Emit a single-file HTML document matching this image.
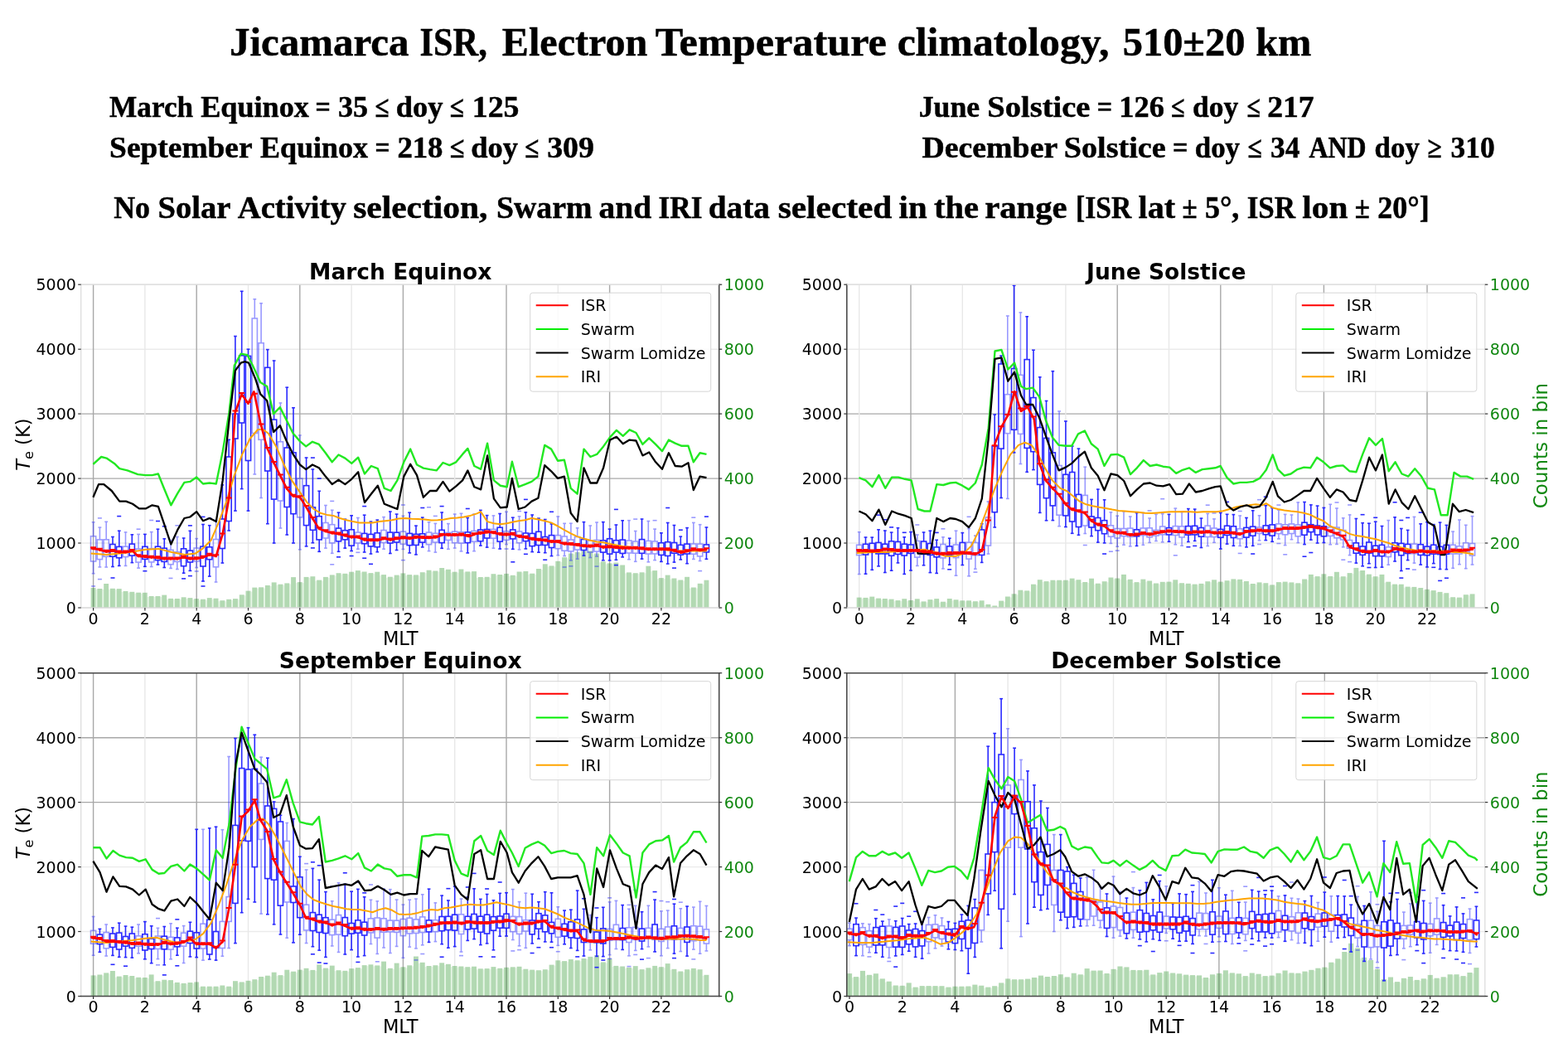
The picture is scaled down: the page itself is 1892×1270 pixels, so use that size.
<!DOCTYPE html>
<html><head><meta charset="utf-8"><title>Jicamarca ISR Electron Temperature climatology</title>
<style>html,body{margin:0;padding:0;background:#fff;}svg{display:block;}</style></head>
<body><svg width="1892" height="1270" viewBox="0 0 1892 1270">
<rect width="1892" height="1270" fill="#fff"/>
<text x="276.9" y="67" font-family='"Liberation Serif", "DejaVu Serif", serif' font-size="48.5" font-weight="bold" fill="#000" text-anchor="start" textLength="216.7" lengthAdjust="spacingAndGlyphs" stroke="#000" stroke-width="0.5">Jicamarca</text>
<text x="506.4" y="67" font-family='"Liberation Serif", "DejaVu Serif", serif' font-size="48.5" font-weight="bold" fill="#000" text-anchor="start" textLength="81.4" lengthAdjust="spacingAndGlyphs" stroke="#000" stroke-width="0.5">ISR,</text>
<text x="605.8" y="67" font-family='"Liberation Serif", "DejaVu Serif", serif' font-size="48.5" font-weight="bold" fill="#000" text-anchor="start" textLength="175.6" lengthAdjust="spacingAndGlyphs" stroke="#000" stroke-width="0.5">Electron</text>
<text x="790.7" y="67" font-family='"Liberation Serif", "DejaVu Serif", serif' font-size="48.5" font-weight="bold" fill="#000" text-anchor="start" textLength="279.2" lengthAdjust="spacingAndGlyphs" stroke="#000" stroke-width="0.5">Temperature</text>
<text x="1082.7" y="67" font-family='"Liberation Serif", "DejaVu Serif", serif' font-size="48.5" font-weight="bold" fill="#000" text-anchor="start" textLength="255.7" lengthAdjust="spacingAndGlyphs" stroke="#000" stroke-width="0.5">climatology,</text>
<text x="1354.7" y="67" font-family='"Liberation Serif", "DejaVu Serif", serif' font-size="48.5" font-weight="bold" fill="#000" text-anchor="start" textLength="147.7" lengthAdjust="spacingAndGlyphs" stroke="#000" stroke-width="0.5">510±20</text>
<text x="1515.2" y="67" font-family='"Liberation Serif", "DejaVu Serif", serif' font-size="48.5" font-weight="bold" fill="#000" text-anchor="start" textLength="67.2" lengthAdjust="spacingAndGlyphs" stroke="#000" stroke-width="0.5">km</text>
<text x="132.1" y="141" font-family='"Liberation Serif", "DejaVu Serif", serif' font-size="35.5" font-weight="bold" fill="#000" text-anchor="start" textLength="101.1" lengthAdjust="spacingAndGlyphs" stroke="#000" stroke-width="0.5">March</text>
<text x="242.2" y="141" font-family='"Liberation Serif", "DejaVu Serif", serif' font-size="35.5" font-weight="bold" fill="#000" text-anchor="start" textLength="130.6" lengthAdjust="spacingAndGlyphs" stroke="#000" stroke-width="0.5">Equinox</text>
<text x="380.5" y="141" font-family='"Liberation Serif", "DejaVu Serif", serif' font-size="35.5" font-weight="bold" fill="#000" text-anchor="start" textLength="18.3" lengthAdjust="spacingAndGlyphs" stroke="#000" stroke-width="0.5">=</text>
<text x="408.1" y="141" font-family='"Liberation Serif", "DejaVu Serif", serif' font-size="35.5" font-weight="bold" fill="#000" text-anchor="start" textLength="36.0" lengthAdjust="spacingAndGlyphs" stroke="#000" stroke-width="0.5">35</text>
<text x="452.5" y="141" font-family='"Liberation Serif", "DejaVu Serif", serif' font-size="35.5" font-weight="bold" fill="#000" text-anchor="start" textLength="17.0" lengthAdjust="spacingAndGlyphs" stroke="#000" stroke-width="0.5">≤</text>
<text x="477.8" y="141" font-family='"Liberation Serif", "DejaVu Serif", serif' font-size="35.5" font-weight="bold" fill="#000" text-anchor="start" textLength="56.7" lengthAdjust="spacingAndGlyphs" stroke="#000" stroke-width="0.5">doy</text>
<text x="542.8" y="141" font-family='"Liberation Serif", "DejaVu Serif", serif' font-size="35.5" font-weight="bold" fill="#000" text-anchor="start" textLength="17.1" lengthAdjust="spacingAndGlyphs" stroke="#000" stroke-width="0.5">≤</text>
<text x="569.8" y="141" font-family='"Liberation Serif", "DejaVu Serif", serif' font-size="35.5" font-weight="bold" fill="#000" text-anchor="start" textLength="56.7" lengthAdjust="spacingAndGlyphs" stroke="#000" stroke-width="0.5">125</text>
<text x="132.1" y="189.6" font-family='"Liberation Serif", "DejaVu Serif", serif' font-size="35.5" font-weight="bold" fill="#000" text-anchor="start" textLength="172.5" lengthAdjust="spacingAndGlyphs" stroke="#000" stroke-width="0.5">September</text>
<text x="313.9" y="189.6" font-family='"Liberation Serif", "DejaVu Serif", serif' font-size="35.5" font-weight="bold" fill="#000" text-anchor="start" textLength="130.2" lengthAdjust="spacingAndGlyphs" stroke="#000" stroke-width="0.5">Equinox</text>
<text x="452.5" y="189.6" font-family='"Liberation Serif", "DejaVu Serif", serif' font-size="35.5" font-weight="bold" fill="#000" text-anchor="start" textLength="18.0" lengthAdjust="spacingAndGlyphs" stroke="#000" stroke-width="0.5">=</text>
<text x="479.4" y="189.6" font-family='"Liberation Serif", "DejaVu Serif", serif' font-size="35.5" font-weight="bold" fill="#000" text-anchor="start" textLength="55.1" lengthAdjust="spacingAndGlyphs" stroke="#000" stroke-width="0.5">218</text>
<text x="542.8" y="189.6" font-family='"Liberation Serif", "DejaVu Serif", serif' font-size="35.5" font-weight="bold" fill="#000" text-anchor="start" textLength="17.7" lengthAdjust="spacingAndGlyphs" stroke="#000" stroke-width="0.5">≤</text>
<text x="568.2" y="189.6" font-family='"Liberation Serif", "DejaVu Serif", serif' font-size="35.5" font-weight="bold" fill="#000" text-anchor="start" textLength="56.7" lengthAdjust="spacingAndGlyphs" stroke="#000" stroke-width="0.5">doy</text>
<text x="633.2" y="189.6" font-family='"Liberation Serif", "DejaVu Serif", serif' font-size="35.5" font-weight="bold" fill="#000" text-anchor="start" textLength="17.1" lengthAdjust="spacingAndGlyphs" stroke="#000" stroke-width="0.5">≤</text>
<text x="660.2" y="189.6" font-family='"Liberation Serif", "DejaVu Serif", serif' font-size="35.5" font-weight="bold" fill="#000" text-anchor="start" textLength="56.7" lengthAdjust="spacingAndGlyphs" stroke="#000" stroke-width="0.5">309</text>
<text x="1108.7" y="141" font-family='"Liberation Serif", "DejaVu Serif", serif' font-size="35.5" font-weight="bold" fill="#000" text-anchor="start" textLength="73.5" lengthAdjust="spacingAndGlyphs" stroke="#000" stroke-width="0.5">June</text>
<text x="1191.3" y="141" font-family='"Liberation Serif", "DejaVu Serif", serif' font-size="35.5" font-weight="bold" fill="#000" text-anchor="start" textLength="124.1" lengthAdjust="spacingAndGlyphs" stroke="#000" stroke-width="0.5">Solstice</text>
<text x="1323.7" y="141" font-family='"Liberation Serif", "DejaVu Serif", serif' font-size="35.5" font-weight="bold" fill="#000" text-anchor="start" textLength="18.3" lengthAdjust="spacingAndGlyphs" stroke="#000" stroke-width="0.5">=</text>
<text x="1350.3" y="141" font-family='"Liberation Serif", "DejaVu Serif", serif' font-size="35.5" font-weight="bold" fill="#000" text-anchor="start" textLength="54.5" lengthAdjust="spacingAndGlyphs" stroke="#000" stroke-width="0.5">126</text>
<text x="1413.1" y="141" font-family='"Liberation Serif", "DejaVu Serif", serif' font-size="35.5" font-weight="bold" fill="#000" text-anchor="start" textLength="16.5" lengthAdjust="spacingAndGlyphs" stroke="#000" stroke-width="0.5">≤</text>
<text x="1439" y="141" font-family='"Liberation Serif", "DejaVu Serif", serif' font-size="35.5" font-weight="bold" fill="#000" text-anchor="start" textLength="55.2" lengthAdjust="spacingAndGlyphs" stroke="#000" stroke-width="0.5">doy</text>
<text x="1504.5" y="141" font-family='"Liberation Serif", "DejaVu Serif", serif' font-size="35.5" font-weight="bold" fill="#000" text-anchor="start" textLength="16.4" lengthAdjust="spacingAndGlyphs" stroke="#000" stroke-width="0.5">≤</text>
<text x="1529.2" y="141" font-family='"Liberation Serif", "DejaVu Serif", serif' font-size="35.5" font-weight="bold" fill="#000" text-anchor="start" textLength="56.4" lengthAdjust="spacingAndGlyphs" stroke="#000" stroke-width="0.5">217</text>
<text x="1112.5" y="189.6" font-family='"Liberation Serif", "DejaVu Serif", serif' font-size="35.5" font-weight="bold" fill="#000" text-anchor="start" textLength="163.7" lengthAdjust="spacingAndGlyphs" stroke="#000" stroke-width="0.5">December</text>
<text x="1283.8" y="189.6" font-family='"Liberation Serif", "DejaVu Serif", serif' font-size="35.5" font-weight="bold" fill="#000" text-anchor="start" textLength="122.9" lengthAdjust="spacingAndGlyphs" stroke="#000" stroke-width="0.5">Solstice</text>
<text x="1415" y="189.6" font-family='"Liberation Serif", "DejaVu Serif", serif' font-size="35.5" font-weight="bold" fill="#000" text-anchor="start" textLength="18.4" lengthAdjust="spacingAndGlyphs" stroke="#000" stroke-width="0.5">=</text>
<text x="1441.7" y="189.6" font-family='"Liberation Serif", "DejaVu Serif", serif' font-size="35.5" font-weight="bold" fill="#000" text-anchor="start" textLength="54.4" lengthAdjust="spacingAndGlyphs" stroke="#000" stroke-width="0.5">doy</text>
<text x="1505.6" y="189.6" font-family='"Liberation Serif", "DejaVu Serif", serif' font-size="35.5" font-weight="bold" fill="#000" text-anchor="start" textLength="17.2" lengthAdjust="spacingAndGlyphs" stroke="#000" stroke-width="0.5">≤</text>
<text x="1533" y="189.6" font-family='"Liberation Serif", "DejaVu Serif", serif' font-size="35.5" font-weight="bold" fill="#000" text-anchor="start" textLength="35.4" lengthAdjust="spacingAndGlyphs" stroke="#000" stroke-width="0.5">34</text>
<text x="1579.4" y="189.6" font-family='"Liberation Serif", "DejaVu Serif", serif' font-size="35.5" font-weight="bold" fill="#000" text-anchor="start" textLength="69.0" lengthAdjust="spacingAndGlyphs" stroke="#000" stroke-width="0.5">AND</text>
<text x="1658.6" y="189.6" font-family='"Liberation Serif", "DejaVu Serif", serif' font-size="35.5" font-weight="bold" fill="#000" text-anchor="start" textLength="54.4" lengthAdjust="spacingAndGlyphs" stroke="#000" stroke-width="0.5">doy</text>
<text x="1722.5" y="189.6" font-family='"Liberation Serif", "DejaVu Serif", serif' font-size="35.5" font-weight="bold" fill="#000" text-anchor="start" textLength="17.2" lengthAdjust="spacingAndGlyphs" stroke="#000" stroke-width="0.5">≥</text>
<text x="1750.6" y="189.6" font-family='"Liberation Serif", "DejaVu Serif", serif' font-size="35.5" font-weight="bold" fill="#000" text-anchor="start" textLength="53.0" lengthAdjust="spacingAndGlyphs" stroke="#000" stroke-width="0.5">310</text>
<text x="137.2" y="262.8" font-family='"Liberation Serif", "DejaVu Serif", serif' font-size="37.5" font-weight="bold" fill="#000" text-anchor="start" textLength="43.9" lengthAdjust="spacingAndGlyphs" stroke="#000" stroke-width="0.5">No</text>
<text x="190.5" y="262.8" font-family='"Liberation Serif", "DejaVu Serif", serif' font-size="37.5" font-weight="bold" fill="#000" text-anchor="start" textLength="87.9" lengthAdjust="spacingAndGlyphs" stroke="#000" stroke-width="0.5">Solar</text>
<text x="286.7" y="262.8" font-family='"Liberation Serif", "DejaVu Serif", serif' font-size="37.5" font-weight="bold" fill="#000" text-anchor="start" textLength="131.2" lengthAdjust="spacingAndGlyphs" stroke="#000" stroke-width="0.5">Activity</text>
<text x="426.2" y="262.8" font-family='"Liberation Serif", "DejaVu Serif", serif' font-size="37.5" font-weight="bold" fill="#000" text-anchor="start" textLength="162.3" lengthAdjust="spacingAndGlyphs" stroke="#000" stroke-width="0.5">selection,</text>
<text x="599" y="262.8" font-family='"Liberation Serif", "DejaVu Serif", serif' font-size="37.5" font-weight="bold" fill="#000" text-anchor="start" textLength="115.4" lengthAdjust="spacingAndGlyphs" stroke="#000" stroke-width="0.5">Swarm</text>
<text x="722.6" y="262.8" font-family='"Liberation Serif", "DejaVu Serif", serif' font-size="37.5" font-weight="bold" fill="#000" text-anchor="start" textLength="63.6" lengthAdjust="spacingAndGlyphs" stroke="#000" stroke-width="0.5">and</text>
<text x="794.5" y="262.8" font-family='"Liberation Serif", "DejaVu Serif", serif' font-size="37.5" font-weight="bold" fill="#000" text-anchor="start" textLength="53.0" lengthAdjust="spacingAndGlyphs" stroke="#000" stroke-width="0.5">IRI</text>
<text x="854.8" y="262.8" font-family='"Liberation Serif", "DejaVu Serif", serif' font-size="37.5" font-weight="bold" fill="#000" text-anchor="start" textLength="74.1" lengthAdjust="spacingAndGlyphs" stroke="#000" stroke-width="0.5">data</text>
<text x="938.7" y="262.8" font-family='"Liberation Serif", "DejaVu Serif", serif' font-size="37.5" font-weight="bold" fill="#000" text-anchor="start" textLength="137.6" lengthAdjust="spacingAndGlyphs" stroke="#000" stroke-width="0.5">selected</text>
<text x="1084.6" y="262.8" font-family='"Liberation Serif", "DejaVu Serif", serif' font-size="37.5" font-weight="bold" fill="#000" text-anchor="start" textLength="34.0" lengthAdjust="spacingAndGlyphs" stroke="#000" stroke-width="0.5">in</text>
<text x="1126.9" y="262.8" font-family='"Liberation Serif", "DejaVu Serif", serif' font-size="37.5" font-weight="bold" fill="#000" text-anchor="start" textLength="54.0" lengthAdjust="spacingAndGlyphs" stroke="#000" stroke-width="0.5">the</text>
<text x="1188.2" y="262.8" font-family='"Liberation Serif", "DejaVu Serif", serif' font-size="37.5" font-weight="bold" fill="#000" text-anchor="start" textLength="99.5" lengthAdjust="spacingAndGlyphs" stroke="#000" stroke-width="0.5">range</text>
<text x="1298.1" y="262.8" font-family='"Liberation Serif", "DejaVu Serif", serif' font-size="37.5" font-weight="bold" fill="#000" text-anchor="start" textLength="67.2" lengthAdjust="spacingAndGlyphs" stroke="#000" stroke-width="0.5">[ISR</text>
<text x="1373.6" y="262.8" font-family='"Liberation Serif", "DejaVu Serif", serif' font-size="37.5" font-weight="bold" fill="#000" text-anchor="start" textLength="44.5" lengthAdjust="spacingAndGlyphs" stroke="#000" stroke-width="0.5">lat</text>
<text x="1426.5" y="262.8" font-family='"Liberation Serif", "DejaVu Serif", serif' font-size="37.5" font-weight="bold" fill="#000" text-anchor="start" textLength="18.1" lengthAdjust="spacingAndGlyphs" stroke="#000" stroke-width="0.5">±</text>
<text x="1453.9" y="262.8" font-family='"Liberation Serif", "DejaVu Serif", serif' font-size="37.5" font-weight="bold" fill="#000" text-anchor="start" textLength="41.4" lengthAdjust="spacingAndGlyphs" stroke="#000" stroke-width="0.5">5°,</text>
<text x="1504.7" y="262.8" font-family='"Liberation Serif", "DejaVu Serif", serif' font-size="37.5" font-weight="bold" fill="#000" text-anchor="start" textLength="58.3" lengthAdjust="spacingAndGlyphs" stroke="#000" stroke-width="0.5">ISR</text>
<text x="1571.3" y="262.8" font-family='"Liberation Serif", "DejaVu Serif", serif' font-size="37.5" font-weight="bold" fill="#000" text-anchor="start" textLength="55.1" lengthAdjust="spacingAndGlyphs" stroke="#000" stroke-width="0.5">lon</text>
<text x="1634.7" y="262.8" font-family='"Liberation Serif", "DejaVu Serif", serif' font-size="37.5" font-weight="bold" fill="#000" text-anchor="start" textLength="18.1" lengthAdjust="spacingAndGlyphs" stroke="#000" stroke-width="0.5">±</text>
<text x="1662.2" y="262.8" font-family='"Liberation Serif", "DejaVu Serif", serif' font-size="37.5" font-weight="bold" fill="#000" text-anchor="start" textLength="62.5" lengthAdjust="spacingAndGlyphs" stroke="#000" stroke-width="0.5">20°]</text>
<line x1="97.7" y1="733" x2="867.7" y2="733" stroke="#ebebeb" stroke-width="1.4"/>
<line x1="97.7" y1="655" x2="867.7" y2="655" stroke="#ebebeb" stroke-width="1.4"/>
<line x1="97.7" y1="577.1" x2="867.7" y2="577.1" stroke="#a8a8a8" stroke-width="1.4"/>
<line x1="97.7" y1="499.1" x2="867.7" y2="499.1" stroke="#a8a8a8" stroke-width="1.4"/>
<line x1="97.7" y1="421.2" x2="867.7" y2="421.2" stroke="#ebebeb" stroke-width="1.4"/>
<line x1="97.7" y1="343.2" x2="867.7" y2="343.2" stroke="#ebebeb" stroke-width="1.4"/>
<line x1="112.6" y1="343.2" x2="112.6" y2="733" stroke="#a8a8a8" stroke-width="1.4"/>
<line x1="174.9" y1="343.2" x2="174.9" y2="733" stroke="#e8e8e8" stroke-width="1.4"/>
<line x1="237.2" y1="343.2" x2="237.2" y2="733" stroke="#a8a8a8" stroke-width="1.4"/>
<line x1="299.5" y1="343.2" x2="299.5" y2="733" stroke="#e8e8e8" stroke-width="1.4"/>
<line x1="361.8" y1="343.2" x2="361.8" y2="733" stroke="#a8a8a8" stroke-width="1.4"/>
<line x1="424.1" y1="343.2" x2="424.1" y2="733" stroke="#e8e8e8" stroke-width="1.4"/>
<line x1="486.4" y1="343.2" x2="486.4" y2="733" stroke="#a8a8a8" stroke-width="1.4"/>
<line x1="548.7" y1="343.2" x2="548.7" y2="733" stroke="#e8e8e8" stroke-width="1.4"/>
<line x1="611" y1="343.2" x2="611" y2="733" stroke="#a8a8a8" stroke-width="1.4"/>
<line x1="673.3" y1="343.2" x2="673.3" y2="733" stroke="#e8e8e8" stroke-width="1.4"/>
<line x1="735.6" y1="343.2" x2="735.6" y2="733" stroke="#a8a8a8" stroke-width="1.4"/>
<line x1="797.9" y1="343.2" x2="797.9" y2="733" stroke="#e8e8e8" stroke-width="1.4"/>
<rect x="109.6" y="709" width="5.9" height="24" fill="#008000" fill-opacity="0.3"/>
<rect x="115.6" y="711" width="1.9" height="22" fill="#00a000" fill-opacity="0.1"/>
<rect x="117.4" y="710" width="5.9" height="23" fill="#008000" fill-opacity="0.3"/>
<rect x="123.3" y="711" width="1.9" height="22" fill="#00a000" fill-opacity="0.1"/>
<rect x="125.2" y="704" width="5.9" height="29" fill="#008000" fill-opacity="0.3"/>
<rect x="131.1" y="710.8" width="1.9" height="22.2" fill="#00a000" fill-opacity="0.1"/>
<rect x="133" y="709.8" width="5.9" height="23.2" fill="#008000" fill-opacity="0.3"/>
<rect x="138.9" y="711.1" width="1.9" height="21.9" fill="#00a000" fill-opacity="0.1"/>
<rect x="140.8" y="710.1" width="5.9" height="22.9" fill="#008000" fill-opacity="0.3"/>
<rect x="146.7" y="714" width="1.9" height="19" fill="#00a000" fill-opacity="0.1"/>
<rect x="148.6" y="713" width="5.9" height="20" fill="#008000" fill-opacity="0.3"/>
<rect x="154.5" y="714.8" width="1.9" height="18.2" fill="#00a000" fill-opacity="0.1"/>
<rect x="156.4" y="713.8" width="5.9" height="19.2" fill="#008000" fill-opacity="0.3"/>
<rect x="162.3" y="715.7" width="1.9" height="17.3" fill="#00a000" fill-opacity="0.1"/>
<rect x="164.2" y="714.7" width="5.9" height="18.3" fill="#008000" fill-opacity="0.3"/>
<rect x="170.1" y="715.8" width="1.9" height="17.2" fill="#00a000" fill-opacity="0.1"/>
<rect x="171.9" y="714.8" width="5.9" height="18.2" fill="#008000" fill-opacity="0.3"/>
<rect x="177.9" y="720" width="1.9" height="13" fill="#00a000" fill-opacity="0.1"/>
<rect x="179.7" y="719" width="5.9" height="14" fill="#008000" fill-opacity="0.3"/>
<rect x="185.6" y="720" width="1.9" height="13" fill="#00a000" fill-opacity="0.1"/>
<rect x="187.5" y="719" width="5.9" height="14" fill="#008000" fill-opacity="0.3"/>
<rect x="193.4" y="720" width="1.9" height="13" fill="#00a000" fill-opacity="0.1"/>
<rect x="195.3" y="717.6" width="5.9" height="15.4" fill="#008000" fill-opacity="0.3"/>
<rect x="201.2" y="722.9" width="1.9" height="10.1" fill="#00a000" fill-opacity="0.1"/>
<rect x="203.1" y="721.9" width="5.9" height="11.1" fill="#008000" fill-opacity="0.3"/>
<rect x="209" y="723" width="1.9" height="10" fill="#00a000" fill-opacity="0.1"/>
<rect x="210.9" y="722" width="5.9" height="11" fill="#008000" fill-opacity="0.3"/>
<rect x="216.8" y="723" width="1.9" height="10" fill="#00a000" fill-opacity="0.1"/>
<rect x="218.7" y="720.3" width="5.9" height="12.7" fill="#008000" fill-opacity="0.3"/>
<rect x="224.6" y="722.1" width="1.9" height="10.9" fill="#00a000" fill-opacity="0.1"/>
<rect x="226.5" y="721.1" width="5.9" height="11.9" fill="#008000" fill-opacity="0.3"/>
<rect x="232.4" y="723.1" width="1.9" height="9.9" fill="#00a000" fill-opacity="0.1"/>
<rect x="234.2" y="722.1" width="5.9" height="10.9" fill="#008000" fill-opacity="0.3"/>
<rect x="240.2" y="723.7" width="1.9" height="9.3" fill="#00a000" fill-opacity="0.1"/>
<rect x="242" y="722.7" width="5.9" height="10.3" fill="#008000" fill-opacity="0.3"/>
<rect x="247.9" y="723.7" width="1.9" height="9.3" fill="#00a000" fill-opacity="0.1"/>
<rect x="249.8" y="721.1" width="5.9" height="11.9" fill="#008000" fill-opacity="0.3"/>
<rect x="255.7" y="722.7" width="1.9" height="10.3" fill="#00a000" fill-opacity="0.1"/>
<rect x="257.6" y="721.7" width="5.9" height="11.3" fill="#008000" fill-opacity="0.3"/>
<rect x="263.5" y="725.2" width="1.9" height="7.8" fill="#00a000" fill-opacity="0.1"/>
<rect x="265.4" y="724.2" width="5.9" height="8.8" fill="#008000" fill-opacity="0.3"/>
<rect x="271.3" y="725.2" width="1.9" height="7.8" fill="#00a000" fill-opacity="0.1"/>
<rect x="273.2" y="722.8" width="5.9" height="10.2" fill="#008000" fill-opacity="0.3"/>
<rect x="279.1" y="723.8" width="1.9" height="9.2" fill="#00a000" fill-opacity="0.1"/>
<rect x="281" y="722.1" width="5.9" height="10.9" fill="#008000" fill-opacity="0.3"/>
<rect x="286.9" y="723.1" width="1.9" height="9.9" fill="#00a000" fill-opacity="0.1"/>
<rect x="288.8" y="717.3" width="5.9" height="15.7" fill="#008000" fill-opacity="0.3"/>
<rect x="294.7" y="718.3" width="1.9" height="14.7" fill="#00a000" fill-opacity="0.1"/>
<rect x="296.5" y="712.6" width="5.9" height="20.4" fill="#008000" fill-opacity="0.3"/>
<rect x="302.5" y="713.6" width="1.9" height="19.4" fill="#00a000" fill-opacity="0.1"/>
<rect x="304.3" y="708.6" width="5.9" height="24.4" fill="#008000" fill-opacity="0.3"/>
<rect x="310.2" y="709.6" width="1.9" height="23.4" fill="#00a000" fill-opacity="0.1"/>
<rect x="312.1" y="708.3" width="5.9" height="24.7" fill="#008000" fill-opacity="0.3"/>
<rect x="318" y="709.3" width="1.9" height="23.7" fill="#00a000" fill-opacity="0.1"/>
<rect x="319.9" y="706" width="5.9" height="27" fill="#008000" fill-opacity="0.3"/>
<rect x="325.8" y="707" width="1.9" height="26" fill="#00a000" fill-opacity="0.1"/>
<rect x="327.7" y="702.4" width="5.9" height="30.6" fill="#008000" fill-opacity="0.3"/>
<rect x="333.6" y="705.7" width="1.9" height="27.3" fill="#00a000" fill-opacity="0.1"/>
<rect x="335.5" y="704.7" width="5.9" height="28.3" fill="#008000" fill-opacity="0.3"/>
<rect x="341.4" y="705.7" width="1.9" height="27.3" fill="#00a000" fill-opacity="0.1"/>
<rect x="343.3" y="703.4" width="5.9" height="29.6" fill="#008000" fill-opacity="0.3"/>
<rect x="349.2" y="704.4" width="1.9" height="28.6" fill="#00a000" fill-opacity="0.1"/>
<rect x="351.1" y="696.1" width="5.9" height="36.9" fill="#008000" fill-opacity="0.3"/>
<rect x="357" y="703.1" width="1.9" height="29.9" fill="#00a000" fill-opacity="0.1"/>
<rect x="358.8" y="702.1" width="5.9" height="30.9" fill="#008000" fill-opacity="0.3"/>
<rect x="364.8" y="703.1" width="1.9" height="29.9" fill="#00a000" fill-opacity="0.1"/>
<rect x="366.6" y="695.9" width="5.9" height="37.1" fill="#008000" fill-opacity="0.3"/>
<rect x="372.5" y="696.9" width="1.9" height="36.1" fill="#00a000" fill-opacity="0.1"/>
<rect x="374.4" y="695.2" width="5.9" height="37.8" fill="#008000" fill-opacity="0.3"/>
<rect x="380.3" y="700.6" width="1.9" height="32.4" fill="#00a000" fill-opacity="0.1"/>
<rect x="382.2" y="699.6" width="5.9" height="33.4" fill="#008000" fill-opacity="0.3"/>
<rect x="388.1" y="700.6" width="1.9" height="32.4" fill="#00a000" fill-opacity="0.1"/>
<rect x="390" y="695.9" width="5.9" height="37.1" fill="#008000" fill-opacity="0.3"/>
<rect x="395.9" y="696.9" width="1.9" height="36.1" fill="#00a000" fill-opacity="0.1"/>
<rect x="397.8" y="693.4" width="5.9" height="39.6" fill="#008000" fill-opacity="0.3"/>
<rect x="403.7" y="694.4" width="1.9" height="38.6" fill="#00a000" fill-opacity="0.1"/>
<rect x="405.6" y="691.2" width="5.9" height="41.8" fill="#008000" fill-opacity="0.3"/>
<rect x="411.5" y="692.8" width="1.9" height="40.2" fill="#00a000" fill-opacity="0.1"/>
<rect x="413.4" y="691.8" width="5.9" height="41.2" fill="#008000" fill-opacity="0.3"/>
<rect x="419.3" y="692.8" width="1.9" height="40.2" fill="#00a000" fill-opacity="0.1"/>
<rect x="421.1" y="689.7" width="5.9" height="43.3" fill="#008000" fill-opacity="0.3"/>
<rect x="427.1" y="690.7" width="1.9" height="42.3" fill="#00a000" fill-opacity="0.1"/>
<rect x="428.9" y="688.1" width="5.9" height="44.9" fill="#008000" fill-opacity="0.3"/>
<rect x="434.8" y="690.5" width="1.9" height="42.5" fill="#00a000" fill-opacity="0.1"/>
<rect x="436.7" y="689.5" width="5.9" height="43.5" fill="#008000" fill-opacity="0.3"/>
<rect x="442.6" y="692.1" width="1.9" height="40.9" fill="#00a000" fill-opacity="0.1"/>
<rect x="444.5" y="691.1" width="5.9" height="41.9" fill="#008000" fill-opacity="0.3"/>
<rect x="450.4" y="692.1" width="1.9" height="40.9" fill="#00a000" fill-opacity="0.1"/>
<rect x="452.3" y="689.7" width="5.9" height="43.3" fill="#008000" fill-opacity="0.3"/>
<rect x="458.2" y="694.1" width="1.9" height="38.9" fill="#00a000" fill-opacity="0.1"/>
<rect x="460.1" y="693.1" width="5.9" height="39.9" fill="#008000" fill-opacity="0.3"/>
<rect x="466" y="696.7" width="1.9" height="36.3" fill="#00a000" fill-opacity="0.1"/>
<rect x="467.9" y="695.7" width="5.9" height="37.3" fill="#008000" fill-opacity="0.3"/>
<rect x="473.8" y="696.7" width="1.9" height="36.3" fill="#00a000" fill-opacity="0.1"/>
<rect x="475.7" y="693.6" width="5.9" height="39.4" fill="#008000" fill-opacity="0.3"/>
<rect x="481.6" y="694.6" width="1.9" height="38.4" fill="#00a000" fill-opacity="0.1"/>
<rect x="483.4" y="691.4" width="5.9" height="41.6" fill="#008000" fill-opacity="0.3"/>
<rect x="489.4" y="694.1" width="1.9" height="38.9" fill="#00a000" fill-opacity="0.1"/>
<rect x="491.2" y="693.1" width="5.9" height="39.9" fill="#008000" fill-opacity="0.3"/>
<rect x="497.1" y="694.4" width="1.9" height="38.6" fill="#00a000" fill-opacity="0.1"/>
<rect x="499" y="693.4" width="5.9" height="39.6" fill="#008000" fill-opacity="0.3"/>
<rect x="504.9" y="694.4" width="1.9" height="38.6" fill="#00a000" fill-opacity="0.1"/>
<rect x="506.8" y="690.2" width="5.9" height="42.8" fill="#008000" fill-opacity="0.3"/>
<rect x="512.7" y="691.2" width="1.9" height="41.8" fill="#00a000" fill-opacity="0.1"/>
<rect x="514.6" y="687.7" width="5.9" height="45.3" fill="#008000" fill-opacity="0.3"/>
<rect x="520.5" y="689.5" width="1.9" height="43.5" fill="#00a000" fill-opacity="0.1"/>
<rect x="522.4" y="688.5" width="5.9" height="44.5" fill="#008000" fill-opacity="0.3"/>
<rect x="528.3" y="689.5" width="1.9" height="43.5" fill="#00a000" fill-opacity="0.1"/>
<rect x="530.2" y="685" width="5.9" height="48" fill="#008000" fill-opacity="0.3"/>
<rect x="536.1" y="687.8" width="1.9" height="45.2" fill="#00a000" fill-opacity="0.1"/>
<rect x="538" y="686.8" width="5.9" height="46.2" fill="#008000" fill-opacity="0.3"/>
<rect x="543.9" y="690.7" width="1.9" height="42.3" fill="#00a000" fill-opacity="0.1"/>
<rect x="545.7" y="689.7" width="5.9" height="43.3" fill="#008000" fill-opacity="0.3"/>
<rect x="551.7" y="690.7" width="1.9" height="42.3" fill="#00a000" fill-opacity="0.1"/>
<rect x="553.5" y="686.5" width="5.9" height="46.5" fill="#008000" fill-opacity="0.3"/>
<rect x="559.4" y="690.4" width="1.9" height="42.6" fill="#00a000" fill-opacity="0.1"/>
<rect x="561.3" y="689.4" width="5.9" height="43.6" fill="#008000" fill-opacity="0.3"/>
<rect x="567.2" y="690.4" width="1.9" height="42.6" fill="#00a000" fill-opacity="0.1"/>
<rect x="569.1" y="689.1" width="5.9" height="43.9" fill="#008000" fill-opacity="0.3"/>
<rect x="575" y="697" width="1.9" height="36" fill="#00a000" fill-opacity="0.1"/>
<rect x="576.9" y="696" width="5.9" height="37" fill="#008000" fill-opacity="0.3"/>
<rect x="582.8" y="697" width="1.9" height="36" fill="#00a000" fill-opacity="0.1"/>
<rect x="584.7" y="695.8" width="5.9" height="37.2" fill="#008000" fill-opacity="0.3"/>
<rect x="590.6" y="696.8" width="1.9" height="36.2" fill="#00a000" fill-opacity="0.1"/>
<rect x="592.5" y="692.2" width="5.9" height="40.8" fill="#008000" fill-opacity="0.3"/>
<rect x="598.4" y="694" width="1.9" height="39" fill="#00a000" fill-opacity="0.1"/>
<rect x="600.3" y="693" width="5.9" height="40" fill="#008000" fill-opacity="0.3"/>
<rect x="606.2" y="694" width="1.9" height="39" fill="#00a000" fill-opacity="0.1"/>
<rect x="608" y="691.9" width="5.9" height="41.1" fill="#008000" fill-opacity="0.3"/>
<rect x="614" y="694.8" width="1.9" height="38.2" fill="#00a000" fill-opacity="0.1"/>
<rect x="615.8" y="693.8" width="5.9" height="39.2" fill="#008000" fill-opacity="0.3"/>
<rect x="621.7" y="694.8" width="1.9" height="38.2" fill="#00a000" fill-opacity="0.1"/>
<rect x="623.6" y="689.5" width="5.9" height="43.5" fill="#008000" fill-opacity="0.3"/>
<rect x="629.5" y="690.5" width="1.9" height="42.5" fill="#00a000" fill-opacity="0.1"/>
<rect x="631.4" y="689" width="5.9" height="44" fill="#008000" fill-opacity="0.3"/>
<rect x="637.3" y="692.7" width="1.9" height="40.3" fill="#00a000" fill-opacity="0.1"/>
<rect x="639.2" y="691.7" width="5.9" height="41.3" fill="#008000" fill-opacity="0.3"/>
<rect x="645.1" y="692.7" width="1.9" height="40.3" fill="#00a000" fill-opacity="0.1"/>
<rect x="647" y="686" width="5.9" height="47" fill="#008000" fill-opacity="0.3"/>
<rect x="652.9" y="687" width="1.9" height="46" fill="#00a000" fill-opacity="0.1"/>
<rect x="654.8" y="680.3" width="5.9" height="52.7" fill="#008000" fill-opacity="0.3"/>
<rect x="660.7" y="683.4" width="1.9" height="49.6" fill="#00a000" fill-opacity="0.1"/>
<rect x="662.6" y="682.4" width="5.9" height="50.6" fill="#008000" fill-opacity="0.3"/>
<rect x="668.5" y="683.4" width="1.9" height="49.6" fill="#00a000" fill-opacity="0.1"/>
<rect x="670.3" y="676.8" width="5.9" height="56.2" fill="#008000" fill-opacity="0.3"/>
<rect x="676.3" y="677.8" width="1.9" height="55.2" fill="#00a000" fill-opacity="0.1"/>
<rect x="678.1" y="672.2" width="5.9" height="60.8" fill="#008000" fill-opacity="0.3"/>
<rect x="684" y="673.2" width="1.9" height="59.8" fill="#00a000" fill-opacity="0.1"/>
<rect x="685.9" y="667.5" width="5.9" height="65.5" fill="#008000" fill-opacity="0.3"/>
<rect x="691.8" y="668.5" width="1.9" height="64.5" fill="#00a000" fill-opacity="0.1"/>
<rect x="693.7" y="666" width="5.9" height="67" fill="#008000" fill-opacity="0.3"/>
<rect x="699.6" y="667" width="1.9" height="66" fill="#00a000" fill-opacity="0.1"/>
<rect x="701.5" y="664.4" width="5.9" height="68.6" fill="#008000" fill-opacity="0.3"/>
<rect x="707.4" y="665.4" width="1.9" height="67.6" fill="#00a000" fill-opacity="0.1"/>
<rect x="709.3" y="664.4" width="5.9" height="68.6" fill="#008000" fill-opacity="0.3"/>
<rect x="715.2" y="668.5" width="1.9" height="64.5" fill="#00a000" fill-opacity="0.1"/>
<rect x="717.1" y="667.5" width="5.9" height="65.5" fill="#008000" fill-opacity="0.3"/>
<rect x="723" y="678.3" width="1.9" height="54.7" fill="#00a000" fill-opacity="0.1"/>
<rect x="724.9" y="677.3" width="5.9" height="55.7" fill="#008000" fill-opacity="0.3"/>
<rect x="730.8" y="680.4" width="1.9" height="52.6" fill="#00a000" fill-opacity="0.1"/>
<rect x="732.6" y="679.4" width="5.9" height="53.6" fill="#008000" fill-opacity="0.3"/>
<rect x="738.6" y="680.4" width="1.9" height="52.6" fill="#00a000" fill-opacity="0.1"/>
<rect x="740.4" y="678.6" width="5.9" height="54.4" fill="#008000" fill-opacity="0.3"/>
<rect x="746.3" y="682.5" width="1.9" height="50.5" fill="#00a000" fill-opacity="0.1"/>
<rect x="748.2" y="681.5" width="5.9" height="51.5" fill="#008000" fill-opacity="0.3"/>
<rect x="754.1" y="691.4" width="1.9" height="41.6" fill="#00a000" fill-opacity="0.1"/>
<rect x="756" y="690.4" width="5.9" height="42.6" fill="#008000" fill-opacity="0.3"/>
<rect x="761.9" y="692.2" width="1.9" height="40.8" fill="#00a000" fill-opacity="0.1"/>
<rect x="763.8" y="691.2" width="5.9" height="41.8" fill="#008000" fill-opacity="0.3"/>
<rect x="769.7" y="692.2" width="1.9" height="40.8" fill="#00a000" fill-opacity="0.1"/>
<rect x="771.6" y="690.3" width="5.9" height="42.7" fill="#008000" fill-opacity="0.3"/>
<rect x="777.5" y="691.3" width="1.9" height="41.7" fill="#00a000" fill-opacity="0.1"/>
<rect x="779.4" y="682.7" width="5.9" height="50.3" fill="#008000" fill-opacity="0.3"/>
<rect x="785.3" y="689.1" width="1.9" height="43.9" fill="#00a000" fill-opacity="0.1"/>
<rect x="787.2" y="688.1" width="5.9" height="44.9" fill="#008000" fill-opacity="0.3"/>
<rect x="793.1" y="698.1" width="1.9" height="34.9" fill="#00a000" fill-opacity="0.1"/>
<rect x="794.9" y="697.1" width="5.9" height="35.9" fill="#008000" fill-opacity="0.3"/>
<rect x="800.9" y="698.1" width="1.9" height="34.9" fill="#00a000" fill-opacity="0.1"/>
<rect x="802.7" y="693.6" width="5.9" height="39.4" fill="#008000" fill-opacity="0.3"/>
<rect x="808.6" y="698.5" width="1.9" height="34.5" fill="#00a000" fill-opacity="0.1"/>
<rect x="810.5" y="697.5" width="5.9" height="35.5" fill="#008000" fill-opacity="0.3"/>
<rect x="816.4" y="700.5" width="1.9" height="32.5" fill="#00a000" fill-opacity="0.1"/>
<rect x="818.3" y="699.5" width="5.9" height="33.5" fill="#008000" fill-opacity="0.3"/>
<rect x="824.2" y="700.5" width="1.9" height="32.5" fill="#00a000" fill-opacity="0.1"/>
<rect x="826.1" y="695.8" width="5.9" height="37.2" fill="#008000" fill-opacity="0.3"/>
<rect x="832" y="709.5" width="1.9" height="23.5" fill="#00a000" fill-opacity="0.1"/>
<rect x="833.9" y="708.5" width="5.9" height="24.5" fill="#008000" fill-opacity="0.3"/>
<rect x="839.8" y="709.5" width="1.9" height="23.5" fill="#00a000" fill-opacity="0.1"/>
<rect x="841.7" y="703.8" width="5.9" height="29.2" fill="#008000" fill-opacity="0.3"/>
<rect x="847.6" y="704.8" width="1.9" height="28.2" fill="#00a000" fill-opacity="0.1"/>
<rect x="849.5" y="699.7" width="5.9" height="33.3" fill="#008000" fill-opacity="0.3"/>
<g stroke="#1f1fff" stroke-width="1.6" opacity="0.45"><line x1="112.6" y1="629.8" x2="112.6" y2="646.7"/><line x1="112.6" y1="677" x2="112.6" y2="691.7"/><line x1="110.7" y1="629.8" x2="114.5" y2="629.8"/><line x1="110.7" y1="691.7" x2="114.5" y2="691.7"/><rect x="109.5" y="646.7" width="6.2" height="30.3" fill="none"/><line x1="110.1" y1="707" x2="115.1" y2="707"/></g>
<g stroke="#1f1fff" stroke-width="1.6" opacity="0.45"><line x1="120.4" y1="636.1" x2="120.4" y2="650.9"/><line x1="120.4" y1="674.6" x2="120.4" y2="683.9"/><line x1="118.5" y1="636.1" x2="122.3" y2="636.1"/><line x1="118.5" y1="683.9" x2="122.3" y2="683.9"/><rect x="117.3" y="650.9" width="6.2" height="23.7" fill="none"/><line x1="117.9" y1="624.9" x2="122.9" y2="624.9"/><line x1="117.9" y1="698.6" x2="122.9" y2="698.6"/></g>
<g stroke="#1f1fff" stroke-width="1.6" opacity="0.45"><line x1="128.2" y1="629.3" x2="128.2" y2="650.8"/><line x1="128.2" y1="671.2" x2="128.2" y2="684"/><line x1="126.3" y1="629.3" x2="130" y2="629.3"/><line x1="126.3" y1="684" x2="130" y2="684"/><rect x="125.1" y="650.8" width="6.2" height="20.5" fill="none"/></g>
<g stroke="#1f1fff" stroke-width="1.6" opacity="0.95"><line x1="136" y1="647.5" x2="136" y2="656.5"/><line x1="136" y1="671.2" x2="136" y2="683.5"/><line x1="134.1" y1="647.5" x2="137.8" y2="647.5"/><line x1="134.1" y1="683.5" x2="137.8" y2="683.5"/><rect x="132.8" y="656.5" width="6.2" height="14.7" fill="none"/><line x1="133.5" y1="697" x2="138.5" y2="697"/></g>
<g stroke="#1f1fff" stroke-width="1.6" opacity="0.95"><line x1="143.8" y1="640.2" x2="143.8" y2="659.4"/><line x1="143.8" y1="672.8" x2="143.8" y2="682.4"/><line x1="141.9" y1="640.2" x2="145.6" y2="640.2"/><line x1="141.9" y1="682.4" x2="145.6" y2="682.4"/><rect x="140.6" y="659.4" width="6.2" height="13.4" fill="none"/><line x1="141.2" y1="622.6" x2="146.2" y2="622.6"/></g>
<g stroke="#1f1fff" stroke-width="1.6" opacity="0.45"><line x1="151.5" y1="641.9" x2="151.5" y2="659.2"/><line x1="151.5" y1="671.6" x2="151.5" y2="682.4"/><line x1="149.7" y1="641.9" x2="153.4" y2="641.9"/><line x1="149.7" y1="682.4" x2="153.4" y2="682.4"/><rect x="148.4" y="659.2" width="6.2" height="12.4" fill="none"/></g>
<g stroke="#1f1fff" stroke-width="1.6" opacity="0.95"><line x1="159.3" y1="644.8" x2="159.3" y2="656.1"/><line x1="159.3" y1="670.1" x2="159.3" y2="678.6"/><line x1="157.5" y1="644.8" x2="161.2" y2="644.8"/><line x1="157.5" y1="678.6" x2="161.2" y2="678.6"/><rect x="156.2" y="656.1" width="6.2" height="14" fill="none"/></g>
<g stroke="#1f1fff" stroke-width="1.6" opacity="0.45"><line x1="167.1" y1="644.4" x2="167.1" y2="662"/><line x1="167.1" y1="678.2" x2="167.1" y2="685.1"/><line x1="165.2" y1="644.4" x2="169" y2="644.4"/><line x1="165.2" y1="685.1" x2="169" y2="685.1"/><rect x="164" y="662" width="6.2" height="16.1" fill="none"/><line x1="164.6" y1="638.2" x2="169.6" y2="638.2"/></g>
<g stroke="#1f1fff" stroke-width="1.6" opacity="0.95"><line x1="174.9" y1="644.4" x2="174.9" y2="659.3"/><line x1="174.9" y1="674.4" x2="174.9" y2="683.3"/><line x1="173" y1="644.4" x2="176.8" y2="644.4"/><line x1="173" y1="683.3" x2="176.8" y2="683.3"/><rect x="171.8" y="659.3" width="6.2" height="15.1" fill="none"/><line x1="172.4" y1="688.7" x2="177.4" y2="688.7"/></g>
<g stroke="#1f1fff" stroke-width="1.6" opacity="0.45"><line x1="182.7" y1="641.6" x2="182.7" y2="661.6"/><line x1="182.7" y1="677.9" x2="182.7" y2="683.5"/><line x1="180.8" y1="641.6" x2="184.6" y2="641.6"/><line x1="180.8" y1="683.5" x2="184.6" y2="683.5"/><rect x="179.6" y="661.6" width="6.2" height="16.3" fill="none"/><line x1="180.2" y1="627.5" x2="185.2" y2="627.5"/></g>
<g stroke="#1f1fff" stroke-width="1.6" opacity="0.95"><line x1="190.5" y1="638.2" x2="190.5" y2="659.2"/><line x1="190.5" y1="675.6" x2="190.5" y2="681"/><line x1="188.6" y1="638.2" x2="192.3" y2="638.2"/><line x1="188.6" y1="681" x2="192.3" y2="681"/><rect x="187.4" y="659.2" width="6.2" height="16.4" fill="none"/><line x1="188" y1="628.5" x2="193" y2="628.5"/></g>
<g stroke="#1f1fff" stroke-width="1.6" opacity="0.95"><line x1="198.3" y1="649.8" x2="198.3" y2="661.2"/><line x1="198.3" y1="677.4" x2="198.3" y2="684.5"/><line x1="196.4" y1="649.8" x2="200.1" y2="649.8"/><line x1="196.4" y1="684.5" x2="200.1" y2="684.5"/><rect x="195.1" y="661.2" width="6.2" height="16.2" fill="none"/><line x1="195.8" y1="634.8" x2="200.8" y2="634.8"/></g>
<g stroke="#1f1fff" stroke-width="1.6" opacity="0.45"><line x1="206" y1="651.6" x2="206" y2="663.3"/><line x1="206" y1="680.7" x2="206" y2="685.4"/><line x1="204.2" y1="651.6" x2="207.9" y2="651.6"/><line x1="204.2" y1="685.4" x2="207.9" y2="685.4"/><rect x="202.9" y="663.3" width="6.2" height="17.4" fill="none"/><line x1="203.5" y1="697.4" x2="208.5" y2="697.4"/></g>
<g stroke="#1f1fff" stroke-width="1.6" opacity="0.45"><line x1="213.8" y1="647.5" x2="213.8" y2="665.8"/><line x1="213.8" y1="677.4" x2="213.8" y2="686.5"/><line x1="212" y1="647.5" x2="215.7" y2="647.5"/><line x1="212" y1="686.5" x2="215.7" y2="686.5"/><rect x="210.7" y="665.8" width="6.2" height="11.6" fill="none"/><line x1="211.3" y1="633.8" x2="216.3" y2="633.8"/></g>
<g stroke="#1f1fff" stroke-width="1.6" opacity="0.95"><line x1="221.6" y1="649" x2="221.6" y2="661.8"/><line x1="221.6" y1="682.7" x2="221.6" y2="691.2"/><line x1="219.8" y1="649" x2="223.5" y2="649"/><line x1="219.8" y1="691.2" x2="223.5" y2="691.2"/><rect x="218.5" y="661.8" width="6.2" height="20.9" fill="none"/><line x1="219.1" y1="697.9" x2="224.1" y2="697.9"/></g>
<g stroke="#1f1fff" stroke-width="1.6" opacity="0.95"><line x1="229.4" y1="640.3" x2="229.4" y2="664.1"/><line x1="229.4" y1="678" x2="229.4" y2="688.4"/><line x1="227.5" y1="640.3" x2="231.3" y2="640.3"/><line x1="227.5" y1="688.4" x2="231.3" y2="688.4"/><rect x="226.3" y="664.1" width="6.2" height="13.9" fill="none"/><line x1="226.9" y1="633.9" x2="231.9" y2="633.9"/><line x1="226.9" y1="694.6" x2="231.9" y2="694.6"/></g>
<g stroke="#1f1fff" stroke-width="1.6" opacity="0.45"><line x1="237.2" y1="649.6" x2="237.2" y2="661"/><line x1="237.2" y1="677" x2="237.2" y2="684.5"/><line x1="235.3" y1="649.6" x2="239.1" y2="649.6"/><line x1="235.3" y1="684.5" x2="239.1" y2="684.5"/><rect x="234.1" y="661" width="6.2" height="16" fill="none"/><line x1="234.7" y1="689" x2="239.7" y2="689"/></g>
<g stroke="#1f1fff" stroke-width="1.6" opacity="0.95"><line x1="245" y1="632.5" x2="245" y2="659.1"/><line x1="245" y1="683" x2="245" y2="701"/><line x1="243.1" y1="632.5" x2="246.9" y2="632.5"/><line x1="243.1" y1="701" x2="246.9" y2="701"/><rect x="241.9" y="659.1" width="6.2" height="23.9" fill="none"/><line x1="242.5" y1="623.4" x2="247.5" y2="623.4"/><line x1="242.5" y1="707" x2="247.5" y2="707"/></g>
<g stroke="#1f1fff" stroke-width="1.6" opacity="0.95"><line x1="252.8" y1="633.7" x2="252.8" y2="659.8"/><line x1="252.8" y1="674.7" x2="252.8" y2="695.1"/><line x1="250.9" y1="633.7" x2="254.6" y2="633.7"/><line x1="250.9" y1="695.1" x2="254.6" y2="695.1"/><rect x="249.7" y="659.8" width="6.2" height="14.9" fill="none"/><line x1="250.3" y1="625.1" x2="255.3" y2="625.1"/></g>
<g stroke="#1f1fff" stroke-width="1.6" opacity="0.45"><line x1="260.6" y1="627.3" x2="260.6" y2="650.5"/><line x1="260.6" y1="683.9" x2="260.6" y2="702"/><line x1="258.7" y1="627.3" x2="262.4" y2="627.3"/><line x1="258.7" y1="702" x2="262.4" y2="702"/><rect x="257.4" y="650.5" width="6.2" height="33.3" fill="none"/></g>
<g stroke="#1f1fff" stroke-width="1.6" opacity="0.95"><line x1="268.4" y1="584.9" x2="268.4" y2="626"/><line x1="268.4" y1="661.5" x2="268.4" y2="679"/><line x1="266.5" y1="584.9" x2="270.2" y2="584.9"/><line x1="266.5" y1="679" x2="270.2" y2="679"/><rect x="265.2" y="626" width="6.2" height="35.5" fill="none"/></g>
<g stroke="#1f1fff" stroke-width="1.6" opacity="0.95"><line x1="276.1" y1="530.3" x2="276.1" y2="551"/><line x1="276.1" y1="628.5" x2="276.1" y2="640"/><line x1="274.3" y1="530.3" x2="278" y2="530.3"/><line x1="274.3" y1="640" x2="278" y2="640"/><rect x="273" y="551" width="6.2" height="77.5" fill="none"/></g>
<g stroke="#1f1fff" stroke-width="1.6" opacity="0.95"><line x1="283.9" y1="405.5" x2="283.9" y2="499.1"/><line x1="283.9" y1="529" x2="283.9" y2="616.1"/><line x1="282.1" y1="405.5" x2="285.8" y2="405.5"/><line x1="282.1" y1="616.1" x2="285.8" y2="616.1"/><rect x="280.8" y="499.1" width="6.2" height="29.9" fill="none"/></g>
<g stroke="#1f1fff" stroke-width="1.6" opacity="0.95"><line x1="291.7" y1="351.3" x2="291.7" y2="428.8"/><line x1="291.7" y1="510" x2="291.7" y2="589.6"/><line x1="289.8" y1="351.3" x2="293.6" y2="351.3"/><line x1="289.8" y1="589.6" x2="293.6" y2="589.6"/><rect x="288.6" y="428.8" width="6.2" height="81.2" fill="none"/></g>
<g stroke="#1f1fff" stroke-width="1.6" opacity="0.95"><line x1="299.5" y1="421.2" x2="299.5" y2="429.4"/><line x1="299.5" y1="555.5" x2="299.5" y2="616.1"/><line x1="297.6" y1="421.2" x2="301.4" y2="421.2"/><line x1="297.6" y1="616.1" x2="301.4" y2="616.1"/><rect x="296.4" y="429.4" width="6.2" height="126.1" fill="none"/></g>
<g stroke="#1f1fff" stroke-width="1.6" opacity="0.45"><line x1="307.3" y1="360.8" x2="307.3" y2="384"/><line x1="307.3" y1="522.5" x2="307.3" y2="572"/><line x1="305.4" y1="360.8" x2="309.2" y2="360.8"/><line x1="305.4" y1="572" x2="309.2" y2="572"/><rect x="304.2" y="384" width="6.2" height="138.5" fill="none"/></g>
<g stroke="#1f1fff" stroke-width="1.6" opacity="0.45"><line x1="315.1" y1="365.8" x2="315.1" y2="413.7"/><line x1="315.1" y1="530.3" x2="315.1" y2="600.5"/><line x1="313.2" y1="365.8" x2="316.9" y2="365.8"/><line x1="313.2" y1="600.5" x2="316.9" y2="600.5"/><rect x="312" y="413.7" width="6.2" height="116.6" fill="none"/></g>
<g stroke="#1f1fff" stroke-width="1.6" opacity="0.95"><line x1="322.9" y1="421.6" x2="322.9" y2="443.3"/><line x1="322.9" y1="568" x2="322.9" y2="631.7"/><line x1="321" y1="421.6" x2="324.7" y2="421.6"/><line x1="321" y1="631.7" x2="324.7" y2="631.7"/><rect x="319.7" y="443.3" width="6.2" height="124.7" fill="none"/></g>
<g stroke="#1f1fff" stroke-width="1.6" opacity="0.95"><line x1="330.6" y1="435" x2="330.6" y2="506.1"/><line x1="330.6" y1="602" x2="330.6" y2="655"/><line x1="328.8" y1="435" x2="332.5" y2="435"/><line x1="328.8" y1="655" x2="332.5" y2="655"/><rect x="327.5" y="506.1" width="6.2" height="96" fill="none"/></g>
<g stroke="#1f1fff" stroke-width="1.6" opacity="0.45"><line x1="338.4" y1="486" x2="338.4" y2="532.8"/><line x1="338.4" y1="604" x2="338.4" y2="637"/><line x1="336.6" y1="486" x2="340.3" y2="486"/><line x1="336.6" y1="637" x2="340.3" y2="637"/><rect x="335.3" y="532.8" width="6.2" height="71.2" fill="none"/></g>
<g stroke="#1f1fff" stroke-width="1.6" opacity="0.95"><line x1="346.2" y1="467.2" x2="346.2" y2="540"/><line x1="346.2" y1="611.5" x2="346.2" y2="645"/><line x1="344.4" y1="467.2" x2="348.1" y2="467.2"/><line x1="344.4" y1="645" x2="348.1" y2="645"/><rect x="343.1" y="540" width="6.2" height="71.5" fill="none"/></g>
<g stroke="#1f1fff" stroke-width="1.6" opacity="0.95"><line x1="354" y1="491.8" x2="354" y2="545.9"/><line x1="354" y1="619.7" x2="354" y2="655"/><line x1="352.1" y1="491.8" x2="355.9" y2="491.8"/><line x1="352.1" y1="655" x2="355.9" y2="655"/><rect x="350.9" y="545.9" width="6.2" height="73.8" fill="none"/></g>
<g stroke="#1f1fff" stroke-width="1.6" opacity="0.45"><line x1="361.8" y1="525" x2="361.8" y2="577.1"/><line x1="361.8" y1="623.9" x2="361.8" y2="662.8"/><line x1="359.9" y1="525" x2="363.7" y2="525"/><line x1="359.9" y1="662.8" x2="363.7" y2="662.8"/><rect x="358.7" y="577.1" width="6.2" height="46.8" fill="none"/></g>
<g stroke="#1f1fff" stroke-width="1.6" opacity="0.95"><line x1="369.6" y1="552" x2="369.6" y2="585.7"/><line x1="369.6" y1="633.6" x2="369.6" y2="658.9"/><line x1="367.7" y1="552" x2="371.5" y2="552"/><line x1="367.7" y1="658.9" x2="371.5" y2="658.9"/><rect x="366.5" y="585.7" width="6.2" height="47.9" fill="none"/></g>
<g stroke="#1f1fff" stroke-width="1.6" opacity="0.95"><line x1="377.4" y1="566" x2="377.4" y2="611.9"/><line x1="377.4" y1="639.3" x2="377.4" y2="654.7"/><line x1="375.5" y1="566" x2="379.2" y2="566"/><line x1="375.5" y1="654.7" x2="379.2" y2="654.7"/><rect x="374.3" y="611.9" width="6.2" height="27.4" fill="none"/><line x1="374.9" y1="552.1" x2="379.9" y2="552.1"/><line x1="374.9" y1="660.9" x2="379.9" y2="660.9"/></g>
<g stroke="#1f1fff" stroke-width="1.6" opacity="0.95"><line x1="385.2" y1="592.3" x2="385.2" y2="622.7"/><line x1="385.2" y1="650.9" x2="385.2" y2="665.3"/><line x1="383.3" y1="592.3" x2="387" y2="592.3"/><line x1="383.3" y1="665.3" x2="387" y2="665.3"/><rect x="382" y="622.7" width="6.2" height="28.2" fill="none"/><line x1="382.7" y1="577.1" x2="387.7" y2="577.1"/></g>
<g stroke="#1f1fff" stroke-width="1.6" opacity="0.45"><line x1="392.9" y1="609.5" x2="392.9" y2="630.5"/><line x1="392.9" y1="649" x2="392.9" y2="661.1"/><line x1="391.1" y1="609.5" x2="394.8" y2="609.5"/><line x1="391.1" y1="661.1" x2="394.8" y2="661.1"/><rect x="389.8" y="630.5" width="6.2" height="18.5" fill="none"/></g>
<g stroke="#1f1fff" stroke-width="1.6" opacity="0.45"><line x1="400.7" y1="615.3" x2="400.7" y2="632.7"/><line x1="400.7" y1="654.8" x2="400.7" y2="667.3"/><line x1="398.9" y1="615.3" x2="402.6" y2="615.3"/><line x1="398.9" y1="667.3" x2="402.6" y2="667.3"/><rect x="397.6" y="632.7" width="6.2" height="22.2" fill="none"/><line x1="398.2" y1="604.4" x2="403.2" y2="604.4"/><line x1="398.2" y1="680.8" x2="403.2" y2="680.8"/></g>
<g stroke="#1f1fff" stroke-width="1.6" opacity="0.95"><line x1="408.5" y1="618.2" x2="408.5" y2="637.1"/><line x1="408.5" y1="652.8" x2="408.5" y2="665.3"/><line x1="406.7" y1="618.2" x2="410.4" y2="618.2"/><line x1="406.7" y1="665.3" x2="410.4" y2="665.3"/><rect x="405.4" y="637.1" width="6.2" height="15.7" fill="none"/><line x1="406" y1="671.8" x2="411" y2="671.8"/></g>
<g stroke="#1f1fff" stroke-width="1.6" opacity="0.95"><line x1="416.3" y1="626.2" x2="416.3" y2="639.7"/><line x1="416.3" y1="650.7" x2="416.3" y2="661.1"/><line x1="414.4" y1="626.2" x2="418.2" y2="626.2"/><line x1="414.4" y1="661.1" x2="418.2" y2="661.1"/><rect x="413.2" y="639.7" width="6.2" height="11.1" fill="none"/></g>
<g stroke="#1f1fff" stroke-width="1.6" opacity="0.95"><line x1="424.1" y1="621.8" x2="424.1" y2="638.8"/><line x1="424.1" y1="658.1" x2="424.1" y2="664.5"/><line x1="422.2" y1="621.8" x2="426" y2="621.8"/><line x1="422.2" y1="664.5" x2="426" y2="664.5"/><rect x="421" y="638.8" width="6.2" height="19.3" fill="none"/><line x1="421.6" y1="670.5" x2="426.6" y2="670.5"/></g>
<g stroke="#1f1fff" stroke-width="1.6" opacity="0.45"><line x1="431.9" y1="624.5" x2="431.9" y2="642.1"/><line x1="431.9" y1="655" x2="431.9" y2="662.2"/><line x1="430" y1="624.5" x2="433.8" y2="624.5"/><line x1="430" y1="662.2" x2="433.8" y2="662.2"/><rect x="428.8" y="642.1" width="6.2" height="12.9" fill="none"/><line x1="429.4" y1="666.3" x2="434.4" y2="666.3"/></g>
<g stroke="#1f1fff" stroke-width="1.6" opacity="0.95"><line x1="439.7" y1="621.2" x2="439.7" y2="643.4"/><line x1="439.7" y1="655.7" x2="439.7" y2="666"/><line x1="437.8" y1="621.2" x2="441.5" y2="621.2"/><line x1="437.8" y1="666" x2="441.5" y2="666"/><rect x="436.6" y="643.4" width="6.2" height="12.3" fill="none"/><line x1="437.2" y1="610.6" x2="442.2" y2="610.6"/><line x1="437.2" y1="673.2" x2="442.2" y2="673.2"/></g>
<g stroke="#1f1fff" stroke-width="1.6" opacity="0.95"><line x1="447.5" y1="629.1" x2="447.5" y2="644.4"/><line x1="447.5" y1="658.9" x2="447.5" y2="668"/><line x1="445.6" y1="629.1" x2="449.3" y2="629.1"/><line x1="445.6" y1="668" x2="449.3" y2="668"/><rect x="444.3" y="644.4" width="6.2" height="14.5" fill="none"/><line x1="445" y1="680.3" x2="450" y2="680.3"/></g>
<g stroke="#1f1fff" stroke-width="1.6" opacity="0.95"><line x1="455.2" y1="627.1" x2="455.2" y2="642.8"/><line x1="455.2" y1="659.6" x2="455.2" y2="665.7"/><line x1="453.4" y1="627.1" x2="457.1" y2="627.1"/><line x1="453.4" y1="665.7" x2="457.1" y2="665.7"/><rect x="452.1" y="642.8" width="6.2" height="16.9" fill="none"/></g>
<g stroke="#1f1fff" stroke-width="1.6" opacity="0.45"><line x1="463" y1="623.6" x2="463" y2="639.5"/><line x1="463" y1="654.5" x2="463" y2="662.2"/><line x1="461.2" y1="623.6" x2="464.9" y2="623.6"/><line x1="461.2" y1="662.2" x2="464.9" y2="662.2"/><rect x="459.9" y="639.5" width="6.2" height="15" fill="none"/></g>
<g stroke="#1f1fff" stroke-width="1.6" opacity="0.95"><line x1="470.8" y1="617" x2="470.8" y2="642.1"/><line x1="470.8" y1="655" x2="470.8" y2="667.5"/><line x1="469" y1="617" x2="472.7" y2="617"/><line x1="469" y1="667.5" x2="472.7" y2="667.5"/><rect x="467.7" y="642.1" width="6.2" height="12.9" fill="none"/></g>
<g stroke="#1f1fff" stroke-width="1.6" opacity="0.95"><line x1="478.6" y1="620.1" x2="478.6" y2="642.2"/><line x1="478.6" y1="654" x2="478.6" y2="663.5"/><line x1="476.7" y1="620.1" x2="480.5" y2="620.1"/><line x1="476.7" y1="663.5" x2="480.5" y2="663.5"/><rect x="475.5" y="642.2" width="6.2" height="11.8" fill="none"/></g>
<g stroke="#1f1fff" stroke-width="1.6" opacity="0.45"><line x1="486.4" y1="622.3" x2="486.4" y2="641.1"/><line x1="486.4" y1="656.3" x2="486.4" y2="662.4"/><line x1="484.5" y1="622.3" x2="488.3" y2="622.3"/><line x1="484.5" y1="662.4" x2="488.3" y2="662.4"/><rect x="483.3" y="641.1" width="6.2" height="15.2" fill="none"/><line x1="483.9" y1="609" x2="488.9" y2="609"/><line x1="483.9" y1="675.6" x2="488.9" y2="675.6"/></g>
<g stroke="#1f1fff" stroke-width="1.6" opacity="0.95"><line x1="494.2" y1="618.2" x2="494.2" y2="643.4"/><line x1="494.2" y1="657.6" x2="494.2" y2="666.9"/><line x1="492.3" y1="618.2" x2="496.1" y2="618.2"/><line x1="492.3" y1="666.9" x2="496.1" y2="666.9"/><rect x="491.1" y="643.4" width="6.2" height="14.2" fill="none"/></g>
<g stroke="#1f1fff" stroke-width="1.6" opacity="0.95"><line x1="502" y1="634.1" x2="502" y2="644.3"/><line x1="502" y1="657.4" x2="502" y2="668.9"/><line x1="500.1" y1="634.1" x2="503.8" y2="634.1"/><line x1="500.1" y1="668.9" x2="503.8" y2="668.9"/><rect x="498.9" y="644.3" width="6.2" height="13.1" fill="none"/></g>
<g stroke="#1f1fff" stroke-width="1.6" opacity="0.95"><line x1="509.8" y1="624.1" x2="509.8" y2="643.8"/><line x1="509.8" y1="654" x2="509.8" y2="659.9"/><line x1="507.9" y1="624.1" x2="511.6" y2="624.1"/><line x1="507.9" y1="659.9" x2="511.6" y2="659.9"/><rect x="506.6" y="643.8" width="6.2" height="10.3" fill="none"/><line x1="507.3" y1="612.5" x2="512.3" y2="612.5"/></g>
<g stroke="#1f1fff" stroke-width="1.6" opacity="0.45"><line x1="517.5" y1="629.8" x2="517.5" y2="642.1"/><line x1="517.5" y1="656.7" x2="517.5" y2="664.6"/><line x1="515.7" y1="629.8" x2="519.4" y2="629.8"/><line x1="515.7" y1="664.6" x2="519.4" y2="664.6"/><rect x="514.4" y="642.1" width="6.2" height="14.6" fill="none"/><line x1="515" y1="611.8" x2="520" y2="611.8"/></g>
<g stroke="#1f1fff" stroke-width="1.6" opacity="0.45"><line x1="525.3" y1="631.4" x2="525.3" y2="643.3"/><line x1="525.3" y1="654" x2="525.3" y2="666.1"/><line x1="523.5" y1="631.4" x2="527.2" y2="631.4"/><line x1="523.5" y1="666.1" x2="527.2" y2="666.1"/><rect x="522.2" y="643.3" width="6.2" height="10.7" fill="none"/><line x1="522.8" y1="622.4" x2="527.8" y2="622.4"/></g>
<g stroke="#1f1fff" stroke-width="1.6" opacity="0.95"><line x1="533.1" y1="618" x2="533.1" y2="639.3"/><line x1="533.1" y1="654.5" x2="533.1" y2="661.3"/><line x1="531.3" y1="618" x2="535" y2="618"/><line x1="531.3" y1="661.3" x2="535" y2="661.3"/><rect x="530" y="639.3" width="6.2" height="15.3" fill="none"/><line x1="530.6" y1="610.6" x2="535.6" y2="610.6"/></g>
<g stroke="#1f1fff" stroke-width="1.6" opacity="0.45"><line x1="540.9" y1="631.6" x2="540.9" y2="642.4"/><line x1="540.9" y1="651.4" x2="540.9" y2="662.3"/><line x1="539" y1="631.6" x2="542.8" y2="631.6"/><line x1="539" y1="662.3" x2="542.8" y2="662.3"/><rect x="537.8" y="642.4" width="6.2" height="9" fill="none"/></g>
<g stroke="#1f1fff" stroke-width="1.6" opacity="0.45"><line x1="548.7" y1="620.1" x2="548.7" y2="641.1"/><line x1="548.7" y1="654.7" x2="548.7" y2="661"/><line x1="546.8" y1="620.1" x2="550.6" y2="620.1"/><line x1="546.8" y1="661" x2="550.6" y2="661"/><rect x="545.6" y="641.1" width="6.2" height="13.6" fill="none"/></g>
<g stroke="#1f1fff" stroke-width="1.6" opacity="0.45"><line x1="556.5" y1="619.3" x2="556.5" y2="641.7"/><line x1="556.5" y1="655" x2="556.5" y2="664.9"/><line x1="554.6" y1="619.3" x2="558.4" y2="619.3"/><line x1="554.6" y1="664.9" x2="558.4" y2="664.9"/><rect x="553.4" y="641.7" width="6.2" height="13.4" fill="none"/></g>
<g stroke="#1f1fff" stroke-width="1.6" opacity="0.95"><line x1="564.3" y1="624.5" x2="564.3" y2="641.9"/><line x1="564.3" y1="654.6" x2="564.3" y2="666.9"/><line x1="562.4" y1="624.5" x2="566.1" y2="624.5"/><line x1="562.4" y1="666.9" x2="566.1" y2="666.9"/><rect x="561.2" y="641.9" width="6.2" height="12.7" fill="none"/><line x1="561.8" y1="613.5" x2="566.8" y2="613.5"/></g>
<g stroke="#1f1fff" stroke-width="1.6" opacity="0.45"><line x1="572.1" y1="620" x2="572.1" y2="640.4"/><line x1="572.1" y1="653.2" x2="572.1" y2="664.7"/><line x1="570.2" y1="620" x2="573.9" y2="620"/><line x1="570.2" y1="664.7" x2="573.9" y2="664.7"/><rect x="568.9" y="640.4" width="6.2" height="12.8" fill="none"/></g>
<g stroke="#1f1fff" stroke-width="1.6" opacity="0.95"><line x1="579.9" y1="615.4" x2="579.9" y2="639"/><line x1="579.9" y1="652.7" x2="579.9" y2="658.1"/><line x1="578" y1="615.4" x2="581.7" y2="615.4"/><line x1="578" y1="658.1" x2="581.7" y2="658.1"/><rect x="576.7" y="639" width="6.2" height="13.7" fill="none"/></g>
<g stroke="#1f1fff" stroke-width="1.6" opacity="0.95"><line x1="587.6" y1="621.6" x2="587.6" y2="638.5"/><line x1="587.6" y1="649" x2="587.6" y2="660.1"/><line x1="585.8" y1="621.6" x2="589.5" y2="621.6"/><line x1="585.8" y1="660.1" x2="589.5" y2="660.1"/><rect x="584.5" y="638.5" width="6.2" height="10.5" fill="none"/></g>
<g stroke="#1f1fff" stroke-width="1.6" opacity="0.45"><line x1="595.4" y1="621.9" x2="595.4" y2="638.4"/><line x1="595.4" y1="649.3" x2="595.4" y2="661.2"/><line x1="593.6" y1="621.9" x2="597.3" y2="621.9"/><line x1="593.6" y1="661.2" x2="597.3" y2="661.2"/><rect x="592.3" y="638.4" width="6.2" height="10.8" fill="none"/></g>
<g stroke="#1f1fff" stroke-width="1.6" opacity="0.95"><line x1="603.2" y1="619.5" x2="603.2" y2="636.2"/><line x1="603.2" y1="653.2" x2="603.2" y2="662"/><line x1="601.3" y1="619.5" x2="605.1" y2="619.5"/><line x1="601.3" y1="662" x2="605.1" y2="662"/><rect x="600.1" y="636.2" width="6.2" height="16.9" fill="none"/></g>
<g stroke="#1f1fff" stroke-width="1.6" opacity="0.45"><line x1="611" y1="617.3" x2="611" y2="640.7"/><line x1="611" y1="651.4" x2="611" y2="656.6"/><line x1="609.1" y1="617.3" x2="612.9" y2="617.3"/><line x1="609.1" y1="656.6" x2="612.9" y2="656.6"/><rect x="607.9" y="640.7" width="6.2" height="10.7" fill="none"/><line x1="608.5" y1="662" x2="613.5" y2="662"/></g>
<g stroke="#1f1fff" stroke-width="1.6" opacity="0.95"><line x1="618.8" y1="624.2" x2="618.8" y2="638.9"/><line x1="618.8" y1="649.9" x2="618.8" y2="662.3"/><line x1="616.9" y1="624.2" x2="620.7" y2="624.2"/><line x1="616.9" y1="662.3" x2="620.7" y2="662.3"/><rect x="615.7" y="638.9" width="6.2" height="11" fill="none"/><line x1="616.3" y1="677.8" x2="621.3" y2="677.8"/></g>
<g stroke="#1f1fff" stroke-width="1.6" opacity="0.45"><line x1="626.6" y1="622.8" x2="626.6" y2="641"/><line x1="626.6" y1="654.7" x2="626.6" y2="662.9"/><line x1="624.7" y1="622.8" x2="628.4" y2="622.8"/><line x1="624.7" y1="662.9" x2="628.4" y2="662.9"/><rect x="623.5" y="641" width="6.2" height="13.7" fill="none"/><line x1="624.1" y1="616.5" x2="629.1" y2="616.5"/></g>
<g stroke="#1f1fff" stroke-width="1.6" opacity="0.95"><line x1="634.4" y1="617.9" x2="634.4" y2="643"/><line x1="634.4" y1="652.6" x2="634.4" y2="661.9"/><line x1="632.5" y1="617.9" x2="636.2" y2="617.9"/><line x1="632.5" y1="661.9" x2="636.2" y2="661.9"/><rect x="631.2" y="643" width="6.2" height="9.6" fill="none"/><line x1="631.9" y1="602.4" x2="636.9" y2="602.4"/><line x1="631.9" y1="668.3" x2="636.9" y2="668.3"/></g>
<g stroke="#1f1fff" stroke-width="1.6" opacity="0.95"><line x1="642.1" y1="621" x2="642.1" y2="643.4"/><line x1="642.1" y1="658.6" x2="642.1" y2="665.6"/><line x1="640.3" y1="621" x2="644" y2="621"/><line x1="640.3" y1="665.6" x2="644" y2="665.6"/><rect x="639" y="643.4" width="6.2" height="15.2" fill="none"/></g>
<g stroke="#1f1fff" stroke-width="1.6" opacity="0.95"><line x1="649.9" y1="625.1" x2="649.9" y2="641.3"/><line x1="649.9" y1="657.5" x2="649.9" y2="666.2"/><line x1="648.1" y1="625.1" x2="651.8" y2="625.1"/><line x1="648.1" y1="666.2" x2="651.8" y2="666.2"/><rect x="646.8" y="641.3" width="6.2" height="16.2" fill="none"/></g>
<g stroke="#1f1fff" stroke-width="1.6" opacity="0.95"><line x1="657.7" y1="626.5" x2="657.7" y2="647.5"/><line x1="657.7" y1="657.3" x2="657.7" y2="666.7"/><line x1="655.9" y1="626.5" x2="659.6" y2="626.5"/><line x1="655.9" y1="666.7" x2="659.6" y2="666.7"/><rect x="654.6" y="647.5" width="6.2" height="9.9" fill="none"/><line x1="655.2" y1="675.2" x2="660.2" y2="675.2"/></g>
<g stroke="#1f1fff" stroke-width="1.6" opacity="0.95"><line x1="665.5" y1="631.9" x2="665.5" y2="645.6"/><line x1="665.5" y1="660.5" x2="665.5" y2="670.6"/><line x1="663.6" y1="631.9" x2="667.4" y2="631.9"/><line x1="663.6" y1="670.6" x2="667.4" y2="670.6"/><rect x="662.4" y="645.6" width="6.2" height="14.9" fill="none"/><line x1="663" y1="617.3" x2="668" y2="617.3"/></g>
<g stroke="#1f1fff" stroke-width="1.6" opacity="0.45"><line x1="673.3" y1="623" x2="673.3" y2="645.6"/><line x1="673.3" y1="661.6" x2="673.3" y2="669.7"/><line x1="671.4" y1="623" x2="675.2" y2="623"/><line x1="671.4" y1="669.7" x2="675.2" y2="669.7"/><rect x="670.2" y="645.6" width="6.2" height="16.1" fill="none"/></g>
<g stroke="#1f1fff" stroke-width="1.6" opacity="0.45"><line x1="681.1" y1="631.3" x2="681.1" y2="647"/><line x1="681.1" y1="664.2" x2="681.1" y2="670.5"/><line x1="679.2" y1="631.3" x2="683" y2="631.3"/><line x1="679.2" y1="670.5" x2="683" y2="670.5"/><rect x="678" y="647" width="6.2" height="17.2" fill="none"/><line x1="678.6" y1="684" x2="683.6" y2="684"/></g>
<g stroke="#1f1fff" stroke-width="1.6" opacity="0.45"><line x1="688.9" y1="631.2" x2="688.9" y2="650.9"/><line x1="688.9" y1="664.9" x2="688.9" y2="675.9"/><line x1="687" y1="631.2" x2="690.7" y2="631.2"/><line x1="687" y1="675.9" x2="690.7" y2="675.9"/><rect x="685.8" y="650.9" width="6.2" height="14" fill="none"/><line x1="686.4" y1="682.8" x2="691.4" y2="682.8"/></g>
<g stroke="#1f1fff" stroke-width="1.6" opacity="0.45"><line x1="696.7" y1="636.8" x2="696.7" y2="647.5"/><line x1="696.7" y1="663" x2="696.7" y2="674.1"/><line x1="694.8" y1="636.8" x2="698.5" y2="636.8"/><line x1="694.8" y1="674.1" x2="698.5" y2="674.1"/><rect x="693.5" y="647.5" width="6.2" height="15.5" fill="none"/></g>
<g stroke="#1f1fff" stroke-width="1.6" opacity="0.95"><line x1="704.5" y1="629.6" x2="704.5" y2="650.5"/><line x1="704.5" y1="663.6" x2="704.5" y2="670.1"/><line x1="702.6" y1="629.6" x2="706.3" y2="629.6"/><line x1="702.6" y1="670.1" x2="706.3" y2="670.1"/><rect x="701.3" y="650.5" width="6.2" height="13" fill="none"/></g>
<g stroke="#1f1fff" stroke-width="1.6" opacity="0.45"><line x1="712.2" y1="634" x2="712.2" y2="652.1"/><line x1="712.2" y1="666.1" x2="712.2" y2="672.5"/><line x1="710.4" y1="634" x2="714.1" y2="634"/><line x1="710.4" y1="672.5" x2="714.1" y2="672.5"/><rect x="709.1" y="652.1" width="6.2" height="14" fill="none"/></g>
<g stroke="#1f1fff" stroke-width="1.6" opacity="0.45"><line x1="720" y1="630" x2="720" y2="651.4"/><line x1="720" y1="665" x2="720" y2="671"/><line x1="718.2" y1="630" x2="721.9" y2="630"/><line x1="718.2" y1="671" x2="721.9" y2="671"/><rect x="716.9" y="651.4" width="6.2" height="13.7" fill="none"/><line x1="717.5" y1="683.1" x2="722.5" y2="683.1"/></g>
<g stroke="#1f1fff" stroke-width="1.6" opacity="0.95"><line x1="727.8" y1="629.6" x2="727.8" y2="651.8"/><line x1="727.8" y1="666.1" x2="727.8" y2="675.8"/><line x1="725.9" y1="629.6" x2="729.7" y2="629.6"/><line x1="725.9" y1="675.8" x2="729.7" y2="675.8"/><rect x="724.7" y="651.8" width="6.2" height="14.3" fill="none"/></g>
<g stroke="#1f1fff" stroke-width="1.6" opacity="0.95"><line x1="735.6" y1="638.1" x2="735.6" y2="649.7"/><line x1="735.6" y1="668.1" x2="735.6" y2="675.9"/><line x1="733.7" y1="638.1" x2="737.5" y2="638.1"/><line x1="733.7" y1="675.9" x2="737.5" y2="675.9"/><rect x="732.5" y="649.7" width="6.2" height="18.4" fill="none"/></g>
<g stroke="#1f1fff" stroke-width="1.6" opacity="0.95"><line x1="743.4" y1="633" x2="743.4" y2="651.7"/><line x1="743.4" y1="666.1" x2="743.4" y2="675.3"/><line x1="741.5" y1="633" x2="745.3" y2="633"/><line x1="741.5" y1="675.3" x2="745.3" y2="675.3"/><rect x="740.3" y="651.7" width="6.2" height="14.4" fill="none"/><line x1="740.9" y1="614.4" x2="745.9" y2="614.4"/><line x1="740.9" y1="681.6" x2="745.9" y2="681.6"/></g>
<g stroke="#1f1fff" stroke-width="1.6" opacity="0.95"><line x1="751.2" y1="627.8" x2="751.2" y2="651.1"/><line x1="751.2" y1="667.3" x2="751.2" y2="671.9"/><line x1="749.3" y1="627.8" x2="753" y2="627.8"/><line x1="749.3" y1="671.9" x2="753" y2="671.9"/><rect x="748.1" y="651.1" width="6.2" height="16.3" fill="none"/></g>
<g stroke="#1f1fff" stroke-width="1.6" opacity="0.45"><line x1="759" y1="627.7" x2="759" y2="652"/><line x1="759" y1="667.1" x2="759" y2="674.7"/><line x1="757.1" y1="627.7" x2="760.8" y2="627.7"/><line x1="757.1" y1="674.7" x2="760.8" y2="674.7"/><rect x="755.8" y="652" width="6.2" height="15" fill="none"/></g>
<g stroke="#1f1fff" stroke-width="1.6" opacity="0.45"><line x1="766.8" y1="640.5" x2="766.8" y2="653"/><line x1="766.8" y1="667.1" x2="766.8" y2="677.3"/><line x1="764.9" y1="640.5" x2="768.6" y2="640.5"/><line x1="764.9" y1="677.3" x2="768.6" y2="677.3"/><rect x="763.6" y="653" width="6.2" height="14.2" fill="none"/><line x1="764.2" y1="626.1" x2="769.2" y2="626.1"/></g>
<g stroke="#1f1fff" stroke-width="1.6" opacity="0.95"><line x1="774.5" y1="626" x2="774.5" y2="650.6"/><line x1="774.5" y1="667.3" x2="774.5" y2="674.1"/><line x1="772.7" y1="626" x2="776.4" y2="626"/><line x1="772.7" y1="674.1" x2="776.4" y2="674.1"/><rect x="771.4" y="650.6" width="6.2" height="16.7" fill="none"/></g>
<g stroke="#1f1fff" stroke-width="1.6" opacity="0.45"><line x1="782.3" y1="628.5" x2="782.3" y2="652.4"/><line x1="782.3" y1="668" x2="782.3" y2="677.8"/><line x1="780.5" y1="628.5" x2="784.2" y2="628.5"/><line x1="780.5" y1="677.8" x2="784.2" y2="677.8"/><rect x="779.2" y="652.4" width="6.2" height="15.6" fill="none"/></g>
<g stroke="#1f1fff" stroke-width="1.6" opacity="0.45"><line x1="790.1" y1="638.1" x2="790.1" y2="652.9"/><line x1="790.1" y1="667.9" x2="790.1" y2="675.6"/><line x1="788.2" y1="638.1" x2="792" y2="638.1"/><line x1="788.2" y1="675.6" x2="792" y2="675.6"/><rect x="787" y="652.9" width="6.2" height="15" fill="none"/><line x1="787.6" y1="627.7" x2="792.6" y2="627.7"/></g>
<g stroke="#1f1fff" stroke-width="1.6" opacity="0.95"><line x1="797.9" y1="642.8" x2="797.9" y2="654.7"/><line x1="797.9" y1="669.4" x2="797.9" y2="677.4"/><line x1="796" y1="642.8" x2="799.8" y2="642.8"/><line x1="796" y1="677.4" x2="799.8" y2="677.4"/><rect x="794.8" y="654.7" width="6.2" height="14.7" fill="none"/></g>
<g stroke="#1f1fff" stroke-width="1.6" opacity="0.95"><line x1="805.7" y1="630.5" x2="805.7" y2="653.7"/><line x1="805.7" y1="670.4" x2="805.7" y2="680"/><line x1="803.8" y1="630.5" x2="807.6" y2="630.5"/><line x1="803.8" y1="680" x2="807.6" y2="680"/><rect x="802.6" y="653.7" width="6.2" height="16.7" fill="none"/><line x1="803.2" y1="612.5" x2="808.2" y2="612.5"/></g>
<g stroke="#1f1fff" stroke-width="1.6" opacity="0.95"><line x1="813.5" y1="633.5" x2="813.5" y2="654.5"/><line x1="813.5" y1="667.1" x2="813.5" y2="678.1"/><line x1="811.6" y1="633.5" x2="815.3" y2="633.5"/><line x1="811.6" y1="678.1" x2="815.3" y2="678.1"/><rect x="810.4" y="654.5" width="6.2" height="12.7" fill="none"/><line x1="811" y1="685.1" x2="816" y2="685.1"/></g>
<g stroke="#1f1fff" stroke-width="1.6" opacity="0.95"><line x1="821.3" y1="647.1" x2="821.3" y2="657.3"/><line x1="821.3" y1="669.1" x2="821.3" y2="674.9"/><line x1="819.4" y1="647.1" x2="823.1" y2="647.1"/><line x1="819.4" y1="674.9" x2="823.1" y2="674.9"/><rect x="818.1" y="657.3" width="6.2" height="11.8" fill="none"/><line x1="818.8" y1="639.2" x2="823.8" y2="639.2"/></g>
<g stroke="#1f1fff" stroke-width="1.6" opacity="0.95"><line x1="829" y1="636.6" x2="829" y2="656.1"/><line x1="829" y1="668" x2="829" y2="679.7"/><line x1="827.2" y1="636.6" x2="830.9" y2="636.6"/><line x1="827.2" y1="679.7" x2="830.9" y2="679.7"/><rect x="825.9" y="656.1" width="6.2" height="11.9" fill="none"/></g>
<g stroke="#1f1fff" stroke-width="1.6" opacity="0.45"><line x1="836.8" y1="630.4" x2="836.8" y2="656"/><line x1="836.8" y1="668.2" x2="836.8" y2="674.4"/><line x1="835" y1="630.4" x2="838.7" y2="630.4"/><line x1="835" y1="674.4" x2="838.7" y2="674.4"/><rect x="833.7" y="656" width="6.2" height="12.2" fill="none"/><line x1="834.3" y1="624.2" x2="839.3" y2="624.2"/></g>
<g stroke="#1f1fff" stroke-width="1.6" opacity="0.45"><line x1="844.6" y1="632.7" x2="844.6" y2="656.1"/><line x1="844.6" y1="670.9" x2="844.6" y2="676.5"/><line x1="842.8" y1="632.7" x2="846.5" y2="632.7"/><line x1="842.8" y1="676.5" x2="846.5" y2="676.5"/><rect x="841.5" y="656.1" width="6.2" height="14.8" fill="none"/><line x1="842.1" y1="688.6" x2="847.1" y2="688.6"/></g>
<g stroke="#1f1fff" stroke-width="1.6" opacity="0.95"><line x1="852.4" y1="636" x2="852.4" y2="656.9"/><line x1="852.4" y1="665.9" x2="852.4" y2="674.3"/><line x1="850.5" y1="636" x2="854.3" y2="636"/><line x1="850.5" y1="674.3" x2="854.3" y2="674.3"/><rect x="849.3" y="656.9" width="6.2" height="9" fill="none"/><line x1="849.9" y1="623.1" x2="854.9" y2="623.1"/></g>
<path d="M109.6,667.6 L128.5,669.1 L144.2,667.6 L160.0,665.4 L175.7,662.8 L191.5,661.9 L207.2,666.0 L223.0,669.1 L235.6,667.6 L245.0,661.3 L254.5,651.8 L263.9,629.8 L273.4,604.6 L282.8,573.1 L292.3,547.9 L301.7,529.0 L311.2,518.0 L317.5,518.0 L323.8,522.7 L333.2,538.4 L342.7,560.5 L352.1,579.4 L362.9,595.1 L370.7,606.1 L378.6,614.0 L386.5,618.7 L394.4,620.9 L402.2,621.9 L410.1,625.0 L418.0,627.2 L425.9,629.1 L433.7,630.4 L441.6,630.4 L449.5,630.4 L457.4,629.1 L465.2,628.2 L473.1,627.2 L481.0,625.4 L488.9,625.0 L496.7,625.7 L504.6,626.0 L512.5,626.6 L520.4,627.6 L528.2,627.2 L536.1,626.6 L544.0,625.0 L551.9,624.4 L559.7,623.5 L567.6,621.9 L575.5,619.4 L580.2,617.2 L588.1,629.1 L595.9,631.3 L603.8,632.3 L611.7,631.3 L617.9,629.8 L625.7,628.2 L633.6,627.2 L641.5,625.0 L649.4,626.6 L657.2,628.2 L665.1,630.4 L673.0,634.5 L680.9,639.2 L688.7,643.3 L696.6,647.1 L704.5,649.6 L712.4,651.8 L720.2,653.4 L728.1,654.3 L736.0,655.9 L743.9,657.5 L751.7,659.1 L759.6,659.7 L767.5,660.6 L775.4,661.3 L783.2,661.9 L791.1,662.8 L799.0,662.8 L806.9,663.8 L814.7,664.4 L822.6,664.4 L830.5,664.4 L838.3,664.4 L852.5,664.4" fill="none" stroke="#ffa500" stroke-width="2.0" stroke-linejoin="round"/>
<path d="M112.4,559.8 L122.2,551.0 L128.5,552.6 L137.9,558.9 L144.2,565.2 L153.7,567.4 L166.3,572.1 L175.7,573.1 L183.6,573.1 L190.9,571.5 L197.8,588.8 L206.3,609.3 L214.2,595.1 L222.4,581.9 L229.3,580.9 L237.2,575.6 L245.0,583.5 L252.9,582.5 L260.8,583.5 L268.7,544.7 L276.5,497.5 L282.8,440.8 L290.7,426.6 L298.6,428.2 L304.9,440.8 L314.3,461.3 L322.2,466.0 L330.1,499.1 L337.9,491.2 L345.8,506.9 L353.7,522.7 L361.9,532.1 L369.2,538.4 L377.0,532.8 L384.9,535.9 L392.8,546.3 L400.7,557.3 L408.5,548.5 L416.4,552.6 L424.3,558.9 L432.2,551.7 L440.0,571.5 L447.9,562.0 L455.8,565.2 L463.7,588.8 L471.5,592.0 L479.4,579.4 L487.3,557.3 L495.2,541.6 L503.0,560.5 L510.9,564.6 L518.8,566.1 L526.7,567.4 L534.5,558.0 L542.4,561.1 L550.3,557.3 L558.1,547.9 L564.4,540.9 L572.3,562.0 L580.2,565.8 L588.1,534.6 L595.9,579.4 L603.8,585.7 L611.7,587.2 L617.9,556.7 L625.7,587.2 L633.6,584.1 L641.5,580.9 L649.4,574.6 L657.2,536.9 L665.1,541.6 L673.0,555.7 L680.9,554.8 L688.7,588.8 L696.6,595.7 L704.5,541.6 L712.4,551.0 L720.2,547.9 L728.1,538.4 L736.0,527.4 L743.9,518.9 L751.7,525.8 L759.6,518.3 L767.5,522.0 L775.4,535.9 L783.2,528.3 L791.1,535.9 L799.0,544.1 L806.9,530.6 L814.7,534.6 L822.6,537.8 L830.5,537.8 L836.8,557.3 L844.6,546.3 L852.5,547.9" fill="none" stroke="#22e822" stroke-width="2.4" stroke-linejoin="round"/>
<path d="M112.4,599.8 L119.0,584.1 L125.3,584.1 L134.8,592.0 L144.2,604.6 L152.1,604.6 L160.0,607.7 L167.9,613.4 L175.7,613.4 L183.6,609.3 L190.9,610.9 L198.4,632.9 L206.3,656.5 L214.2,639.2 L222.4,625.0 L229.3,623.5 L237.2,617.2 L245.0,628.2 L252.9,625.0 L260.8,629.1 L268.7,579.4 L276.5,506.9 L283.8,447.1 L290.7,437.6 L295.4,436.1 L300.1,437.6 L308.0,456.5 L314.3,475.4 L322.2,483.3 L330.1,521.1 L337.9,513.2 L345.8,532.1 L353.7,547.9 L361.9,560.5 L369.2,566.1 L377.0,560.5 L384.9,564.3 L392.8,574.6 L400.7,584.1 L408.5,578.7 L416.4,584.1 L424.3,577.8 L432.2,569.3 L440.0,606.1 L447.9,595.7 L455.8,585.7 L463.7,607.7 L471.5,610.9 L479.4,614.0 L487.3,574.6 L495.2,559.8 L503.0,573.1 L510.9,599.8 L518.8,592.0 L526.7,592.0 L534.5,580.9 L542.4,592.6 L550.3,586.3 L558.1,579.4 L564.4,567.4 L572.3,587.2 L580.2,590.4 L588.1,549.4 L595.9,601.4 L603.8,612.4 L611.7,611.5 L617.9,576.9 L625.7,614.0 L633.6,611.5 L641.5,604.6 L649.4,600.8 L657.2,561.1 L665.1,568.3 L673.0,576.9 L680.9,574.6 L688.7,618.7 L696.6,629.1 L704.5,564.3 L712.4,582.5 L720.2,582.5 L728.1,564.3 L736.0,530.6 L743.9,526.8 L751.7,535.3 L759.6,530.6 L767.5,531.5 L775.4,549.4 L783.2,545.4 L791.1,557.3 L799.0,565.8 L806.9,546.3 L814.7,562.0 L822.6,562.7 L830.5,558.3 L836.8,591.0 L844.6,574.6 L852.5,576.2" fill="none" stroke="#000000" stroke-width="2.3" stroke-linejoin="round"/>
<path d="M109.6,661.3 L119.0,662.8 L128.5,665.4 L136.4,664.4 L144.2,666.0 L152.1,666.0 L160.0,664.4 L166.3,670.7 L175.7,671.7 L183.6,672.3 L191.5,672.9 L197.8,673.9 L206.3,673.9 L214.2,673.9 L221.4,672.3 L229.3,673.9 L237.2,673.9 L245.0,672.3 L252.9,669.1 L260.8,670.7 L268.7,643.9 L276.5,599.8 L283.8,497.5 L291.6,475.4 L299.5,486.5 L306.4,472.3 L314.3,510.1 L322.2,540.0 L330.1,557.3 L337.9,573.1 L345.8,588.8 L353.7,598.3 L361.9,599.8 L369.2,610.9 L377.0,625.0 L384.9,637.6 L392.8,640.8 L400.7,643.0 L408.5,643.9 L416.4,646.1 L424.3,648.0 L432.2,648.0 L440.0,651.2 L447.9,651.8 L455.8,651.8 L463.7,649.6 L471.5,651.2 L479.4,649.6 L487.3,648.7 L495.2,649.6 L503.0,648.0 L510.9,648.7 L518.8,648.7 L526.7,648.0 L534.5,644.9 L542.4,645.5 L550.3,645.5 L558.1,644.9 L566.0,647.1 L573.9,643.9 L581.8,643.0 L589.6,641.7 L597.5,643.0 L605.4,644.9 L613.3,644.9 L617.9,643.9 L625.7,647.1 L633.6,648.0 L641.5,650.2 L649.4,651.2 L657.2,651.8 L665.1,653.4 L673.0,653.4 L680.9,655.9 L688.7,656.5 L696.6,657.5 L704.5,658.7 L712.4,659.1 L720.2,658.1 L728.1,660.3 L736.0,659.7 L743.9,660.6 L751.7,661.3 L759.6,661.3 L767.5,661.3 L775.4,661.9 L783.2,662.8 L791.1,662.8 L799.0,662.8 L806.9,662.8 L814.7,664.4 L822.6,666.6 L830.5,664.4 L836.8,662.8 L844.6,663.8 L852.5,662.8" fill="none" stroke="#ff0000" stroke-width="2.6" stroke-linejoin="round"/>
<path d="M109.1,660.3h7M112.6,660.3v3M116.9,661.7h7M120.4,661.7v3M124.7,663.8h7M128.2,663.8v3M132.5,663.0h7M136.0,663.0v3M140.2,664.4h7M143.8,664.4v3M148.0,664.5h7M151.5,664.5v3M155.8,663.0h7M159.3,663.0v3M163.6,669.3h7M167.1,669.3v3M171.4,670.1h7M174.9,670.1v3M179.2,670.7h7M182.7,670.7v3M187.0,671.3h7M190.5,671.3v3M194.8,672.4h7M198.3,672.4v3M202.5,672.4h7M206.0,672.4v3M210.3,672.4h7M213.8,672.4v3M218.1,670.8h7M221.6,670.8v3M225.9,672.4h7M229.4,672.4v3M233.7,672.3h7M237.2,672.3v3M241.5,670.8h7M245.0,670.8v3M249.3,667.7h7M252.8,667.7v3M257.1,669.2h7M260.6,669.2v3M264.9,643.5h7M268.4,643.5v3M272.6,600.5h7M276.1,600.5v3M280.4,495.6h7M283.9,495.6v3M288.2,474.0h7M291.7,474.0v3M296.0,484.9h7M299.5,484.9v3M303.8,474.8h7M307.3,474.8v3M311.6,511.4h7M315.1,511.4v3M319.4,540.0h7M322.9,540.0v3M327.1,557.0h7M330.6,557.0v3M334.9,572.6h7M338.4,572.6v3M342.7,587.8h7M346.2,587.8v3M350.5,596.8h7M354.0,596.8v3M358.3,598.3h7M361.8,598.3v3M366.1,610.1h7M369.6,610.1v3M373.9,624.1h7M377.4,624.1v3M381.7,636.2h7M385.2,636.2v3M389.4,639.3h7M392.9,639.3v3M397.2,641.5h7M400.7,641.5v3M405.0,642.4h7M408.5,642.4v3M412.8,644.6h7M416.3,644.6v3M420.6,646.5h7M424.1,646.5v3M428.4,646.5h7M431.9,646.5v3M436.2,649.5h7M439.7,649.5v3M444.0,650.3h7M447.5,650.3v3M451.8,650.3h7M455.2,650.3v3M459.5,648.3h7M463.0,648.3v3M467.3,649.5h7M470.8,649.5v3M475.1,648.3h7M478.6,648.3v3M482.9,647.3h7M486.4,647.3v3M490.7,648.0h7M494.2,648.0v3M498.5,646.7h7M502.0,646.7v3M506.3,647.1h7M509.8,647.1v3M514.0,647.2h7M517.5,647.2v3M521.8,646.6h7M525.3,646.6v3M529.6,643.9h7M533.1,643.9v3M537.4,643.9h7M540.9,643.9v3M545.2,644.0h7M548.7,644.0v3M553.0,643.5h7M556.5,643.5v3M560.8,645.1h7M564.3,645.1v3M568.6,643.2h7M572.1,643.2v3M576.4,641.7h7M579.9,641.7v3M584.1,640.6h7M587.6,640.6v3M591.9,641.2h7M595.4,641.2v3M599.7,642.9h7M603.2,642.9v3M607.5,643.4h7M611.0,643.4v3M615.3,642.8h7M618.8,642.8v3M623.1,645.7h7M626.6,645.7v3M630.9,646.7h7M634.4,646.7v3M638.6,648.8h7M642.1,648.8v3M646.4,649.7h7M649.9,649.7v3M654.2,650.4h7M657.7,650.4v3M662.0,651.9h7M665.5,651.9v3M669.8,652.0h7M673.3,652.0v3M677.6,654.4h7M681.1,654.4v3M685.4,655.1h7M688.9,655.1v3M693.2,656.0h7M696.7,656.0v3M701.0,657.2h7M704.5,657.2v3M708.7,657.6h7M712.2,657.6v3M716.5,656.6h7M720.0,656.6v3M724.3,658.7h7M727.8,658.7v3M732.1,658.2h7M735.6,658.2v3M739.9,659.1h7M743.4,659.1v3M747.7,659.7h7M751.2,659.7v3M755.5,659.8h7M759.0,659.8v3M763.2,659.8h7M766.8,659.8v3M771.0,660.3h7M774.5,660.3v3M778.8,661.2h7M782.3,661.2v3M786.6,661.3h7M790.1,661.3v3M794.4,661.3h7M797.9,661.3v3M802.2,661.3h7M805.7,661.3v3M810.0,662.7h7M813.5,662.7v3M817.8,664.7h7M821.3,664.7v3M825.5,663.3h7M829.0,663.3v3M833.3,661.3h7M836.8,661.3v3M841.1,662.3h7M844.6,662.3v3M848.9,661.3h7M852.4,661.3v3" stroke="#ff0000" stroke-width="2" fill="none"/>
<line x1="97.7" y1="343.2" x2="97.7" y2="733" stroke="#dddddd" stroke-width="1.3" stroke-linecap="square"/>
<line x1="867.7" y1="343.2" x2="867.7" y2="733" stroke="#4a4a4a" stroke-width="1.6" stroke-linecap="square"/>
<line x1="97.7" y1="343.2" x2="867.7" y2="343.2" stroke="#dddddd" stroke-width="1.3" stroke-linecap="square"/>
<line x1="97.7" y1="733" x2="867.7" y2="733" stroke="#dddddd" stroke-width="1.3" stroke-linecap="square"/>
<line x1="1021.8" y1="733" x2="1791.8" y2="733" stroke="#ebebeb" stroke-width="1.4"/>
<line x1="1021.8" y1="655" x2="1791.8" y2="655" stroke="#ebebeb" stroke-width="1.4"/>
<line x1="1021.8" y1="577.1" x2="1791.8" y2="577.1" stroke="#a8a8a8" stroke-width="1.4"/>
<line x1="1021.8" y1="499.1" x2="1791.8" y2="499.1" stroke="#a8a8a8" stroke-width="1.4"/>
<line x1="1021.8" y1="421.2" x2="1791.8" y2="421.2" stroke="#ebebeb" stroke-width="1.4"/>
<line x1="1021.8" y1="343.2" x2="1791.8" y2="343.2" stroke="#ebebeb" stroke-width="1.4"/>
<line x1="1036.7" y1="343.2" x2="1036.7" y2="733" stroke="#e8e8e8" stroke-width="1.4"/>
<line x1="1099" y1="343.2" x2="1099" y2="733" stroke="#a8a8a8" stroke-width="1.4"/>
<line x1="1161.3" y1="343.2" x2="1161.3" y2="733" stroke="#e8e8e8" stroke-width="1.4"/>
<line x1="1223.6" y1="343.2" x2="1223.6" y2="733" stroke="#a8a8a8" stroke-width="1.4"/>
<line x1="1285.9" y1="343.2" x2="1285.9" y2="733" stroke="#e8e8e8" stroke-width="1.4"/>
<line x1="1348.2" y1="343.2" x2="1348.2" y2="733" stroke="#a8a8a8" stroke-width="1.4"/>
<line x1="1410.5" y1="343.2" x2="1410.5" y2="733" stroke="#e8e8e8" stroke-width="1.4"/>
<line x1="1472.8" y1="343.2" x2="1472.8" y2="733" stroke="#a8a8a8" stroke-width="1.4"/>
<line x1="1535.1" y1="343.2" x2="1535.1" y2="733" stroke="#e8e8e8" stroke-width="1.4"/>
<line x1="1597.4" y1="343.2" x2="1597.4" y2="733" stroke="#a8a8a8" stroke-width="1.4"/>
<line x1="1659.7" y1="343.2" x2="1659.7" y2="733" stroke="#e8e8e8" stroke-width="1.4"/>
<line x1="1722" y1="343.2" x2="1722" y2="733" stroke="#a8a8a8" stroke-width="1.4"/>
<rect x="1033.7" y="720.6" width="5.9" height="12.4" fill="#008000" fill-opacity="0.3"/>
<rect x="1039.7" y="721.9" width="1.9" height="11.1" fill="#00a000" fill-opacity="0.1"/>
<rect x="1041.5" y="720.9" width="5.9" height="12.1" fill="#008000" fill-opacity="0.3"/>
<rect x="1047.4" y="721.9" width="1.9" height="11.1" fill="#00a000" fill-opacity="0.1"/>
<rect x="1049.3" y="719.6" width="5.9" height="13.4" fill="#008000" fill-opacity="0.3"/>
<rect x="1055.2" y="722.6" width="1.9" height="10.4" fill="#00a000" fill-opacity="0.1"/>
<rect x="1057.1" y="721.6" width="5.9" height="11.4" fill="#008000" fill-opacity="0.3"/>
<rect x="1063" y="723" width="1.9" height="10" fill="#00a000" fill-opacity="0.1"/>
<rect x="1064.9" y="722" width="5.9" height="11" fill="#008000" fill-opacity="0.3"/>
<rect x="1070.8" y="723.6" width="1.9" height="9.4" fill="#00a000" fill-opacity="0.1"/>
<rect x="1072.7" y="722.6" width="5.9" height="10.4" fill="#008000" fill-opacity="0.3"/>
<rect x="1078.6" y="725.1" width="1.9" height="7.9" fill="#00a000" fill-opacity="0.1"/>
<rect x="1080.5" y="724.1" width="5.9" height="8.9" fill="#008000" fill-opacity="0.3"/>
<rect x="1086.4" y="725.1" width="1.9" height="7.9" fill="#00a000" fill-opacity="0.1"/>
<rect x="1088.3" y="722.2" width="5.9" height="10.8" fill="#008000" fill-opacity="0.3"/>
<rect x="1094.2" y="725" width="1.9" height="8" fill="#00a000" fill-opacity="0.1"/>
<rect x="1096" y="724" width="5.9" height="9" fill="#008000" fill-opacity="0.3"/>
<rect x="1102" y="725" width="1.9" height="8" fill="#00a000" fill-opacity="0.1"/>
<rect x="1103.8" y="722.3" width="5.9" height="10.7" fill="#008000" fill-opacity="0.3"/>
<rect x="1109.7" y="726.4" width="1.9" height="6.6" fill="#00a000" fill-opacity="0.1"/>
<rect x="1111.6" y="725.4" width="5.9" height="7.6" fill="#008000" fill-opacity="0.3"/>
<rect x="1117.5" y="726.4" width="1.9" height="6.6" fill="#00a000" fill-opacity="0.1"/>
<rect x="1119.4" y="723.1" width="5.9" height="9.9" fill="#008000" fill-opacity="0.3"/>
<rect x="1125.3" y="724.1" width="1.9" height="8.9" fill="#00a000" fill-opacity="0.1"/>
<rect x="1127.2" y="722.1" width="5.9" height="10.9" fill="#008000" fill-opacity="0.3"/>
<rect x="1133.1" y="726.7" width="1.9" height="6.3" fill="#00a000" fill-opacity="0.1"/>
<rect x="1135" y="725.7" width="5.9" height="7.3" fill="#008000" fill-opacity="0.3"/>
<rect x="1140.9" y="726.7" width="1.9" height="6.3" fill="#00a000" fill-opacity="0.1"/>
<rect x="1142.8" y="722" width="5.9" height="11" fill="#008000" fill-opacity="0.3"/>
<rect x="1148.7" y="724.3" width="1.9" height="8.7" fill="#00a000" fill-opacity="0.1"/>
<rect x="1150.6" y="723.3" width="5.9" height="9.7" fill="#008000" fill-opacity="0.3"/>
<rect x="1156.5" y="725.3" width="1.9" height="7.7" fill="#00a000" fill-opacity="0.1"/>
<rect x="1158.3" y="724.3" width="5.9" height="8.7" fill="#008000" fill-opacity="0.3"/>
<rect x="1164.3" y="725.3" width="1.9" height="7.7" fill="#00a000" fill-opacity="0.1"/>
<rect x="1166.1" y="724.3" width="5.9" height="8.7" fill="#008000" fill-opacity="0.3"/>
<rect x="1172" y="726.2" width="1.9" height="6.8" fill="#00a000" fill-opacity="0.1"/>
<rect x="1173.9" y="725.2" width="5.9" height="7.8" fill="#008000" fill-opacity="0.3"/>
<rect x="1179.8" y="726.2" width="1.9" height="6.8" fill="#00a000" fill-opacity="0.1"/>
<rect x="1181.7" y="724.3" width="5.9" height="8.7" fill="#008000" fill-opacity="0.3"/>
<rect x="1187.6" y="729.9" width="1.9" height="3.1" fill="#00a000" fill-opacity="0.1"/>
<rect x="1189.5" y="728.9" width="5.9" height="4.1" fill="#008000" fill-opacity="0.3"/>
<rect x="1195.4" y="731.5" width="1.9" height="1.5" fill="#00a000" fill-opacity="0.1"/>
<rect x="1197.3" y="730.5" width="5.9" height="2.5" fill="#008000" fill-opacity="0.3"/>
<rect x="1203.2" y="731.5" width="1.9" height="1.5" fill="#00a000" fill-opacity="0.1"/>
<rect x="1205.1" y="724.6" width="5.9" height="8.4" fill="#008000" fill-opacity="0.3"/>
<rect x="1211" y="725.6" width="1.9" height="7.4" fill="#00a000" fill-opacity="0.1"/>
<rect x="1212.9" y="719.5" width="5.9" height="13.5" fill="#008000" fill-opacity="0.3"/>
<rect x="1218.8" y="720.5" width="1.9" height="12.5" fill="#00a000" fill-opacity="0.1"/>
<rect x="1220.6" y="716.3" width="5.9" height="16.7" fill="#008000" fill-opacity="0.3"/>
<rect x="1226.6" y="717.3" width="1.9" height="15.7" fill="#00a000" fill-opacity="0.1"/>
<rect x="1228.4" y="711.7" width="5.9" height="21.3" fill="#008000" fill-opacity="0.3"/>
<rect x="1234.3" y="713.4" width="1.9" height="19.6" fill="#00a000" fill-opacity="0.1"/>
<rect x="1236.2" y="712.4" width="5.9" height="20.6" fill="#008000" fill-opacity="0.3"/>
<rect x="1242.1" y="713.4" width="1.9" height="19.6" fill="#00a000" fill-opacity="0.1"/>
<rect x="1244" y="704.7" width="5.9" height="28.3" fill="#008000" fill-opacity="0.3"/>
<rect x="1249.9" y="705.7" width="1.9" height="27.3" fill="#00a000" fill-opacity="0.1"/>
<rect x="1251.8" y="699.2" width="5.9" height="33.8" fill="#008000" fill-opacity="0.3"/>
<rect x="1257.7" y="702.1" width="1.9" height="30.9" fill="#00a000" fill-opacity="0.1"/>
<rect x="1259.6" y="701.1" width="5.9" height="31.9" fill="#008000" fill-opacity="0.3"/>
<rect x="1265.5" y="702.1" width="1.9" height="30.9" fill="#00a000" fill-opacity="0.1"/>
<rect x="1267.4" y="699.7" width="5.9" height="33.3" fill="#008000" fill-opacity="0.3"/>
<rect x="1273.3" y="700.7" width="1.9" height="32.3" fill="#00a000" fill-opacity="0.1"/>
<rect x="1275.2" y="699.7" width="5.9" height="33.3" fill="#008000" fill-opacity="0.3"/>
<rect x="1281.1" y="700.7" width="1.9" height="32.3" fill="#00a000" fill-opacity="0.1"/>
<rect x="1282.9" y="699.7" width="5.9" height="33.3" fill="#008000" fill-opacity="0.3"/>
<rect x="1288.9" y="700.7" width="1.9" height="32.3" fill="#00a000" fill-opacity="0.1"/>
<rect x="1290.7" y="697.6" width="5.9" height="35.4" fill="#008000" fill-opacity="0.3"/>
<rect x="1296.6" y="700.2" width="1.9" height="32.8" fill="#00a000" fill-opacity="0.1"/>
<rect x="1298.5" y="699.2" width="5.9" height="33.8" fill="#008000" fill-opacity="0.3"/>
<rect x="1304.4" y="703" width="1.9" height="30" fill="#00a000" fill-opacity="0.1"/>
<rect x="1306.3" y="702" width="5.9" height="31" fill="#008000" fill-opacity="0.3"/>
<rect x="1312.2" y="703" width="1.9" height="30" fill="#00a000" fill-opacity="0.1"/>
<rect x="1314.1" y="697.7" width="5.9" height="35.3" fill="#008000" fill-opacity="0.3"/>
<rect x="1320" y="704.7" width="1.9" height="28.3" fill="#00a000" fill-opacity="0.1"/>
<rect x="1321.9" y="703.7" width="5.9" height="29.3" fill="#008000" fill-opacity="0.3"/>
<rect x="1327.8" y="704.7" width="1.9" height="28.3" fill="#00a000" fill-opacity="0.1"/>
<rect x="1329.7" y="701.2" width="5.9" height="31.8" fill="#008000" fill-opacity="0.3"/>
<rect x="1335.6" y="702.2" width="1.9" height="30.8" fill="#00a000" fill-opacity="0.1"/>
<rect x="1337.5" y="696.5" width="5.9" height="36.5" fill="#008000" fill-opacity="0.3"/>
<rect x="1343.4" y="698.5" width="1.9" height="34.5" fill="#00a000" fill-opacity="0.1"/>
<rect x="1345.2" y="697.5" width="5.9" height="35.5" fill="#008000" fill-opacity="0.3"/>
<rect x="1351.2" y="698.5" width="1.9" height="34.5" fill="#00a000" fill-opacity="0.1"/>
<rect x="1353" y="692.9" width="5.9" height="40.1" fill="#008000" fill-opacity="0.3"/>
<rect x="1358.9" y="699.8" width="1.9" height="33.2" fill="#00a000" fill-opacity="0.1"/>
<rect x="1360.8" y="698.8" width="5.9" height="34.2" fill="#008000" fill-opacity="0.3"/>
<rect x="1366.7" y="703.1" width="1.9" height="29.9" fill="#00a000" fill-opacity="0.1"/>
<rect x="1368.6" y="702.1" width="5.9" height="30.9" fill="#008000" fill-opacity="0.3"/>
<rect x="1374.5" y="703.1" width="1.9" height="29.9" fill="#00a000" fill-opacity="0.1"/>
<rect x="1376.4" y="698.6" width="5.9" height="34.4" fill="#008000" fill-opacity="0.3"/>
<rect x="1382.3" y="701.5" width="1.9" height="31.5" fill="#00a000" fill-opacity="0.1"/>
<rect x="1384.2" y="700.5" width="5.9" height="32.5" fill="#008000" fill-opacity="0.3"/>
<rect x="1390.1" y="704.5" width="1.9" height="28.5" fill="#00a000" fill-opacity="0.1"/>
<rect x="1392" y="703.5" width="5.9" height="29.5" fill="#008000" fill-opacity="0.3"/>
<rect x="1397.9" y="704.5" width="1.9" height="28.5" fill="#00a000" fill-opacity="0.1"/>
<rect x="1399.8" y="701.8" width="5.9" height="31.2" fill="#008000" fill-opacity="0.3"/>
<rect x="1405.7" y="702.8" width="1.9" height="30.2" fill="#00a000" fill-opacity="0.1"/>
<rect x="1407.5" y="701.6" width="5.9" height="31.4" fill="#008000" fill-opacity="0.3"/>
<rect x="1413.5" y="702.6" width="1.9" height="30.4" fill="#00a000" fill-opacity="0.1"/>
<rect x="1415.3" y="699.3" width="5.9" height="33.7" fill="#008000" fill-opacity="0.3"/>
<rect x="1421.2" y="704.2" width="1.9" height="28.8" fill="#00a000" fill-opacity="0.1"/>
<rect x="1423.1" y="703.2" width="5.9" height="29.8" fill="#008000" fill-opacity="0.3"/>
<rect x="1429" y="704.8" width="1.9" height="28.2" fill="#00a000" fill-opacity="0.1"/>
<rect x="1430.9" y="703.8" width="5.9" height="29.2" fill="#008000" fill-opacity="0.3"/>
<rect x="1436.8" y="705.6" width="1.9" height="27.4" fill="#00a000" fill-opacity="0.1"/>
<rect x="1438.7" y="704.6" width="5.9" height="28.4" fill="#008000" fill-opacity="0.3"/>
<rect x="1444.6" y="705.6" width="1.9" height="27.4" fill="#00a000" fill-opacity="0.1"/>
<rect x="1446.5" y="703.9" width="5.9" height="29.1" fill="#008000" fill-opacity="0.3"/>
<rect x="1452.4" y="704.9" width="1.9" height="28.1" fill="#00a000" fill-opacity="0.1"/>
<rect x="1454.3" y="701.2" width="5.9" height="31.8" fill="#008000" fill-opacity="0.3"/>
<rect x="1460.2" y="702.2" width="1.9" height="30.8" fill="#00a000" fill-opacity="0.1"/>
<rect x="1462.1" y="699.3" width="5.9" height="33.7" fill="#008000" fill-opacity="0.3"/>
<rect x="1468" y="702.6" width="1.9" height="30.4" fill="#00a000" fill-opacity="0.1"/>
<rect x="1469.8" y="701.6" width="5.9" height="31.4" fill="#008000" fill-opacity="0.3"/>
<rect x="1475.8" y="702.6" width="1.9" height="30.4" fill="#00a000" fill-opacity="0.1"/>
<rect x="1477.6" y="700.2" width="5.9" height="32.8" fill="#008000" fill-opacity="0.3"/>
<rect x="1483.5" y="701.2" width="1.9" height="31.8" fill="#00a000" fill-opacity="0.1"/>
<rect x="1485.4" y="698.4" width="5.9" height="34.6" fill="#008000" fill-opacity="0.3"/>
<rect x="1491.3" y="699.8" width="1.9" height="33.2" fill="#00a000" fill-opacity="0.1"/>
<rect x="1493.2" y="698.8" width="5.9" height="34.2" fill="#008000" fill-opacity="0.3"/>
<rect x="1499.1" y="702" width="1.9" height="31" fill="#00a000" fill-opacity="0.1"/>
<rect x="1501" y="701" width="5.9" height="32" fill="#008000" fill-opacity="0.3"/>
<rect x="1506.9" y="705" width="1.9" height="28" fill="#00a000" fill-opacity="0.1"/>
<rect x="1508.8" y="704" width="5.9" height="29" fill="#008000" fill-opacity="0.3"/>
<rect x="1514.7" y="705" width="1.9" height="28" fill="#00a000" fill-opacity="0.1"/>
<rect x="1516.6" y="702.4" width="5.9" height="30.6" fill="#008000" fill-opacity="0.3"/>
<rect x="1522.5" y="704.2" width="1.9" height="28.8" fill="#00a000" fill-opacity="0.1"/>
<rect x="1524.4" y="703.2" width="5.9" height="29.8" fill="#008000" fill-opacity="0.3"/>
<rect x="1530.3" y="706.4" width="1.9" height="26.6" fill="#00a000" fill-opacity="0.1"/>
<rect x="1532.1" y="705.4" width="5.9" height="27.6" fill="#008000" fill-opacity="0.3"/>
<rect x="1538.1" y="706.4" width="1.9" height="26.6" fill="#00a000" fill-opacity="0.1"/>
<rect x="1539.9" y="702.1" width="5.9" height="30.9" fill="#008000" fill-opacity="0.3"/>
<rect x="1545.8" y="703.1" width="1.9" height="29.9" fill="#00a000" fill-opacity="0.1"/>
<rect x="1547.7" y="701.6" width="5.9" height="31.4" fill="#008000" fill-opacity="0.3"/>
<rect x="1553.6" y="703.4" width="1.9" height="29.6" fill="#00a000" fill-opacity="0.1"/>
<rect x="1555.5" y="702.4" width="5.9" height="30.6" fill="#008000" fill-opacity="0.3"/>
<rect x="1561.4" y="704.3" width="1.9" height="28.7" fill="#00a000" fill-opacity="0.1"/>
<rect x="1563.3" y="703.3" width="5.9" height="29.7" fill="#008000" fill-opacity="0.3"/>
<rect x="1569.2" y="704.3" width="1.9" height="28.7" fill="#00a000" fill-opacity="0.1"/>
<rect x="1571.1" y="698.5" width="5.9" height="34.5" fill="#008000" fill-opacity="0.3"/>
<rect x="1577" y="699.5" width="1.9" height="33.5" fill="#00a000" fill-opacity="0.1"/>
<rect x="1578.9" y="692.9" width="5.9" height="40.1" fill="#008000" fill-opacity="0.3"/>
<rect x="1584.8" y="696.1" width="1.9" height="36.9" fill="#00a000" fill-opacity="0.1"/>
<rect x="1586.7" y="695.1" width="5.9" height="37.9" fill="#008000" fill-opacity="0.3"/>
<rect x="1592.6" y="696.1" width="1.9" height="36.9" fill="#00a000" fill-opacity="0.1"/>
<rect x="1594.4" y="692.3" width="5.9" height="40.7" fill="#008000" fill-opacity="0.3"/>
<rect x="1600.4" y="696" width="1.9" height="37" fill="#00a000" fill-opacity="0.1"/>
<rect x="1602.2" y="695" width="5.9" height="38" fill="#008000" fill-opacity="0.3"/>
<rect x="1608.1" y="696" width="1.9" height="37" fill="#00a000" fill-opacity="0.1"/>
<rect x="1610" y="689.8" width="5.9" height="43.2" fill="#008000" fill-opacity="0.3"/>
<rect x="1615.9" y="696.2" width="1.9" height="36.8" fill="#00a000" fill-opacity="0.1"/>
<rect x="1617.8" y="695.2" width="5.9" height="37.8" fill="#008000" fill-opacity="0.3"/>
<rect x="1623.7" y="696.2" width="1.9" height="36.8" fill="#00a000" fill-opacity="0.1"/>
<rect x="1625.6" y="691.1" width="5.9" height="41.9" fill="#008000" fill-opacity="0.3"/>
<rect x="1631.5" y="692.1" width="1.9" height="40.9" fill="#00a000" fill-opacity="0.1"/>
<rect x="1633.4" y="684.9" width="5.9" height="48.1" fill="#008000" fill-opacity="0.3"/>
<rect x="1639.3" y="689" width="1.9" height="44" fill="#00a000" fill-opacity="0.1"/>
<rect x="1641.2" y="688" width="5.9" height="45" fill="#008000" fill-opacity="0.3"/>
<rect x="1647.1" y="693.6" width="1.9" height="39.4" fill="#00a000" fill-opacity="0.1"/>
<rect x="1649" y="692.6" width="5.9" height="40.4" fill="#008000" fill-opacity="0.3"/>
<rect x="1654.9" y="696.2" width="1.9" height="36.8" fill="#00a000" fill-opacity="0.1"/>
<rect x="1656.7" y="695.2" width="5.9" height="37.8" fill="#008000" fill-opacity="0.3"/>
<rect x="1662.7" y="696.2" width="1.9" height="36.8" fill="#00a000" fill-opacity="0.1"/>
<rect x="1664.5" y="692.9" width="5.9" height="40.1" fill="#008000" fill-opacity="0.3"/>
<rect x="1670.4" y="702.7" width="1.9" height="30.3" fill="#00a000" fill-opacity="0.1"/>
<rect x="1672.3" y="701.7" width="5.9" height="31.3" fill="#008000" fill-opacity="0.3"/>
<rect x="1678.2" y="705.6" width="1.9" height="27.4" fill="#00a000" fill-opacity="0.1"/>
<rect x="1680.1" y="704.6" width="5.9" height="28.4" fill="#008000" fill-opacity="0.3"/>
<rect x="1686" y="705.7" width="1.9" height="27.3" fill="#00a000" fill-opacity="0.1"/>
<rect x="1687.9" y="704.7" width="5.9" height="28.3" fill="#008000" fill-opacity="0.3"/>
<rect x="1693.8" y="708.6" width="1.9" height="24.4" fill="#00a000" fill-opacity="0.1"/>
<rect x="1695.7" y="707.6" width="5.9" height="25.4" fill="#008000" fill-opacity="0.3"/>
<rect x="1701.6" y="708.9" width="1.9" height="24.1" fill="#00a000" fill-opacity="0.1"/>
<rect x="1703.5" y="707.9" width="5.9" height="25.1" fill="#008000" fill-opacity="0.3"/>
<rect x="1709.4" y="710" width="1.9" height="23" fill="#00a000" fill-opacity="0.1"/>
<rect x="1711.3" y="709" width="5.9" height="24" fill="#008000" fill-opacity="0.3"/>
<rect x="1717.2" y="711.8" width="1.9" height="21.2" fill="#00a000" fill-opacity="0.1"/>
<rect x="1719" y="710.8" width="5.9" height="22.2" fill="#008000" fill-opacity="0.3"/>
<rect x="1725" y="713.1" width="1.9" height="19.9" fill="#00a000" fill-opacity="0.1"/>
<rect x="1726.8" y="712.1" width="5.9" height="20.9" fill="#008000" fill-opacity="0.3"/>
<rect x="1732.7" y="714.9" width="1.9" height="18.1" fill="#00a000" fill-opacity="0.1"/>
<rect x="1734.6" y="713.9" width="5.9" height="19.1" fill="#008000" fill-opacity="0.3"/>
<rect x="1740.5" y="716.2" width="1.9" height="16.8" fill="#00a000" fill-opacity="0.1"/>
<rect x="1742.4" y="715.2" width="5.9" height="17.8" fill="#008000" fill-opacity="0.3"/>
<rect x="1748.3" y="721.2" width="1.9" height="11.8" fill="#00a000" fill-opacity="0.1"/>
<rect x="1750.2" y="720.2" width="5.9" height="12.8" fill="#008000" fill-opacity="0.3"/>
<rect x="1756.1" y="721.6" width="1.9" height="11.4" fill="#00a000" fill-opacity="0.1"/>
<rect x="1758" y="720.6" width="5.9" height="12.4" fill="#008000" fill-opacity="0.3"/>
<rect x="1763.9" y="721.6" width="1.9" height="11.4" fill="#00a000" fill-opacity="0.1"/>
<rect x="1765.8" y="717.2" width="5.9" height="15.8" fill="#008000" fill-opacity="0.3"/>
<rect x="1771.7" y="718.2" width="1.9" height="14.8" fill="#00a000" fill-opacity="0.1"/>
<rect x="1773.6" y="716.4" width="5.9" height="16.6" fill="#008000" fill-opacity="0.3"/>
<g stroke="#1f1fff" stroke-width="1.6" opacity="0.45"><line x1="1036.7" y1="641.7" x2="1036.7" y2="657.2"/><line x1="1036.7" y1="669.7" x2="1036.7" y2="692.5"/><line x1="1034.8" y1="641.7" x2="1038.6" y2="641.7"/><line x1="1034.8" y1="692.5" x2="1038.6" y2="692.5"/><rect x="1033.6" y="657.2" width="6.2" height="12.4" fill="none"/></g>
<g stroke="#1f1fff" stroke-width="1.6" opacity="0.95"><line x1="1044.5" y1="648" x2="1044.5" y2="656.3"/><line x1="1044.5" y1="669.1" x2="1044.5" y2="692.2"/><line x1="1042.6" y1="648" x2="1046.4" y2="648"/><line x1="1042.6" y1="692.2" x2="1046.4" y2="692.2"/><rect x="1041.4" y="656.3" width="6.2" height="12.7" fill="none"/></g>
<g stroke="#1f1fff" stroke-width="1.6" opacity="0.95"><line x1="1052.3" y1="648.1" x2="1052.3" y2="655.3"/><line x1="1052.3" y1="666.3" x2="1052.3" y2="687.3"/><line x1="1050.4" y1="648.1" x2="1054.1" y2="648.1"/><line x1="1050.4" y1="687.3" x2="1054.1" y2="687.3"/><rect x="1049.2" y="655.3" width="6.2" height="11" fill="none"/></g>
<g stroke="#1f1fff" stroke-width="1.6" opacity="0.95"><line x1="1060.1" y1="638.8" x2="1060.1" y2="654.4"/><line x1="1060.1" y1="667.9" x2="1060.1" y2="682.9"/><line x1="1058.2" y1="638.8" x2="1061.9" y2="638.8"/><line x1="1058.2" y1="682.9" x2="1061.9" y2="682.9"/><rect x="1056.9" y="654.4" width="6.2" height="13.5" fill="none"/><line x1="1057.6" y1="621.2" x2="1062.6" y2="621.2"/></g>
<g stroke="#1f1fff" stroke-width="1.6" opacity="0.95"><line x1="1067.9" y1="640" x2="1067.9" y2="656.2"/><line x1="1067.9" y1="667.9" x2="1067.9" y2="690.5"/><line x1="1066" y1="640" x2="1069.7" y2="640"/><line x1="1066" y1="690.5" x2="1069.7" y2="690.5"/><rect x="1064.7" y="656.2" width="6.2" height="11.7" fill="none"/><line x1="1065.4" y1="626.8" x2="1070.4" y2="626.8"/></g>
<g stroke="#1f1fff" stroke-width="1.6" opacity="0.95"><line x1="1075.6" y1="642.1" x2="1075.6" y2="652.8"/><line x1="1075.6" y1="670.2" x2="1075.6" y2="688.2"/><line x1="1073.8" y1="642.1" x2="1077.5" y2="642.1"/><line x1="1073.8" y1="688.2" x2="1077.5" y2="688.2"/><rect x="1072.5" y="652.8" width="6.2" height="17.4" fill="none"/><line x1="1073.1" y1="635.9" x2="1078.1" y2="635.9"/></g>
<g stroke="#1f1fff" stroke-width="1.6" opacity="0.95"><line x1="1083.4" y1="636.7" x2="1083.4" y2="653.4"/><line x1="1083.4" y1="668.4" x2="1083.4" y2="678.9"/><line x1="1081.6" y1="636.7" x2="1085.3" y2="636.7"/><line x1="1081.6" y1="678.9" x2="1085.3" y2="678.9"/><rect x="1080.3" y="653.4" width="6.2" height="15" fill="none"/></g>
<g stroke="#1f1fff" stroke-width="1.6" opacity="0.95"><line x1="1091.2" y1="647.8" x2="1091.2" y2="656.2"/><line x1="1091.2" y1="670" x2="1091.2" y2="692.4"/><line x1="1089.3" y1="647.8" x2="1093.1" y2="647.8"/><line x1="1089.3" y1="692.4" x2="1093.1" y2="692.4"/><rect x="1088.1" y="656.2" width="6.2" height="13.8" fill="none"/><line x1="1088.7" y1="642.3" x2="1093.7" y2="642.3"/></g>
<g stroke="#1f1fff" stroke-width="1.6" opacity="0.95"><line x1="1099" y1="641.6" x2="1099" y2="656.9"/><line x1="1099" y1="667.5" x2="1099" y2="688"/><line x1="1097.1" y1="641.6" x2="1100.9" y2="641.6"/><line x1="1097.1" y1="688" x2="1100.9" y2="688"/><rect x="1095.9" y="656.9" width="6.2" height="10.5" fill="none"/></g>
<g stroke="#1f1fff" stroke-width="1.6" opacity="0.45"><line x1="1106.8" y1="645" x2="1106.8" y2="652.5"/><line x1="1106.8" y1="672.1" x2="1106.8" y2="682.4"/><line x1="1104.9" y1="645" x2="1108.7" y2="645"/><line x1="1104.9" y1="682.4" x2="1108.7" y2="682.4"/><rect x="1103.7" y="652.5" width="6.2" height="19.6" fill="none"/><line x1="1104.3" y1="633" x2="1109.3" y2="633"/></g>
<g stroke="#1f1fff" stroke-width="1.6" opacity="0.95"><line x1="1114.6" y1="642" x2="1114.6" y2="653"/><line x1="1114.6" y1="668.4" x2="1114.6" y2="681.8"/><line x1="1112.7" y1="642" x2="1116.4" y2="642"/><line x1="1112.7" y1="681.8" x2="1116.4" y2="681.8"/><rect x="1111.5" y="653" width="6.2" height="15.4" fill="none"/></g>
<g stroke="#1f1fff" stroke-width="1.6" opacity="0.95"><line x1="1122.4" y1="640.2" x2="1122.4" y2="655.5"/><line x1="1122.4" y1="669.4" x2="1122.4" y2="690.6"/><line x1="1120.5" y1="640.2" x2="1124.2" y2="640.2"/><line x1="1120.5" y1="690.6" x2="1124.2" y2="690.6"/><rect x="1119.2" y="655.5" width="6.2" height="13.9" fill="none"/></g>
<g stroke="#1f1fff" stroke-width="1.6" opacity="0.95"><line x1="1130.2" y1="651.3" x2="1130.2" y2="659.9"/><line x1="1130.2" y1="671.8" x2="1130.2" y2="691.4"/><line x1="1128.3" y1="651.3" x2="1132" y2="651.3"/><line x1="1128.3" y1="691.4" x2="1132" y2="691.4"/><rect x="1127" y="659.9" width="6.2" height="11.9" fill="none"/><line x1="1127.7" y1="642.4" x2="1132.7" y2="642.4"/></g>
<g stroke="#1f1fff" stroke-width="1.6" opacity="0.45"><line x1="1137.9" y1="647.8" x2="1137.9" y2="656.5"/><line x1="1137.9" y1="672.9" x2="1137.9" y2="685.9"/><line x1="1136.1" y1="647.8" x2="1139.8" y2="647.8"/><line x1="1136.1" y1="685.9" x2="1139.8" y2="685.9"/><rect x="1134.8" y="656.5" width="6.2" height="16.4" fill="none"/><line x1="1135.4" y1="637.8" x2="1140.4" y2="637.8"/></g>
<g stroke="#1f1fff" stroke-width="1.6" opacity="0.95"><line x1="1145.7" y1="649.2" x2="1145.7" y2="658.9"/><line x1="1145.7" y1="669.5" x2="1145.7" y2="681.2"/><line x1="1143.9" y1="649.2" x2="1147.6" y2="649.2"/><line x1="1143.9" y1="681.2" x2="1147.6" y2="681.2"/><rect x="1142.6" y="658.9" width="6.2" height="10.6" fill="none"/><line x1="1143.2" y1="686.8" x2="1148.2" y2="686.8"/></g>
<g stroke="#1f1fff" stroke-width="1.6" opacity="0.45"><line x1="1153.5" y1="640.2" x2="1153.5" y2="657"/><line x1="1153.5" y1="672.6" x2="1153.5" y2="694.2"/><line x1="1151.6" y1="640.2" x2="1155.4" y2="640.2"/><line x1="1151.6" y1="694.2" x2="1155.4" y2="694.2"/><rect x="1150.4" y="657" width="6.2" height="15.6" fill="none"/></g>
<g stroke="#1f1fff" stroke-width="1.6" opacity="0.95"><line x1="1161.3" y1="642.6" x2="1161.3" y2="654.4"/><line x1="1161.3" y1="668.2" x2="1161.3" y2="681.5"/><line x1="1159.4" y1="642.6" x2="1163.2" y2="642.6"/><line x1="1159.4" y1="681.5" x2="1163.2" y2="681.5"/><rect x="1158.2" y="654.4" width="6.2" height="13.8" fill="none"/></g>
<g stroke="#1f1fff" stroke-width="1.6" opacity="0.45"><line x1="1169.1" y1="637.6" x2="1169.1" y2="654.1"/><line x1="1169.1" y1="674.1" x2="1169.1" y2="694.8"/><line x1="1167.2" y1="637.6" x2="1171" y2="637.6"/><line x1="1167.2" y1="694.8" x2="1171" y2="694.8"/><rect x="1166" y="654.1" width="6.2" height="20" fill="none"/><line x1="1166.6" y1="623.3" x2="1171.6" y2="623.3"/></g>
<g stroke="#1f1fff" stroke-width="1.6" opacity="0.45"><line x1="1176.9" y1="646" x2="1176.9" y2="654.4"/><line x1="1176.9" y1="669.7" x2="1176.9" y2="686.2"/><line x1="1175" y1="646" x2="1178.7" y2="646"/><line x1="1175" y1="686.2" x2="1178.7" y2="686.2"/><rect x="1173.8" y="654.4" width="6.2" height="15.3" fill="none"/><line x1="1174.4" y1="690.1" x2="1179.4" y2="690.1"/></g>
<g stroke="#1f1fff" stroke-width="1.6" opacity="0.95"><line x1="1184.7" y1="631.7" x2="1184.7" y2="638.9"/><line x1="1184.7" y1="669.4" x2="1184.7" y2="678.4"/><line x1="1182.8" y1="631.7" x2="1186.5" y2="631.7"/><line x1="1182.8" y1="678.4" x2="1186.5" y2="678.4"/><rect x="1181.5" y="638.9" width="6.2" height="30.5" fill="none"/></g>
<g stroke="#1f1fff" stroke-width="1.6" opacity="0.45"><line x1="1192.5" y1="604.9" x2="1192.5" y2="623.9"/><line x1="1192.5" y1="658" x2="1192.5" y2="668"/><line x1="1190.6" y1="604.9" x2="1194.3" y2="604.9"/><line x1="1190.6" y1="668" x2="1194.3" y2="668"/><rect x="1189.3" y="623.9" width="6.2" height="34.1" fill="none"/></g>
<g stroke="#1f1fff" stroke-width="1.6" opacity="0.95"><line x1="1200.2" y1="500" x2="1200.2" y2="538.1"/><line x1="1200.2" y1="617.7" x2="1200.2" y2="636"/><line x1="1198.4" y1="500" x2="1202.1" y2="500"/><line x1="1198.4" y1="636" x2="1202.1" y2="636"/><rect x="1197.1" y="538.1" width="6.2" height="79.6" fill="none"/></g>
<g stroke="#1f1fff" stroke-width="1.6" opacity="0.95"><line x1="1208" y1="429" x2="1208" y2="439"/><line x1="1208" y1="541.1" x2="1208" y2="600.5"/><line x1="1206.2" y1="429" x2="1209.9" y2="429"/><line x1="1206.2" y1="600.5" x2="1209.9" y2="600.5"/><rect x="1204.9" y="439" width="6.2" height="102.1" fill="none"/></g>
<g stroke="#1f1fff" stroke-width="1.6" opacity="0.45"><line x1="1215.8" y1="381" x2="1215.8" y2="475.7"/><line x1="1215.8" y1="522.7" x2="1215.8" y2="601.4"/><line x1="1213.9" y1="381" x2="1217.7" y2="381"/><line x1="1213.9" y1="601.4" x2="1217.7" y2="601.4"/><rect x="1212.7" y="475.7" width="6.2" height="47" fill="none"/></g>
<g stroke="#1f1fff" stroke-width="1.6" opacity="0.95"><line x1="1223.6" y1="344.3" x2="1223.6" y2="444.5"/><line x1="1223.6" y1="518.4" x2="1223.6" y2="545.9"/><line x1="1221.7" y1="344.3" x2="1225.5" y2="344.3"/><line x1="1221.7" y1="545.9" x2="1225.5" y2="545.9"/><rect x="1220.5" y="444.5" width="6.2" height="73.8" fill="none"/></g>
<g stroke="#1f1fff" stroke-width="1.6" opacity="0.45"><line x1="1231.4" y1="376.9" x2="1231.4" y2="452.3"/><line x1="1231.4" y1="523.4" x2="1231.4" y2="559.5"/><line x1="1229.5" y1="376.9" x2="1233.3" y2="376.9"/><line x1="1229.5" y1="559.5" x2="1233.3" y2="559.5"/><rect x="1228.3" y="452.3" width="6.2" height="71.1" fill="none"/></g>
<g stroke="#1f1fff" stroke-width="1.6" opacity="0.95"><line x1="1239.2" y1="381.8" x2="1239.2" y2="433.6"/><line x1="1239.2" y1="540.4" x2="1239.2" y2="569.3"/><line x1="1237.3" y1="381.8" x2="1241" y2="381.8"/><line x1="1237.3" y1="569.3" x2="1241" y2="569.3"/><rect x="1236.1" y="433.6" width="6.2" height="106.8" fill="none"/></g>
<g stroke="#1f1fff" stroke-width="1.6" opacity="0.95"><line x1="1247" y1="422.2" x2="1247" y2="479.6"/><line x1="1247" y1="544.7" x2="1247" y2="566.6"/><line x1="1245.1" y1="422.2" x2="1248.8" y2="422.2"/><line x1="1245.1" y1="566.6" x2="1248.8" y2="566.6"/><rect x="1243.8" y="479.6" width="6.2" height="65.1" fill="none"/></g>
<g stroke="#1f1fff" stroke-width="1.6" opacity="0.95"><line x1="1254.8" y1="454.8" x2="1254.8" y2="515.6"/><line x1="1254.8" y1="584.3" x2="1254.8" y2="618.4"/><line x1="1252.9" y1="454.8" x2="1256.6" y2="454.8"/><line x1="1252.9" y1="618.4" x2="1256.6" y2="618.4"/><rect x="1251.6" y="515.6" width="6.2" height="68.8" fill="none"/></g>
<g stroke="#1f1fff" stroke-width="1.6" opacity="0.95"><line x1="1262.5" y1="483.5" x2="1262.5" y2="528.4"/><line x1="1262.5" y1="600.7" x2="1262.5" y2="627.8"/><line x1="1260.7" y1="483.5" x2="1264.4" y2="483.5"/><line x1="1260.7" y1="627.8" x2="1264.4" y2="627.8"/><rect x="1259.4" y="528.4" width="6.2" height="72.3" fill="none"/></g>
<g stroke="#1f1fff" stroke-width="1.6" opacity="0.95"><line x1="1270.3" y1="447.7" x2="1270.3" y2="545.9"/><line x1="1270.3" y1="609.9" x2="1270.3" y2="627.6"/><line x1="1268.5" y1="447.7" x2="1272.2" y2="447.7"/><line x1="1268.5" y1="627.6" x2="1272.2" y2="627.6"/><rect x="1267.2" y="545.9" width="6.2" height="64" fill="none"/></g>
<g stroke="#1f1fff" stroke-width="1.6" opacity="0.45"><line x1="1278.1" y1="496" x2="1278.1" y2="561.5"/><line x1="1278.1" y1="621.2" x2="1278.1" y2="634.7"/><line x1="1276.2" y1="496" x2="1280" y2="496"/><line x1="1276.2" y1="634.7" x2="1280" y2="634.7"/><rect x="1275" y="561.5" width="6.2" height="59.7" fill="none"/></g>
<g stroke="#1f1fff" stroke-width="1.6" opacity="0.95"><line x1="1285.9" y1="508" x2="1285.9" y2="572.3"/><line x1="1285.9" y1="621.9" x2="1285.9" y2="635.5"/><line x1="1284" y1="508" x2="1287.8" y2="508"/><line x1="1284" y1="635.5" x2="1287.8" y2="635.5"/><rect x="1282.8" y="572.3" width="6.2" height="49.6" fill="none"/></g>
<g stroke="#1f1fff" stroke-width="1.6" opacity="0.95"><line x1="1293.7" y1="538.1" x2="1293.7" y2="569.5"/><line x1="1293.7" y1="629" x2="1293.7" y2="643.3"/><line x1="1291.8" y1="538.1" x2="1295.6" y2="538.1"/><line x1="1291.8" y1="643.3" x2="1295.6" y2="643.3"/><rect x="1290.6" y="569.5" width="6.2" height="59.5" fill="none"/></g>
<g stroke="#1f1fff" stroke-width="1.6" opacity="0.95"><line x1="1301.5" y1="541.1" x2="1301.5" y2="596.4"/><line x1="1301.5" y1="635.5" x2="1301.5" y2="645.3"/><line x1="1299.6" y1="541.1" x2="1303.3" y2="541.1"/><line x1="1299.6" y1="645.3" x2="1303.3" y2="645.3"/><rect x="1298.4" y="596.4" width="6.2" height="39.1" fill="none"/></g>
<g stroke="#1f1fff" stroke-width="1.6" opacity="0.45"><line x1="1309.3" y1="563.2" x2="1309.3" y2="597.4"/><line x1="1309.3" y1="634" x2="1309.3" y2="643.5"/><line x1="1307.4" y1="563.2" x2="1311.1" y2="563.2"/><line x1="1307.4" y1="643.5" x2="1311.1" y2="643.5"/><rect x="1306.1" y="597.4" width="6.2" height="36.6" fill="none"/><line x1="1306.8" y1="657.5" x2="1311.8" y2="657.5"/></g>
<g stroke="#1f1fff" stroke-width="1.6" opacity="0.95"><line x1="1317" y1="602.4" x2="1317" y2="623"/><line x1="1317" y1="636" x2="1317" y2="646.6"/><line x1="1315.2" y1="602.4" x2="1318.9" y2="602.4"/><line x1="1315.2" y1="646.6" x2="1318.9" y2="646.6"/><rect x="1313.9" y="623" width="6.2" height="13" fill="none"/></g>
<g stroke="#1f1fff" stroke-width="1.6" opacity="0.95"><line x1="1324.8" y1="590.1" x2="1324.8" y2="624.5"/><line x1="1324.8" y1="639.8" x2="1324.8" y2="654.1"/><line x1="1323" y1="590.1" x2="1326.7" y2="590.1"/><line x1="1323" y1="654.1" x2="1326.7" y2="654.1"/><rect x="1321.7" y="624.5" width="6.2" height="15.2" fill="none"/></g>
<g stroke="#1f1fff" stroke-width="1.6" opacity="0.95"><line x1="1332.6" y1="602.8" x2="1332.6" y2="627.7"/><line x1="1332.6" y1="643.6" x2="1332.6" y2="654.9"/><line x1="1330.8" y1="602.8" x2="1334.5" y2="602.8"/><line x1="1330.8" y1="654.9" x2="1334.5" y2="654.9"/><rect x="1329.5" y="627.7" width="6.2" height="16" fill="none"/><line x1="1330.1" y1="668" x2="1335.1" y2="668"/></g>
<g stroke="#1f1fff" stroke-width="1.6" opacity="0.45"><line x1="1340.4" y1="617.8" x2="1340.4" y2="633.8"/><line x1="1340.4" y1="647.2" x2="1340.4" y2="655.4"/><line x1="1338.5" y1="617.8" x2="1342.3" y2="617.8"/><line x1="1338.5" y1="655.4" x2="1342.3" y2="655.4"/><rect x="1337.3" y="633.8" width="6.2" height="13.4" fill="none"/><line x1="1337.9" y1="665.2" x2="1342.9" y2="665.2"/></g>
<g stroke="#1f1fff" stroke-width="1.6" opacity="0.45"><line x1="1348.2" y1="622.2" x2="1348.2" y2="637.5"/><line x1="1348.2" y1="649" x2="1348.2" y2="659.2"/><line x1="1346.3" y1="622.2" x2="1350.1" y2="622.2"/><line x1="1346.3" y1="659.2" x2="1350.1" y2="659.2"/><rect x="1345.1" y="637.5" width="6.2" height="11.5" fill="none"/><line x1="1345.7" y1="664.1" x2="1350.7" y2="664.1"/></g>
<g stroke="#1f1fff" stroke-width="1.6" opacity="0.45"><line x1="1356" y1="616.9" x2="1356" y2="637.5"/><line x1="1356" y1="646.6" x2="1356" y2="657.2"/><line x1="1354.1" y1="616.9" x2="1357.9" y2="616.9"/><line x1="1354.1" y1="657.2" x2="1357.9" y2="657.2"/><rect x="1352.9" y="637.5" width="6.2" height="9.1" fill="none"/></g>
<g stroke="#1f1fff" stroke-width="1.6" opacity="0.45"><line x1="1363.8" y1="623" x2="1363.8" y2="637.1"/><line x1="1363.8" y1="647.4" x2="1363.8" y2="658.9"/><line x1="1361.9" y1="623" x2="1365.6" y2="623"/><line x1="1361.9" y1="658.9" x2="1365.6" y2="658.9"/><rect x="1360.7" y="637.1" width="6.2" height="10.3" fill="none"/></g>
<g stroke="#1f1fff" stroke-width="1.6" opacity="0.95"><line x1="1371.6" y1="618.6" x2="1371.6" y2="638.8"/><line x1="1371.6" y1="646.8" x2="1371.6" y2="658.4"/><line x1="1369.7" y1="618.6" x2="1373.4" y2="618.6"/><line x1="1369.7" y1="658.4" x2="1373.4" y2="658.4"/><rect x="1368.4" y="638.8" width="6.2" height="8" fill="none"/></g>
<g stroke="#1f1fff" stroke-width="1.6" opacity="0.45"><line x1="1379.3" y1="618.5" x2="1379.3" y2="637"/><line x1="1379.3" y1="645.6" x2="1379.3" y2="657.3"/><line x1="1377.5" y1="618.5" x2="1381.2" y2="618.5"/><line x1="1377.5" y1="657.3" x2="1381.2" y2="657.3"/><rect x="1376.2" y="637" width="6.2" height="8.6" fill="none"/></g>
<g stroke="#1f1fff" stroke-width="1.6" opacity="0.45"><line x1="1387.1" y1="625" x2="1387.1" y2="636.8"/><line x1="1387.1" y1="647.8" x2="1387.1" y2="654.4"/><line x1="1385.3" y1="625" x2="1389" y2="625"/><line x1="1385.3" y1="654.4" x2="1389" y2="654.4"/><rect x="1384" y="636.8" width="6.2" height="11" fill="none"/><line x1="1384.6" y1="615.9" x2="1389.6" y2="615.9"/></g>
<g stroke="#1f1fff" stroke-width="1.6" opacity="0.45"><line x1="1394.9" y1="620.3" x2="1394.9" y2="639.4"/><line x1="1394.9" y1="646.1" x2="1394.9" y2="652.5"/><line x1="1393.1" y1="620.3" x2="1396.8" y2="620.3"/><line x1="1393.1" y1="652.5" x2="1396.8" y2="652.5"/><rect x="1391.8" y="639.4" width="6.2" height="6.7" fill="none"/></g>
<g stroke="#1f1fff" stroke-width="1.6" opacity="0.45"><line x1="1402.7" y1="619.7" x2="1402.7" y2="635"/><line x1="1402.7" y1="644.8" x2="1402.7" y2="653.8"/><line x1="1400.8" y1="619.7" x2="1404.6" y2="619.7"/><line x1="1400.8" y1="653.8" x2="1404.6" y2="653.8"/><rect x="1399.6" y="635" width="6.2" height="9.8" fill="none"/><line x1="1400.2" y1="601.7" x2="1405.2" y2="601.7"/></g>
<g stroke="#1f1fff" stroke-width="1.6" opacity="0.95"><line x1="1410.5" y1="620.4" x2="1410.5" y2="636.6"/><line x1="1410.5" y1="644.9" x2="1410.5" y2="653.3"/><line x1="1408.6" y1="620.4" x2="1412.4" y2="620.4"/><line x1="1408.6" y1="653.3" x2="1412.4" y2="653.3"/><rect x="1407.4" y="636.6" width="6.2" height="8.3" fill="none"/></g>
<g stroke="#1f1fff" stroke-width="1.6" opacity="0.45"><line x1="1418.3" y1="613.1" x2="1418.3" y2="634.6"/><line x1="1418.3" y1="645.6" x2="1418.3" y2="656.8"/><line x1="1416.4" y1="613.1" x2="1420.2" y2="613.1"/><line x1="1416.4" y1="656.8" x2="1420.2" y2="656.8"/><rect x="1415.2" y="634.6" width="6.2" height="10.9" fill="none"/><line x1="1415.8" y1="669.8" x2="1420.8" y2="669.8"/></g>
<g stroke="#1f1fff" stroke-width="1.6" opacity="0.45"><line x1="1426.1" y1="617.5" x2="1426.1" y2="634.8"/><line x1="1426.1" y1="648" x2="1426.1" y2="658.2"/><line x1="1424.2" y1="617.5" x2="1427.9" y2="617.5"/><line x1="1424.2" y1="658.2" x2="1427.9" y2="658.2"/><rect x="1423" y="634.8" width="6.2" height="13.2" fill="none"/></g>
<g stroke="#1f1fff" stroke-width="1.6" opacity="0.95"><line x1="1433.9" y1="613.6" x2="1433.9" y2="634.6"/><line x1="1433.9" y1="645.1" x2="1433.9" y2="653.5"/><line x1="1432" y1="613.6" x2="1435.7" y2="613.6"/><line x1="1432" y1="653.5" x2="1435.7" y2="653.5"/><rect x="1430.7" y="634.6" width="6.2" height="10.5" fill="none"/><line x1="1431.4" y1="659.7" x2="1436.4" y2="659.7"/></g>
<g stroke="#1f1fff" stroke-width="1.6" opacity="0.95"><line x1="1441.7" y1="614.1" x2="1441.7" y2="634.3"/><line x1="1441.7" y1="644.9" x2="1441.7" y2="652.4"/><line x1="1439.8" y1="614.1" x2="1443.5" y2="614.1"/><line x1="1439.8" y1="652.4" x2="1443.5" y2="652.4"/><rect x="1438.5" y="634.3" width="6.2" height="10.6" fill="none"/><line x1="1439.2" y1="658.4" x2="1444.2" y2="658.4"/></g>
<g stroke="#1f1fff" stroke-width="1.6" opacity="0.95"><line x1="1449.4" y1="625.1" x2="1449.4" y2="636.5"/><line x1="1449.4" y1="647.1" x2="1449.4" y2="660.5"/><line x1="1447.6" y1="625.1" x2="1451.3" y2="625.1"/><line x1="1447.6" y1="660.5" x2="1451.3" y2="660.5"/><rect x="1446.3" y="636.5" width="6.2" height="10.7" fill="none"/></g>
<g stroke="#1f1fff" stroke-width="1.6" opacity="0.45"><line x1="1457.2" y1="619.4" x2="1457.2" y2="634.1"/><line x1="1457.2" y1="647.4" x2="1457.2" y2="658.5"/><line x1="1455.4" y1="619.4" x2="1459.1" y2="619.4"/><line x1="1455.4" y1="658.5" x2="1459.1" y2="658.5"/><rect x="1454.1" y="634.1" width="6.2" height="13.4" fill="none"/><line x1="1454.7" y1="609.2" x2="1459.7" y2="609.2"/></g>
<g stroke="#1f1fff" stroke-width="1.6" opacity="0.45"><line x1="1465" y1="625.9" x2="1465" y2="637"/><line x1="1465" y1="647.6" x2="1465" y2="654.3"/><line x1="1463.1" y1="625.9" x2="1466.9" y2="625.9"/><line x1="1463.1" y1="654.3" x2="1466.9" y2="654.3"/><rect x="1461.9" y="637" width="6.2" height="10.6" fill="none"/><line x1="1462.5" y1="618.9" x2="1467.5" y2="618.9"/></g>
<g stroke="#1f1fff" stroke-width="1.6" opacity="0.95"><line x1="1472.8" y1="618.4" x2="1472.8" y2="638.4"/><line x1="1472.8" y1="648.3" x2="1472.8" y2="662"/><line x1="1470.9" y1="618.4" x2="1474.7" y2="618.4"/><line x1="1470.9" y1="662" x2="1474.7" y2="662"/><rect x="1469.7" y="638.4" width="6.2" height="9.9" fill="none"/></g>
<g stroke="#1f1fff" stroke-width="1.6" opacity="0.95"><line x1="1480.6" y1="620.3" x2="1480.6" y2="634.2"/><line x1="1480.6" y1="645.4" x2="1480.6" y2="656.1"/><line x1="1478.7" y1="620.3" x2="1482.5" y2="620.3"/><line x1="1478.7" y1="656.1" x2="1482.5" y2="656.1"/><rect x="1477.5" y="634.2" width="6.2" height="11.2" fill="none"/><line x1="1478.1" y1="605.4" x2="1483.1" y2="605.4"/></g>
<g stroke="#1f1fff" stroke-width="1.6" opacity="0.95"><line x1="1488.4" y1="620.6" x2="1488.4" y2="634.8"/><line x1="1488.4" y1="648.5" x2="1488.4" y2="658.3"/><line x1="1486.5" y1="620.6" x2="1490.2" y2="620.6"/><line x1="1486.5" y1="658.3" x2="1490.2" y2="658.3"/><rect x="1485.3" y="634.8" width="6.2" height="13.7" fill="none"/><line x1="1485.9" y1="614.5" x2="1490.9" y2="614.5"/></g>
<g stroke="#1f1fff" stroke-width="1.6" opacity="0.45"><line x1="1496.2" y1="622" x2="1496.2" y2="637.8"/><line x1="1496.2" y1="649.8" x2="1496.2" y2="658.4"/><line x1="1494.3" y1="622" x2="1498" y2="622"/><line x1="1494.3" y1="658.4" x2="1498" y2="658.4"/><rect x="1493" y="637.8" width="6.2" height="12" fill="none"/><line x1="1493.7" y1="616.5" x2="1498.7" y2="616.5"/><line x1="1493.7" y1="667.4" x2="1498.7" y2="667.4"/></g>
<g stroke="#1f1fff" stroke-width="1.6" opacity="0.95"><line x1="1504" y1="624.5" x2="1504" y2="636.4"/><line x1="1504" y1="648.2" x2="1504" y2="659.9"/><line x1="1502.1" y1="624.5" x2="1505.8" y2="624.5"/><line x1="1502.1" y1="659.9" x2="1505.8" y2="659.9"/><rect x="1500.8" y="636.4" width="6.2" height="11.7" fill="none"/></g>
<g stroke="#1f1fff" stroke-width="1.6" opacity="0.95"><line x1="1511.7" y1="615.8" x2="1511.7" y2="635.1"/><line x1="1511.7" y1="646.2" x2="1511.7" y2="658.3"/><line x1="1509.9" y1="615.8" x2="1513.6" y2="615.8"/><line x1="1509.9" y1="658.3" x2="1513.6" y2="658.3"/><rect x="1508.6" y="635.1" width="6.2" height="11.1" fill="none"/><line x1="1509.2" y1="668" x2="1514.2" y2="668"/></g>
<g stroke="#1f1fff" stroke-width="1.6" opacity="0.45"><line x1="1519.5" y1="621.8" x2="1519.5" y2="636"/><line x1="1519.5" y1="643.4" x2="1519.5" y2="651.8"/><line x1="1517.7" y1="621.8" x2="1521.4" y2="621.8"/><line x1="1517.7" y1="651.8" x2="1521.4" y2="651.8"/><rect x="1516.4" y="636" width="6.2" height="7.4" fill="none"/><line x1="1517" y1="602.7" x2="1522" y2="602.7"/><line x1="1517" y1="656.5" x2="1522" y2="656.5"/></g>
<g stroke="#1f1fff" stroke-width="1.6" opacity="0.95"><line x1="1527.3" y1="609.7" x2="1527.3" y2="633.9"/><line x1="1527.3" y1="644.7" x2="1527.3" y2="651.6"/><line x1="1525.4" y1="609.7" x2="1529.2" y2="609.7"/><line x1="1525.4" y1="651.6" x2="1529.2" y2="651.6"/><rect x="1524.2" y="633.9" width="6.2" height="10.8" fill="none"/><line x1="1524.8" y1="599.2" x2="1529.8" y2="599.2"/></g>
<g stroke="#1f1fff" stroke-width="1.6" opacity="0.95"><line x1="1535.1" y1="612.6" x2="1535.1" y2="632.9"/><line x1="1535.1" y1="646.1" x2="1535.1" y2="653.3"/><line x1="1533.2" y1="612.6" x2="1537" y2="612.6"/><line x1="1533.2" y1="653.3" x2="1537" y2="653.3"/><rect x="1532" y="632.9" width="6.2" height="13.2" fill="none"/></g>
<g stroke="#1f1fff" stroke-width="1.6" opacity="0.45"><line x1="1542.9" y1="615" x2="1542.9" y2="631.9"/><line x1="1542.9" y1="643.6" x2="1542.9" y2="649.9"/><line x1="1541" y1="615" x2="1544.8" y2="615"/><line x1="1541" y1="649.9" x2="1544.8" y2="649.9"/><rect x="1539.8" y="631.9" width="6.2" height="11.7" fill="none"/><line x1="1540.4" y1="609.1" x2="1545.4" y2="609.1"/><line x1="1540.4" y1="655.5" x2="1545.4" y2="655.5"/></g>
<g stroke="#1f1fff" stroke-width="1.6" opacity="0.45"><line x1="1550.7" y1="620.4" x2="1550.7" y2="632.8"/><line x1="1550.7" y1="644.8" x2="1550.7" y2="657.6"/><line x1="1548.8" y1="620.4" x2="1552.5" y2="620.4"/><line x1="1548.8" y1="657.6" x2="1552.5" y2="657.6"/><rect x="1547.6" y="632.8" width="6.2" height="12" fill="none"/><line x1="1548.2" y1="668.8" x2="1553.2" y2="668.8"/></g>
<g stroke="#1f1fff" stroke-width="1.6" opacity="0.45"><line x1="1558.5" y1="621" x2="1558.5" y2="631.9"/><line x1="1558.5" y1="643.5" x2="1558.5" y2="650.7"/><line x1="1556.6" y1="621" x2="1560.3" y2="621"/><line x1="1556.6" y1="650.7" x2="1560.3" y2="650.7"/><rect x="1555.3" y="631.9" width="6.2" height="11.6" fill="none"/></g>
<g stroke="#1f1fff" stroke-width="1.6" opacity="0.45"><line x1="1566.2" y1="605.9" x2="1566.2" y2="633"/><line x1="1566.2" y1="646.8" x2="1566.2" y2="654.6"/><line x1="1564.4" y1="605.9" x2="1568.1" y2="605.9"/><line x1="1564.4" y1="654.6" x2="1568.1" y2="654.6"/><rect x="1563.1" y="633" width="6.2" height="13.8" fill="none"/></g>
<g stroke="#1f1fff" stroke-width="1.6" opacity="0.95"><line x1="1574" y1="605.5" x2="1574" y2="630.2"/><line x1="1574" y1="645.2" x2="1574" y2="656.6"/><line x1="1572.2" y1="605.5" x2="1575.9" y2="605.5"/><line x1="1572.2" y1="656.6" x2="1575.9" y2="656.6"/><rect x="1570.9" y="630.2" width="6.2" height="15" fill="none"/><line x1="1571.5" y1="671.2" x2="1576.5" y2="671.2"/></g>
<g stroke="#1f1fff" stroke-width="1.6" opacity="0.95"><line x1="1581.8" y1="608.9" x2="1581.8" y2="632.7"/><line x1="1581.8" y1="641.6" x2="1581.8" y2="651.1"/><line x1="1580" y1="608.9" x2="1583.7" y2="608.9"/><line x1="1580" y1="651.1" x2="1583.7" y2="651.1"/><rect x="1578.7" y="632.7" width="6.2" height="8.9" fill="none"/><line x1="1579.3" y1="666.5" x2="1584.3" y2="666.5"/></g>
<g stroke="#1f1fff" stroke-width="1.6" opacity="0.95"><line x1="1589.6" y1="610.1" x2="1589.6" y2="634"/><line x1="1589.6" y1="645" x2="1589.6" y2="655"/><line x1="1587.7" y1="610.1" x2="1591.5" y2="610.1"/><line x1="1587.7" y1="655" x2="1591.5" y2="655"/><rect x="1586.5" y="634" width="6.2" height="11" fill="none"/></g>
<g stroke="#1f1fff" stroke-width="1.6" opacity="0.95"><line x1="1597.4" y1="612.4" x2="1597.4" y2="634.8"/><line x1="1597.4" y1="646.8" x2="1597.4" y2="654.5"/><line x1="1595.5" y1="612.4" x2="1599.3" y2="612.4"/><line x1="1595.5" y1="654.5" x2="1599.3" y2="654.5"/><rect x="1594.3" y="634.8" width="6.2" height="12" fill="none"/></g>
<g stroke="#1f1fff" stroke-width="1.6" opacity="0.45"><line x1="1605.2" y1="608.3" x2="1605.2" y2="635.9"/><line x1="1605.2" y1="646.4" x2="1605.2" y2="656.8"/><line x1="1603.3" y1="608.3" x2="1607.1" y2="608.3"/><line x1="1603.3" y1="656.8" x2="1607.1" y2="656.8"/><rect x="1602.1" y="635.9" width="6.2" height="10.5" fill="none"/></g>
<g stroke="#1f1fff" stroke-width="1.6" opacity="0.45"><line x1="1613" y1="613" x2="1613" y2="636.1"/><line x1="1613" y1="648.8" x2="1613" y2="656.4"/><line x1="1611.1" y1="613" x2="1614.8" y2="613"/><line x1="1611.1" y1="656.4" x2="1614.8" y2="656.4"/><rect x="1609.9" y="636.1" width="6.2" height="12.7" fill="none"/><line x1="1610.5" y1="606" x2="1615.5" y2="606"/></g>
<g stroke="#1f1fff" stroke-width="1.6" opacity="0.45"><line x1="1620.8" y1="624.8" x2="1620.8" y2="639.6"/><line x1="1620.8" y1="650.9" x2="1620.8" y2="659.8"/><line x1="1618.9" y1="624.8" x2="1622.6" y2="624.8"/><line x1="1618.9" y1="659.8" x2="1622.6" y2="659.8"/><rect x="1617.6" y="639.6" width="6.2" height="11.3" fill="none"/><line x1="1618.3" y1="675.2" x2="1623.3" y2="675.2"/></g>
<g stroke="#1f1fff" stroke-width="1.6" opacity="0.45"><line x1="1628.6" y1="620.9" x2="1628.6" y2="651.5"/><line x1="1628.6" y1="661.2" x2="1628.6" y2="669.6"/><line x1="1626.7" y1="620.9" x2="1630.4" y2="620.9"/><line x1="1626.7" y1="669.6" x2="1630.4" y2="669.6"/><rect x="1625.4" y="651.5" width="6.2" height="9.7" fill="none"/><line x1="1626.1" y1="609" x2="1631.1" y2="609"/><line x1="1626.1" y1="677.6" x2="1631.1" y2="677.6"/></g>
<g stroke="#1f1fff" stroke-width="1.6" opacity="0.95"><line x1="1636.3" y1="625.5" x2="1636.3" y2="654.8"/><line x1="1636.3" y1="667.2" x2="1636.3" y2="679.1"/><line x1="1634.5" y1="625.5" x2="1638.2" y2="625.5"/><line x1="1634.5" y1="679.1" x2="1638.2" y2="679.1"/><rect x="1633.2" y="654.8" width="6.2" height="12.4" fill="none"/></g>
<g stroke="#1f1fff" stroke-width="1.6" opacity="0.95"><line x1="1644.1" y1="630.7" x2="1644.1" y2="659"/><line x1="1644.1" y1="669.3" x2="1644.1" y2="682.8"/><line x1="1642.3" y1="630.7" x2="1646" y2="630.7"/><line x1="1642.3" y1="682.8" x2="1646" y2="682.8"/><rect x="1641" y="659" width="6.2" height="10.3" fill="none"/><line x1="1641.6" y1="620.7" x2="1646.6" y2="620.7"/></g>
<g stroke="#1f1fff" stroke-width="1.6" opacity="0.95"><line x1="1651.9" y1="631.2" x2="1651.9" y2="654"/><line x1="1651.9" y1="667.1" x2="1651.9" y2="679.7"/><line x1="1650" y1="631.2" x2="1653.8" y2="631.2"/><line x1="1650" y1="679.7" x2="1653.8" y2="679.7"/><rect x="1648.8" y="654" width="6.2" height="13.1" fill="none"/><line x1="1649.4" y1="684.5" x2="1654.4" y2="684.5"/></g>
<g stroke="#1f1fff" stroke-width="1.6" opacity="0.95"><line x1="1659.7" y1="629.2" x2="1659.7" y2="658.2"/><line x1="1659.7" y1="670.7" x2="1659.7" y2="684.5"/><line x1="1657.8" y1="629.2" x2="1661.6" y2="629.2"/><line x1="1657.8" y1="684.5" x2="1661.6" y2="684.5"/><rect x="1656.6" y="658.2" width="6.2" height="12.4" fill="none"/><line x1="1657.2" y1="624.3" x2="1662.2" y2="624.3"/></g>
<g stroke="#1f1fff" stroke-width="1.6" opacity="0.95"><line x1="1667.5" y1="634.5" x2="1667.5" y2="657.3"/><line x1="1667.5" y1="670.7" x2="1667.5" y2="684.1"/><line x1="1665.6" y1="634.5" x2="1669.4" y2="634.5"/><line x1="1665.6" y1="684.1" x2="1669.4" y2="684.1"/><rect x="1664.4" y="657.3" width="6.2" height="13.4" fill="none"/></g>
<g stroke="#1f1fff" stroke-width="1.6" opacity="0.45"><line x1="1675.3" y1="627.6" x2="1675.3" y2="659.8"/><line x1="1675.3" y1="671.5" x2="1675.3" y2="681.2"/><line x1="1673.4" y1="627.6" x2="1677.1" y2="627.6"/><line x1="1673.4" y1="681.2" x2="1677.1" y2="681.2"/><rect x="1672.2" y="659.8" width="6.2" height="11.7" fill="none"/></g>
<g stroke="#1f1fff" stroke-width="1.6" opacity="0.95"><line x1="1683.1" y1="623.8" x2="1683.1" y2="654.7"/><line x1="1683.1" y1="665.8" x2="1683.1" y2="677"/><line x1="1681.2" y1="623.8" x2="1684.9" y2="623.8"/><line x1="1681.2" y1="677" x2="1684.9" y2="677"/><rect x="1679.9" y="654.7" width="6.2" height="11.1" fill="none"/><line x1="1680.6" y1="605.8" x2="1685.6" y2="605.8"/></g>
<g stroke="#1f1fff" stroke-width="1.6" opacity="0.95"><line x1="1690.8" y1="637.5" x2="1690.8" y2="655.4"/><line x1="1690.8" y1="669.7" x2="1690.8" y2="688.5"/><line x1="1689" y1="637.5" x2="1692.7" y2="637.5"/><line x1="1689" y1="688.5" x2="1692.7" y2="688.5"/><rect x="1687.7" y="655.4" width="6.2" height="14.3" fill="none"/><line x1="1688.3" y1="627.5" x2="1693.3" y2="627.5"/><line x1="1688.3" y1="697.1" x2="1693.3" y2="697.1"/></g>
<g stroke="#1f1fff" stroke-width="1.6" opacity="0.95"><line x1="1698.6" y1="639.4" x2="1698.6" y2="656.4"/><line x1="1698.6" y1="667.5" x2="1698.6" y2="675.6"/><line x1="1696.8" y1="639.4" x2="1700.5" y2="639.4"/><line x1="1696.8" y1="675.6" x2="1700.5" y2="675.6"/><rect x="1695.5" y="656.4" width="6.2" height="11.1" fill="none"/><line x1="1696.1" y1="624.4" x2="1701.1" y2="624.4"/><line x1="1696.1" y1="686" x2="1701.1" y2="686"/></g>
<g stroke="#1f1fff" stroke-width="1.6" opacity="0.45"><line x1="1706.4" y1="623.4" x2="1706.4" y2="656.1"/><line x1="1706.4" y1="667.6" x2="1706.4" y2="679.1"/><line x1="1704.6" y1="623.4" x2="1708.3" y2="623.4"/><line x1="1704.6" y1="679.1" x2="1708.3" y2="679.1"/><rect x="1703.3" y="656.1" width="6.2" height="11.6" fill="none"/><line x1="1703.9" y1="687.1" x2="1708.9" y2="687.1"/></g>
<g stroke="#1f1fff" stroke-width="1.6" opacity="0.95"><line x1="1714.2" y1="631.8" x2="1714.2" y2="656.7"/><line x1="1714.2" y1="669.4" x2="1714.2" y2="681.1"/><line x1="1712.3" y1="631.8" x2="1716.1" y2="631.8"/><line x1="1712.3" y1="681.1" x2="1716.1" y2="681.1"/><rect x="1711.1" y="656.7" width="6.2" height="12.7" fill="none"/><line x1="1711.7" y1="618.1" x2="1716.7" y2="618.1"/></g>
<g stroke="#1f1fff" stroke-width="1.6" opacity="0.95"><line x1="1722" y1="629.7" x2="1722" y2="659.1"/><line x1="1722" y1="669.7" x2="1722" y2="683.9"/><line x1="1720.1" y1="629.7" x2="1723.9" y2="629.7"/><line x1="1720.1" y1="683.9" x2="1723.9" y2="683.9"/><rect x="1718.9" y="659.1" width="6.2" height="10.6" fill="none"/></g>
<g stroke="#1f1fff" stroke-width="1.6" opacity="0.95"><line x1="1729.8" y1="632.6" x2="1729.8" y2="657.2"/><line x1="1729.8" y1="668.1" x2="1729.8" y2="679.6"/><line x1="1727.9" y1="632.6" x2="1731.7" y2="632.6"/><line x1="1727.9" y1="679.6" x2="1731.7" y2="679.6"/><rect x="1726.7" y="657.2" width="6.2" height="10.9" fill="none"/><line x1="1727.3" y1="684.3" x2="1732.3" y2="684.3"/></g>
<g stroke="#1f1fff" stroke-width="1.6" opacity="0.95"><line x1="1737.6" y1="630.1" x2="1737.6" y2="659.3"/><line x1="1737.6" y1="668.6" x2="1737.6" y2="686.5"/><line x1="1735.7" y1="630.1" x2="1739.4" y2="630.1"/><line x1="1735.7" y1="686.5" x2="1739.4" y2="686.5"/><rect x="1734.5" y="659.3" width="6.2" height="9.3" fill="none"/><line x1="1735.1" y1="700.4" x2="1740.1" y2="700.4"/></g>
<g stroke="#1f1fff" stroke-width="1.6" opacity="0.95"><line x1="1745.4" y1="633.4" x2="1745.4" y2="657.3"/><line x1="1745.4" y1="668.2" x2="1745.4" y2="686.7"/><line x1="1743.5" y1="633.4" x2="1747.2" y2="633.4"/><line x1="1743.5" y1="686.7" x2="1747.2" y2="686.7"/><rect x="1742.2" y="657.3" width="6.2" height="10.9" fill="none"/><line x1="1742.9" y1="697.2" x2="1747.9" y2="697.2"/></g>
<g stroke="#1f1fff" stroke-width="1.6" opacity="0.45"><line x1="1753.2" y1="641.1" x2="1753.2" y2="657.2"/><line x1="1753.2" y1="668" x2="1753.2" y2="685.3"/><line x1="1751.3" y1="641.1" x2="1755" y2="641.1"/><line x1="1751.3" y1="685.3" x2="1755" y2="685.3"/><rect x="1750" y="657.2" width="6.2" height="10.8" fill="none"/></g>
<g stroke="#1f1fff" stroke-width="1.6" opacity="0.45"><line x1="1760.9" y1="627" x2="1760.9" y2="658.8"/><line x1="1760.9" y1="667.9" x2="1760.9" y2="680.7"/><line x1="1759.1" y1="627" x2="1762.8" y2="627"/><line x1="1759.1" y1="680.7" x2="1762.8" y2="680.7"/><rect x="1757.8" y="658.8" width="6.2" height="9.2" fill="none"/></g>
<g stroke="#1f1fff" stroke-width="1.6" opacity="0.45"><line x1="1768.7" y1="633.3" x2="1768.7" y2="654.7"/><line x1="1768.7" y1="666" x2="1768.7" y2="685.7"/><line x1="1766.9" y1="633.3" x2="1770.6" y2="633.3"/><line x1="1766.9" y1="685.7" x2="1770.6" y2="685.7"/><rect x="1765.6" y="654.7" width="6.2" height="11.3" fill="none"/></g>
<g stroke="#1f1fff" stroke-width="1.6" opacity="0.45"><line x1="1776.5" y1="622.6" x2="1776.5" y2="655.5"/><line x1="1776.5" y1="670" x2="1776.5" y2="681"/><line x1="1774.6" y1="622.6" x2="1778.4" y2="622.6"/><line x1="1774.6" y1="681" x2="1778.4" y2="681"/><rect x="1773.4" y="655.5" width="6.2" height="14.5" fill="none"/></g>
<path d="M1033.6,666.9 L1052.5,666.0 L1068.2,666.0 L1084.0,665.0 L1099.7,663.8 L1115.5,662.8 L1128.1,666.0 L1140.7,670.7 L1153.3,670.7 L1162.7,667.6 L1172.2,658.1 L1181.6,639.2 L1191.1,614.0 L1200.5,588.8 L1210.0,566.8 L1219.4,547.9 L1228.9,536.9 L1236.7,533.7 L1244.6,536.9 L1252.5,547.9 L1260.4,563.6 L1269.8,579.4 L1279.3,588.8 L1286.9,592.0 L1294.7,598.3 L1302.6,604.6 L1310.5,608.3 L1318.4,610.2 L1326.2,611.8 L1334.1,613.1 L1342.0,614.6 L1349.9,615.9 L1357.7,616.5 L1365.6,617.2 L1373.5,617.8 L1381.4,618.7 L1389.2,619.1 L1397.1,618.4 L1405.0,617.8 L1412.9,617.2 L1420.7,617.2 L1428.6,616.9 L1436.5,617.2 L1444.4,617.8 L1452.2,617.2 L1460.1,617.2 L1468.0,617.2 L1475.9,616.2 L1483.7,614.0 L1491.6,611.5 L1499.5,609.9 L1507.3,609.3 L1515.2,608.3 L1523.1,609.3 L1527.8,607.1 L1535.7,612.4 L1541.9,614.0 L1549.7,615.6 L1557.6,616.5 L1565.5,617.2 L1573.4,618.7 L1581.2,620.9 L1589.1,625.0 L1597.0,628.2 L1604.9,634.5 L1612.7,637.6 L1620.6,639.8 L1628.5,643.9 L1636.4,646.1 L1644.2,647.1 L1652.1,648.7 L1660.0,650.2 L1667.9,652.8 L1675.7,655.0 L1683.6,658.1 L1691.5,660.6 L1699.4,662.2 L1707.2,663.5 L1715.1,664.4 L1723.0,664.4 L1730.9,664.4 L1738.7,664.4 L1746.6,665.0 L1754.5,666.0 L1762.3,666.0 L1770.2,666.9 L1778.1,668.5" fill="none" stroke="#ffa500" stroke-width="2.0" stroke-linejoin="round"/>
<path d="M1036.4,576.2 L1044.6,579.4 L1052.5,587.2 L1060.4,573.1 L1068.2,588.8 L1076.1,575.6 L1084.0,575.6 L1091.9,577.8 L1099.7,579.4 L1107.6,614.0 L1115.5,616.5 L1122.4,616.5 L1130.3,584.1 L1138.2,585.0 L1146.4,582.5 L1153.3,581.9 L1161.2,585.7 L1169.0,590.4 L1176.9,582.5 L1184.8,560.5 L1192.7,516.4 L1200.5,423.5 L1208.4,421.9 L1216.3,445.5 L1224.1,437.6 L1232.0,466.0 L1238.3,469.1 L1246.2,467.6 L1254.1,478.6 L1261.9,506.9 L1269.8,527.4 L1277.7,536.9 L1285.9,537.8 L1293.2,537.8 L1301.0,523.3 L1308.9,519.5 L1316.8,535.3 L1324.7,541.6 L1332.5,562.0 L1340.4,548.5 L1348.3,547.9 L1356.2,551.7 L1364.0,572.1 L1371.9,564.3 L1379.8,555.1 L1387.7,562.0 L1395.5,560.5 L1403.4,562.7 L1411.3,563.6 L1419.2,570.9 L1427.0,566.8 L1434.9,564.3 L1442.8,569.9 L1450.7,566.1 L1458.5,565.2 L1466.4,564.3 L1472.7,562.0 L1480.6,576.2 L1488.4,583.5 L1496.3,581.9 L1504.2,581.9 L1512.1,580.9 L1519.9,576.9 L1527.8,566.8 L1535.7,548.5 L1541.9,566.1 L1549.7,573.7 L1557.6,571.5 L1565.5,566.1 L1573.4,563.6 L1581.2,564.3 L1589.1,551.7 L1597.0,557.3 L1604.9,564.3 L1612.7,562.0 L1620.6,561.4 L1628.5,568.3 L1636.4,569.3 L1644.2,547.9 L1652.1,528.3 L1660.0,536.9 L1667.9,529.0 L1675.7,568.3 L1683.6,557.3 L1691.5,571.5 L1699.4,574.6 L1707.2,565.2 L1715.1,574.6 L1723.0,588.8 L1730.9,590.4 L1738.7,621.3 L1746.6,621.3 L1754.5,569.9 L1762.3,574.6 L1770.2,574.6 L1778.1,577.8" fill="none" stroke="#22e822" stroke-width="2.4" stroke-linejoin="round"/>
<path d="M1036.4,616.5 L1044.6,620.3 L1052.5,628.2 L1060.4,614.6 L1068.2,632.9 L1076.1,616.5 L1084.0,619.7 L1091.9,621.9 L1099.7,625.0 L1107.6,667.6 L1115.5,667.6 L1122.4,667.6 L1130.3,625.0 L1138.2,629.1 L1146.4,625.0 L1153.3,626.0 L1161.2,629.1 L1169.0,636.1 L1176.9,625.0 L1184.8,601.4 L1192.7,529.0 L1200.5,432.9 L1208.4,431.3 L1216.3,459.7 L1224.1,448.7 L1232.0,477.0 L1238.3,488.0 L1246.2,488.0 L1254.1,503.8 L1261.9,525.8 L1269.8,547.9 L1277.7,567.4 L1285.9,563.6 L1293.2,558.9 L1301.0,551.0 L1308.9,544.7 L1316.8,564.3 L1324.7,573.7 L1332.5,591.3 L1340.4,571.5 L1348.3,573.1 L1356.2,580.0 L1364.0,598.3 L1371.9,590.4 L1379.8,583.5 L1387.7,582.5 L1395.5,585.7 L1403.4,586.3 L1411.3,584.1 L1419.2,596.1 L1427.0,595.7 L1434.9,583.5 L1442.8,593.5 L1450.7,592.0 L1458.5,589.4 L1466.4,587.2 L1472.7,586.3 L1480.6,609.3 L1488.4,615.6 L1496.3,611.5 L1504.2,609.3 L1512.1,612.4 L1519.9,610.9 L1527.8,599.8 L1535.7,580.9 L1541.9,598.3 L1549.7,605.5 L1557.6,603.0 L1565.5,597.6 L1573.4,592.0 L1581.2,592.0 L1589.1,576.9 L1597.0,588.8 L1604.9,599.8 L1612.7,590.4 L1620.6,593.5 L1628.5,603.0 L1636.4,604.6 L1644.2,579.4 L1652.1,551.7 L1660.0,567.4 L1667.9,548.5 L1675.7,607.7 L1683.6,590.4 L1691.5,606.1 L1699.4,614.0 L1707.2,598.3 L1715.1,614.0 L1723.0,629.8 L1730.9,634.5 L1738.7,669.1 L1743.4,669.1 L1752.9,607.7 L1760.8,617.2 L1768.6,615.0 L1778.1,618.1" fill="none" stroke="#000000" stroke-width="2.3" stroke-linejoin="round"/>
<path d="M1033.6,664.4 L1044.6,664.4 L1052.5,665.0 L1060.4,664.4 L1068.2,662.8 L1076.1,663.5 L1084.0,664.4 L1091.9,664.4 L1099.7,664.4 L1107.6,664.4 L1115.5,666.0 L1122.4,666.0 L1130.3,668.2 L1138.2,668.2 L1146.4,667.6 L1153.3,667.6 L1161.2,666.9 L1169.0,667.6 L1176.9,668.5 L1184.8,664.4 L1192.7,628.2 L1200.5,535.3 L1208.4,514.8 L1216.3,500.6 L1224.1,472.3 L1232.0,495.9 L1239.9,491.2 L1247.8,505.4 L1254.1,558.9 L1261.9,579.4 L1269.8,588.8 L1277.7,596.7 L1285.9,608.3 L1293.2,614.6 L1301.0,616.5 L1308.9,618.7 L1316.8,628.2 L1324.7,632.9 L1332.5,634.5 L1340.4,640.8 L1348.3,643.0 L1356.2,643.3 L1364.0,645.5 L1371.9,644.9 L1379.8,643.3 L1387.7,644.9 L1395.5,643.0 L1403.4,641.7 L1411.3,640.8 L1419.2,641.7 L1427.0,641.7 L1434.9,643.0 L1442.8,641.7 L1450.7,642.4 L1458.5,641.7 L1466.4,643.3 L1472.7,643.0 L1480.6,642.4 L1488.4,643.3 L1496.3,644.6 L1504.2,641.4 L1512.1,640.8 L1519.9,639.8 L1527.8,640.8 L1535.7,640.8 L1541.9,639.2 L1549.7,637.6 L1557.6,637.6 L1565.5,637.6 L1573.4,636.7 L1581.2,635.4 L1589.1,636.7 L1597.0,637.6 L1604.9,640.8 L1612.7,643.9 L1620.6,647.1 L1628.5,659.7 L1636.4,662.8 L1644.2,665.4 L1652.1,666.0 L1660.0,664.4 L1667.9,666.0 L1675.7,666.0 L1683.6,661.9 L1691.5,663.8 L1699.4,666.0 L1707.2,666.0 L1715.1,665.0 L1723.0,666.0 L1730.9,666.0 L1738.7,666.9 L1746.6,666.0 L1754.5,663.8 L1762.3,664.4 L1770.2,663.8 L1778.1,661.9" fill="none" stroke="#ff0000" stroke-width="2.6" stroke-linejoin="round"/>
<path d="M1033.2,662.9h7M1036.7,662.9v3M1041.0,662.9h7M1044.5,662.9v3M1048.8,663.5h7M1052.3,663.5v3M1056.6,662.9h7M1060.1,662.9v3M1064.4,661.4h7M1067.9,661.4v3M1072.1,661.9h7M1075.6,661.9v3M1079.9,662.8h7M1083.4,662.8v3M1087.7,662.9h7M1091.2,662.9v3M1095.5,662.9h7M1099.0,662.9v3M1103.3,662.9h7M1106.8,662.9v3M1111.1,664.3h7M1114.6,664.3v3M1118.9,664.5h7M1122.4,664.5v3M1126.7,666.6h7M1130.2,666.6v3M1134.4,666.7h7M1137.9,666.7v3M1142.2,666.1h7M1145.7,666.1v3M1150.0,666.0h7M1153.5,666.0v3M1157.8,665.4h7M1161.3,665.4v3M1165.6,666.1h7M1169.1,666.1v3M1173.4,667.0h7M1176.9,667.0v3M1181.2,663.0h7M1184.7,663.0v3M1189.0,627.6h7M1192.5,627.6v3M1196.7,537.2h7M1200.2,537.2v3M1204.5,514.3h7M1208.0,514.3v3M1212.3,500.0h7M1215.8,500.0v3M1220.1,472.8h7M1223.6,472.8v3M1227.9,492.5h7M1231.4,492.5v3M1235.7,490.1h7M1239.2,490.1v3M1243.5,502.4h7M1247.0,502.4v3M1251.2,559.2h7M1254.8,559.2v3M1259.0,578.6h7M1262.5,578.6v3M1266.8,587.8h7M1270.3,587.8v3M1274.6,595.8h7M1278.1,595.8v3M1282.4,606.8h7M1285.9,606.8v3M1290.2,613.3h7M1293.7,613.3v3M1298.0,615.2h7M1301.5,615.2v3M1305.8,617.6h7M1309.3,617.6v3M1313.5,626.8h7M1317.0,626.8v3M1321.3,631.4h7M1324.8,631.4v3M1329.1,633.1h7M1332.6,633.1v3M1336.9,639.3h7M1340.4,639.3v3M1344.7,641.5h7M1348.2,641.5v3M1352.5,641.8h7M1356.0,641.8v3M1360.3,643.9h7M1363.8,643.9v3M1368.1,643.4h7M1371.6,643.4v3M1375.8,641.9h7M1379.3,641.9v3M1383.6,643.3h7M1387.1,643.3v3M1391.4,641.6h7M1394.9,641.6v3M1399.2,640.3h7M1402.7,640.3v3M1407.0,639.4h7M1410.5,639.4v3M1414.8,640.1h7M1418.3,640.1v3M1422.6,640.2h7M1426.1,640.2v3M1430.4,641.3h7M1433.9,641.3v3M1438.2,640.4h7M1441.7,640.4v3M1445.9,640.8h7M1449.4,640.8v3M1453.7,640.3h7M1457.2,640.3v3M1461.5,641.5h7M1465.0,641.5v3M1469.3,641.5h7M1472.8,641.5v3M1477.1,640.9h7M1480.6,640.9v3M1484.9,641.8h7M1488.4,641.8v3M1492.7,643.0h7M1496.2,643.0v3M1500.5,640.0h7M1504.0,640.0v3M1508.2,639.3h7M1511.7,639.3v3M1516.0,638.4h7M1519.5,638.4v3M1523.8,639.2h7M1527.3,639.2v3M1531.6,639.3h7M1535.1,639.3v3M1539.4,637.5h7M1542.9,637.5v3M1547.2,636.1h7M1550.7,636.1v3M1555.0,636.1h7M1558.5,636.1v3M1562.8,636.0h7M1566.2,636.0v3M1570.5,635.1h7M1574.0,635.1v3M1578.3,634.0h7M1581.8,634.0v3M1586.1,635.3h7M1589.6,635.3v3M1593.9,636.3h7M1597.4,636.3v3M1601.7,639.4h7M1605.2,639.4v3M1609.5,642.5h7M1613.0,642.5v3M1617.3,645.8h7M1620.8,645.8v3M1625.1,658.2h7M1628.6,658.2v3M1632.8,661.3h7M1636.3,661.3v3M1640.6,663.8h7M1644.1,663.8v3M1648.4,664.5h7M1651.9,664.5v3M1656.2,663.0h7M1659.7,663.0v3M1664.0,664.4h7M1667.5,664.4v3M1671.8,664.5h7M1675.3,664.5v3M1679.6,660.7h7M1683.1,660.7v3M1687.3,662.1h7M1690.8,662.1v3M1695.1,664.3h7M1698.6,664.3v3M1702.9,664.5h7M1706.4,664.5v3M1710.7,663.6h7M1714.2,663.6v3M1718.5,664.4h7M1722.0,664.4v3M1726.3,664.5h7M1729.8,664.5v3M1734.1,665.3h7M1737.6,665.3v3M1741.9,664.6h7M1745.4,664.6v3M1749.7,662.6h7M1753.2,662.6v3M1757.4,662.8h7M1760.9,662.8v3M1765.2,662.4h7M1768.7,662.4v3M1773.0,660.8h7M1776.5,660.8v3" stroke="#ff0000" stroke-width="2" fill="none"/>
<line x1="1021.8" y1="343.2" x2="1021.8" y2="733" stroke="#4a4a4a" stroke-width="1.6" stroke-linecap="square"/>
<line x1="1791.8" y1="343.2" x2="1791.8" y2="733" stroke="#dddddd" stroke-width="1.3" stroke-linecap="square"/>
<line x1="1021.8" y1="343.2" x2="1791.8" y2="343.2" stroke="#dddddd" stroke-width="1.3" stroke-linecap="square"/>
<line x1="1021.8" y1="733" x2="1791.8" y2="733" stroke="#dddddd" stroke-width="1.3" stroke-linecap="square"/>
<line x1="97.7" y1="1201.5" x2="867.7" y2="1201.5" stroke="#ebebeb" stroke-width="1.4"/>
<line x1="97.7" y1="1123.5" x2="867.7" y2="1123.5" stroke="#ebebeb" stroke-width="1.4"/>
<line x1="97.7" y1="1045.6" x2="867.7" y2="1045.6" stroke="#ebebeb" stroke-width="1.4"/>
<line x1="97.7" y1="967.6" x2="867.7" y2="967.6" stroke="#a8a8a8" stroke-width="1.4"/>
<line x1="97.7" y1="889.7" x2="867.7" y2="889.7" stroke="#a8a8a8" stroke-width="1.4"/>
<line x1="97.7" y1="811.7" x2="867.7" y2="811.7" stroke="#ebebeb" stroke-width="1.4"/>
<line x1="112.6" y1="811.7" x2="112.6" y2="1201.5" stroke="#a8a8a8" stroke-width="1.4"/>
<line x1="174.9" y1="811.7" x2="174.9" y2="1201.5" stroke="#e8e8e8" stroke-width="1.4"/>
<line x1="237.2" y1="811.7" x2="237.2" y2="1201.5" stroke="#a8a8a8" stroke-width="1.4"/>
<line x1="299.5" y1="811.7" x2="299.5" y2="1201.5" stroke="#e8e8e8" stroke-width="1.4"/>
<line x1="361.8" y1="811.7" x2="361.8" y2="1201.5" stroke="#a8a8a8" stroke-width="1.4"/>
<line x1="424.1" y1="811.7" x2="424.1" y2="1201.5" stroke="#e8e8e8" stroke-width="1.4"/>
<line x1="486.4" y1="811.7" x2="486.4" y2="1201.5" stroke="#a8a8a8" stroke-width="1.4"/>
<line x1="548.7" y1="811.7" x2="548.7" y2="1201.5" stroke="#e8e8e8" stroke-width="1.4"/>
<line x1="611" y1="811.7" x2="611" y2="1201.5" stroke="#a8a8a8" stroke-width="1.4"/>
<line x1="673.3" y1="811.7" x2="673.3" y2="1201.5" stroke="#e8e8e8" stroke-width="1.4"/>
<line x1="735.6" y1="811.7" x2="735.6" y2="1201.5" stroke="#a8a8a8" stroke-width="1.4"/>
<line x1="797.9" y1="811.7" x2="797.9" y2="1201.5" stroke="#e8e8e8" stroke-width="1.4"/>
<rect x="109.6" y="1176.4" width="5.9" height="25.1" fill="#008000" fill-opacity="0.3"/>
<rect x="115.6" y="1177.4" width="1.9" height="24.1" fill="#00a000" fill-opacity="0.1"/>
<rect x="117.4" y="1175.5" width="5.9" height="26" fill="#008000" fill-opacity="0.3"/>
<rect x="123.3" y="1176.5" width="1.9" height="25" fill="#00a000" fill-opacity="0.1"/>
<rect x="125.2" y="1173.4" width="5.9" height="28.1" fill="#008000" fill-opacity="0.3"/>
<rect x="131.1" y="1174.4" width="1.9" height="27.1" fill="#00a000" fill-opacity="0.1"/>
<rect x="133" y="1171" width="5.9" height="30.5" fill="#008000" fill-opacity="0.3"/>
<rect x="138.9" y="1178.6" width="1.9" height="22.9" fill="#00a000" fill-opacity="0.1"/>
<rect x="140.8" y="1177.6" width="5.9" height="23.9" fill="#008000" fill-opacity="0.3"/>
<rect x="146.7" y="1178.6" width="1.9" height="22.9" fill="#00a000" fill-opacity="0.1"/>
<rect x="148.6" y="1176" width="5.9" height="25.5" fill="#008000" fill-opacity="0.3"/>
<rect x="154.5" y="1178" width="1.9" height="23.5" fill="#00a000" fill-opacity="0.1"/>
<rect x="156.4" y="1177" width="5.9" height="24.5" fill="#008000" fill-opacity="0.3"/>
<rect x="162.3" y="1179.8" width="1.9" height="21.7" fill="#00a000" fill-opacity="0.1"/>
<rect x="164.2" y="1178.8" width="5.9" height="22.7" fill="#008000" fill-opacity="0.3"/>
<rect x="170.1" y="1180" width="1.9" height="21.5" fill="#00a000" fill-opacity="0.1"/>
<rect x="171.9" y="1179" width="5.9" height="22.5" fill="#008000" fill-opacity="0.3"/>
<rect x="177.9" y="1180" width="1.9" height="21.5" fill="#00a000" fill-opacity="0.1"/>
<rect x="179.7" y="1175.4" width="5.9" height="26.1" fill="#008000" fill-opacity="0.3"/>
<rect x="185.6" y="1184.2" width="1.9" height="17.3" fill="#00a000" fill-opacity="0.1"/>
<rect x="187.5" y="1183.2" width="5.9" height="18.3" fill="#008000" fill-opacity="0.3"/>
<rect x="193.4" y="1184.2" width="1.9" height="17.3" fill="#00a000" fill-opacity="0.1"/>
<rect x="195.3" y="1181.7" width="5.9" height="19.8" fill="#008000" fill-opacity="0.3"/>
<rect x="201.2" y="1183.1" width="1.9" height="18.4" fill="#00a000" fill-opacity="0.1"/>
<rect x="203.1" y="1182.1" width="5.9" height="19.4" fill="#008000" fill-opacity="0.3"/>
<rect x="209" y="1185.9" width="1.9" height="15.6" fill="#00a000" fill-opacity="0.1"/>
<rect x="210.9" y="1184.9" width="5.9" height="16.6" fill="#008000" fill-opacity="0.3"/>
<rect x="216.8" y="1186.9" width="1.9" height="14.6" fill="#00a000" fill-opacity="0.1"/>
<rect x="218.7" y="1185.9" width="5.9" height="15.6" fill="#008000" fill-opacity="0.3"/>
<rect x="224.6" y="1186.9" width="1.9" height="14.6" fill="#00a000" fill-opacity="0.1"/>
<rect x="226.5" y="1185" width="5.9" height="16.5" fill="#008000" fill-opacity="0.3"/>
<rect x="232.4" y="1186" width="1.9" height="15.5" fill="#00a000" fill-opacity="0.1"/>
<rect x="234.2" y="1184.4" width="5.9" height="17.1" fill="#008000" fill-opacity="0.3"/>
<rect x="240.2" y="1190.7" width="1.9" height="10.8" fill="#00a000" fill-opacity="0.1"/>
<rect x="242" y="1189.7" width="5.9" height="11.8" fill="#008000" fill-opacity="0.3"/>
<rect x="247.9" y="1190.7" width="1.9" height="10.8" fill="#00a000" fill-opacity="0.1"/>
<rect x="249.8" y="1189.7" width="5.9" height="11.8" fill="#008000" fill-opacity="0.3"/>
<rect x="255.7" y="1190.7" width="1.9" height="10.8" fill="#00a000" fill-opacity="0.1"/>
<rect x="257.6" y="1189.7" width="5.9" height="11.8" fill="#008000" fill-opacity="0.3"/>
<rect x="263.5" y="1190.7" width="1.9" height="10.8" fill="#00a000" fill-opacity="0.1"/>
<rect x="265.4" y="1188.5" width="5.9" height="13" fill="#008000" fill-opacity="0.3"/>
<rect x="271.3" y="1190.7" width="1.9" height="10.8" fill="#00a000" fill-opacity="0.1"/>
<rect x="273.2" y="1189.7" width="5.9" height="11.8" fill="#008000" fill-opacity="0.3"/>
<rect x="279.1" y="1190.7" width="1.9" height="10.8" fill="#00a000" fill-opacity="0.1"/>
<rect x="281" y="1183.2" width="5.9" height="18.3" fill="#008000" fill-opacity="0.3"/>
<rect x="286.9" y="1185.4" width="1.9" height="16.1" fill="#00a000" fill-opacity="0.1"/>
<rect x="288.8" y="1184.4" width="5.9" height="17.1" fill="#008000" fill-opacity="0.3"/>
<rect x="294.7" y="1185.4" width="1.9" height="16.1" fill="#00a000" fill-opacity="0.1"/>
<rect x="296.5" y="1182.8" width="5.9" height="18.7" fill="#008000" fill-opacity="0.3"/>
<rect x="302.5" y="1183.8" width="1.9" height="17.7" fill="#00a000" fill-opacity="0.1"/>
<rect x="304.3" y="1181.2" width="5.9" height="20.3" fill="#008000" fill-opacity="0.3"/>
<rect x="310.2" y="1182.2" width="1.9" height="19.3" fill="#00a000" fill-opacity="0.1"/>
<rect x="312.1" y="1178" width="5.9" height="23.5" fill="#008000" fill-opacity="0.3"/>
<rect x="318" y="1179" width="1.9" height="22.5" fill="#00a000" fill-opacity="0.1"/>
<rect x="319.9" y="1176.7" width="5.9" height="24.8" fill="#008000" fill-opacity="0.3"/>
<rect x="325.8" y="1177.7" width="1.9" height="23.8" fill="#00a000" fill-opacity="0.1"/>
<rect x="327.7" y="1172.7" width="5.9" height="28.8" fill="#008000" fill-opacity="0.3"/>
<rect x="333.6" y="1177.1" width="1.9" height="24.4" fill="#00a000" fill-opacity="0.1"/>
<rect x="335.5" y="1176.1" width="5.9" height="25.4" fill="#008000" fill-opacity="0.3"/>
<rect x="341.4" y="1177.1" width="1.9" height="24.4" fill="#00a000" fill-opacity="0.1"/>
<rect x="343.3" y="1169.7" width="5.9" height="31.8" fill="#008000" fill-opacity="0.3"/>
<rect x="349.2" y="1172.7" width="1.9" height="28.8" fill="#00a000" fill-opacity="0.1"/>
<rect x="351.1" y="1171.7" width="5.9" height="29.8" fill="#008000" fill-opacity="0.3"/>
<rect x="357" y="1172.7" width="1.9" height="28.8" fill="#00a000" fill-opacity="0.1"/>
<rect x="358.8" y="1169.6" width="5.9" height="31.9" fill="#008000" fill-opacity="0.3"/>
<rect x="364.8" y="1170.6" width="1.9" height="30.9" fill="#00a000" fill-opacity="0.1"/>
<rect x="366.6" y="1167.8" width="5.9" height="33.7" fill="#008000" fill-opacity="0.3"/>
<rect x="372.5" y="1170.9" width="1.9" height="30.6" fill="#00a000" fill-opacity="0.1"/>
<rect x="374.4" y="1169.9" width="5.9" height="31.6" fill="#008000" fill-opacity="0.3"/>
<rect x="380.3" y="1170.9" width="1.9" height="30.6" fill="#00a000" fill-opacity="0.1"/>
<rect x="382.2" y="1163.4" width="5.9" height="38.1" fill="#008000" fill-opacity="0.3"/>
<rect x="388.1" y="1168.6" width="1.9" height="32.9" fill="#00a000" fill-opacity="0.1"/>
<rect x="390" y="1167.6" width="5.9" height="33.9" fill="#008000" fill-opacity="0.3"/>
<rect x="395.9" y="1168.6" width="1.9" height="32.9" fill="#00a000" fill-opacity="0.1"/>
<rect x="397.8" y="1164.6" width="5.9" height="36.9" fill="#008000" fill-opacity="0.3"/>
<rect x="403.7" y="1171.2" width="1.9" height="30.3" fill="#00a000" fill-opacity="0.1"/>
<rect x="405.6" y="1170.2" width="5.9" height="31.3" fill="#008000" fill-opacity="0.3"/>
<rect x="411.5" y="1171.8" width="1.9" height="29.7" fill="#00a000" fill-opacity="0.1"/>
<rect x="413.4" y="1170.8" width="5.9" height="30.7" fill="#008000" fill-opacity="0.3"/>
<rect x="419.3" y="1171.8" width="1.9" height="29.7" fill="#00a000" fill-opacity="0.1"/>
<rect x="421.1" y="1168.1" width="5.9" height="33.4" fill="#008000" fill-opacity="0.3"/>
<rect x="427.1" y="1169.1" width="1.9" height="32.4" fill="#00a000" fill-opacity="0.1"/>
<rect x="428.9" y="1167.1" width="5.9" height="34.4" fill="#008000" fill-opacity="0.3"/>
<rect x="434.8" y="1168.1" width="1.9" height="33.4" fill="#00a000" fill-opacity="0.1"/>
<rect x="436.7" y="1164.1" width="5.9" height="37.4" fill="#008000" fill-opacity="0.3"/>
<rect x="442.6" y="1165.1" width="1.9" height="36.4" fill="#00a000" fill-opacity="0.1"/>
<rect x="444.5" y="1163.3" width="5.9" height="38.2" fill="#008000" fill-opacity="0.3"/>
<rect x="450.4" y="1165.4" width="1.9" height="36.1" fill="#00a000" fill-opacity="0.1"/>
<rect x="452.3" y="1164.4" width="5.9" height="37.1" fill="#008000" fill-opacity="0.3"/>
<rect x="458.2" y="1165.4" width="1.9" height="36.1" fill="#00a000" fill-opacity="0.1"/>
<rect x="460.1" y="1159.6" width="5.9" height="41.9" fill="#008000" fill-opacity="0.3"/>
<rect x="466" y="1168.8" width="1.9" height="32.7" fill="#00a000" fill-opacity="0.1"/>
<rect x="467.9" y="1167.8" width="5.9" height="33.7" fill="#008000" fill-opacity="0.3"/>
<rect x="473.8" y="1168.8" width="1.9" height="32.7" fill="#00a000" fill-opacity="0.1"/>
<rect x="475.7" y="1161.6" width="5.9" height="39.9" fill="#008000" fill-opacity="0.3"/>
<rect x="481.6" y="1167.3" width="1.9" height="34.2" fill="#00a000" fill-opacity="0.1"/>
<rect x="483.4" y="1166.3" width="5.9" height="35.2" fill="#008000" fill-opacity="0.3"/>
<rect x="489.4" y="1167.3" width="1.9" height="34.2" fill="#00a000" fill-opacity="0.1"/>
<rect x="491.2" y="1164.3" width="5.9" height="37.2" fill="#008000" fill-opacity="0.3"/>
<rect x="497.1" y="1165.3" width="1.9" height="36.2" fill="#00a000" fill-opacity="0.1"/>
<rect x="499" y="1153.5" width="5.9" height="48" fill="#008000" fill-opacity="0.3"/>
<rect x="504.9" y="1161.8" width="1.9" height="39.7" fill="#00a000" fill-opacity="0.1"/>
<rect x="506.8" y="1160.8" width="5.9" height="40.7" fill="#008000" fill-opacity="0.3"/>
<rect x="512.7" y="1166" width="1.9" height="35.5" fill="#00a000" fill-opacity="0.1"/>
<rect x="514.6" y="1165" width="5.9" height="36.5" fill="#008000" fill-opacity="0.3"/>
<rect x="520.5" y="1166" width="1.9" height="35.5" fill="#00a000" fill-opacity="0.1"/>
<rect x="522.4" y="1164.2" width="5.9" height="37.3" fill="#008000" fill-opacity="0.3"/>
<rect x="528.3" y="1165.2" width="1.9" height="36.3" fill="#00a000" fill-opacity="0.1"/>
<rect x="530.2" y="1161.3" width="5.9" height="40.2" fill="#008000" fill-opacity="0.3"/>
<rect x="536.1" y="1163.8" width="1.9" height="37.7" fill="#00a000" fill-opacity="0.1"/>
<rect x="538" y="1162.8" width="5.9" height="38.7" fill="#008000" fill-opacity="0.3"/>
<rect x="543.9" y="1166" width="1.9" height="35.5" fill="#00a000" fill-opacity="0.1"/>
<rect x="545.7" y="1165" width="5.9" height="36.5" fill="#008000" fill-opacity="0.3"/>
<rect x="551.7" y="1166.5" width="1.9" height="35" fill="#00a000" fill-opacity="0.1"/>
<rect x="553.5" y="1165.5" width="5.9" height="36" fill="#008000" fill-opacity="0.3"/>
<rect x="559.4" y="1167.2" width="1.9" height="34.3" fill="#00a000" fill-opacity="0.1"/>
<rect x="561.3" y="1166.2" width="5.9" height="35.3" fill="#008000" fill-opacity="0.3"/>
<rect x="567.2" y="1167.2" width="1.9" height="34.3" fill="#00a000" fill-opacity="0.1"/>
<rect x="569.1" y="1165.7" width="5.9" height="35.8" fill="#008000" fill-opacity="0.3"/>
<rect x="575" y="1169.3" width="1.9" height="32.2" fill="#00a000" fill-opacity="0.1"/>
<rect x="576.9" y="1168.3" width="5.9" height="33.2" fill="#008000" fill-opacity="0.3"/>
<rect x="582.8" y="1169.3" width="1.9" height="32.2" fill="#00a000" fill-opacity="0.1"/>
<rect x="584.7" y="1168.1" width="5.9" height="33.4" fill="#008000" fill-opacity="0.3"/>
<rect x="590.6" y="1169.1" width="1.9" height="32.4" fill="#00a000" fill-opacity="0.1"/>
<rect x="592.5" y="1166.1" width="5.9" height="35.4" fill="#008000" fill-opacity="0.3"/>
<rect x="598.4" y="1168.8" width="1.9" height="32.7" fill="#00a000" fill-opacity="0.1"/>
<rect x="600.3" y="1167.8" width="5.9" height="33.7" fill="#008000" fill-opacity="0.3"/>
<rect x="606.2" y="1168.8" width="1.9" height="32.7" fill="#00a000" fill-opacity="0.1"/>
<rect x="608" y="1166.8" width="5.9" height="34.7" fill="#008000" fill-opacity="0.3"/>
<rect x="614" y="1167.8" width="1.9" height="33.7" fill="#00a000" fill-opacity="0.1"/>
<rect x="615.8" y="1166.3" width="5.9" height="35.2" fill="#008000" fill-opacity="0.3"/>
<rect x="621.7" y="1167.3" width="1.9" height="34.2" fill="#00a000" fill-opacity="0.1"/>
<rect x="623.6" y="1165.8" width="5.9" height="35.7" fill="#008000" fill-opacity="0.3"/>
<rect x="629.5" y="1169.7" width="1.9" height="31.8" fill="#00a000" fill-opacity="0.1"/>
<rect x="631.4" y="1168.7" width="5.9" height="32.8" fill="#008000" fill-opacity="0.3"/>
<rect x="637.3" y="1170.6" width="1.9" height="30.9" fill="#00a000" fill-opacity="0.1"/>
<rect x="639.2" y="1169.6" width="5.9" height="31.9" fill="#008000" fill-opacity="0.3"/>
<rect x="645.1" y="1171.2" width="1.9" height="30.3" fill="#00a000" fill-opacity="0.1"/>
<rect x="647" y="1170.2" width="5.9" height="31.3" fill="#008000" fill-opacity="0.3"/>
<rect x="652.9" y="1171.2" width="1.9" height="30.3" fill="#00a000" fill-opacity="0.1"/>
<rect x="654.8" y="1169.2" width="5.9" height="32.3" fill="#008000" fill-opacity="0.3"/>
<rect x="660.7" y="1170.2" width="1.9" height="31.3" fill="#00a000" fill-opacity="0.1"/>
<rect x="662.6" y="1163.6" width="5.9" height="37.9" fill="#008000" fill-opacity="0.3"/>
<rect x="668.5" y="1164.6" width="1.9" height="36.9" fill="#00a000" fill-opacity="0.1"/>
<rect x="670.3" y="1158.3" width="5.9" height="43.2" fill="#008000" fill-opacity="0.3"/>
<rect x="676.3" y="1160.1" width="1.9" height="41.4" fill="#00a000" fill-opacity="0.1"/>
<rect x="678.1" y="1159.1" width="5.9" height="42.4" fill="#008000" fill-opacity="0.3"/>
<rect x="684" y="1160.1" width="1.9" height="41.4" fill="#00a000" fill-opacity="0.1"/>
<rect x="685.9" y="1157" width="5.9" height="44.5" fill="#008000" fill-opacity="0.3"/>
<rect x="691.8" y="1159.2" width="1.9" height="42.3" fill="#00a000" fill-opacity="0.1"/>
<rect x="693.7" y="1158.2" width="5.9" height="43.3" fill="#008000" fill-opacity="0.3"/>
<rect x="699.6" y="1159.2" width="1.9" height="42.3" fill="#00a000" fill-opacity="0.1"/>
<rect x="701.5" y="1156" width="5.9" height="45.5" fill="#008000" fill-opacity="0.3"/>
<rect x="707.4" y="1157" width="1.9" height="44.5" fill="#00a000" fill-opacity="0.1"/>
<rect x="709.3" y="1153.9" width="5.9" height="47.6" fill="#008000" fill-opacity="0.3"/>
<rect x="715.2" y="1154.9" width="1.9" height="46.6" fill="#00a000" fill-opacity="0.1"/>
<rect x="717.1" y="1152" width="5.9" height="49.5" fill="#008000" fill-opacity="0.3"/>
<rect x="723" y="1161.4" width="1.9" height="40.1" fill="#00a000" fill-opacity="0.1"/>
<rect x="724.9" y="1160.4" width="5.9" height="41.1" fill="#008000" fill-opacity="0.3"/>
<rect x="730.8" y="1161.4" width="1.9" height="40.1" fill="#00a000" fill-opacity="0.1"/>
<rect x="732.6" y="1156.3" width="5.9" height="45.2" fill="#008000" fill-opacity="0.3"/>
<rect x="738.6" y="1165.9" width="1.9" height="35.6" fill="#00a000" fill-opacity="0.1"/>
<rect x="740.4" y="1164.9" width="5.9" height="36.6" fill="#008000" fill-opacity="0.3"/>
<rect x="746.3" y="1166.5" width="1.9" height="35" fill="#00a000" fill-opacity="0.1"/>
<rect x="748.2" y="1165.5" width="5.9" height="36" fill="#008000" fill-opacity="0.3"/>
<rect x="754.1" y="1167.9" width="1.9" height="33.6" fill="#00a000" fill-opacity="0.1"/>
<rect x="756" y="1166.9" width="5.9" height="34.6" fill="#008000" fill-opacity="0.3"/>
<rect x="761.9" y="1167.9" width="1.9" height="33.6" fill="#00a000" fill-opacity="0.1"/>
<rect x="763.8" y="1165.1" width="5.9" height="36.4" fill="#008000" fill-opacity="0.3"/>
<rect x="769.7" y="1170.1" width="1.9" height="31.4" fill="#00a000" fill-opacity="0.1"/>
<rect x="771.6" y="1169.1" width="5.9" height="32.4" fill="#008000" fill-opacity="0.3"/>
<rect x="777.5" y="1170.1" width="1.9" height="31.4" fill="#00a000" fill-opacity="0.1"/>
<rect x="779.4" y="1167.3" width="5.9" height="34.2" fill="#008000" fill-opacity="0.3"/>
<rect x="785.3" y="1168.3" width="1.9" height="33.2" fill="#00a000" fill-opacity="0.1"/>
<rect x="787.2" y="1164.9" width="5.9" height="36.6" fill="#008000" fill-opacity="0.3"/>
<rect x="793.1" y="1167.2" width="1.9" height="34.3" fill="#00a000" fill-opacity="0.1"/>
<rect x="794.9" y="1166.2" width="5.9" height="35.3" fill="#008000" fill-opacity="0.3"/>
<rect x="800.9" y="1167.2" width="1.9" height="34.3" fill="#00a000" fill-opacity="0.1"/>
<rect x="802.7" y="1162.1" width="5.9" height="39.4" fill="#008000" fill-opacity="0.3"/>
<rect x="808.6" y="1169.8" width="1.9" height="31.7" fill="#00a000" fill-opacity="0.1"/>
<rect x="810.5" y="1168.8" width="5.9" height="32.7" fill="#008000" fill-opacity="0.3"/>
<rect x="816.4" y="1172.5" width="1.9" height="29" fill="#00a000" fill-opacity="0.1"/>
<rect x="818.3" y="1171.5" width="5.9" height="30" fill="#008000" fill-opacity="0.3"/>
<rect x="824.2" y="1172.5" width="1.9" height="29" fill="#00a000" fill-opacity="0.1"/>
<rect x="826.1" y="1169.2" width="5.9" height="32.3" fill="#008000" fill-opacity="0.3"/>
<rect x="832" y="1170.2" width="1.9" height="31.3" fill="#00a000" fill-opacity="0.1"/>
<rect x="833.9" y="1167.9" width="5.9" height="33.6" fill="#008000" fill-opacity="0.3"/>
<rect x="839.8" y="1170.2" width="1.9" height="31.3" fill="#00a000" fill-opacity="0.1"/>
<rect x="841.7" y="1169.2" width="5.9" height="32.3" fill="#008000" fill-opacity="0.3"/>
<rect x="847.6" y="1176.8" width="1.9" height="24.7" fill="#00a000" fill-opacity="0.1"/>
<rect x="849.5" y="1175.8" width="5.9" height="25.7" fill="#008000" fill-opacity="0.3"/>
<g stroke="#1f1fff" stroke-width="1.6" opacity="0.45"><line x1="112.6" y1="1105.5" x2="112.6" y2="1122.3"/><line x1="112.6" y1="1138.2" x2="112.6" y2="1152.2"/><line x1="110.7" y1="1105.5" x2="114.5" y2="1105.5"/><line x1="110.7" y1="1152.2" x2="114.5" y2="1152.2"/><rect x="109.5" y="1122.3" width="6.2" height="15.9" fill="none"/></g>
<g stroke="#1f1fff" stroke-width="1.6" opacity="0.95"><line x1="120.4" y1="1120.4" x2="120.4" y2="1127.1"/><line x1="120.4" y1="1138.5" x2="120.4" y2="1148.3"/><line x1="118.5" y1="1120.4" x2="122.3" y2="1120.4"/><line x1="118.5" y1="1148.3" x2="122.3" y2="1148.3"/><rect x="117.3" y="1127.1" width="6.2" height="11.5" fill="none"/></g>
<g stroke="#1f1fff" stroke-width="1.6" opacity="0.45"><line x1="128.2" y1="1115" x2="128.2" y2="1124.6"/><line x1="128.2" y1="1143.8" x2="128.2" y2="1153"/><line x1="126.3" y1="1115" x2="130" y2="1115"/><line x1="126.3" y1="1153" x2="130" y2="1153"/><rect x="125.1" y="1124.6" width="6.2" height="19.2" fill="none"/></g>
<g stroke="#1f1fff" stroke-width="1.6" opacity="0.95"><line x1="136" y1="1118.9" x2="136" y2="1126"/><line x1="136" y1="1142.4" x2="136" y2="1152.4"/><line x1="134.1" y1="1118.9" x2="137.8" y2="1118.9"/><line x1="134.1" y1="1152.4" x2="137.8" y2="1152.4"/><rect x="132.8" y="1126" width="6.2" height="16.4" fill="none"/><line x1="133.5" y1="1163.3" x2="138.5" y2="1163.3"/></g>
<g stroke="#1f1fff" stroke-width="1.6" opacity="0.95"><line x1="143.8" y1="1113.2" x2="143.8" y2="1125.1"/><line x1="143.8" y1="1144.9" x2="143.8" y2="1154.3"/><line x1="141.9" y1="1113.2" x2="145.6" y2="1113.2"/><line x1="141.9" y1="1154.3" x2="145.6" y2="1154.3"/><rect x="140.6" y="1125.1" width="6.2" height="19.9" fill="none"/></g>
<g stroke="#1f1fff" stroke-width="1.6" opacity="0.95"><line x1="151.5" y1="1117.1" x2="151.5" y2="1129.5"/><line x1="151.5" y1="1141" x2="151.5" y2="1154.6"/><line x1="149.7" y1="1117.1" x2="153.4" y2="1117.1"/><line x1="149.7" y1="1154.6" x2="153.4" y2="1154.6"/><rect x="148.4" y="1129.5" width="6.2" height="11.6" fill="none"/><line x1="149" y1="1165.2" x2="154" y2="1165.2"/></g>
<g stroke="#1f1fff" stroke-width="1.6" opacity="0.95"><line x1="159.3" y1="1118.2" x2="159.3" y2="1126"/><line x1="159.3" y1="1143.3" x2="159.3" y2="1155.1"/><line x1="157.5" y1="1118.2" x2="161.2" y2="1118.2"/><line x1="157.5" y1="1155.1" x2="161.2" y2="1155.1"/><rect x="156.2" y="1126" width="6.2" height="17.3" fill="none"/></g>
<g stroke="#1f1fff" stroke-width="1.6" opacity="0.45"><line x1="167.1" y1="1115" x2="167.1" y2="1128.8"/><line x1="167.1" y1="1141.2" x2="167.1" y2="1149.8"/><line x1="165.2" y1="1115" x2="169" y2="1115"/><line x1="165.2" y1="1149.8" x2="169" y2="1149.8"/><rect x="164" y="1128.8" width="6.2" height="12.4" fill="none"/></g>
<g stroke="#1f1fff" stroke-width="1.6" opacity="0.95"><line x1="174.9" y1="1111.6" x2="174.9" y2="1126.7"/><line x1="174.9" y1="1146" x2="174.9" y2="1156.8"/><line x1="173" y1="1111.6" x2="176.8" y2="1111.6"/><line x1="173" y1="1156.8" x2="176.8" y2="1156.8"/><rect x="171.8" y="1126.7" width="6.2" height="19.3" fill="none"/></g>
<g stroke="#1f1fff" stroke-width="1.6" opacity="0.95"><line x1="182.7" y1="1116.8" x2="182.7" y2="1132.1"/><line x1="182.7" y1="1144.5" x2="182.7" y2="1161.7"/><line x1="180.8" y1="1116.8" x2="184.6" y2="1116.8"/><line x1="180.8" y1="1161.7" x2="184.6" y2="1161.7"/><rect x="179.6" y="1132.1" width="6.2" height="12.4" fill="none"/></g>
<g stroke="#1f1fff" stroke-width="1.6" opacity="0.45"><line x1="190.5" y1="1119.3" x2="190.5" y2="1129"/><line x1="190.5" y1="1144.5" x2="190.5" y2="1156.6"/><line x1="188.6" y1="1119.3" x2="192.3" y2="1119.3"/><line x1="188.6" y1="1156.6" x2="192.3" y2="1156.6"/><rect x="187.4" y="1129" width="6.2" height="15.4" fill="none"/><line x1="188" y1="1107.6" x2="193" y2="1107.6"/><line x1="188" y1="1163.8" x2="193" y2="1163.8"/></g>
<g stroke="#1f1fff" stroke-width="1.6" opacity="0.95"><line x1="198.3" y1="1117.5" x2="198.3" y2="1129.2"/><line x1="198.3" y1="1144.8" x2="198.3" y2="1163.8"/><line x1="196.4" y1="1117.5" x2="200.1" y2="1117.5"/><line x1="196.4" y1="1163.8" x2="200.1" y2="1163.8"/><rect x="195.1" y="1129.2" width="6.2" height="15.6" fill="none"/><line x1="195.8" y1="1175.9" x2="200.8" y2="1175.9"/></g>
<g stroke="#1f1fff" stroke-width="1.6" opacity="0.45"><line x1="206" y1="1113.8" x2="206" y2="1130.3"/><line x1="206" y1="1145" x2="206" y2="1156.8"/><line x1="204.2" y1="1113.8" x2="207.9" y2="1113.8"/><line x1="204.2" y1="1156.8" x2="207.9" y2="1156.8"/><rect x="202.9" y="1130.3" width="6.2" height="14.8" fill="none"/></g>
<g stroke="#1f1fff" stroke-width="1.6" opacity="0.95"><line x1="213.8" y1="1119.2" x2="213.8" y2="1130.9"/><line x1="213.8" y1="1141.8" x2="213.8" y2="1152.2"/><line x1="212" y1="1119.2" x2="215.7" y2="1119.2"/><line x1="212" y1="1152.2" x2="215.7" y2="1152.2"/><rect x="210.7" y="1130.9" width="6.2" height="10.9" fill="none"/><line x1="211.3" y1="1108.9" x2="216.3" y2="1108.9"/><line x1="211.3" y1="1164.8" x2="216.3" y2="1164.8"/></g>
<g stroke="#1f1fff" stroke-width="1.6" opacity="0.45"><line x1="221.6" y1="1116.6" x2="221.6" y2="1125.2"/><line x1="221.6" y1="1141.2" x2="221.6" y2="1161.5"/><line x1="219.8" y1="1116.6" x2="223.5" y2="1116.6"/><line x1="219.8" y1="1161.5" x2="223.5" y2="1161.5"/><rect x="218.5" y="1125.2" width="6.2" height="16" fill="none"/></g>
<g stroke="#1f1fff" stroke-width="1.6" opacity="0.95"><line x1="229.4" y1="1112.3" x2="229.4" y2="1123.2"/><line x1="229.4" y1="1137.5" x2="229.4" y2="1153.9"/><line x1="227.5" y1="1112.3" x2="231.3" y2="1112.3"/><line x1="227.5" y1="1153.9" x2="231.3" y2="1153.9"/><rect x="226.3" y="1123.2" width="6.2" height="14.3" fill="none"/></g>
<g stroke="#1f1fff" stroke-width="1.6" opacity="0.95"><line x1="237.2" y1="1000.3" x2="237.2" y2="1124.8"/><line x1="237.2" y1="1144" x2="237.2" y2="1154.6"/><line x1="235.3" y1="1000.3" x2="239.1" y2="1000.3"/><line x1="235.3" y1="1154.6" x2="239.1" y2="1154.6"/><rect x="234.1" y="1124.8" width="6.2" height="19.2" fill="none"/></g>
<g stroke="#1f1fff" stroke-width="1.6" opacity="0.45"><line x1="245" y1="1000.3" x2="245" y2="1114.2"/><line x1="245" y1="1144" x2="245" y2="1158.1"/><line x1="243.1" y1="1000.3" x2="246.9" y2="1000.3"/><line x1="243.1" y1="1158.1" x2="246.9" y2="1158.1"/><rect x="241.9" y="1114.2" width="6.2" height="29.8" fill="none"/></g>
<g stroke="#1f1fff" stroke-width="1.6" opacity="0.95"><line x1="252.8" y1="998.8" x2="252.8" y2="1109.2"/><line x1="252.8" y1="1151" x2="252.8" y2="1157"/><line x1="250.9" y1="998.8" x2="254.6" y2="998.8"/><line x1="250.9" y1="1157" x2="254.6" y2="1157"/><rect x="249.7" y="1109.2" width="6.2" height="41.8" fill="none"/></g>
<g stroke="#1f1fff" stroke-width="1.6" opacity="0.95"><line x1="260.6" y1="997.2" x2="260.6" y2="1123.5"/><line x1="260.6" y1="1143" x2="260.6" y2="1158.1"/><line x1="258.7" y1="997.2" x2="262.4" y2="997.2"/><line x1="258.7" y1="1158.1" x2="262.4" y2="1158.1"/><rect x="257.4" y="1123.5" width="6.2" height="19.5" fill="none"/></g>
<g stroke="#1f1fff" stroke-width="1.6" opacity="0.45"><line x1="268.4" y1="1000.7" x2="268.4" y2="1111.4"/><line x1="268.4" y1="1143.5" x2="268.4" y2="1153.2"/><line x1="266.5" y1="1000.7" x2="270.2" y2="1000.7"/><line x1="266.5" y1="1153.2" x2="270.2" y2="1153.2"/><rect x="265.2" y="1111.4" width="6.2" height="32.1" fill="none"/></g>
<g stroke="#1f1fff" stroke-width="1.6" opacity="0.45"><line x1="276.1" y1="912.5" x2="276.1" y2="1081.6"/><line x1="276.1" y1="1111.4" x2="276.1" y2="1143.5"/><line x1="274.3" y1="912.5" x2="278" y2="912.5"/><line x1="274.3" y1="1143.5" x2="278" y2="1143.5"/><rect x="273" y="1081.6" width="6.2" height="29.8" fill="none"/></g>
<g stroke="#1f1fff" stroke-width="1.6" opacity="0.95"><line x1="283.9" y1="890.5" x2="283.9" y2="995.4"/><line x1="283.9" y1="1089.4" x2="283.9" y2="1137.6"/><line x1="282.1" y1="890.5" x2="285.8" y2="890.5"/><line x1="282.1" y1="1137.6" x2="285.8" y2="1137.6"/><rect x="280.8" y="995.4" width="6.2" height="94" fill="none"/></g>
<g stroke="#1f1fff" stroke-width="1.6" opacity="0.95"><line x1="291.7" y1="890.5" x2="291.7" y2="926.6"/><line x1="291.7" y1="1013.8" x2="291.7" y2="1100.7"/><line x1="289.8" y1="890.5" x2="293.6" y2="890.5"/><line x1="289.8" y1="1100.7" x2="293.6" y2="1100.7"/><rect x="288.6" y="926.6" width="6.2" height="87.2" fill="none"/></g>
<g stroke="#1f1fff" stroke-width="1.6" opacity="0.95"><line x1="299.5" y1="877.7" x2="299.5" y2="928"/><line x1="299.5" y1="1014.4" x2="299.5" y2="1084.4"/><line x1="297.6" y1="877.7" x2="301.4" y2="877.7"/><line x1="297.6" y1="1084.4" x2="301.4" y2="1084.4"/><rect x="296.4" y="928" width="6.2" height="86.4" fill="none"/></g>
<g stroke="#1f1fff" stroke-width="1.6" opacity="0.95"><line x1="307.3" y1="886.2" x2="307.3" y2="927.3"/><line x1="307.3" y1="1045.6" x2="307.3" y2="1088"/><line x1="305.4" y1="886.2" x2="309.2" y2="886.2"/><line x1="305.4" y1="1088" x2="309.2" y2="1088"/><rect x="304.2" y="927.3" width="6.2" height="118.3" fill="none"/></g>
<g stroke="#1f1fff" stroke-width="1.6" opacity="0.45"><line x1="315.1" y1="913.2" x2="315.1" y2="945"/><line x1="315.1" y1="1012.4" x2="315.1" y2="1102.1"/><line x1="313.2" y1="913.2" x2="316.9" y2="913.2"/><line x1="313.2" y1="1102.1" x2="316.9" y2="1102.1"/><rect x="312" y="945" width="6.2" height="67.4" fill="none"/></g>
<g stroke="#1f1fff" stroke-width="1.6" opacity="0.95"><line x1="322.9" y1="914.2" x2="322.9" y2="972"/><line x1="322.9" y1="1059.6" x2="322.9" y2="1102.8"/><line x1="321" y1="914.2" x2="324.7" y2="914.2"/><line x1="321" y1="1102.8" x2="324.7" y2="1102.8"/><rect x="319.7" y="972" width="6.2" height="87.6" fill="none"/></g>
<g stroke="#1f1fff" stroke-width="1.6" opacity="0.95"><line x1="330.6" y1="967" x2="330.6" y2="975.4"/><line x1="330.6" y1="1061.2" x2="330.6" y2="1114.9"/><line x1="328.8" y1="967" x2="332.5" y2="967"/><line x1="328.8" y1="1114.9" x2="332.5" y2="1114.9"/><rect x="327.5" y="975.4" width="6.2" height="85.8" fill="none"/></g>
<g stroke="#1f1fff" stroke-width="1.6" opacity="0.95"><line x1="338.4" y1="983.3" x2="338.4" y2="991"/><line x1="338.4" y1="1092.2" x2="338.4" y2="1127"/><line x1="336.6" y1="983.3" x2="340.3" y2="983.3"/><line x1="336.6" y1="1127" x2="340.3" y2="1127"/><rect x="335.3" y="991" width="6.2" height="101.2" fill="none"/></g>
<g stroke="#1f1fff" stroke-width="1.6" opacity="0.45"><line x1="346.2" y1="992.5" x2="346.2" y2="1014.4"/><line x1="346.2" y1="1088" x2="346.2" y2="1131.2"/><line x1="344.4" y1="992.5" x2="348.1" y2="992.5"/><line x1="344.4" y1="1131.2" x2="348.1" y2="1131.2"/><rect x="343.1" y="1014.4" width="6.2" height="73.6" fill="none"/></g>
<g stroke="#1f1fff" stroke-width="1.6" opacity="0.95"><line x1="354" y1="987.6" x2="354" y2="1069"/><line x1="354" y1="1088.5" x2="354" y2="1136.9"/><line x1="352.1" y1="987.6" x2="355.9" y2="987.6"/><line x1="352.1" y1="1136.9" x2="355.9" y2="1136.9"/><rect x="350.9" y="1069" width="6.2" height="19.5" fill="none"/></g>
<g stroke="#1f1fff" stroke-width="1.6" opacity="0.95"><line x1="361.8" y1="1033.2" x2="361.8" y2="1057.8"/><line x1="361.8" y1="1106.7" x2="361.8" y2="1127.2"/><line x1="359.9" y1="1033.2" x2="363.7" y2="1033.2"/><line x1="359.9" y1="1127.2" x2="363.7" y2="1127.2"/><rect x="358.7" y="1057.8" width="6.2" height="48.9" fill="none"/></g>
<g stroke="#1f1fff" stroke-width="1.6" opacity="0.45"><line x1="369.6" y1="1049" x2="369.6" y2="1091.2"/><line x1="369.6" y1="1121.9" x2="369.6" y2="1137.5"/><line x1="367.7" y1="1049" x2="371.5" y2="1049"/><line x1="367.7" y1="1137.5" x2="371.5" y2="1137.5"/><rect x="366.5" y="1091.2" width="6.2" height="30.7" fill="none"/><line x1="367.1" y1="1041.6" x2="372.1" y2="1041.6"/></g>
<g stroke="#1f1fff" stroke-width="1.6" opacity="0.95"><line x1="377.4" y1="1047.4" x2="377.4" y2="1100.6"/><line x1="377.4" y1="1122.5" x2="377.4" y2="1141.7"/><line x1="375.5" y1="1047.4" x2="379.2" y2="1047.4"/><line x1="375.5" y1="1141.7" x2="379.2" y2="1141.7"/><rect x="374.3" y="1100.6" width="6.2" height="21.9" fill="none"/><line x1="374.9" y1="1039.8" x2="379.9" y2="1039.8"/><line x1="374.9" y1="1150.8" x2="379.9" y2="1150.8"/></g>
<g stroke="#1f1fff" stroke-width="1.6" opacity="0.95"><line x1="385.2" y1="1061.2" x2="385.2" y2="1103.2"/><line x1="385.2" y1="1124.6" x2="385.2" y2="1146.1"/><line x1="383.3" y1="1061.2" x2="387" y2="1061.2"/><line x1="383.3" y1="1146.1" x2="387" y2="1146.1"/><rect x="382" y="1103.2" width="6.2" height="21.3" fill="none"/><line x1="382.7" y1="1043.8" x2="387.7" y2="1043.8"/><line x1="382.7" y1="1161" x2="387.7" y2="1161"/></g>
<g stroke="#1f1fff" stroke-width="1.6" opacity="0.95"><line x1="392.9" y1="1075.6" x2="392.9" y2="1106.7"/><line x1="392.9" y1="1125.5" x2="392.9" y2="1154.4"/><line x1="391.1" y1="1075.6" x2="394.8" y2="1075.6"/><line x1="391.1" y1="1154.4" x2="394.8" y2="1154.4"/><rect x="389.8" y="1106.7" width="6.2" height="18.8" fill="none"/><line x1="390.4" y1="1162" x2="395.4" y2="1162"/></g>
<g stroke="#1f1fff" stroke-width="1.6" opacity="0.45"><line x1="400.7" y1="1086.8" x2="400.7" y2="1109.2"/><line x1="400.7" y1="1127.5" x2="400.7" y2="1140.9"/><line x1="398.9" y1="1086.8" x2="402.6" y2="1086.8"/><line x1="398.9" y1="1140.9" x2="402.6" y2="1140.9"/><rect x="397.6" y="1109.2" width="6.2" height="18.4" fill="none"/><line x1="398.2" y1="1069.1" x2="403.2" y2="1069.1"/></g>
<g stroke="#1f1fff" stroke-width="1.6" opacity="0.45"><line x1="408.5" y1="1064.8" x2="408.5" y2="1103.6"/><line x1="408.5" y1="1127.1" x2="408.5" y2="1148.4"/><line x1="406.7" y1="1064.8" x2="410.4" y2="1064.8"/><line x1="406.7" y1="1148.4" x2="410.4" y2="1148.4"/><rect x="405.4" y="1103.6" width="6.2" height="23.5" fill="none"/></g>
<g stroke="#1f1fff" stroke-width="1.6" opacity="0.95"><line x1="416.3" y1="1066.4" x2="416.3" y2="1106.6"/><line x1="416.3" y1="1128.6" x2="416.3" y2="1151"/><line x1="414.4" y1="1066.4" x2="418.2" y2="1066.4"/><line x1="414.4" y1="1151" x2="418.2" y2="1151"/><rect x="413.2" y="1106.6" width="6.2" height="22.1" fill="none"/><line x1="413.8" y1="1052.8" x2="418.8" y2="1052.8"/></g>
<g stroke="#1f1fff" stroke-width="1.6" opacity="0.95"><line x1="424.1" y1="1075.2" x2="424.1" y2="1113.5"/><line x1="424.1" y1="1126.1" x2="424.1" y2="1145.6"/><line x1="422.2" y1="1075.2" x2="426" y2="1075.2"/><line x1="422.2" y1="1145.6" x2="426" y2="1145.6"/><rect x="421" y="1113.5" width="6.2" height="12.5" fill="none"/></g>
<g stroke="#1f1fff" stroke-width="1.6" opacity="0.95"><line x1="431.9" y1="1072.4" x2="431.9" y2="1109.9"/><line x1="431.9" y1="1125.2" x2="431.9" y2="1154"/><line x1="430" y1="1072.4" x2="433.8" y2="1072.4"/><line x1="430" y1="1154" x2="433.8" y2="1154"/><rect x="428.8" y="1109.9" width="6.2" height="15.3" fill="none"/><line x1="429.4" y1="1063.8" x2="434.4" y2="1063.8"/><line x1="429.4" y1="1160.4" x2="434.4" y2="1160.4"/></g>
<g stroke="#1f1fff" stroke-width="1.6" opacity="0.95"><line x1="439.7" y1="1081.8" x2="439.7" y2="1112.2"/><line x1="439.7" y1="1128" x2="439.7" y2="1152.6"/><line x1="437.8" y1="1081.8" x2="441.5" y2="1081.8"/><line x1="437.8" y1="1152.6" x2="441.5" y2="1152.6"/><rect x="436.6" y="1112.2" width="6.2" height="15.8" fill="none"/><line x1="437.2" y1="1076.9" x2="442.2" y2="1076.9"/></g>
<g stroke="#1f1fff" stroke-width="1.6" opacity="0.45"><line x1="447.5" y1="1085.3" x2="447.5" y2="1107.8"/><line x1="447.5" y1="1124.9" x2="447.5" y2="1138.5"/><line x1="445.6" y1="1085.3" x2="449.3" y2="1085.3"/><line x1="445.6" y1="1138.5" x2="449.3" y2="1138.5"/><rect x="444.3" y="1107.8" width="6.2" height="17.1" fill="none"/><line x1="445" y1="1067" x2="450" y2="1067"/></g>
<g stroke="#1f1fff" stroke-width="1.6" opacity="0.45"><line x1="455.2" y1="1086.9" x2="455.2" y2="1107"/><line x1="455.2" y1="1131.1" x2="455.2" y2="1150.4"/><line x1="453.4" y1="1086.9" x2="457.1" y2="1086.9"/><line x1="453.4" y1="1150.4" x2="457.1" y2="1150.4"/><rect x="452.1" y="1107" width="6.2" height="24.1" fill="none"/><line x1="452.8" y1="1159.8" x2="457.8" y2="1159.8"/></g>
<g stroke="#1f1fff" stroke-width="1.6" opacity="0.45"><line x1="463" y1="1072" x2="463" y2="1107.8"/><line x1="463" y1="1124.3" x2="463" y2="1143"/><line x1="461.2" y1="1072" x2="464.9" y2="1072"/><line x1="461.2" y1="1143" x2="464.9" y2="1143"/><rect x="459.9" y="1107.8" width="6.2" height="16.5" fill="none"/></g>
<g stroke="#1f1fff" stroke-width="1.6" opacity="0.45"><line x1="470.8" y1="1072.7" x2="470.8" y2="1110.1"/><line x1="470.8" y1="1123.9" x2="470.8" y2="1149.5"/><line x1="469" y1="1072.7" x2="472.7" y2="1072.7"/><line x1="469" y1="1149.5" x2="472.7" y2="1149.5"/><rect x="467.7" y="1110.1" width="6.2" height="13.8" fill="none"/></g>
<g stroke="#1f1fff" stroke-width="1.6" opacity="0.45"><line x1="478.6" y1="1085.1" x2="478.6" y2="1110.2"/><line x1="478.6" y1="1124.4" x2="478.6" y2="1141.4"/><line x1="476.7" y1="1085.1" x2="480.5" y2="1085.1"/><line x1="476.7" y1="1141.4" x2="480.5" y2="1141.4"/><rect x="475.5" y="1110.2" width="6.2" height="14.2" fill="none"/></g>
<g stroke="#1f1fff" stroke-width="1.6" opacity="0.45"><line x1="486.4" y1="1091.1" x2="486.4" y2="1108.5"/><line x1="486.4" y1="1128.6" x2="486.4" y2="1155.3"/><line x1="484.5" y1="1091.1" x2="488.3" y2="1091.1"/><line x1="484.5" y1="1155.3" x2="488.3" y2="1155.3"/><rect x="483.3" y="1108.5" width="6.2" height="20.1" fill="none"/></g>
<g stroke="#1f1fff" stroke-width="1.6" opacity="0.45"><line x1="494.2" y1="1085.2" x2="494.2" y2="1107.2"/><line x1="494.2" y1="1125.8" x2="494.2" y2="1142.1"/><line x1="492.3" y1="1085.2" x2="496.1" y2="1085.2"/><line x1="492.3" y1="1142.1" x2="496.1" y2="1142.1"/><rect x="491.1" y="1107.2" width="6.2" height="18.7" fill="none"/><line x1="491.7" y1="1078" x2="496.7" y2="1078"/></g>
<g stroke="#1f1fff" stroke-width="1.6" opacity="0.45"><line x1="502" y1="1084.1" x2="502" y2="1108.9"/><line x1="502" y1="1125.5" x2="502" y2="1143.9"/><line x1="500.1" y1="1084.1" x2="503.8" y2="1084.1"/><line x1="500.1" y1="1143.9" x2="503.8" y2="1143.9"/><rect x="498.9" y="1108.9" width="6.2" height="16.6" fill="none"/><line x1="499.5" y1="1077.9" x2="504.5" y2="1077.9"/><line x1="499.5" y1="1157.9" x2="504.5" y2="1157.9"/></g>
<g stroke="#1f1fff" stroke-width="1.6" opacity="0.45"><line x1="509.8" y1="1078.8" x2="509.8" y2="1105.9"/><line x1="509.8" y1="1124.6" x2="509.8" y2="1139.8"/><line x1="507.9" y1="1078.8" x2="511.6" y2="1078.8"/><line x1="507.9" y1="1139.8" x2="511.6" y2="1139.8"/><rect x="506.6" y="1105.9" width="6.2" height="18.7" fill="none"/><line x1="507.3" y1="1150.5" x2="512.3" y2="1150.5"/></g>
<g stroke="#1f1fff" stroke-width="1.6" opacity="0.95"><line x1="517.5" y1="1072.2" x2="517.5" y2="1109.9"/><line x1="517.5" y1="1123.9" x2="517.5" y2="1136.4"/><line x1="515.7" y1="1072.2" x2="519.4" y2="1072.2"/><line x1="515.7" y1="1136.4" x2="519.4" y2="1136.4"/><rect x="514.4" y="1109.9" width="6.2" height="14" fill="none"/></g>
<g stroke="#1f1fff" stroke-width="1.6" opacity="0.45"><line x1="525.3" y1="1088.9" x2="525.3" y2="1109.7"/><line x1="525.3" y1="1123.7" x2="525.3" y2="1135.6"/><line x1="523.5" y1="1088.9" x2="527.2" y2="1088.9"/><line x1="523.5" y1="1135.6" x2="527.2" y2="1135.6"/><rect x="522.2" y="1109.7" width="6.2" height="14" fill="none"/></g>
<g stroke="#1f1fff" stroke-width="1.6" opacity="0.95"><line x1="533.1" y1="1080.1" x2="533.1" y2="1105.5"/><line x1="533.1" y1="1122.7" x2="533.1" y2="1138.7"/><line x1="531.3" y1="1080.1" x2="535" y2="1080.1"/><line x1="531.3" y1="1138.7" x2="535" y2="1138.7"/><rect x="530" y="1105.5" width="6.2" height="17.2" fill="none"/><line x1="530.6" y1="1154.2" x2="535.6" y2="1154.2"/></g>
<g stroke="#1f1fff" stroke-width="1.6" opacity="0.95"><line x1="540.9" y1="1086" x2="540.9" y2="1105.3"/><line x1="540.9" y1="1121.5" x2="540.9" y2="1143.2"/><line x1="539" y1="1086" x2="542.8" y2="1086"/><line x1="539" y1="1143.2" x2="542.8" y2="1143.2"/><rect x="537.8" y="1105.3" width="6.2" height="16.3" fill="none"/><line x1="538.4" y1="1071.7" x2="543.4" y2="1071.7"/></g>
<g stroke="#1f1fff" stroke-width="1.6" opacity="0.95"><line x1="548.7" y1="1069.2" x2="548.7" y2="1103.2"/><line x1="548.7" y1="1122.1" x2="548.7" y2="1141.6"/><line x1="546.8" y1="1069.2" x2="550.6" y2="1069.2"/><line x1="546.8" y1="1141.6" x2="550.6" y2="1141.6"/><rect x="545.6" y="1103.2" width="6.2" height="18.9" fill="none"/></g>
<g stroke="#1f1fff" stroke-width="1.6" opacity="0.45"><line x1="556.5" y1="1084.1" x2="556.5" y2="1102.8"/><line x1="556.5" y1="1126.5" x2="556.5" y2="1148"/><line x1="554.6" y1="1084.1" x2="558.4" y2="1084.1"/><line x1="554.6" y1="1148" x2="558.4" y2="1148"/><rect x="553.4" y="1102.8" width="6.2" height="23.7" fill="none"/><line x1="554" y1="1152.6" x2="559" y2="1152.6"/></g>
<g stroke="#1f1fff" stroke-width="1.6" opacity="0.95"><line x1="564.3" y1="1082" x2="564.3" y2="1105.3"/><line x1="564.3" y1="1120.8" x2="564.3" y2="1134.4"/><line x1="562.4" y1="1082" x2="566.1" y2="1082"/><line x1="562.4" y1="1134.4" x2="566.1" y2="1134.4"/><rect x="561.2" y="1105.3" width="6.2" height="15.6" fill="none"/><line x1="561.8" y1="1070" x2="566.8" y2="1070"/></g>
<g stroke="#1f1fff" stroke-width="1.6" opacity="0.95"><line x1="572.1" y1="1071.8" x2="572.1" y2="1102.5"/><line x1="572.1" y1="1120.1" x2="572.1" y2="1132.6"/><line x1="570.2" y1="1071.8" x2="573.9" y2="1071.8"/><line x1="570.2" y1="1132.6" x2="573.9" y2="1132.6"/><rect x="568.9" y="1102.5" width="6.2" height="17.6" fill="none"/><line x1="569.6" y1="1053.4" x2="574.6" y2="1053.4"/></g>
<g stroke="#1f1fff" stroke-width="1.6" opacity="0.95"><line x1="579.9" y1="1084.4" x2="579.9" y2="1105.2"/><line x1="579.9" y1="1124.3" x2="579.9" y2="1139.6"/><line x1="578" y1="1084.4" x2="581.7" y2="1084.4"/><line x1="578" y1="1139.6" x2="581.7" y2="1139.6"/><rect x="576.7" y="1105.2" width="6.2" height="19.1" fill="none"/><line x1="577.4" y1="1153.8" x2="582.4" y2="1153.8"/></g>
<g stroke="#1f1fff" stroke-width="1.6" opacity="0.95"><line x1="587.6" y1="1078.5" x2="587.6" y2="1103.2"/><line x1="587.6" y1="1126" x2="587.6" y2="1137.9"/><line x1="585.8" y1="1078.5" x2="589.5" y2="1078.5"/><line x1="585.8" y1="1137.9" x2="589.5" y2="1137.9"/><rect x="584.5" y="1103.2" width="6.2" height="22.8" fill="none"/><line x1="585.1" y1="1072" x2="590.1" y2="1072"/></g>
<g stroke="#1f1fff" stroke-width="1.6" opacity="0.95"><line x1="595.4" y1="1085.8" x2="595.4" y2="1105.6"/><line x1="595.4" y1="1122.2" x2="595.4" y2="1145.8"/><line x1="593.6" y1="1085.8" x2="597.3" y2="1085.8"/><line x1="593.6" y1="1145.8" x2="597.3" y2="1145.8"/><rect x="592.3" y="1105.6" width="6.2" height="16.6" fill="none"/><line x1="592.9" y1="1154.1" x2="597.9" y2="1154.1"/></g>
<g stroke="#1f1fff" stroke-width="1.6" opacity="0.95"><line x1="603.2" y1="1077.4" x2="603.2" y2="1105"/><line x1="603.2" y1="1119.2" x2="603.2" y2="1129.2"/><line x1="601.3" y1="1077.4" x2="605.1" y2="1077.4"/><line x1="601.3" y1="1129.2" x2="605.1" y2="1129.2"/><rect x="600.1" y="1105" width="6.2" height="14.2" fill="none"/><line x1="600.7" y1="1064" x2="605.7" y2="1064"/></g>
<g stroke="#1f1fff" stroke-width="1.6" opacity="0.95"><line x1="611" y1="1076.7" x2="611" y2="1102.2"/><line x1="611" y1="1119.2" x2="611" y2="1129"/><line x1="609.1" y1="1076.7" x2="612.9" y2="1076.7"/><line x1="609.1" y1="1129" x2="612.9" y2="1129"/><rect x="607.9" y="1102.2" width="6.2" height="17.1" fill="none"/></g>
<g stroke="#1f1fff" stroke-width="1.6" opacity="0.45"><line x1="618.8" y1="1072.6" x2="618.8" y2="1105.3"/><line x1="618.8" y1="1123.7" x2="618.8" y2="1133.5"/><line x1="616.9" y1="1072.6" x2="620.7" y2="1072.6"/><line x1="616.9" y1="1133.5" x2="620.7" y2="1133.5"/><rect x="615.7" y="1105.3" width="6.2" height="18.4" fill="none"/><line x1="616.3" y1="1146.9" x2="621.3" y2="1146.9"/></g>
<g stroke="#1f1fff" stroke-width="1.6" opacity="0.45"><line x1="626.6" y1="1087.6" x2="626.6" y2="1105.6"/><line x1="626.6" y1="1126.4" x2="626.6" y2="1140.8"/><line x1="624.7" y1="1087.6" x2="628.4" y2="1087.6"/><line x1="624.7" y1="1140.8" x2="628.4" y2="1140.8"/><rect x="623.5" y="1105.6" width="6.2" height="20.8" fill="none"/><line x1="624.1" y1="1145.6" x2="629.1" y2="1145.6"/></g>
<g stroke="#1f1fff" stroke-width="1.6" opacity="0.45"><line x1="634.4" y1="1077.2" x2="634.4" y2="1109.7"/><line x1="634.4" y1="1123" x2="634.4" y2="1143.3"/><line x1="632.5" y1="1077.2" x2="636.2" y2="1077.2"/><line x1="632.5" y1="1143.3" x2="636.2" y2="1143.3"/><rect x="631.2" y="1109.7" width="6.2" height="13.3" fill="none"/></g>
<g stroke="#1f1fff" stroke-width="1.6" opacity="0.95"><line x1="642.1" y1="1078.3" x2="642.1" y2="1110"/><line x1="642.1" y1="1126.9" x2="642.1" y2="1137.9"/><line x1="640.3" y1="1078.3" x2="644" y2="1078.3"/><line x1="640.3" y1="1137.9" x2="644" y2="1137.9"/><rect x="639" y="1110" width="6.2" height="16.8" fill="none"/><line x1="639.6" y1="1149.5" x2="644.6" y2="1149.5"/></g>
<g stroke="#1f1fff" stroke-width="1.6" opacity="0.95"><line x1="649.9" y1="1087.7" x2="649.9" y2="1101.7"/><line x1="649.9" y1="1120.2" x2="649.9" y2="1132.3"/><line x1="648.1" y1="1087.7" x2="651.8" y2="1087.7"/><line x1="648.1" y1="1132.3" x2="651.8" y2="1132.3"/><rect x="646.8" y="1101.7" width="6.2" height="18.5" fill="none"/><line x1="647.4" y1="1142.7" x2="652.4" y2="1142.7"/></g>
<g stroke="#1f1fff" stroke-width="1.6" opacity="0.95"><line x1="657.7" y1="1075.7" x2="657.7" y2="1103.9"/><line x1="657.7" y1="1123.8" x2="657.7" y2="1135.9"/><line x1="655.9" y1="1075.7" x2="659.6" y2="1075.7"/><line x1="655.9" y1="1135.9" x2="659.6" y2="1135.9"/><rect x="654.6" y="1103.9" width="6.2" height="19.9" fill="none"/></g>
<g stroke="#1f1fff" stroke-width="1.6" opacity="0.95"><line x1="665.5" y1="1076.8" x2="665.5" y2="1112.4"/><line x1="665.5" y1="1125.8" x2="665.5" y2="1136.2"/><line x1="663.6" y1="1076.8" x2="667.4" y2="1076.8"/><line x1="663.6" y1="1136.2" x2="667.4" y2="1136.2"/><rect x="662.4" y="1112.4" width="6.2" height="13.4" fill="none"/><line x1="663" y1="1142.7" x2="668" y2="1142.7"/></g>
<g stroke="#1f1fff" stroke-width="1.6" opacity="0.45"><line x1="673.3" y1="1093.8" x2="673.3" y2="1108.3"/><line x1="673.3" y1="1130.3" x2="673.3" y2="1140.3"/><line x1="671.4" y1="1093.8" x2="675.2" y2="1093.8"/><line x1="671.4" y1="1140.3" x2="675.2" y2="1140.3"/><rect x="670.2" y="1108.3" width="6.2" height="22" fill="none"/><line x1="670.8" y1="1147.7" x2="675.8" y2="1147.7"/></g>
<g stroke="#1f1fff" stroke-width="1.6" opacity="0.95"><line x1="681.1" y1="1098.1" x2="681.1" y2="1114.3"/><line x1="681.1" y1="1129.1" x2="681.1" y2="1138.8"/><line x1="679.2" y1="1098.1" x2="683" y2="1098.1"/><line x1="679.2" y1="1138.8" x2="683" y2="1138.8"/><rect x="678" y="1114.3" width="6.2" height="14.8" fill="none"/></g>
<g stroke="#1f1fff" stroke-width="1.6" opacity="0.95"><line x1="688.9" y1="1097.2" x2="688.9" y2="1111.8"/><line x1="688.9" y1="1130.9" x2="688.9" y2="1143.5"/><line x1="687" y1="1097.2" x2="690.7" y2="1097.2"/><line x1="687" y1="1143.5" x2="690.7" y2="1143.5"/><rect x="685.8" y="1111.8" width="6.2" height="19.1" fill="none"/></g>
<g stroke="#1f1fff" stroke-width="1.6" opacity="0.95"><line x1="696.7" y1="1074.1" x2="696.7" y2="1108.9"/><line x1="696.7" y1="1131.5" x2="696.7" y2="1146.4"/><line x1="694.8" y1="1074.1" x2="698.5" y2="1074.1"/><line x1="694.8" y1="1146.4" x2="698.5" y2="1146.4"/><rect x="693.5" y="1108.9" width="6.2" height="22.6" fill="none"/><line x1="694.2" y1="1153.9" x2="699.2" y2="1153.9"/></g>
<g stroke="#1f1fff" stroke-width="1.6" opacity="0.95"><line x1="704.5" y1="1096.3" x2="704.5" y2="1120.9"/><line x1="704.5" y1="1136.5" x2="704.5" y2="1153"/><line x1="702.6" y1="1096.3" x2="706.3" y2="1096.3"/><line x1="702.6" y1="1153" x2="706.3" y2="1153"/><rect x="701.3" y="1120.9" width="6.2" height="15.6" fill="none"/><line x1="702" y1="1083.8" x2="707" y2="1083.8"/></g>
<g stroke="#1f1fff" stroke-width="1.6" opacity="0.45"><line x1="712.2" y1="1103.6" x2="712.2" y2="1119.7"/><line x1="712.2" y1="1136.7" x2="712.2" y2="1145.8"/><line x1="710.4" y1="1103.6" x2="714.1" y2="1103.6"/><line x1="710.4" y1="1145.8" x2="714.1" y2="1145.8"/><rect x="709.1" y="1119.7" width="6.2" height="17" fill="none"/></g>
<g stroke="#1f1fff" stroke-width="1.6" opacity="0.95"><line x1="720" y1="1106.7" x2="720" y2="1124"/><line x1="720" y1="1136.7" x2="720" y2="1153.4"/><line x1="718.2" y1="1106.7" x2="721.9" y2="1106.7"/><line x1="718.2" y1="1153.4" x2="721.9" y2="1153.4"/><rect x="716.9" y="1124" width="6.2" height="12.8" fill="none"/><line x1="717.5" y1="1095" x2="722.5" y2="1095"/><line x1="717.5" y1="1166.7" x2="722.5" y2="1166.7"/></g>
<g stroke="#1f1fff" stroke-width="1.6" opacity="0.95"><line x1="727.8" y1="1094.3" x2="727.8" y2="1119.9"/><line x1="727.8" y1="1137.8" x2="727.8" y2="1153.6"/><line x1="725.9" y1="1094.3" x2="729.7" y2="1094.3"/><line x1="725.9" y1="1153.6" x2="729.7" y2="1153.6"/><rect x="724.7" y="1119.9" width="6.2" height="18" fill="none"/><line x1="725.3" y1="1158" x2="730.3" y2="1158"/></g>
<g stroke="#1f1fff" stroke-width="1.6" opacity="0.45"><line x1="735.6" y1="1087.9" x2="735.6" y2="1120.5"/><line x1="735.6" y1="1134.2" x2="735.6" y2="1151.6"/><line x1="733.7" y1="1087.9" x2="737.5" y2="1087.9"/><line x1="733.7" y1="1151.6" x2="737.5" y2="1151.6"/><rect x="732.5" y="1120.5" width="6.2" height="13.7" fill="none"/><line x1="733.1" y1="1082.9" x2="738.1" y2="1082.9"/><line x1="733.1" y1="1156.3" x2="738.1" y2="1156.3"/></g>
<g stroke="#1f1fff" stroke-width="1.6" opacity="0.45"><line x1="743.4" y1="1086.4" x2="743.4" y2="1115.3"/><line x1="743.4" y1="1133.6" x2="743.4" y2="1144.5"/><line x1="741.5" y1="1086.4" x2="745.3" y2="1086.4"/><line x1="741.5" y1="1144.5" x2="745.3" y2="1144.5"/><rect x="740.3" y="1115.3" width="6.2" height="18.3" fill="none"/></g>
<g stroke="#1f1fff" stroke-width="1.6" opacity="0.95"><line x1="751.2" y1="1091.6" x2="751.2" y2="1119.5"/><line x1="751.2" y1="1133.6" x2="751.2" y2="1145.4"/><line x1="749.3" y1="1091.6" x2="753" y2="1091.6"/><line x1="749.3" y1="1145.4" x2="753" y2="1145.4"/><rect x="748.1" y="1119.5" width="6.2" height="14.1" fill="none"/></g>
<g stroke="#1f1fff" stroke-width="1.6" opacity="0.45"><line x1="759" y1="1096.3" x2="759" y2="1118.8"/><line x1="759" y1="1136.5" x2="759" y2="1152.8"/><line x1="757.1" y1="1096.3" x2="760.8" y2="1096.3"/><line x1="757.1" y1="1152.8" x2="760.8" y2="1152.8"/><rect x="755.8" y="1118.8" width="6.2" height="17.7" fill="none"/><line x1="756.5" y1="1091.4" x2="761.5" y2="1091.4"/><line x1="756.5" y1="1165.6" x2="761.5" y2="1165.6"/></g>
<g stroke="#1f1fff" stroke-width="1.6" opacity="0.45"><line x1="766.8" y1="1092.3" x2="766.8" y2="1118.3"/><line x1="766.8" y1="1133.4" x2="766.8" y2="1146.4"/><line x1="764.9" y1="1092.3" x2="768.6" y2="1092.3"/><line x1="764.9" y1="1146.4" x2="768.6" y2="1146.4"/><rect x="763.6" y="1118.3" width="6.2" height="15.1" fill="none"/><line x1="764.2" y1="1073.4" x2="769.2" y2="1073.4"/><line x1="764.2" y1="1151.4" x2="769.2" y2="1151.4"/></g>
<g stroke="#1f1fff" stroke-width="1.6" opacity="0.95"><line x1="774.5" y1="1099.7" x2="774.5" y2="1120.1"/><line x1="774.5" y1="1135.1" x2="774.5" y2="1144.6"/><line x1="772.7" y1="1099.7" x2="776.4" y2="1099.7"/><line x1="772.7" y1="1144.6" x2="776.4" y2="1144.6"/><rect x="771.4" y="1120.1" width="6.2" height="14.9" fill="none"/><line x1="772" y1="1157.1" x2="777" y2="1157.1"/></g>
<g stroke="#1f1fff" stroke-width="1.6" opacity="0.45"><line x1="782.3" y1="1092.3" x2="782.3" y2="1119.3"/><line x1="782.3" y1="1132.1" x2="782.3" y2="1141.9"/><line x1="780.5" y1="1092.3" x2="784.2" y2="1092.3"/><line x1="780.5" y1="1141.9" x2="784.2" y2="1141.9"/><rect x="779.2" y="1119.3" width="6.2" height="12.8" fill="none"/><line x1="779.8" y1="1155.6" x2="784.8" y2="1155.6"/></g>
<g stroke="#1f1fff" stroke-width="1.6" opacity="0.95"><line x1="790.1" y1="1085.1" x2="790.1" y2="1115"/><line x1="790.1" y1="1132.8" x2="790.1" y2="1147.9"/><line x1="788.2" y1="1085.1" x2="792" y2="1085.1"/><line x1="788.2" y1="1147.9" x2="792" y2="1147.9"/><rect x="787" y="1115" width="6.2" height="17.8" fill="none"/><line x1="787.6" y1="1075.6" x2="792.6" y2="1075.6"/></g>
<g stroke="#1f1fff" stroke-width="1.6" opacity="0.45"><line x1="797.9" y1="1098.9" x2="797.9" y2="1120.3"/><line x1="797.9" y1="1135.4" x2="797.9" y2="1152.7"/><line x1="796" y1="1098.9" x2="799.8" y2="1098.9"/><line x1="796" y1="1152.7" x2="799.8" y2="1152.7"/><rect x="794.8" y="1120.3" width="6.2" height="15.1" fill="none"/><line x1="795.4" y1="1086.6" x2="800.4" y2="1086.6"/></g>
<g stroke="#1f1fff" stroke-width="1.6" opacity="0.45"><line x1="805.7" y1="1098.1" x2="805.7" y2="1117.9"/><line x1="805.7" y1="1133.1" x2="805.7" y2="1143.6"/><line x1="803.8" y1="1098.1" x2="807.6" y2="1098.1"/><line x1="803.8" y1="1143.6" x2="807.6" y2="1143.6"/><rect x="802.6" y="1117.9" width="6.2" height="15.3" fill="none"/><line x1="803.2" y1="1087.7" x2="808.2" y2="1087.7"/></g>
<g stroke="#1f1fff" stroke-width="1.6" opacity="0.95"><line x1="813.5" y1="1090.2" x2="813.5" y2="1116.8"/><line x1="813.5" y1="1132.9" x2="813.5" y2="1150.1"/><line x1="811.6" y1="1090.2" x2="815.3" y2="1090.2"/><line x1="811.6" y1="1150.1" x2="815.3" y2="1150.1"/><rect x="810.4" y="1116.8" width="6.2" height="16.2" fill="none"/><line x1="811" y1="1084.5" x2="816" y2="1084.5"/><line x1="811" y1="1155.6" x2="816" y2="1155.6"/></g>
<g stroke="#1f1fff" stroke-width="1.6" opacity="0.45"><line x1="821.3" y1="1095.8" x2="821.3" y2="1119.4"/><line x1="821.3" y1="1132.8" x2="821.3" y2="1147.5"/><line x1="819.4" y1="1095.8" x2="823.1" y2="1095.8"/><line x1="819.4" y1="1147.5" x2="823.1" y2="1147.5"/><rect x="818.1" y="1119.4" width="6.2" height="13.4" fill="none"/><line x1="818.8" y1="1088.2" x2="823.8" y2="1088.2"/></g>
<g stroke="#1f1fff" stroke-width="1.6" opacity="0.95"><line x1="829" y1="1093.1" x2="829" y2="1118"/><line x1="829" y1="1136.4" x2="829" y2="1153.1"/><line x1="827.2" y1="1093.1" x2="830.9" y2="1093.1"/><line x1="827.2" y1="1153.1" x2="830.9" y2="1153.1"/><rect x="825.9" y="1118" width="6.2" height="18.4" fill="none"/></g>
<g stroke="#1f1fff" stroke-width="1.6" opacity="0.45"><line x1="836.8" y1="1094.1" x2="836.8" y2="1116.7"/><line x1="836.8" y1="1134.7" x2="836.8" y2="1145.1"/><line x1="835" y1="1094.1" x2="838.7" y2="1094.1"/><line x1="835" y1="1145.1" x2="838.7" y2="1145.1"/><rect x="833.7" y="1116.7" width="6.2" height="18" fill="none"/><line x1="834.3" y1="1156.9" x2="839.3" y2="1156.9"/></g>
<g stroke="#1f1fff" stroke-width="1.6" opacity="0.45"><line x1="844.6" y1="1087.3" x2="844.6" y2="1117.2"/><line x1="844.6" y1="1133.9" x2="844.6" y2="1150.2"/><line x1="842.8" y1="1087.3" x2="846.5" y2="1087.3"/><line x1="842.8" y1="1150.2" x2="846.5" y2="1150.2"/><rect x="841.5" y="1117.2" width="6.2" height="16.6" fill="none"/></g>
<g stroke="#1f1fff" stroke-width="1.6" opacity="0.45"><line x1="852.4" y1="1092.5" x2="852.4" y2="1120.9"/><line x1="852.4" y1="1137.9" x2="852.4" y2="1146.9"/><line x1="850.5" y1="1092.5" x2="854.3" y2="1092.5"/><line x1="850.5" y1="1146.9" x2="854.3" y2="1146.9"/><rect x="849.3" y="1120.9" width="6.2" height="17.1" fill="none"/></g>
<path d="M109.6,1135.6 L128.5,1137.1 L144.2,1135.6 L160.0,1134.0 L175.7,1131.8 L188.3,1130.8 L200.9,1134.0 L213.5,1137.1 L226.1,1134.9 L235.6,1133.0 L245.0,1126.1 L254.5,1113.5 L263.9,1091.5 L273.4,1066.3 L282.8,1037.9 L292.3,1012.7 L301.7,997.0 L311.2,988.2 L317.5,987.5 L323.8,993.8 L333.2,1009.6 L342.7,1028.5 L352.1,1047.4 L362.9,1069.4 L370.7,1078.9 L378.6,1085.2 L386.5,1088.3 L394.4,1090.8 L402.2,1093.0 L410.1,1094.6 L418.0,1096.2 L425.9,1097.1 L433.7,1097.1 L441.6,1098.4 L449.5,1100.3 L457.4,1097.1 L465.2,1095.2 L473.1,1097.8 L481.0,1102.5 L488.9,1103.1 L496.7,1102.5 L504.6,1100.9 L512.5,1098.4 L520.4,1097.1 L528.2,1097.8 L536.1,1095.2 L544.0,1094.6 L551.9,1093.0 L559.7,1091.5 L567.6,1090.8 L575.5,1091.5 L583.3,1091.5 L591.2,1089.9 L599.1,1088.3 L607.0,1089.9 L614.8,1091.5 L617.9,1092.4 L625.7,1094.6 L633.6,1095.2 L641.5,1094.6 L649.4,1095.2 L657.2,1096.2 L665.1,1099.3 L673.0,1102.5 L680.9,1106.6 L688.7,1109.7 L696.6,1112.9 L704.5,1116.7 L712.4,1120.4 L720.2,1122.3 L728.1,1122.3 L736.0,1123.0 L743.9,1124.5 L751.7,1126.1 L759.6,1127.7 L767.5,1129.3 L775.4,1130.8 L783.2,1131.8 L791.1,1132.4 L799.0,1132.4 L806.9,1132.4 L814.7,1132.4 L822.6,1132.4 L830.5,1132.4 L838.3,1133.0 L846.2,1134.0 L852.5,1134.0" fill="none" stroke="#ffa500" stroke-width="2.0" stroke-linejoin="round"/>
<path d="M112.4,1022.2 L120.6,1022.2 L128.5,1035.4 L136.4,1026.0 L144.2,1031.6 L152.1,1034.1 L160.0,1034.8 L167.9,1038.9 L175.7,1036.3 L183.6,1048.9 L191.5,1053.7 L198.4,1053.0 L206.3,1044.9 L214.2,1042.6 L222.4,1050.5 L229.3,1042.6 L237.2,1047.4 L245.0,1054.3 L252.9,1061.5 L260.8,1025.3 L268.7,1034.8 L276.5,993.8 L284.4,927.7 L291.6,876.7 L299.5,896.2 L307.4,915.1 L314.3,920.8 L322.2,927.7 L330.1,962.3 L337.9,959.8 L345.8,940.3 L353.7,968.6 L361.9,991.3 L369.2,993.2 L377.0,994.5 L384.9,985.0 L392.8,1039.5 L400.7,1037.9 L408.5,1035.4 L416.4,1032.3 L424.3,1036.3 L432.2,1029.1 L440.0,1046.7 L447.9,1050.5 L455.8,1042.6 L463.7,1047.4 L471.5,1048.9 L479.4,1056.8 L487.3,1055.2 L495.2,1055.2 L503.0,1058.4 L509.3,1008.6 L517.2,1008.0 L525.1,1006.4 L533.0,1006.4 L540.8,1007.1 L548.7,1037.9 L556.6,1053.7 L564.4,1056.8 L572.3,1014.3 L580.2,1008.0 L588.1,1026.0 L595.9,1031.0 L603.8,1001.7 L611.7,1017.4 L617.9,1028.5 L625.7,1044.9 L633.6,1022.8 L641.5,1018.4 L649.4,1015.2 L657.2,1019.7 L665.1,1029.1 L673.0,1026.9 L680.9,1026.0 L688.7,1029.1 L696.6,1030.0 L704.5,1041.1 L712.4,1078.9 L720.2,1022.2 L728.1,1032.3 L736.0,1007.1 L743.9,1017.4 L751.7,1028.5 L759.6,1032.3 L767.5,1082.6 L775.4,1028.5 L783.2,1018.4 L791.1,1014.3 L799.0,1013.4 L806.9,1008.0 L813.1,1039.5 L821.0,1022.2 L828.9,1015.9 L836.8,1003.3 L844.6,1003.3 L852.5,1016.5" fill="none" stroke="#22e822" stroke-width="2.4" stroke-linejoin="round"/>
<path d="M112.4,1038.6 L120.6,1052.1 L128.5,1075.7 L136.4,1057.4 L144.2,1068.8 L152.1,1069.4 L160.0,1072.6 L167.9,1079.5 L175.7,1072.6 L183.6,1090.8 L191.5,1096.2 L198.4,1098.4 L206.3,1086.7 L214.2,1084.5 L222.4,1093.0 L229.3,1082.0 L237.2,1089.3 L245.0,1099.3 L252.9,1108.8 L260.8,1064.7 L268.7,1074.1 L276.5,1022.2 L284.4,921.4 L291.6,883.6 L299.5,905.6 L307.4,927.7 L314.3,934.0 L322.2,943.4 L330.1,986.0 L337.9,981.9 L345.8,959.2 L353.7,997.0 L361.9,1019.7 L369.2,1023.7 L377.0,1023.1 L384.9,1012.1 L392.8,1071.0 L400.7,1069.4 L408.5,1067.8 L416.4,1066.3 L424.3,1067.8 L432.2,1062.5 L440.0,1074.1 L447.9,1073.5 L455.8,1068.8 L463.7,1073.2 L471.5,1078.9 L479.4,1076.7 L487.3,1079.5 L495.2,1078.2 L503.0,1078.2 L509.3,1026.0 L517.2,1033.2 L525.1,1021.5 L533.0,1023.1 L540.8,1024.7 L548.7,1067.8 L556.6,1078.9 L564.4,1085.2 L572.3,1030.0 L580.2,1025.3 L588.1,1060.0 L595.9,1060.0 L603.8,1014.9 L611.7,1028.5 L617.9,1052.1 L625.7,1064.7 L633.6,1050.5 L641.5,1041.1 L649.4,1033.2 L657.2,1044.9 L665.1,1060.0 L673.0,1058.4 L680.9,1058.4 L688.7,1058.4 L696.6,1056.2 L704.5,1078.9 L712.4,1124.5 L720.2,1047.4 L728.1,1070.0 L736.0,1025.3 L743.9,1047.4 L751.7,1066.3 L759.6,1069.4 L767.5,1119.8 L775.4,1066.3 L783.2,1052.1 L791.1,1043.6 L799.0,1048.0 L806.9,1034.1 L813.1,1081.4 L821.0,1041.1 L828.9,1032.3 L836.8,1025.3 L844.6,1030.0 L852.5,1043.6" fill="none" stroke="#000000" stroke-width="2.3" stroke-linejoin="round"/>
<path d="M109.6,1130.8 L120.6,1132.4 L128.5,1135.6 L136.4,1135.6 L144.2,1136.5 L152.1,1137.1 L160.0,1138.7 L167.9,1138.1 L175.7,1139.3 L183.6,1139.7 L191.5,1139.3 L198.4,1137.1 L206.3,1138.7 L214.2,1138.1 L222.4,1136.2 L229.3,1131.8 L237.2,1138.7 L245.0,1138.7 L252.9,1138.7 L260.8,1143.4 L268.7,1135.6 L276.5,1094.6 L284.4,1041.1 L291.6,986.0 L299.5,978.1 L307.4,965.5 L314.3,989.1 L322.2,1001.7 L330.1,1036.3 L337.9,1052.1 L345.8,1064.7 L353.7,1077.3 L361.9,1091.5 L369.2,1107.2 L377.0,1108.8 L384.9,1111.9 L392.8,1112.9 L400.7,1116.0 L408.5,1114.1 L416.4,1116.7 L424.3,1120.4 L432.2,1119.8 L440.0,1121.4 L447.9,1121.4 L455.8,1120.4 L463.7,1121.4 L471.5,1120.4 L479.4,1120.4 L487.3,1119.8 L495.2,1119.8 L503.0,1119.2 L510.9,1118.2 L518.8,1116.7 L526.7,1115.1 L534.5,1113.5 L542.4,1113.5 L550.3,1112.9 L558.1,1114.1 L566.0,1111.9 L573.9,1113.5 L581.8,1113.5 L589.6,1113.5 L597.5,1111.9 L605.4,1111.9 L613.3,1110.4 L617.9,1111.0 L625.7,1115.1 L633.6,1114.1 L641.5,1114.1 L649.4,1111.9 L657.2,1111.0 L665.1,1118.2 L673.0,1119.8 L680.9,1121.4 L688.7,1123.0 L696.6,1123.0 L704.5,1134.0 L712.4,1135.6 L720.2,1135.6 L728.1,1135.6 L736.0,1132.4 L743.9,1132.4 L751.7,1132.4 L759.6,1130.8 L767.5,1132.4 L775.4,1131.8 L783.2,1130.8 L791.1,1131.8 L799.0,1132.4 L806.9,1130.8 L814.7,1130.8 L822.6,1129.3 L830.5,1129.3 L838.3,1129.9 L846.2,1130.8 L852.5,1131.8" fill="none" stroke="#ff0000" stroke-width="2.6" stroke-linejoin="round"/>
<path d="M109.1,1129.8h7M112.6,1129.8v3M116.9,1130.9h7M120.4,1130.9v3M124.7,1133.9h7M128.2,1133.9v3M132.5,1134.1h7M136.0,1134.1v3M140.2,1134.9h7M143.8,1134.9v3M148.0,1135.6h7M151.5,1135.6v3M155.8,1137.1h7M159.3,1137.1v3M163.6,1136.6h7M167.1,1136.6v3M171.4,1137.7h7M174.9,1137.7v3M179.2,1138.1h7M182.7,1138.1v3M187.0,1137.9h7M190.5,1137.9v3M194.8,1135.7h7M198.3,1135.7v3M202.5,1137.2h7M206.0,1137.2v3M210.3,1136.6h7M213.8,1136.6v3M218.1,1134.9h7M221.6,1134.9v3M225.9,1130.4h7M229.4,1130.4v3M233.7,1137.2h7M237.2,1137.2v3M241.5,1137.2h7M245.0,1137.2v3M249.3,1137.2h7M252.8,1137.2v3M257.1,1141.8h7M260.6,1141.8v3M264.9,1134.4h7M268.4,1134.4v3M272.6,1095.1h7M276.1,1095.1v3M280.4,1042.8h7M283.9,1042.8v3M288.2,984.4h7M291.7,984.4v3M296.0,976.6h7M299.5,976.6v3M303.8,964.2h7M307.3,964.2v3M311.6,988.8h7M315.1,988.8v3M319.4,1003.1h7M322.9,1003.1v3M327.1,1036.0h7M330.6,1036.0v3M334.9,1051.4h7M338.4,1051.4v3M342.7,1063.8h7M346.2,1063.8v3M350.5,1076.3h7M354.0,1076.3v3M358.3,1089.7h7M361.8,1089.7v3M366.1,1105.8h7M369.6,1105.8v3M373.9,1107.4h7M377.4,1107.4v3M381.7,1110.5h7M385.2,1110.5v3M389.4,1111.4h7M392.9,1111.4v3M397.2,1114.5h7M400.7,1114.5v3M405.0,1112.6h7M408.5,1112.6v3M412.8,1115.1h7M416.3,1115.1v3M420.6,1118.8h7M424.1,1118.8v3M428.4,1118.3h7M431.9,1118.3v3M436.2,1119.8h7M439.7,1119.8v3M444.0,1119.9h7M447.5,1119.9v3M451.8,1119.0h7M455.2,1119.0v3M459.5,1119.8h7M463.0,1119.8v3M467.3,1119.0h7M470.8,1119.0v3M475.1,1118.9h7M478.6,1118.9v3M482.9,1118.4h7M486.4,1118.4v3M490.7,1118.3h7M494.2,1118.3v3M498.5,1117.8h7M502.0,1117.8v3M506.3,1116.9h7M509.8,1116.9v3M514.0,1115.4h7M517.5,1115.4v3M521.8,1113.8h7M525.3,1113.8v3M529.6,1112.3h7M533.1,1112.3v3M537.4,1112.0h7M540.9,1112.0v3M545.2,1111.5h7M548.7,1111.5v3M553.0,1112.4h7M556.5,1112.4v3M560.8,1110.9h7M564.3,1110.9v3M568.6,1111.6h7M572.1,1111.6v3M576.4,1112.0h7M579.9,1112.0v3M584.1,1112.0h7M587.6,1112.0v3M591.9,1110.9h7M595.4,1110.9v3M599.7,1110.4h7M603.2,1110.4v3M607.5,1109.3h7M611.0,1109.3v3M615.3,1110.0h7M618.8,1110.0v3M623.1,1113.5h7M626.6,1113.5v3M630.9,1112.6h7M634.4,1112.6v3M638.6,1112.5h7M642.1,1112.5v3M646.4,1110.4h7M649.9,1110.4v3M654.2,1109.9h7M657.7,1109.9v3M662.0,1116.8h7M665.5,1116.8v3M669.8,1118.4h7M673.3,1118.4v3M677.6,1119.9h7M681.1,1119.9v3M685.4,1121.5h7M688.9,1121.5v3M693.2,1121.5h7M696.7,1121.5v3M701.0,1132.4h7M704.5,1132.4v3M708.7,1134.0h7M712.2,1134.0v3M716.5,1134.1h7M720.0,1134.1v3M724.3,1134.1h7M727.8,1134.1v3M732.1,1131.1h7M735.6,1131.1v3M739.9,1130.9h7M743.4,1130.9v3M747.7,1130.9h7M751.2,1130.9v3M755.5,1129.5h7M759.0,1129.5v3M763.2,1130.8h7M766.8,1130.8v3M771.0,1130.3h7M774.5,1130.3v3M778.8,1129.4h7M782.3,1129.4v3M786.6,1130.2h7M790.1,1130.2v3M794.4,1130.8h7M797.9,1130.8v3M802.2,1129.6h7M805.7,1129.6v3M810.0,1129.3h7M813.5,1129.3v3M817.8,1128.0h7M821.3,1128.0v3M825.5,1127.8h7M829.0,1127.8v3M833.3,1128.3h7M836.8,1128.3v3M841.1,1129.1h7M844.6,1129.1v3M848.9,1130.3h7M852.4,1130.3v3" stroke="#ff0000" stroke-width="2" fill="none"/>
<line x1="97.7" y1="811.7" x2="97.7" y2="1201.5" stroke="#dddddd" stroke-width="1.3" stroke-linecap="square"/>
<line x1="867.7" y1="811.7" x2="867.7" y2="1201.5" stroke="#4a4a4a" stroke-width="1.6" stroke-linecap="square"/>
<line x1="97.7" y1="811.7" x2="867.7" y2="811.7" stroke="#4a4a4a" stroke-width="1.6" stroke-linecap="square"/>
<line x1="97.7" y1="1201.5" x2="867.7" y2="1201.5" stroke="#4a4a4a" stroke-width="1.6" stroke-linecap="square"/>
<line x1="1021.8" y1="1201.5" x2="1791.8" y2="1201.5" stroke="#ebebeb" stroke-width="1.4"/>
<line x1="1021.8" y1="1123.5" x2="1791.8" y2="1123.5" stroke="#ebebeb" stroke-width="1.4"/>
<line x1="1021.8" y1="1045.6" x2="1791.8" y2="1045.6" stroke="#ebebeb" stroke-width="1.4"/>
<line x1="1021.8" y1="967.6" x2="1791.8" y2="967.6" stroke="#a8a8a8" stroke-width="1.4"/>
<line x1="1021.8" y1="889.7" x2="1791.8" y2="889.7" stroke="#a8a8a8" stroke-width="1.4"/>
<line x1="1021.8" y1="811.7" x2="1791.8" y2="811.7" stroke="#ebebeb" stroke-width="1.4"/>
<line x1="1025" y1="811.7" x2="1025" y2="1201.5" stroke="#e8e8e8" stroke-width="1.4"/>
<line x1="1088.7" y1="811.7" x2="1088.7" y2="1201.5" stroke="#e8e8e8" stroke-width="1.4"/>
<line x1="1152.4" y1="811.7" x2="1152.4" y2="1201.5" stroke="#a8a8a8" stroke-width="1.4"/>
<line x1="1216.1" y1="811.7" x2="1216.1" y2="1201.5" stroke="#e8e8e8" stroke-width="1.4"/>
<line x1="1279.8" y1="811.7" x2="1279.8" y2="1201.5" stroke="#e8e8e8" stroke-width="1.4"/>
<line x1="1343.5" y1="811.7" x2="1343.5" y2="1201.5" stroke="#e8e8e8" stroke-width="1.4"/>
<line x1="1407.2" y1="811.7" x2="1407.2" y2="1201.5" stroke="#e8e8e8" stroke-width="1.4"/>
<line x1="1470.9" y1="811.7" x2="1470.9" y2="1201.5" stroke="#a8a8a8" stroke-width="1.4"/>
<line x1="1534.6" y1="811.7" x2="1534.6" y2="1201.5" stroke="#e8e8e8" stroke-width="1.4"/>
<line x1="1598.3" y1="811.7" x2="1598.3" y2="1201.5" stroke="#a8a8a8" stroke-width="1.4"/>
<line x1="1662" y1="811.7" x2="1662" y2="1201.5" stroke="#e8e8e8" stroke-width="1.4"/>
<line x1="1725.7" y1="811.7" x2="1725.7" y2="1201.5" stroke="#e8e8e8" stroke-width="1.4"/>
<rect x="1022" y="1174.1" width="6.1" height="27.4" fill="#008000" fill-opacity="0.3"/>
<rect x="1028" y="1179.1" width="1.9" height="22.4" fill="#00a000" fill-opacity="0.1"/>
<rect x="1029.9" y="1178.1" width="6.1" height="23.4" fill="#008000" fill-opacity="0.3"/>
<rect x="1036" y="1179.1" width="1.9" height="22.4" fill="#00a000" fill-opacity="0.1"/>
<rect x="1037.9" y="1170.9" width="6.1" height="30.6" fill="#008000" fill-opacity="0.3"/>
<rect x="1044" y="1176.8" width="1.9" height="24.7" fill="#00a000" fill-opacity="0.1"/>
<rect x="1045.9" y="1175.8" width="6.1" height="25.7" fill="#008000" fill-opacity="0.3"/>
<rect x="1051.9" y="1176.8" width="1.9" height="24.7" fill="#00a000" fill-opacity="0.1"/>
<rect x="1053.8" y="1174.2" width="6.1" height="27.3" fill="#008000" fill-opacity="0.3"/>
<rect x="1059.9" y="1181.4" width="1.9" height="20.1" fill="#00a000" fill-opacity="0.1"/>
<rect x="1061.8" y="1180.4" width="6.1" height="21.1" fill="#008000" fill-opacity="0.3"/>
<rect x="1067.8" y="1184.7" width="1.9" height="16.8" fill="#00a000" fill-opacity="0.1"/>
<rect x="1069.7" y="1183.7" width="6.1" height="17.8" fill="#008000" fill-opacity="0.3"/>
<rect x="1075.8" y="1189.5" width="1.9" height="12" fill="#00a000" fill-opacity="0.1"/>
<rect x="1077.7" y="1188.5" width="6.1" height="13" fill="#008000" fill-opacity="0.3"/>
<rect x="1083.8" y="1189.8" width="1.9" height="11.7" fill="#00a000" fill-opacity="0.1"/>
<rect x="1085.7" y="1188.8" width="6.1" height="12.7" fill="#008000" fill-opacity="0.3"/>
<rect x="1091.7" y="1189.8" width="1.9" height="11.7" fill="#00a000" fill-opacity="0.1"/>
<rect x="1093.6" y="1185.4" width="6.1" height="16.1" fill="#008000" fill-opacity="0.3"/>
<rect x="1099.7" y="1191.6" width="1.9" height="9.9" fill="#00a000" fill-opacity="0.1"/>
<rect x="1101.6" y="1190.6" width="6.1" height="10.9" fill="#008000" fill-opacity="0.3"/>
<rect x="1107.7" y="1191.6" width="1.9" height="9.9" fill="#00a000" fill-opacity="0.1"/>
<rect x="1109.6" y="1189.1" width="6.1" height="12.4" fill="#008000" fill-opacity="0.3"/>
<rect x="1115.6" y="1190.1" width="1.9" height="11.4" fill="#00a000" fill-opacity="0.1"/>
<rect x="1117.5" y="1189.1" width="6.1" height="12.4" fill="#008000" fill-opacity="0.3"/>
<rect x="1123.6" y="1190.1" width="1.9" height="11.4" fill="#00a000" fill-opacity="0.1"/>
<rect x="1125.5" y="1189.1" width="6.1" height="12.4" fill="#008000" fill-opacity="0.3"/>
<rect x="1131.5" y="1190.2" width="1.9" height="11.3" fill="#00a000" fill-opacity="0.1"/>
<rect x="1133.4" y="1189.2" width="6.1" height="12.3" fill="#008000" fill-opacity="0.3"/>
<rect x="1139.5" y="1191.6" width="1.9" height="9.9" fill="#00a000" fill-opacity="0.1"/>
<rect x="1141.4" y="1190.6" width="6.1" height="10.9" fill="#008000" fill-opacity="0.3"/>
<rect x="1147.5" y="1191.6" width="1.9" height="9.9" fill="#00a000" fill-opacity="0.1"/>
<rect x="1149.4" y="1189.7" width="6.1" height="11.8" fill="#008000" fill-opacity="0.3"/>
<rect x="1155.4" y="1190.7" width="1.9" height="10.8" fill="#00a000" fill-opacity="0.1"/>
<rect x="1157.3" y="1189.7" width="6.1" height="11.8" fill="#008000" fill-opacity="0.3"/>
<rect x="1163.4" y="1190.7" width="1.9" height="10.8" fill="#00a000" fill-opacity="0.1"/>
<rect x="1165.3" y="1189.5" width="6.1" height="12" fill="#008000" fill-opacity="0.3"/>
<rect x="1171.4" y="1190.5" width="1.9" height="11" fill="#00a000" fill-opacity="0.1"/>
<rect x="1173.3" y="1187.6" width="6.1" height="13.9" fill="#008000" fill-opacity="0.3"/>
<rect x="1179.3" y="1189.7" width="1.9" height="11.8" fill="#00a000" fill-opacity="0.1"/>
<rect x="1181.2" y="1188.7" width="6.1" height="12.8" fill="#008000" fill-opacity="0.3"/>
<rect x="1187.3" y="1191.6" width="1.9" height="9.9" fill="#00a000" fill-opacity="0.1"/>
<rect x="1189.2" y="1190.6" width="6.1" height="10.9" fill="#008000" fill-opacity="0.3"/>
<rect x="1195.2" y="1191.6" width="1.9" height="9.9" fill="#00a000" fill-opacity="0.1"/>
<rect x="1197.1" y="1189.2" width="6.1" height="12.3" fill="#008000" fill-opacity="0.3"/>
<rect x="1203.2" y="1190.2" width="1.9" height="11.3" fill="#00a000" fill-opacity="0.1"/>
<rect x="1205.1" y="1185.4" width="6.1" height="16.1" fill="#008000" fill-opacity="0.3"/>
<rect x="1211.2" y="1186.4" width="1.9" height="15.1" fill="#00a000" fill-opacity="0.1"/>
<rect x="1213.1" y="1180.4" width="6.1" height="21.1" fill="#008000" fill-opacity="0.3"/>
<rect x="1219.1" y="1182.2" width="1.9" height="19.3" fill="#00a000" fill-opacity="0.1"/>
<rect x="1221" y="1181.2" width="6.1" height="20.3" fill="#008000" fill-opacity="0.3"/>
<rect x="1227.1" y="1182.2" width="1.9" height="19.3" fill="#00a000" fill-opacity="0.1"/>
<rect x="1229" y="1181.2" width="6.1" height="20.3" fill="#008000" fill-opacity="0.3"/>
<rect x="1235.1" y="1182.2" width="1.9" height="19.3" fill="#00a000" fill-opacity="0.1"/>
<rect x="1237" y="1180.6" width="6.1" height="20.9" fill="#008000" fill-opacity="0.3"/>
<rect x="1243" y="1181.6" width="1.9" height="19.9" fill="#00a000" fill-opacity="0.1"/>
<rect x="1244.9" y="1179" width="6.1" height="22.5" fill="#008000" fill-opacity="0.3"/>
<rect x="1251" y="1180" width="1.9" height="21.5" fill="#00a000" fill-opacity="0.1"/>
<rect x="1252.9" y="1176.6" width="6.1" height="24.9" fill="#008000" fill-opacity="0.3"/>
<rect x="1258.9" y="1179" width="1.9" height="22.5" fill="#00a000" fill-opacity="0.1"/>
<rect x="1260.8" y="1178" width="6.1" height="23.5" fill="#008000" fill-opacity="0.3"/>
<rect x="1266.9" y="1179" width="1.9" height="22.5" fill="#00a000" fill-opacity="0.1"/>
<rect x="1268.8" y="1177" width="6.1" height="24.5" fill="#008000" fill-opacity="0.3"/>
<rect x="1274.9" y="1178" width="1.9" height="23.5" fill="#00a000" fill-opacity="0.1"/>
<rect x="1276.8" y="1175.2" width="6.1" height="26.3" fill="#008000" fill-opacity="0.3"/>
<rect x="1282.8" y="1179.4" width="1.9" height="22.1" fill="#00a000" fill-opacity="0.1"/>
<rect x="1284.7" y="1178.4" width="6.1" height="23.1" fill="#008000" fill-opacity="0.3"/>
<rect x="1290.8" y="1179.4" width="1.9" height="22.1" fill="#00a000" fill-opacity="0.1"/>
<rect x="1292.7" y="1173.7" width="6.1" height="27.8" fill="#008000" fill-opacity="0.3"/>
<rect x="1298.8" y="1176.3" width="1.9" height="25.2" fill="#00a000" fill-opacity="0.1"/>
<rect x="1300.7" y="1175.3" width="6.1" height="26.2" fill="#008000" fill-opacity="0.3"/>
<rect x="1306.7" y="1176.3" width="1.9" height="25.2" fill="#00a000" fill-opacity="0.1"/>
<rect x="1308.6" y="1168.1" width="6.1" height="33.4" fill="#008000" fill-opacity="0.3"/>
<rect x="1314.7" y="1171.6" width="1.9" height="29.9" fill="#00a000" fill-opacity="0.1"/>
<rect x="1316.6" y="1170.6" width="6.1" height="30.9" fill="#008000" fill-opacity="0.3"/>
<rect x="1322.6" y="1171.6" width="1.9" height="29.9" fill="#00a000" fill-opacity="0.1"/>
<rect x="1324.5" y="1170.5" width="6.1" height="31" fill="#008000" fill-opacity="0.3"/>
<rect x="1330.6" y="1175" width="1.9" height="26.5" fill="#00a000" fill-opacity="0.1"/>
<rect x="1332.5" y="1174" width="6.1" height="27.5" fill="#008000" fill-opacity="0.3"/>
<rect x="1338.6" y="1175" width="1.9" height="26.5" fill="#00a000" fill-opacity="0.1"/>
<rect x="1340.5" y="1168.8" width="6.1" height="32.7" fill="#008000" fill-opacity="0.3"/>
<rect x="1346.5" y="1169.8" width="1.9" height="31.7" fill="#00a000" fill-opacity="0.1"/>
<rect x="1348.4" y="1165.5" width="6.1" height="36" fill="#008000" fill-opacity="0.3"/>
<rect x="1354.5" y="1167.4" width="1.9" height="34.1" fill="#00a000" fill-opacity="0.1"/>
<rect x="1356.4" y="1166.4" width="6.1" height="35.1" fill="#008000" fill-opacity="0.3"/>
<rect x="1362.5" y="1170.9" width="1.9" height="30.6" fill="#00a000" fill-opacity="0.1"/>
<rect x="1364.4" y="1169.9" width="6.1" height="31.6" fill="#008000" fill-opacity="0.3"/>
<rect x="1370.4" y="1171.1" width="1.9" height="30.4" fill="#00a000" fill-opacity="0.1"/>
<rect x="1372.3" y="1170.1" width="6.1" height="31.4" fill="#008000" fill-opacity="0.3"/>
<rect x="1378.4" y="1171.1" width="1.9" height="30.4" fill="#00a000" fill-opacity="0.1"/>
<rect x="1380.3" y="1169.7" width="6.1" height="31.8" fill="#008000" fill-opacity="0.3"/>
<rect x="1386.3" y="1176.4" width="1.9" height="25.1" fill="#00a000" fill-opacity="0.1"/>
<rect x="1388.2" y="1175.4" width="6.1" height="26.1" fill="#008000" fill-opacity="0.3"/>
<rect x="1394.3" y="1176.4" width="1.9" height="25.1" fill="#00a000" fill-opacity="0.1"/>
<rect x="1396.2" y="1173.1" width="6.1" height="28.4" fill="#008000" fill-opacity="0.3"/>
<rect x="1402.3" y="1174.1" width="1.9" height="27.4" fill="#00a000" fill-opacity="0.1"/>
<rect x="1404.2" y="1171.5" width="6.1" height="30" fill="#008000" fill-opacity="0.3"/>
<rect x="1410.2" y="1174.5" width="1.9" height="27" fill="#00a000" fill-opacity="0.1"/>
<rect x="1412.1" y="1173.5" width="6.1" height="28" fill="#008000" fill-opacity="0.3"/>
<rect x="1418.2" y="1175.3" width="1.9" height="26.2" fill="#00a000" fill-opacity="0.1"/>
<rect x="1420.1" y="1174.3" width="6.1" height="27.2" fill="#008000" fill-opacity="0.3"/>
<rect x="1426.2" y="1176.6" width="1.9" height="24.9" fill="#00a000" fill-opacity="0.1"/>
<rect x="1428.1" y="1175.6" width="6.1" height="25.9" fill="#008000" fill-opacity="0.3"/>
<rect x="1434.1" y="1177.1" width="1.9" height="24.4" fill="#00a000" fill-opacity="0.1"/>
<rect x="1436" y="1176.1" width="6.1" height="25.4" fill="#008000" fill-opacity="0.3"/>
<rect x="1442.1" y="1177.4" width="1.9" height="24.1" fill="#00a000" fill-opacity="0.1"/>
<rect x="1444" y="1176.4" width="6.1" height="25.1" fill="#008000" fill-opacity="0.3"/>
<rect x="1450" y="1180" width="1.9" height="21.5" fill="#00a000" fill-opacity="0.1"/>
<rect x="1451.9" y="1179" width="6.1" height="22.5" fill="#008000" fill-opacity="0.3"/>
<rect x="1458" y="1180" width="1.9" height="21.5" fill="#00a000" fill-opacity="0.1"/>
<rect x="1459.9" y="1175.3" width="6.1" height="26.2" fill="#008000" fill-opacity="0.3"/>
<rect x="1466" y="1176.3" width="1.9" height="25.2" fill="#00a000" fill-opacity="0.1"/>
<rect x="1467.9" y="1173.9" width="6.1" height="27.6" fill="#008000" fill-opacity="0.3"/>
<rect x="1473.9" y="1174.9" width="1.9" height="26.6" fill="#00a000" fill-opacity="0.1"/>
<rect x="1475.8" y="1170.3" width="6.1" height="31.2" fill="#008000" fill-opacity="0.3"/>
<rect x="1481.9" y="1174.4" width="1.9" height="27.1" fill="#00a000" fill-opacity="0.1"/>
<rect x="1483.8" y="1173.4" width="6.1" height="28.1" fill="#008000" fill-opacity="0.3"/>
<rect x="1489.9" y="1175.3" width="1.9" height="26.2" fill="#00a000" fill-opacity="0.1"/>
<rect x="1491.8" y="1174.3" width="6.1" height="27.2" fill="#008000" fill-opacity="0.3"/>
<rect x="1497.8" y="1178.1" width="1.9" height="23.4" fill="#00a000" fill-opacity="0.1"/>
<rect x="1499.7" y="1177.1" width="6.1" height="24.4" fill="#008000" fill-opacity="0.3"/>
<rect x="1505.8" y="1178.1" width="1.9" height="23.4" fill="#00a000" fill-opacity="0.1"/>
<rect x="1507.7" y="1173.5" width="6.1" height="28" fill="#008000" fill-opacity="0.3"/>
<rect x="1513.7" y="1175.7" width="1.9" height="25.8" fill="#00a000" fill-opacity="0.1"/>
<rect x="1515.6" y="1174.7" width="6.1" height="26.8" fill="#008000" fill-opacity="0.3"/>
<rect x="1521.7" y="1178.1" width="1.9" height="23.4" fill="#00a000" fill-opacity="0.1"/>
<rect x="1523.6" y="1177.1" width="6.1" height="24.4" fill="#008000" fill-opacity="0.3"/>
<rect x="1529.7" y="1178.1" width="1.9" height="23.4" fill="#00a000" fill-opacity="0.1"/>
<rect x="1531.6" y="1176.6" width="6.1" height="24.9" fill="#008000" fill-opacity="0.3"/>
<rect x="1537.6" y="1177.6" width="1.9" height="23.9" fill="#00a000" fill-opacity="0.1"/>
<rect x="1539.5" y="1173.7" width="6.1" height="27.8" fill="#008000" fill-opacity="0.3"/>
<rect x="1545.6" y="1174.7" width="1.9" height="26.8" fill="#00a000" fill-opacity="0.1"/>
<rect x="1547.5" y="1170.5" width="6.1" height="31" fill="#008000" fill-opacity="0.3"/>
<rect x="1553.6" y="1174.4" width="1.9" height="27.1" fill="#00a000" fill-opacity="0.1"/>
<rect x="1555.5" y="1173.4" width="6.1" height="28.1" fill="#008000" fill-opacity="0.3"/>
<rect x="1561.5" y="1174.7" width="1.9" height="26.8" fill="#00a000" fill-opacity="0.1"/>
<rect x="1563.4" y="1173.7" width="6.1" height="27.8" fill="#008000" fill-opacity="0.3"/>
<rect x="1569.5" y="1174.7" width="1.9" height="26.8" fill="#00a000" fill-opacity="0.1"/>
<rect x="1571.4" y="1171.6" width="6.1" height="29.9" fill="#008000" fill-opacity="0.3"/>
<rect x="1577.4" y="1172.6" width="1.9" height="28.9" fill="#00a000" fill-opacity="0.1"/>
<rect x="1579.3" y="1169.8" width="6.1" height="31.7" fill="#008000" fill-opacity="0.3"/>
<rect x="1585.4" y="1170.8" width="1.9" height="30.7" fill="#00a000" fill-opacity="0.1"/>
<rect x="1587.3" y="1167.7" width="6.1" height="33.8" fill="#008000" fill-opacity="0.3"/>
<rect x="1593.4" y="1168.7" width="1.9" height="32.8" fill="#00a000" fill-opacity="0.1"/>
<rect x="1595.3" y="1166.6" width="6.1" height="34.9" fill="#008000" fill-opacity="0.3"/>
<rect x="1601.3" y="1167.6" width="1.9" height="33.9" fill="#00a000" fill-opacity="0.1"/>
<rect x="1603.2" y="1160.7" width="6.1" height="40.8" fill="#008000" fill-opacity="0.3"/>
<rect x="1609.3" y="1161.7" width="1.9" height="39.8" fill="#00a000" fill-opacity="0.1"/>
<rect x="1611.2" y="1156.3" width="6.1" height="45.2" fill="#008000" fill-opacity="0.3"/>
<rect x="1617.3" y="1157.3" width="1.9" height="44.2" fill="#00a000" fill-opacity="0.1"/>
<rect x="1619.2" y="1148" width="6.1" height="53.5" fill="#008000" fill-opacity="0.3"/>
<rect x="1625.2" y="1149" width="1.9" height="52.5" fill="#00a000" fill-opacity="0.1"/>
<rect x="1627.1" y="1137.8" width="6.1" height="63.7" fill="#008000" fill-opacity="0.3"/>
<rect x="1633.2" y="1144.4" width="1.9" height="57.1" fill="#00a000" fill-opacity="0.1"/>
<rect x="1635.1" y="1143.4" width="6.1" height="58.1" fill="#008000" fill-opacity="0.3"/>
<rect x="1641.1" y="1155.8" width="1.9" height="45.7" fill="#00a000" fill-opacity="0.1"/>
<rect x="1643" y="1154.8" width="6.1" height="46.7" fill="#008000" fill-opacity="0.3"/>
<rect x="1649.1" y="1159" width="1.9" height="42.5" fill="#00a000" fill-opacity="0.1"/>
<rect x="1651" y="1158" width="6.1" height="43.5" fill="#008000" fill-opacity="0.3"/>
<rect x="1657.1" y="1169.7" width="1.9" height="31.8" fill="#00a000" fill-opacity="0.1"/>
<rect x="1659" y="1168.7" width="6.1" height="32.8" fill="#008000" fill-opacity="0.3"/>
<rect x="1665" y="1182" width="1.9" height="19.5" fill="#00a000" fill-opacity="0.1"/>
<rect x="1666.9" y="1181" width="6.1" height="20.5" fill="#008000" fill-opacity="0.3"/>
<rect x="1673" y="1182" width="1.9" height="19.5" fill="#00a000" fill-opacity="0.1"/>
<rect x="1674.9" y="1178.5" width="6.1" height="23" fill="#008000" fill-opacity="0.3"/>
<rect x="1681" y="1185.1" width="1.9" height="16.4" fill="#00a000" fill-opacity="0.1"/>
<rect x="1682.9" y="1184.1" width="6.1" height="17.4" fill="#008000" fill-opacity="0.3"/>
<rect x="1688.9" y="1185.1" width="1.9" height="16.4" fill="#00a000" fill-opacity="0.1"/>
<rect x="1690.8" y="1179.8" width="6.1" height="21.7" fill="#008000" fill-opacity="0.3"/>
<rect x="1696.9" y="1180.8" width="1.9" height="20.7" fill="#00a000" fill-opacity="0.1"/>
<rect x="1698.8" y="1178" width="6.1" height="23.5" fill="#008000" fill-opacity="0.3"/>
<rect x="1704.8" y="1182.9" width="1.9" height="18.6" fill="#00a000" fill-opacity="0.1"/>
<rect x="1706.7" y="1181.9" width="6.1" height="19.6" fill="#008000" fill-opacity="0.3"/>
<rect x="1712.8" y="1182.9" width="1.9" height="18.6" fill="#00a000" fill-opacity="0.1"/>
<rect x="1714.7" y="1180.3" width="6.1" height="21.2" fill="#008000" fill-opacity="0.3"/>
<rect x="1720.8" y="1181.3" width="1.9" height="20.2" fill="#00a000" fill-opacity="0.1"/>
<rect x="1722.7" y="1175.9" width="6.1" height="25.6" fill="#008000" fill-opacity="0.3"/>
<rect x="1728.7" y="1180.7" width="1.9" height="20.8" fill="#00a000" fill-opacity="0.1"/>
<rect x="1730.6" y="1179.7" width="6.1" height="21.8" fill="#008000" fill-opacity="0.3"/>
<rect x="1736.7" y="1180.7" width="1.9" height="20.8" fill="#00a000" fill-opacity="0.1"/>
<rect x="1738.6" y="1178.3" width="6.1" height="23.2" fill="#008000" fill-opacity="0.3"/>
<rect x="1744.7" y="1179.3" width="1.9" height="22.2" fill="#00a000" fill-opacity="0.1"/>
<rect x="1746.6" y="1175.2" width="6.1" height="26.3" fill="#008000" fill-opacity="0.3"/>
<rect x="1752.6" y="1176.2" width="1.9" height="25.3" fill="#00a000" fill-opacity="0.1"/>
<rect x="1754.5" y="1175.2" width="6.1" height="26.3" fill="#008000" fill-opacity="0.3"/>
<rect x="1760.6" y="1178.1" width="1.9" height="23.4" fill="#00a000" fill-opacity="0.1"/>
<rect x="1762.5" y="1177.1" width="6.1" height="24.4" fill="#008000" fill-opacity="0.3"/>
<rect x="1768.5" y="1178.1" width="1.9" height="23.4" fill="#00a000" fill-opacity="0.1"/>
<rect x="1770.4" y="1173" width="6.1" height="28.5" fill="#008000" fill-opacity="0.3"/>
<rect x="1776.5" y="1174" width="1.9" height="27.5" fill="#00a000" fill-opacity="0.1"/>
<rect x="1778.4" y="1167.1" width="6.1" height="34.4" fill="#008000" fill-opacity="0.3"/>
<g stroke="#1f1fff" stroke-width="1.6" opacity="0.45"><line x1="1025" y1="1113.2" x2="1025" y2="1120.2"/><line x1="1025" y1="1133.6" x2="1025" y2="1140.6"/><line x1="1023.1" y1="1113.2" x2="1026.9" y2="1113.2"/><line x1="1023.1" y1="1140.6" x2="1026.9" y2="1140.6"/><rect x="1021.8" y="1120.2" width="6.4" height="13.5" fill="none"/></g>
<g stroke="#1f1fff" stroke-width="1.6" opacity="0.95"><line x1="1033" y1="1107.1" x2="1033" y2="1114.7"/><line x1="1033" y1="1140.6" x2="1033" y2="1152.6"/><line x1="1031.1" y1="1107.1" x2="1034.9" y2="1107.1"/><line x1="1031.1" y1="1152.6" x2="1034.9" y2="1152.6"/><rect x="1029.8" y="1114.7" width="6.4" height="25.9" fill="none"/><line x1="1030.5" y1="1089.8" x2="1035.5" y2="1089.8"/></g>
<g stroke="#1f1fff" stroke-width="1.6" opacity="0.45"><line x1="1040.9" y1="1113.8" x2="1040.9" y2="1118.7"/><line x1="1040.9" y1="1139.4" x2="1040.9" y2="1152.7"/><line x1="1039" y1="1113.8" x2="1042.8" y2="1113.8"/><line x1="1039" y1="1152.7" x2="1042.8" y2="1152.7"/><rect x="1037.7" y="1118.7" width="6.4" height="20.6" fill="none"/></g>
<g stroke="#1f1fff" stroke-width="1.6" opacity="0.45"><line x1="1048.9" y1="1114.6" x2="1048.9" y2="1122.6"/><line x1="1048.9" y1="1142.1" x2="1048.9" y2="1148.8"/><line x1="1047" y1="1114.6" x2="1050.8" y2="1114.6"/><line x1="1047" y1="1148.8" x2="1050.8" y2="1148.8"/><rect x="1045.7" y="1122.6" width="6.4" height="19.5" fill="none"/><line x1="1046.4" y1="1153.9" x2="1051.4" y2="1153.9"/></g>
<g stroke="#1f1fff" stroke-width="1.6" opacity="0.95"><line x1="1056.8" y1="1107.7" x2="1056.8" y2="1118.6"/><line x1="1056.8" y1="1139.8" x2="1056.8" y2="1149.2"/><line x1="1054.9" y1="1107.7" x2="1058.8" y2="1107.7"/><line x1="1054.9" y1="1149.2" x2="1058.8" y2="1149.2"/><rect x="1053.7" y="1118.6" width="6.4" height="21.3" fill="none"/><line x1="1054.3" y1="1097.5" x2="1059.3" y2="1097.5"/></g>
<g stroke="#1f1fff" stroke-width="1.6" opacity="0.95"><line x1="1064.8" y1="1111.1" x2="1064.8" y2="1117.2"/><line x1="1064.8" y1="1139.8" x2="1064.8" y2="1154.2"/><line x1="1062.9" y1="1111.1" x2="1066.7" y2="1111.1"/><line x1="1062.9" y1="1154.2" x2="1066.7" y2="1154.2"/><rect x="1061.6" y="1117.2" width="6.4" height="22.6" fill="none"/><line x1="1062.3" y1="1103.1" x2="1067.3" y2="1103.1"/></g>
<g stroke="#1f1fff" stroke-width="1.6" opacity="0.45"><line x1="1072.8" y1="1108.9" x2="1072.8" y2="1116.9"/><line x1="1072.8" y1="1142.5" x2="1072.8" y2="1155.3"/><line x1="1070.9" y1="1108.9" x2="1074.7" y2="1108.9"/><line x1="1070.9" y1="1155.3" x2="1074.7" y2="1155.3"/><rect x="1069.6" y="1116.9" width="6.4" height="25.6" fill="none"/><line x1="1070.3" y1="1159.5" x2="1075.3" y2="1159.5"/></g>
<g stroke="#1f1fff" stroke-width="1.6" opacity="0.95"><line x1="1080.7" y1="1110.7" x2="1080.7" y2="1118.4"/><line x1="1080.7" y1="1142.2" x2="1080.7" y2="1152.9"/><line x1="1078.8" y1="1110.7" x2="1082.6" y2="1110.7"/><line x1="1078.8" y1="1152.9" x2="1082.6" y2="1152.9"/><rect x="1077.6" y="1118.4" width="6.4" height="23.7" fill="none"/><line x1="1078.2" y1="1093.1" x2="1083.2" y2="1093.1"/><line x1="1078.2" y1="1166.1" x2="1083.2" y2="1166.1"/></g>
<g stroke="#1f1fff" stroke-width="1.6" opacity="0.95"><line x1="1088.7" y1="1107.5" x2="1088.7" y2="1117"/><line x1="1088.7" y1="1142.4" x2="1088.7" y2="1151.4"/><line x1="1086.8" y1="1107.5" x2="1090.6" y2="1107.5"/><line x1="1086.8" y1="1151.4" x2="1090.6" y2="1151.4"/><rect x="1085.5" y="1117" width="6.4" height="25.4" fill="none"/><line x1="1086.2" y1="1089.4" x2="1091.2" y2="1089.4"/></g>
<g stroke="#1f1fff" stroke-width="1.6" opacity="0.95"><line x1="1096.7" y1="1114.6" x2="1096.7" y2="1122"/><line x1="1096.7" y1="1138.9" x2="1096.7" y2="1147.2"/><line x1="1094.8" y1="1114.6" x2="1098.6" y2="1114.6"/><line x1="1094.8" y1="1147.2" x2="1098.6" y2="1147.2"/><rect x="1093.5" y="1122" width="6.4" height="16.8" fill="none"/><line x1="1094.2" y1="1105.2" x2="1099.2" y2="1105.2"/></g>
<g stroke="#1f1fff" stroke-width="1.6" opacity="0.95"><line x1="1104.6" y1="1114" x2="1104.6" y2="1120.5"/><line x1="1104.6" y1="1141.9" x2="1104.6" y2="1154.3"/><line x1="1102.7" y1="1114" x2="1106.5" y2="1114"/><line x1="1102.7" y1="1154.3" x2="1106.5" y2="1154.3"/><rect x="1101.4" y="1120.5" width="6.4" height="21.4" fill="none"/><line x1="1102.1" y1="1099.3" x2="1107.1" y2="1099.3"/></g>
<g stroke="#1f1fff" stroke-width="1.6" opacity="0.95"><line x1="1112.6" y1="1112.3" x2="1112.6" y2="1122.6"/><line x1="1112.6" y1="1140.9" x2="1112.6" y2="1156.1"/><line x1="1110.7" y1="1112.3" x2="1114.5" y2="1112.3"/><line x1="1110.7" y1="1156.1" x2="1114.5" y2="1156.1"/><rect x="1109.4" y="1122.6" width="6.4" height="18.3" fill="none"/></g>
<g stroke="#1f1fff" stroke-width="1.6" opacity="0.45"><line x1="1120.5" y1="1106.5" x2="1120.5" y2="1115.4"/><line x1="1120.5" y1="1135.7" x2="1120.5" y2="1149.9"/><line x1="1118.6" y1="1106.5" x2="1122.5" y2="1106.5"/><line x1="1118.6" y1="1149.9" x2="1122.5" y2="1149.9"/><rect x="1117.4" y="1115.4" width="6.4" height="20.3" fill="none"/></g>
<g stroke="#1f1fff" stroke-width="1.6" opacity="0.45"><line x1="1128.5" y1="1103.8" x2="1128.5" y2="1114.9"/><line x1="1128.5" y1="1131" x2="1128.5" y2="1143.8"/><line x1="1126.6" y1="1103.8" x2="1130.4" y2="1103.8"/><line x1="1126.6" y1="1143.8" x2="1130.4" y2="1143.8"/><rect x="1125.3" y="1114.9" width="6.4" height="16" fill="none"/></g>
<g stroke="#1f1fff" stroke-width="1.6" opacity="0.45"><line x1="1136.5" y1="1107" x2="1136.5" y2="1116.6"/><line x1="1136.5" y1="1132.5" x2="1136.5" y2="1141"/><line x1="1134.6" y1="1107" x2="1138.4" y2="1107"/><line x1="1134.6" y1="1141" x2="1138.4" y2="1141"/><rect x="1133.3" y="1116.6" width="6.4" height="15.8" fill="none"/></g>
<g stroke="#1f1fff" stroke-width="1.6" opacity="0.95"><line x1="1144.4" y1="1111.6" x2="1144.4" y2="1120.8"/><line x1="1144.4" y1="1135.9" x2="1144.4" y2="1144.8"/><line x1="1142.5" y1="1111.6" x2="1146.3" y2="1111.6"/><line x1="1142.5" y1="1144.8" x2="1146.3" y2="1144.8"/><rect x="1141.3" y="1120.8" width="6.4" height="15.1" fill="none"/></g>
<g stroke="#1f1fff" stroke-width="1.6" opacity="0.95"><line x1="1152.4" y1="1113.4" x2="1152.4" y2="1120.3"/><line x1="1152.4" y1="1137.6" x2="1152.4" y2="1145.5"/><line x1="1150.5" y1="1113.4" x2="1154.3" y2="1113.4"/><line x1="1150.5" y1="1145.5" x2="1154.3" y2="1145.5"/><rect x="1149.2" y="1120.3" width="6.4" height="17.3" fill="none"/></g>
<g stroke="#1f1fff" stroke-width="1.6" opacity="0.95"><line x1="1160.4" y1="1103" x2="1160.4" y2="1111.3"/><line x1="1160.4" y1="1132.4" x2="1160.4" y2="1146.7"/><line x1="1158.5" y1="1103" x2="1162.3" y2="1103"/><line x1="1158.5" y1="1146.7" x2="1162.3" y2="1146.7"/><rect x="1157.2" y="1111.3" width="6.4" height="21.1" fill="none"/></g>
<g stroke="#1f1fff" stroke-width="1.6" opacity="0.95"><line x1="1168.3" y1="1092.4" x2="1168.3" y2="1109.8"/><line x1="1168.3" y1="1143.8" x2="1168.3" y2="1174.2"/><line x1="1166.4" y1="1092.4" x2="1170.2" y2="1092.4"/><line x1="1166.4" y1="1174.2" x2="1170.2" y2="1174.2"/><rect x="1165.1" y="1109.8" width="6.4" height="34" fill="none"/></g>
<g stroke="#1f1fff" stroke-width="1.6" opacity="0.95"><line x1="1176.3" y1="1084.6" x2="1176.3" y2="1095"/><line x1="1176.3" y1="1137.4" x2="1176.3" y2="1154.4"/><line x1="1174.4" y1="1084.6" x2="1178.2" y2="1084.6"/><line x1="1174.4" y1="1154.4" x2="1178.2" y2="1154.4"/><rect x="1173.1" y="1095" width="6.4" height="42.4" fill="none"/></g>
<g stroke="#1f1fff" stroke-width="1.6" opacity="0.45"><line x1="1184.2" y1="1049.5" x2="1184.2" y2="1049.5"/><line x1="1184.2" y1="1121.8" x2="1184.2" y2="1136"/><line x1="1182.3" y1="1049.5" x2="1186.2" y2="1049.5"/><line x1="1182.3" y1="1136" x2="1186.2" y2="1136"/><rect x="1181.1" y="1049.5" width="6.4" height="72.3" fill="none"/></g>
<g stroke="#1f1fff" stroke-width="1.6" opacity="0.95"><line x1="1192.2" y1="900.1" x2="1192.2" y2="1030"/><line x1="1192.2" y1="1077.9" x2="1192.2" y2="1103.4"/><line x1="1190.3" y1="900.1" x2="1194.1" y2="900.1"/><line x1="1190.3" y1="1103.4" x2="1194.1" y2="1103.4"/><rect x="1189" y="1030" width="6.4" height="47.9" fill="none"/></g>
<g stroke="#1f1fff" stroke-width="1.6" opacity="0.95"><line x1="1200.2" y1="884.5" x2="1200.2" y2="967.6"/><line x1="1200.2" y1="1027.6" x2="1200.2" y2="1074.3"/><line x1="1198.3" y1="884.5" x2="1202.1" y2="884.5"/><line x1="1198.3" y1="1074.3" x2="1202.1" y2="1074.3"/><rect x="1197" y="967.6" width="6.4" height="60" fill="none"/></g>
<g stroke="#1f1fff" stroke-width="1.6" opacity="0.95"><line x1="1208.1" y1="842.7" x2="1208.1" y2="910"/><line x1="1208.1" y1="1096.3" x2="1208.1" y2="1143.8"/><line x1="1206.2" y1="842.7" x2="1210" y2="842.7"/><line x1="1206.2" y1="1143.8" x2="1210" y2="1143.8"/><rect x="1205" y="910" width="6.4" height="186.3" fill="none"/></g>
<g stroke="#1f1fff" stroke-width="1.6" opacity="0.45"><line x1="1216.1" y1="878.8" x2="1216.1" y2="946.9"/><line x1="1216.1" y1="1022.2" x2="1216.1" y2="1111.2"/><line x1="1214.2" y1="878.8" x2="1218" y2="878.8"/><line x1="1214.2" y1="1111.2" x2="1218" y2="1111.2"/><rect x="1212.9" y="946.9" width="6.4" height="75.3" fill="none"/></g>
<g stroke="#1f1fff" stroke-width="1.6" opacity="0.95"><line x1="1224.1" y1="902.2" x2="1224.1" y2="959.8"/><line x1="1224.1" y1="981.6" x2="1224.1" y2="1078.6"/><line x1="1222.2" y1="902.2" x2="1226" y2="902.2"/><line x1="1222.2" y1="1078.6" x2="1226" y2="1078.6"/><rect x="1220.9" y="959.8" width="6.4" height="21.8" fill="none"/></g>
<g stroke="#1f1fff" stroke-width="1.6" opacity="0.45"><line x1="1232" y1="916.4" x2="1232" y2="940.5"/><line x1="1232" y1="1022.2" x2="1232" y2="1129.6"/><line x1="1230.1" y1="916.4" x2="1233.9" y2="916.4"/><line x1="1230.1" y1="1129.6" x2="1233.9" y2="1129.6"/><rect x="1228.8" y="940.5" width="6.4" height="81.7" fill="none"/></g>
<g stroke="#1f1fff" stroke-width="1.6" opacity="0.95"><line x1="1240" y1="929.9" x2="1240" y2="966.7"/><line x1="1240" y1="1024" x2="1240" y2="1114"/><line x1="1238.1" y1="929.9" x2="1241.9" y2="929.9"/><line x1="1238.1" y1="1114" x2="1241.9" y2="1114"/><rect x="1236.8" y="966.7" width="6.4" height="57.3" fill="none"/></g>
<g stroke="#1f1fff" stroke-width="1.6" opacity="0.95"><line x1="1248" y1="946.9" x2="1248" y2="998.8"/><line x1="1248" y1="1063.7" x2="1248" y2="1094.2"/><line x1="1246" y1="946.9" x2="1249.9" y2="946.9"/><line x1="1246" y1="1094.2" x2="1249.9" y2="1094.2"/><rect x="1244.8" y="998.8" width="6.4" height="64.9" fill="none"/></g>
<g stroke="#1f1fff" stroke-width="1.6" opacity="0.95"><line x1="1255.9" y1="966" x2="1255.9" y2="1027.6"/><line x1="1255.9" y1="1079.3" x2="1255.9" y2="1097.7"/><line x1="1254" y1="966" x2="1257.8" y2="966"/><line x1="1254" y1="1097.7" x2="1257.8" y2="1097.7"/><rect x="1252.7" y="1027.6" width="6.4" height="51.8" fill="none"/></g>
<g stroke="#1f1fff" stroke-width="1.6" opacity="0.95"><line x1="1263.9" y1="974.5" x2="1263.9" y2="1018.4"/><line x1="1263.9" y1="1067.3" x2="1263.9" y2="1096.3"/><line x1="1262" y1="974.5" x2="1265.8" y2="974.5"/><line x1="1262" y1="1096.3" x2="1265.8" y2="1096.3"/><rect x="1260.7" y="1018.4" width="6.4" height="49" fill="none"/></g>
<g stroke="#1f1fff" stroke-width="1.6" opacity="0.45"><line x1="1271.8" y1="1006.6" x2="1271.8" y2="1049.5"/><line x1="1271.8" y1="1091.4" x2="1271.8" y2="1123.5"/><line x1="1269.9" y1="1006.6" x2="1273.7" y2="1006.6"/><line x1="1269.9" y1="1123.5" x2="1273.7" y2="1123.5"/><rect x="1268.7" y="1049.5" width="6.4" height="41.9" fill="none"/></g>
<g stroke="#1f1fff" stroke-width="1.6" opacity="0.95"><line x1="1279.8" y1="1006.6" x2="1279.8" y2="1049.5"/><line x1="1279.8" y1="1100.2" x2="1279.8" y2="1109.8"/><line x1="1277.9" y1="1006.6" x2="1281.7" y2="1006.6"/><line x1="1277.9" y1="1109.8" x2="1281.7" y2="1109.8"/><rect x="1276.6" y="1049.5" width="6.4" height="50.7" fill="none"/></g>
<g stroke="#1f1fff" stroke-width="1.6" opacity="0.95"><line x1="1287.8" y1="1045.6" x2="1287.8" y2="1051"/><line x1="1287.8" y1="1106.2" x2="1287.8" y2="1119.6"/><line x1="1285.9" y1="1045.6" x2="1289.7" y2="1045.6"/><line x1="1285.9" y1="1119.6" x2="1289.7" y2="1119.6"/><rect x="1284.6" y="1051" width="6.4" height="55.2" fill="none"/></g>
<g stroke="#1f1fff" stroke-width="1.6" opacity="0.95"><line x1="1295.7" y1="1055.3" x2="1295.7" y2="1065.4"/><line x1="1295.7" y1="1105.7" x2="1295.7" y2="1118.4"/><line x1="1293.8" y1="1055.3" x2="1297.6" y2="1055.3"/><line x1="1293.8" y1="1118.4" x2="1297.6" y2="1118.4"/><rect x="1292.5" y="1065.4" width="6.4" height="40.3" fill="none"/></g>
<g stroke="#1f1fff" stroke-width="1.6" opacity="0.95"><line x1="1303.7" y1="1059" x2="1303.7" y2="1075.5"/><line x1="1303.7" y1="1108.7" x2="1303.7" y2="1116.9"/><line x1="1301.8" y1="1059" x2="1305.6" y2="1059"/><line x1="1301.8" y1="1116.9" x2="1305.6" y2="1116.9"/><rect x="1300.5" y="1075.5" width="6.4" height="33.1" fill="none"/></g>
<g stroke="#1f1fff" stroke-width="1.6" opacity="0.45"><line x1="1311.7" y1="1058.1" x2="1311.7" y2="1083.6"/><line x1="1311.7" y1="1109.1" x2="1311.7" y2="1116.7"/><line x1="1309.7" y1="1058.1" x2="1313.6" y2="1058.1"/><line x1="1309.7" y1="1116.7" x2="1313.6" y2="1116.7"/><rect x="1308.5" y="1083.6" width="6.4" height="25.5" fill="none"/></g>
<g stroke="#1f1fff" stroke-width="1.6" opacity="0.45"><line x1="1319.6" y1="1049.3" x2="1319.6" y2="1086.4"/><line x1="1319.6" y1="1105" x2="1319.6" y2="1116.2"/><line x1="1317.7" y1="1049.3" x2="1321.5" y2="1049.3"/><line x1="1317.7" y1="1116.2" x2="1321.5" y2="1116.2"/><rect x="1316.4" y="1086.4" width="6.4" height="18.6" fill="none"/></g>
<g stroke="#1f1fff" stroke-width="1.6" opacity="0.45"><line x1="1327.6" y1="1069.8" x2="1327.6" y2="1087.9"/><line x1="1327.6" y1="1110" x2="1327.6" y2="1118.7"/><line x1="1325.7" y1="1069.8" x2="1329.5" y2="1069.8"/><line x1="1325.7" y1="1118.7" x2="1329.5" y2="1118.7"/><rect x="1324.4" y="1087.9" width="6.4" height="22.1" fill="none"/></g>
<g stroke="#1f1fff" stroke-width="1.6" opacity="0.95"><line x1="1335.5" y1="1078" x2="1335.5" y2="1094.9"/><line x1="1335.5" y1="1119.4" x2="1335.5" y2="1129.5"/><line x1="1333.6" y1="1078" x2="1337.4" y2="1078"/><line x1="1333.6" y1="1129.5" x2="1337.4" y2="1129.5"/><rect x="1332.4" y="1094.9" width="6.4" height="24.5" fill="none"/></g>
<g stroke="#1f1fff" stroke-width="1.6" opacity="0.45"><line x1="1343.5" y1="1057.1" x2="1343.5" y2="1093"/><line x1="1343.5" y1="1118.6" x2="1343.5" y2="1131.1"/><line x1="1341.6" y1="1057.1" x2="1345.4" y2="1057.1"/><line x1="1341.6" y1="1131.1" x2="1345.4" y2="1131.1"/><rect x="1340.3" y="1093" width="6.4" height="25.6" fill="none"/></g>
<g stroke="#1f1fff" stroke-width="1.6" opacity="0.45"><line x1="1351.5" y1="1075.5" x2="1351.5" y2="1094.5"/><line x1="1351.5" y1="1121.7" x2="1351.5" y2="1129.1"/><line x1="1349.6" y1="1075.5" x2="1353.4" y2="1075.5"/><line x1="1349.6" y1="1129.1" x2="1353.4" y2="1129.1"/><rect x="1348.3" y="1094.5" width="6.4" height="27.2" fill="none"/></g>
<g stroke="#1f1fff" stroke-width="1.6" opacity="0.95"><line x1="1359.4" y1="1083.1" x2="1359.4" y2="1101.1"/><line x1="1359.4" y1="1125.7" x2="1359.4" y2="1131.9"/><line x1="1357.5" y1="1083.1" x2="1361.3" y2="1083.1"/><line x1="1357.5" y1="1131.9" x2="1361.3" y2="1131.9"/><rect x="1356.2" y="1101.1" width="6.4" height="24.6" fill="none"/></g>
<g stroke="#1f1fff" stroke-width="1.6" opacity="0.45"><line x1="1367.4" y1="1070.6" x2="1367.4" y2="1100.2"/><line x1="1367.4" y1="1121.4" x2="1367.4" y2="1131.2"/><line x1="1365.5" y1="1070.6" x2="1369.3" y2="1070.6"/><line x1="1365.5" y1="1131.2" x2="1369.3" y2="1131.2"/><rect x="1364.2" y="1100.2" width="6.4" height="21.2" fill="none"/><line x1="1364.9" y1="1051.6" x2="1369.9" y2="1051.6"/></g>
<g stroke="#1f1fff" stroke-width="1.6" opacity="0.95"><line x1="1375.3" y1="1073.8" x2="1375.3" y2="1097.7"/><line x1="1375.3" y1="1124.2" x2="1375.3" y2="1132.9"/><line x1="1373.4" y1="1073.8" x2="1377.3" y2="1073.8"/><line x1="1373.4" y1="1132.9" x2="1377.3" y2="1132.9"/><rect x="1372.2" y="1097.7" width="6.4" height="26.5" fill="none"/><line x1="1372.8" y1="1140.6" x2="1377.8" y2="1140.6"/></g>
<g stroke="#1f1fff" stroke-width="1.6" opacity="0.95"><line x1="1383.3" y1="1064.4" x2="1383.3" y2="1101.5"/><line x1="1383.3" y1="1123.4" x2="1383.3" y2="1135.9"/><line x1="1381.4" y1="1064.4" x2="1385.2" y2="1064.4"/><line x1="1381.4" y1="1135.9" x2="1385.2" y2="1135.9"/><rect x="1380.1" y="1101.5" width="6.4" height="22" fill="none"/></g>
<g stroke="#1f1fff" stroke-width="1.6" opacity="0.95"><line x1="1391.3" y1="1084.9" x2="1391.3" y2="1104.5"/><line x1="1391.3" y1="1121.7" x2="1391.3" y2="1132.7"/><line x1="1389.4" y1="1084.9" x2="1393.2" y2="1084.9"/><line x1="1389.4" y1="1132.7" x2="1393.2" y2="1132.7"/><rect x="1388.1" y="1104.5" width="6.4" height="17.3" fill="none"/><line x1="1388.8" y1="1147.5" x2="1393.8" y2="1147.5"/></g>
<g stroke="#1f1fff" stroke-width="1.6" opacity="0.95"><line x1="1399.2" y1="1062.6" x2="1399.2" y2="1100.1"/><line x1="1399.2" y1="1124.2" x2="1399.2" y2="1134.3"/><line x1="1397.3" y1="1062.6" x2="1401.1" y2="1062.6"/><line x1="1397.3" y1="1134.3" x2="1401.1" y2="1134.3"/><rect x="1396.1" y="1100.1" width="6.4" height="24.2" fill="none"/><line x1="1396.7" y1="1055.5" x2="1401.7" y2="1055.5"/></g>
<g stroke="#1f1fff" stroke-width="1.6" opacity="0.45"><line x1="1407.2" y1="1068.9" x2="1407.2" y2="1105.1"/><line x1="1407.2" y1="1120" x2="1407.2" y2="1125.4"/><line x1="1405.3" y1="1068.9" x2="1409.1" y2="1068.9"/><line x1="1405.3" y1="1125.4" x2="1409.1" y2="1125.4"/><rect x="1404" y="1105.1" width="6.4" height="14.9" fill="none"/><line x1="1404.7" y1="1134.7" x2="1409.7" y2="1134.7"/></g>
<g stroke="#1f1fff" stroke-width="1.6" opacity="0.95"><line x1="1415.2" y1="1089.6" x2="1415.2" y2="1106"/><line x1="1415.2" y1="1120.8" x2="1415.2" y2="1132.2"/><line x1="1413.3" y1="1089.6" x2="1417.1" y2="1089.6"/><line x1="1413.3" y1="1132.2" x2="1417.1" y2="1132.2"/><rect x="1412" y="1106" width="6.4" height="14.8" fill="none"/></g>
<g stroke="#1f1fff" stroke-width="1.6" opacity="0.95"><line x1="1423.1" y1="1077.9" x2="1423.1" y2="1106.3"/><line x1="1423.1" y1="1125.1" x2="1423.1" y2="1135.3"/><line x1="1421.2" y1="1077.9" x2="1425" y2="1077.9"/><line x1="1421.2" y1="1135.3" x2="1425" y2="1135.3"/><rect x="1419.9" y="1106.3" width="6.4" height="18.8" fill="none"/><line x1="1420.6" y1="1140.3" x2="1425.6" y2="1140.3"/></g>
<g stroke="#1f1fff" stroke-width="1.6" opacity="0.95"><line x1="1431.1" y1="1078.7" x2="1431.1" y2="1105.3"/><line x1="1431.1" y1="1123" x2="1431.1" y2="1135.1"/><line x1="1429.2" y1="1078.7" x2="1433" y2="1078.7"/><line x1="1429.2" y1="1135.1" x2="1433" y2="1135.1"/><rect x="1427.9" y="1105.3" width="6.4" height="17.7" fill="none"/></g>
<g stroke="#1f1fff" stroke-width="1.6" opacity="0.95"><line x1="1439" y1="1075.4" x2="1439" y2="1107.6"/><line x1="1439" y1="1127.9" x2="1439" y2="1138.4"/><line x1="1437.1" y1="1075.4" x2="1441" y2="1075.4"/><line x1="1437.1" y1="1138.4" x2="1441" y2="1138.4"/><rect x="1435.9" y="1107.6" width="6.4" height="20.3" fill="none"/><line x1="1436.5" y1="1067.7" x2="1441.5" y2="1067.7"/><line x1="1436.5" y1="1149.5" x2="1441.5" y2="1149.5"/></g>
<g stroke="#1f1fff" stroke-width="1.6" opacity="0.45"><line x1="1447" y1="1063.3" x2="1447" y2="1101.2"/><line x1="1447" y1="1120.8" x2="1447" y2="1128.6"/><line x1="1445.1" y1="1063.3" x2="1448.9" y2="1063.3"/><line x1="1445.1" y1="1128.6" x2="1448.9" y2="1128.6"/><rect x="1443.8" y="1101.2" width="6.4" height="19.6" fill="none"/></g>
<g stroke="#1f1fff" stroke-width="1.6" opacity="0.45"><line x1="1455" y1="1077" x2="1455" y2="1101.6"/><line x1="1455" y1="1120.8" x2="1455" y2="1129"/><line x1="1453.1" y1="1077" x2="1456.9" y2="1077"/><line x1="1453.1" y1="1129" x2="1456.9" y2="1129"/><rect x="1451.8" y="1101.6" width="6.4" height="19.2" fill="none"/><line x1="1452.5" y1="1138.4" x2="1457.5" y2="1138.4"/></g>
<g stroke="#1f1fff" stroke-width="1.6" opacity="0.95"><line x1="1462.9" y1="1061.3" x2="1462.9" y2="1099.8"/><line x1="1462.9" y1="1127.1" x2="1462.9" y2="1136.2"/><line x1="1461" y1="1061.3" x2="1464.8" y2="1061.3"/><line x1="1461" y1="1136.2" x2="1464.8" y2="1136.2"/><rect x="1459.8" y="1099.8" width="6.4" height="27.3" fill="none"/><line x1="1460.4" y1="1149.5" x2="1465.4" y2="1149.5"/></g>
<g stroke="#1f1fff" stroke-width="1.6" opacity="0.45"><line x1="1470.9" y1="1070.8" x2="1470.9" y2="1105"/><line x1="1470.9" y1="1119.4" x2="1470.9" y2="1129.8"/><line x1="1469" y1="1070.8" x2="1472.8" y2="1070.8"/><line x1="1469" y1="1129.8" x2="1472.8" y2="1129.8"/><rect x="1467.7" y="1105" width="6.4" height="14.4" fill="none"/><line x1="1468.4" y1="1135.7" x2="1473.4" y2="1135.7"/></g>
<g stroke="#1f1fff" stroke-width="1.6" opacity="0.95"><line x1="1478.9" y1="1079.2" x2="1478.9" y2="1099"/><line x1="1478.9" y1="1126.5" x2="1478.9" y2="1135.5"/><line x1="1477" y1="1079.2" x2="1480.8" y2="1079.2"/><line x1="1477" y1="1135.5" x2="1480.8" y2="1135.5"/><rect x="1475.7" y="1099" width="6.4" height="27.5" fill="none"/></g>
<g stroke="#1f1fff" stroke-width="1.6" opacity="0.45"><line x1="1486.8" y1="1074.3" x2="1486.8" y2="1107.3"/><line x1="1486.8" y1="1126.3" x2="1486.8" y2="1138.4"/><line x1="1484.9" y1="1074.3" x2="1488.7" y2="1074.3"/><line x1="1484.9" y1="1138.4" x2="1488.7" y2="1138.4"/><rect x="1483.6" y="1107.3" width="6.4" height="19.1" fill="none"/></g>
<g stroke="#1f1fff" stroke-width="1.6" opacity="0.95"><line x1="1494.8" y1="1088.3" x2="1494.8" y2="1106.7"/><line x1="1494.8" y1="1124.9" x2="1494.8" y2="1131.3"/><line x1="1492.9" y1="1088.3" x2="1496.7" y2="1088.3"/><line x1="1492.9" y1="1131.3" x2="1496.7" y2="1131.3"/><rect x="1491.6" y="1106.7" width="6.4" height="18.2" fill="none"/><line x1="1492.3" y1="1137.9" x2="1497.3" y2="1137.9"/></g>
<g stroke="#1f1fff" stroke-width="1.6" opacity="0.45"><line x1="1502.8" y1="1088.1" x2="1502.8" y2="1107.4"/><line x1="1502.8" y1="1126.7" x2="1502.8" y2="1134.4"/><line x1="1500.8" y1="1088.1" x2="1504.7" y2="1088.1"/><line x1="1500.8" y1="1134.4" x2="1504.7" y2="1134.4"/><rect x="1499.6" y="1107.4" width="6.4" height="19.3" fill="none"/><line x1="1500.2" y1="1069.2" x2="1505.2" y2="1069.2"/><line x1="1500.2" y1="1146.8" x2="1505.2" y2="1146.8"/></g>
<g stroke="#1f1fff" stroke-width="1.6" opacity="0.95"><line x1="1510.7" y1="1073.4" x2="1510.7" y2="1099.4"/><line x1="1510.7" y1="1119.6" x2="1510.7" y2="1132.2"/><line x1="1508.8" y1="1073.4" x2="1512.6" y2="1073.4"/><line x1="1508.8" y1="1132.2" x2="1512.6" y2="1132.2"/><rect x="1507.5" y="1099.4" width="6.4" height="20.2" fill="none"/><line x1="1508.2" y1="1139" x2="1513.2" y2="1139"/></g>
<g stroke="#1f1fff" stroke-width="1.6" opacity="0.95"><line x1="1518.7" y1="1075.1" x2="1518.7" y2="1103.2"/><line x1="1518.7" y1="1124" x2="1518.7" y2="1134.8"/><line x1="1516.8" y1="1075.1" x2="1520.6" y2="1075.1"/><line x1="1516.8" y1="1134.8" x2="1520.6" y2="1134.8"/><rect x="1515.5" y="1103.2" width="6.4" height="20.8" fill="none"/><line x1="1516.2" y1="1058.4" x2="1521.2" y2="1058.4"/></g>
<g stroke="#1f1fff" stroke-width="1.6" opacity="0.95"><line x1="1526.6" y1="1078.8" x2="1526.6" y2="1102.5"/><line x1="1526.6" y1="1123.9" x2="1526.6" y2="1131"/><line x1="1524.7" y1="1078.8" x2="1528.5" y2="1078.8"/><line x1="1524.7" y1="1131" x2="1528.5" y2="1131"/><rect x="1523.5" y="1102.5" width="6.4" height="21.4" fill="none"/><line x1="1524.1" y1="1074" x2="1529.1" y2="1074"/><line x1="1524.1" y1="1141.1" x2="1529.1" y2="1141.1"/></g>
<g stroke="#1f1fff" stroke-width="1.6" opacity="0.95"><line x1="1534.6" y1="1074.2" x2="1534.6" y2="1101.6"/><line x1="1534.6" y1="1125.9" x2="1534.6" y2="1131.1"/><line x1="1532.7" y1="1074.2" x2="1536.5" y2="1074.2"/><line x1="1532.7" y1="1131.1" x2="1536.5" y2="1131.1"/><rect x="1531.4" y="1101.6" width="6.4" height="24.2" fill="none"/><line x1="1532.1" y1="1069.2" x2="1537.1" y2="1069.2"/><line x1="1532.1" y1="1138.7" x2="1537.1" y2="1138.7"/></g>
<g stroke="#1f1fff" stroke-width="1.6" opacity="0.45"><line x1="1542.6" y1="1080.9" x2="1542.6" y2="1098.5"/><line x1="1542.6" y1="1124.1" x2="1542.6" y2="1130.7"/><line x1="1540.7" y1="1080.9" x2="1544.5" y2="1080.9"/><line x1="1540.7" y1="1130.7" x2="1544.5" y2="1130.7"/><rect x="1539.4" y="1098.5" width="6.4" height="25.6" fill="none"/></g>
<g stroke="#1f1fff" stroke-width="1.6" opacity="0.95"><line x1="1550.5" y1="1079.9" x2="1550.5" y2="1104.3"/><line x1="1550.5" y1="1121.6" x2="1550.5" y2="1135.3"/><line x1="1548.6" y1="1079.9" x2="1552.4" y2="1079.9"/><line x1="1548.6" y1="1135.3" x2="1552.4" y2="1135.3"/><rect x="1547.3" y="1104.3" width="6.4" height="17.3" fill="none"/><line x1="1548" y1="1068.5" x2="1553" y2="1068.5"/></g>
<g stroke="#1f1fff" stroke-width="1.6" opacity="0.45"><line x1="1558.5" y1="1083.3" x2="1558.5" y2="1105.7"/><line x1="1558.5" y1="1122.9" x2="1558.5" y2="1133.6"/><line x1="1556.6" y1="1083.3" x2="1560.4" y2="1083.3"/><line x1="1556.6" y1="1133.6" x2="1560.4" y2="1133.6"/><rect x="1555.3" y="1105.7" width="6.4" height="17.2" fill="none"/><line x1="1556" y1="1064" x2="1561" y2="1064"/></g>
<g stroke="#1f1fff" stroke-width="1.6" opacity="0.45"><line x1="1566.5" y1="1084.1" x2="1566.5" y2="1100.9"/><line x1="1566.5" y1="1125.3" x2="1566.5" y2="1137.6"/><line x1="1564.5" y1="1084.1" x2="1568.4" y2="1084.1"/><line x1="1564.5" y1="1137.6" x2="1568.4" y2="1137.6"/><rect x="1563.3" y="1100.9" width="6.4" height="24.4" fill="none"/></g>
<g stroke="#1f1fff" stroke-width="1.6" opacity="0.95"><line x1="1574.4" y1="1086.6" x2="1574.4" y2="1101.1"/><line x1="1574.4" y1="1119.7" x2="1574.4" y2="1137.3"/><line x1="1572.5" y1="1086.6" x2="1576.3" y2="1086.6"/><line x1="1572.5" y1="1137.3" x2="1576.3" y2="1137.3"/><rect x="1571.2" y="1101.1" width="6.4" height="18.6" fill="none"/></g>
<g stroke="#1f1fff" stroke-width="1.6" opacity="0.95"><line x1="1582.4" y1="1080.5" x2="1582.4" y2="1105.6"/><line x1="1582.4" y1="1121.2" x2="1582.4" y2="1140.7"/><line x1="1580.5" y1="1080.5" x2="1584.3" y2="1080.5"/><line x1="1580.5" y1="1140.7" x2="1584.3" y2="1140.7"/><rect x="1579.2" y="1105.6" width="6.4" height="15.7" fill="none"/></g>
<g stroke="#1f1fff" stroke-width="1.6" opacity="0.45"><line x1="1590.3" y1="1088.5" x2="1590.3" y2="1102.2"/><line x1="1590.3" y1="1118.2" x2="1590.3" y2="1135.2"/><line x1="1588.4" y1="1088.5" x2="1592.2" y2="1088.5"/><line x1="1588.4" y1="1135.2" x2="1592.2" y2="1135.2"/><rect x="1587.2" y="1102.2" width="6.4" height="16" fill="none"/></g>
<g stroke="#1f1fff" stroke-width="1.6" opacity="0.95"><line x1="1598.3" y1="1076.1" x2="1598.3" y2="1101"/><line x1="1598.3" y1="1117" x2="1598.3" y2="1130.2"/><line x1="1596.4" y1="1076.1" x2="1600.2" y2="1076.1"/><line x1="1596.4" y1="1130.2" x2="1600.2" y2="1130.2"/><rect x="1595.1" y="1101" width="6.4" height="16.1" fill="none"/><line x1="1595.8" y1="1058" x2="1600.8" y2="1058"/></g>
<g stroke="#1f1fff" stroke-width="1.6" opacity="0.45"><line x1="1606.3" y1="1080.8" x2="1606.3" y2="1103.4"/><line x1="1606.3" y1="1123.2" x2="1606.3" y2="1136.2"/><line x1="1604.4" y1="1080.8" x2="1608.2" y2="1080.8"/><line x1="1604.4" y1="1136.2" x2="1608.2" y2="1136.2"/><rect x="1603.1" y="1103.4" width="6.4" height="19.8" fill="none"/></g>
<g stroke="#1f1fff" stroke-width="1.6" opacity="0.95"><line x1="1614.2" y1="1080.6" x2="1614.2" y2="1103.6"/><line x1="1614.2" y1="1116.1" x2="1614.2" y2="1131.2"/><line x1="1612.3" y1="1080.6" x2="1616.1" y2="1080.6"/><line x1="1612.3" y1="1131.2" x2="1616.1" y2="1131.2"/><rect x="1611" y="1103.6" width="6.4" height="12.5" fill="none"/></g>
<g stroke="#1f1fff" stroke-width="1.6" opacity="0.95"><line x1="1622.2" y1="1080.9" x2="1622.2" y2="1103"/><line x1="1622.2" y1="1118" x2="1622.2" y2="1130.5"/><line x1="1620.3" y1="1080.9" x2="1624.1" y2="1080.9"/><line x1="1620.3" y1="1130.5" x2="1624.1" y2="1130.5"/><rect x="1619" y="1103" width="6.4" height="15" fill="none"/><line x1="1619.7" y1="1061.5" x2="1624.7" y2="1061.5"/><line x1="1619.7" y1="1144.5" x2="1624.7" y2="1144.5"/></g>
<g stroke="#1f1fff" stroke-width="1.6" opacity="0.95"><line x1="1630.2" y1="1091.2" x2="1630.2" y2="1107.1"/><line x1="1630.2" y1="1128.4" x2="1630.2" y2="1148"/><line x1="1628.2" y1="1091.2" x2="1632.1" y2="1091.2"/><line x1="1628.2" y1="1148" x2="1632.1" y2="1148"/><rect x="1627" y="1107.1" width="6.4" height="21.3" fill="none"/><line x1="1627.7" y1="1080.7" x2="1632.7" y2="1080.7"/></g>
<g stroke="#1f1fff" stroke-width="1.6" opacity="0.45"><line x1="1638.1" y1="1081.4" x2="1638.1" y2="1114.8"/><line x1="1638.1" y1="1131.1" x2="1638.1" y2="1141.6"/><line x1="1636.2" y1="1081.4" x2="1640" y2="1081.4"/><line x1="1636.2" y1="1141.6" x2="1640" y2="1141.6"/><rect x="1634.9" y="1114.8" width="6.4" height="16.3" fill="none"/><line x1="1635.6" y1="1068.7" x2="1640.6" y2="1068.7"/><line x1="1635.6" y1="1145.9" x2="1640.6" y2="1145.9"/></g>
<g stroke="#1f1fff" stroke-width="1.6" opacity="0.95"><line x1="1646.1" y1="1092.5" x2="1646.1" y2="1110.3"/><line x1="1646.1" y1="1142" x2="1646.1" y2="1159.4"/><line x1="1644.2" y1="1092.5" x2="1648" y2="1092.5"/><line x1="1644.2" y1="1159.4" x2="1648" y2="1159.4"/><rect x="1642.9" y="1110.3" width="6.4" height="31.7" fill="none"/></g>
<g stroke="#1f1fff" stroke-width="1.6" opacity="0.45"><line x1="1654" y1="1075.8" x2="1654" y2="1110.2"/><line x1="1654" y1="1142.5" x2="1654" y2="1156.9"/><line x1="1652.1" y1="1075.8" x2="1655.9" y2="1075.8"/><line x1="1652.1" y1="1156.9" x2="1655.9" y2="1156.9"/><rect x="1650.9" y="1110.2" width="6.4" height="32.4" fill="none"/></g>
<g stroke="#1f1fff" stroke-width="1.6" opacity="0.45"><line x1="1662" y1="1099.3" x2="1662" y2="1116.3"/><line x1="1662" y1="1141.9" x2="1662" y2="1160.6"/><line x1="1660.1" y1="1099.3" x2="1663.9" y2="1099.3"/><line x1="1660.1" y1="1160.6" x2="1663.9" y2="1160.6"/><rect x="1658.8" y="1116.3" width="6.4" height="25.6" fill="none"/><line x1="1659.5" y1="1090.8" x2="1664.5" y2="1090.8"/><line x1="1659.5" y1="1167.1" x2="1664.5" y2="1167.1"/></g>
<g stroke="#1f1fff" stroke-width="1.6" opacity="0.95"><line x1="1670" y1="1014.3" x2="1670" y2="1111.8"/><line x1="1670" y1="1143" x2="1670" y2="1182.8"/><line x1="1668.1" y1="1014.3" x2="1671.9" y2="1014.3"/><line x1="1668.1" y1="1182.8" x2="1671.9" y2="1182.8"/><rect x="1666.8" y="1111.8" width="6.4" height="31.2" fill="none"/></g>
<g stroke="#1f1fff" stroke-width="1.6" opacity="0.95"><line x1="1677.9" y1="1087.7" x2="1677.9" y2="1110"/><line x1="1677.9" y1="1141.1" x2="1677.9" y2="1152.4"/><line x1="1676" y1="1087.7" x2="1679.8" y2="1087.7"/><line x1="1676" y1="1152.4" x2="1679.8" y2="1152.4"/><rect x="1674.7" y="1110" width="6.4" height="31.1" fill="none"/><line x1="1675.4" y1="1077.4" x2="1680.4" y2="1077.4"/></g>
<g stroke="#1f1fff" stroke-width="1.6" opacity="0.95"><line x1="1685.9" y1="1084.5" x2="1685.9" y2="1113.5"/><line x1="1685.9" y1="1132.1" x2="1685.9" y2="1151.6"/><line x1="1684" y1="1084.5" x2="1687.8" y2="1084.5"/><line x1="1684" y1="1151.6" x2="1687.8" y2="1151.6"/><rect x="1682.7" y="1113.5" width="6.4" height="18.6" fill="none"/><line x1="1683.4" y1="1076.9" x2="1688.4" y2="1076.9"/></g>
<g stroke="#1f1fff" stroke-width="1.6" opacity="0.45"><line x1="1693.8" y1="1100.1" x2="1693.8" y2="1116.4"/><line x1="1693.8" y1="1132.4" x2="1693.8" y2="1143.9"/><line x1="1691.9" y1="1100.1" x2="1695.8" y2="1100.1"/><line x1="1691.9" y1="1143.9" x2="1695.8" y2="1143.9"/><rect x="1690.7" y="1116.4" width="6.4" height="15.9" fill="none"/><line x1="1691.3" y1="1157.6" x2="1696.3" y2="1157.6"/></g>
<g stroke="#1f1fff" stroke-width="1.6" opacity="0.45"><line x1="1701.8" y1="1089.9" x2="1701.8" y2="1116"/><line x1="1701.8" y1="1127.1" x2="1701.8" y2="1141.7"/><line x1="1699.9" y1="1089.9" x2="1703.7" y2="1089.9"/><line x1="1699.9" y1="1141.7" x2="1703.7" y2="1141.7"/><rect x="1698.6" y="1116" width="6.4" height="11.2" fill="none"/><line x1="1699.3" y1="1076.9" x2="1704.3" y2="1076.9"/></g>
<g stroke="#1f1fff" stroke-width="1.6" opacity="0.95"><line x1="1709.8" y1="1087.7" x2="1709.8" y2="1111.5"/><line x1="1709.8" y1="1130.9" x2="1709.8" y2="1139.6"/><line x1="1707.9" y1="1087.7" x2="1711.7" y2="1087.7"/><line x1="1707.9" y1="1139.6" x2="1711.7" y2="1139.6"/><rect x="1706.6" y="1111.5" width="6.4" height="19.5" fill="none"/><line x1="1707.3" y1="1081.7" x2="1712.3" y2="1081.7"/><line x1="1707.3" y1="1146.6" x2="1712.3" y2="1146.6"/></g>
<g stroke="#1f1fff" stroke-width="1.6" opacity="0.95"><line x1="1717.7" y1="1086.4" x2="1717.7" y2="1113.5"/><line x1="1717.7" y1="1132.9" x2="1717.7" y2="1150"/><line x1="1715.8" y1="1086.4" x2="1719.6" y2="1086.4"/><line x1="1715.8" y1="1150" x2="1719.6" y2="1150"/><rect x="1714.6" y="1113.5" width="6.4" height="19.4" fill="none"/><line x1="1715.2" y1="1073.7" x2="1720.2" y2="1073.7"/><line x1="1715.2" y1="1161.6" x2="1720.2" y2="1161.6"/></g>
<g stroke="#1f1fff" stroke-width="1.6" opacity="0.45"><line x1="1725.7" y1="1089.2" x2="1725.7" y2="1114.3"/><line x1="1725.7" y1="1128.9" x2="1725.7" y2="1149.2"/><line x1="1723.8" y1="1089.2" x2="1727.6" y2="1089.2"/><line x1="1723.8" y1="1149.2" x2="1727.6" y2="1149.2"/><rect x="1722.5" y="1114.3" width="6.4" height="14.5" fill="none"/></g>
<g stroke="#1f1fff" stroke-width="1.6" opacity="0.45"><line x1="1733.7" y1="1083" x2="1733.7" y2="1107.9"/><line x1="1733.7" y1="1127.2" x2="1733.7" y2="1139.4"/><line x1="1731.8" y1="1083" x2="1735.6" y2="1083"/><line x1="1731.8" y1="1139.4" x2="1735.6" y2="1139.4"/><rect x="1730.5" y="1107.9" width="6.4" height="19.3" fill="none"/></g>
<g stroke="#1f1fff" stroke-width="1.6" opacity="0.95"><line x1="1741.6" y1="1091.7" x2="1741.6" y2="1112.6"/><line x1="1741.6" y1="1130.4" x2="1741.6" y2="1144.7"/><line x1="1739.7" y1="1091.7" x2="1743.5" y2="1091.7"/><line x1="1739.7" y1="1144.7" x2="1743.5" y2="1144.7"/><rect x="1738.4" y="1112.6" width="6.4" height="17.8" fill="none"/><line x1="1739.1" y1="1077.6" x2="1744.1" y2="1077.6"/><line x1="1739.1" y1="1155.4" x2="1744.1" y2="1155.4"/></g>
<g stroke="#1f1fff" stroke-width="1.6" opacity="0.95"><line x1="1749.6" y1="1104.9" x2="1749.6" y2="1116.1"/><line x1="1749.6" y1="1129.1" x2="1749.6" y2="1146.6"/><line x1="1747.7" y1="1104.9" x2="1751.5" y2="1104.9"/><line x1="1747.7" y1="1146.6" x2="1751.5" y2="1146.6"/><rect x="1746.4" y="1116.1" width="6.4" height="12.9" fill="none"/></g>
<g stroke="#1f1fff" stroke-width="1.6" opacity="0.95"><line x1="1757.6" y1="1093.9" x2="1757.6" y2="1112.1"/><line x1="1757.6" y1="1133.5" x2="1757.6" y2="1146.9"/><line x1="1755.6" y1="1093.9" x2="1759.5" y2="1093.9"/><line x1="1755.6" y1="1146.9" x2="1759.5" y2="1146.9"/><rect x="1754.4" y="1112.1" width="6.4" height="21.4" fill="none"/><line x1="1755.1" y1="1157" x2="1760.1" y2="1157"/></g>
<g stroke="#1f1fff" stroke-width="1.6" opacity="0.95"><line x1="1765.5" y1="1101.9" x2="1765.5" y2="1114.6"/><line x1="1765.5" y1="1131.5" x2="1765.5" y2="1148.3"/><line x1="1763.6" y1="1101.9" x2="1767.4" y2="1101.9"/><line x1="1763.6" y1="1148.3" x2="1767.4" y2="1148.3"/><rect x="1762.3" y="1114.6" width="6.4" height="16.9" fill="none"/><line x1="1763" y1="1082.9" x2="1768" y2="1082.9"/><line x1="1763" y1="1161.5" x2="1768" y2="1161.5"/></g>
<g stroke="#1f1fff" stroke-width="1.6" opacity="0.45"><line x1="1773.5" y1="1096.1" x2="1773.5" y2="1108.7"/><line x1="1773.5" y1="1133.5" x2="1773.5" y2="1149.4"/><line x1="1771.6" y1="1096.1" x2="1775.4" y2="1096.1"/><line x1="1771.6" y1="1149.4" x2="1775.4" y2="1149.4"/><rect x="1770.3" y="1108.7" width="6.4" height="24.9" fill="none"/><line x1="1771" y1="1162.6" x2="1776" y2="1162.6"/></g>
<g stroke="#1f1fff" stroke-width="1.6" opacity="0.95"><line x1="1781.4" y1="1093.3" x2="1781.4" y2="1110"/><line x1="1781.4" y1="1132.6" x2="1781.4" y2="1141.9"/><line x1="1779.5" y1="1093.3" x2="1783.3" y2="1093.3"/><line x1="1779.5" y1="1141.9" x2="1783.3" y2="1141.9"/><rect x="1778.3" y="1110" width="6.4" height="22.6" fill="none"/><line x1="1778.9" y1="1076.4" x2="1783.9" y2="1076.4"/></g>
<path d="M1022.6,1136.2 L1036.7,1137.1 L1052.5,1137.1 L1068.2,1135.6 L1084.0,1134.0 L1099.7,1131.8 L1115.5,1130.8 L1124.9,1134.0 L1134.4,1138.7 L1143.8,1137.1 L1153.3,1130.8 L1161.2,1124.5 L1169.0,1116.7 L1178.5,1102.5 L1187.9,1078.9 L1197.4,1052.1 L1206.8,1028.5 L1216.3,1014.3 L1224.1,1009.6 L1232.0,1010.2 L1239.9,1017.4 L1247.8,1028.5 L1255.6,1041.1 L1263.5,1052.1 L1273.0,1063.1 L1282.4,1071.0 L1286.9,1071.0 L1294.7,1076.3 L1302.6,1079.5 L1310.5,1082.0 L1318.4,1084.2 L1326.2,1085.8 L1334.1,1086.7 L1342.0,1087.7 L1349.9,1088.9 L1357.7,1089.9 L1365.6,1090.8 L1373.5,1090.8 L1381.4,1089.9 L1389.2,1089.3 L1397.1,1088.9 L1405.0,1088.9 L1412.9,1088.9 L1420.7,1089.3 L1428.6,1089.3 L1436.5,1089.3 L1444.4,1089.9 L1452.2,1089.9 L1460.1,1089.3 L1468.0,1087.7 L1475.9,1086.7 L1483.7,1085.8 L1491.6,1085.2 L1499.5,1084.2 L1507.3,1083.6 L1515.2,1083.6 L1523.1,1083.6 L1531.0,1084.2 L1538.8,1085.2 L1541.9,1085.8 L1549.7,1087.7 L1557.6,1088.9 L1565.5,1089.9 L1573.4,1090.8 L1581.2,1093.0 L1589.1,1095.6 L1597.0,1097.8 L1604.9,1102.5 L1612.7,1107.2 L1620.6,1111.0 L1628.5,1114.1 L1636.4,1116.0 L1644.2,1117.6 L1652.1,1119.2 L1660.0,1121.4 L1667.9,1123.0 L1675.7,1124.5 L1683.6,1126.7 L1691.5,1127.7 L1699.4,1129.3 L1707.2,1130.2 L1715.1,1130.8 L1723.0,1131.8 L1730.9,1132.4 L1738.7,1132.4 L1746.6,1133.0 L1754.5,1133.4 L1762.3,1134.0 L1770.2,1134.9 L1778.1,1135.6 L1782.8,1135.6" fill="none" stroke="#ffa500" stroke-width="2.0" stroke-linejoin="round"/>
<path d="M1024.8,1063.1 L1033.0,1034.1 L1040.8,1026.9 L1048.7,1032.3 L1056.6,1032.3 L1064.5,1026.9 L1072.3,1031.0 L1080.2,1028.5 L1088.1,1034.8 L1096.6,1028.5 L1104.5,1047.4 L1112.3,1067.8 L1120.2,1049.9 L1128.1,1052.1 L1136.0,1050.5 L1143.8,1045.8 L1151.7,1044.9 L1159.6,1050.5 L1167.5,1060.0 L1175.3,1034.8 L1183.2,987.5 L1192.7,926.1 L1200.5,940.3 L1208.4,951.3 L1216.3,937.1 L1224.1,941.9 L1232.0,963.9 L1239.9,992.3 L1247.8,987.5 L1255.6,982.8 L1263.5,1001.7 L1271.4,1000.8 L1279.3,997.0 L1285.3,1000.1 L1293.2,1020.6 L1301.0,1024.7 L1308.9,1021.5 L1316.8,1022.8 L1324.7,1034.1 L1329.4,1040.4 L1337.3,1041.1 L1343.6,1037.9 L1351.4,1044.2 L1359.3,1037.9 L1367.2,1043.6 L1375.1,1048.9 L1382.9,1044.9 L1390.8,1037.9 L1398.7,1045.8 L1406.6,1049.9 L1414.4,1032.3 L1422.3,1031.6 L1430.2,1024.7 L1438.1,1028.5 L1445.9,1029.1 L1453.8,1030.0 L1461.7,1040.4 L1469.6,1026.9 L1477.4,1024.4 L1485.3,1024.7 L1493.2,1024.7 L1501.0,1021.5 L1508.9,1026.9 L1516.8,1028.5 L1524.7,1034.8 L1532.5,1025.3 L1540.4,1022.2 L1541.9,1022.2 L1549.7,1030.0 L1557.6,1039.5 L1565.5,1026.0 L1573.4,1037.3 L1581.2,1026.9 L1589.1,1009.6 L1597.0,1034.1 L1604.9,1036.3 L1612.7,1032.3 L1620.6,1018.4 L1628.5,1018.4 L1636.4,1041.7 L1644.2,1064.7 L1652.1,1052.1 L1661.6,1081.4 L1669.4,1041.1 L1677.3,1052.1 L1685.2,1015.2 L1693.1,1041.7 L1700.9,1041.1 L1708.8,1088.3 L1716.7,1019.0 L1724.6,1012.1 L1732.4,1022.2 L1740.3,1034.8 L1748.2,1014.3 L1756.0,1015.9 L1763.9,1023.7 L1771.8,1031.6 L1779.7,1034.8 L1782.8,1037.9" fill="none" stroke="#22e822" stroke-width="2.4" stroke-linejoin="round"/>
<path d="M1024.8,1111.9 L1033.0,1072.6 L1040.8,1060.0 L1048.7,1072.6 L1056.6,1069.4 L1064.5,1060.0 L1072.3,1067.8 L1080.2,1063.1 L1088.1,1074.1 L1096.6,1063.1 L1104.5,1091.5 L1112.3,1115.1 L1120.2,1093.0 L1128.1,1095.2 L1136.0,1093.0 L1143.8,1085.8 L1151.7,1085.8 L1159.6,1095.2 L1167.5,1104.1 L1175.3,1060.0 L1183.2,1003.3 L1192.7,941.9 L1200.5,959.2 L1208.4,973.4 L1216.3,956.0 L1224.1,963.9 L1232.0,993.8 L1239.9,1023.7 L1247.8,1019.0 L1255.6,1009.6 L1263.5,1033.2 L1271.4,1030.0 L1279.3,1025.3 L1285.3,1033.2 L1293.2,1051.1 L1301.0,1056.8 L1308.9,1054.3 L1316.8,1058.4 L1324.7,1064.7 L1329.4,1071.9 L1337.3,1064.7 L1343.6,1067.8 L1351.4,1078.2 L1359.3,1071.9 L1367.2,1077.3 L1375.1,1079.5 L1382.9,1076.3 L1390.8,1056.2 L1398.7,1069.4 L1406.6,1085.2 L1414.4,1063.1 L1422.3,1065.6 L1430.2,1046.7 L1438.1,1058.4 L1445.9,1059.3 L1453.8,1065.6 L1461.7,1075.1 L1469.6,1055.2 L1477.4,1056.8 L1485.3,1051.1 L1493.2,1049.9 L1501.0,1050.5 L1508.9,1052.1 L1516.8,1053.7 L1524.7,1062.5 L1532.5,1058.4 L1540.4,1056.8 L1541.9,1056.8 L1549.7,1063.1 L1557.6,1071.0 L1565.5,1061.5 L1573.4,1072.6 L1581.2,1060.0 L1589.1,1036.3 L1597.0,1064.7 L1604.9,1071.0 L1612.7,1053.0 L1620.6,1050.5 L1628.5,1049.9 L1636.4,1086.7 L1644.2,1102.5 L1652.1,1089.9 L1661.6,1113.5 L1669.4,1082.0 L1677.3,1097.1 L1685.2,1034.8 L1693.1,1078.9 L1700.9,1072.6 L1708.8,1111.9 L1716.7,1044.2 L1724.6,1034.8 L1732.4,1055.2 L1740.3,1074.1 L1748.2,1042.6 L1756.0,1037.3 L1763.9,1049.9 L1771.8,1063.1 L1779.7,1069.4 L1782.8,1071.9" fill="none" stroke="#000000" stroke-width="2.3" stroke-linejoin="round"/>
<path d="M1022.6,1125.5 L1033.0,1127.7 L1040.8,1125.5 L1048.7,1129.3 L1056.6,1129.3 L1064.5,1131.8 L1072.3,1129.9 L1080.2,1129.9 L1088.1,1131.8 L1096.6,1128.6 L1104.5,1129.3 L1112.3,1129.3 L1120.2,1126.7 L1128.1,1122.3 L1136.0,1125.5 L1143.8,1126.7 L1151.7,1128.6 L1159.6,1118.2 L1167.5,1120.4 L1175.3,1118.2 L1183.2,1094.6 L1192.7,1055.2 L1200.5,984.4 L1208.4,960.8 L1216.3,974.9 L1224.1,960.8 L1232.0,968.6 L1239.9,997.0 L1247.8,1031.6 L1255.6,1042.6 L1263.5,1044.2 L1271.4,1062.5 L1279.3,1066.3 L1285.3,1075.1 L1293.2,1083.6 L1301.0,1084.5 L1308.9,1085.8 L1316.8,1086.7 L1324.7,1094.0 L1329.4,1100.9 L1337.3,1100.9 L1345.1,1101.5 L1351.4,1106.6 L1359.3,1112.9 L1367.2,1111.9 L1375.1,1112.9 L1382.9,1113.5 L1390.8,1115.1 L1398.7,1115.1 L1406.6,1115.1 L1414.4,1115.1 L1422.3,1115.1 L1430.2,1112.9 L1438.1,1115.1 L1445.9,1116.0 L1453.8,1115.1 L1461.7,1114.1 L1469.6,1113.5 L1477.4,1113.5 L1485.3,1113.5 L1493.2,1113.5 L1501.0,1115.1 L1508.9,1112.9 L1516.8,1111.0 L1524.7,1111.9 L1532.5,1112.9 L1540.4,1111.0 L1541.9,1110.4 L1549.7,1111.9 L1557.6,1111.9 L1565.5,1111.9 L1573.4,1108.8 L1581.2,1111.0 L1589.1,1111.9 L1597.0,1110.4 L1604.9,1109.7 L1612.7,1107.8 L1620.6,1111.0 L1628.5,1118.2 L1636.4,1121.4 L1644.2,1127.7 L1652.1,1126.7 L1660.0,1129.3 L1667.9,1128.6 L1675.7,1127.7 L1683.6,1126.7 L1691.5,1124.5 L1699.4,1124.5 L1707.2,1122.3 L1715.1,1124.5 L1723.0,1123.0 L1730.9,1123.0 L1738.7,1123.0 L1746.6,1124.5 L1754.5,1124.5 L1762.3,1124.5 L1770.2,1123.0 L1778.1,1124.5 L1782.8,1127.7" fill="none" stroke="#ff0000" stroke-width="2.6" stroke-linejoin="round"/>
<path d="M1021.5,1124.5h7M1025.0,1124.5v3M1029.5,1126.2h7M1033.0,1126.2v3M1037.4,1124.0h7M1040.9,1124.0v3M1045.4,1127.8h7M1048.9,1127.8v3M1053.3,1127.8h7M1056.8,1127.8v3M1061.3,1130.2h7M1064.8,1130.2v3M1069.3,1128.4h7M1072.8,1128.4v3M1077.2,1128.5h7M1080.7,1128.5v3M1085.2,1130.1h7M1088.7,1130.1v3M1093.2,1127.1h7M1096.7,1127.1v3M1101.1,1127.8h7M1104.6,1127.8v3M1109.1,1127.7h7M1112.6,1127.7v3M1117.0,1125.1h7M1120.5,1125.1v3M1125.0,1121.0h7M1128.5,1121.0v3M1133.0,1124.1h7M1136.5,1124.1v3M1140.9,1125.4h7M1144.4,1125.4v3M1148.9,1126.2h7M1152.4,1126.2v3M1156.9,1117.0h7M1160.4,1117.0v3M1164.8,1118.7h7M1168.3,1118.7v3M1172.8,1113.9h7M1176.3,1113.9v3M1180.8,1088.8h7M1184.2,1088.8v3M1188.7,1055.6h7M1192.2,1055.6v3M1196.7,986.1h7M1200.2,986.1v3M1204.6,960.0h7M1208.1,960.0v3M1212.6,973.1h7M1216.1,973.1v3M1220.6,959.4h7M1224.1,959.4v3M1228.5,967.1h7M1232.0,967.1v3M1236.5,995.9h7M1240.0,995.9v3M1244.5,1030.4h7M1248.0,1030.4v3M1252.4,1041.2h7M1255.9,1041.2v3M1260.4,1043.5h7M1263.9,1043.5v3M1268.3,1061.2h7M1271.8,1061.2v3M1276.3,1065.5h7M1279.8,1065.5v3M1284.3,1076.2h7M1287.8,1076.2v3M1292.2,1082.4h7M1295.7,1082.4v3M1300.2,1083.5h7M1303.7,1083.5v3M1308.2,1084.6h7M1311.7,1084.6v3M1316.1,1087.8h7M1319.6,1087.8v3M1324.1,1096.7h7M1327.6,1096.7v3M1332.0,1099.4h7M1335.5,1099.4v3M1340.0,1099.9h7M1343.5,1099.9v3M1348.0,1105.1h7M1351.5,1105.1v3M1355.9,1111.4h7M1359.4,1111.4v3M1363.9,1110.5h7M1367.4,1110.5v3M1371.8,1111.4h7M1375.3,1111.4v3M1379.8,1112.1h7M1383.3,1112.1v3M1387.8,1113.6h7M1391.3,1113.6v3M1395.7,1113.6h7M1399.2,1113.6v3M1403.7,1113.6h7M1407.2,1113.6v3M1411.7,1113.6h7M1415.2,1113.6v3M1419.6,1113.4h7M1423.1,1113.4v3M1427.6,1111.6h7M1431.1,1111.6v3M1435.5,1113.7h7M1439.0,1113.7v3M1443.5,1114.4h7M1447.0,1114.4v3M1451.5,1113.4h7M1455.0,1113.4v3M1459.4,1112.5h7M1462.9,1112.5v3M1467.4,1112.0h7M1470.9,1112.0v3M1475.4,1112.0h7M1478.9,1112.0v3M1483.3,1112.0h7M1486.8,1112.0v3M1491.3,1112.3h7M1494.8,1112.3v3M1499.2,1113.1h7M1502.8,1113.1v3M1507.2,1111.0h7M1510.7,1111.0v3M1515.2,1109.7h7M1518.7,1109.7v3M1523.1,1110.7h7M1526.6,1110.7v3M1531.1,1110.9h7M1534.6,1110.9v3M1539.1,1109.0h7M1542.6,1109.0v3M1547.0,1110.4h7M1550.5,1110.4v3M1555.0,1110.4h7M1558.5,1110.4v3M1563.0,1110.1h7M1566.5,1110.1v3M1570.9,1107.6h7M1574.4,1107.6v3M1578.9,1109.6h7M1582.4,1109.6v3M1586.8,1110.2h7M1590.3,1110.2v3M1594.8,1108.8h7M1598.3,1108.8v3M1602.8,1107.9h7M1606.3,1107.9v3M1610.7,1106.9h7M1614.2,1106.9v3M1618.7,1110.9h7M1622.2,1110.9v3M1626.7,1117.4h7M1630.2,1117.4v3M1634.6,1121.3h7M1638.1,1121.3v3M1642.6,1126.0h7M1646.1,1126.0v3M1650.5,1125.9h7M1654.0,1125.9v3M1658.5,1127.6h7M1662.0,1127.6v3M1666.5,1126.9h7M1670.0,1126.9v3M1674.4,1125.9h7M1677.9,1125.9v3M1682.4,1124.6h7M1685.9,1124.6v3M1690.3,1123.0h7M1693.8,1123.0v3M1698.3,1122.3h7M1701.8,1122.3v3M1706.3,1121.5h7M1709.8,1121.5v3M1714.2,1122.5h7M1717.7,1122.5v3M1722.2,1121.5h7M1725.7,1121.5v3M1730.2,1121.5h7M1733.7,1121.5v3M1738.1,1122.0h7M1741.6,1122.0v3M1746.1,1123.0h7M1749.6,1123.0v3M1754.1,1123.0h7M1757.6,1123.0v3M1762.0,1122.4h7M1765.5,1122.4v3M1770.0,1122.1h7M1773.5,1122.1v3M1777.9,1125.3h7M1781.4,1125.3v3" stroke="#ff0000" stroke-width="2" fill="none"/>
<line x1="1021.8" y1="811.7" x2="1021.8" y2="1201.5" stroke="#4a4a4a" stroke-width="1.6" stroke-linecap="square"/>
<line x1="1791.8" y1="811.7" x2="1791.8" y2="1201.5" stroke="#dddddd" stroke-width="1.3" stroke-linecap="square"/>
<line x1="1021.8" y1="811.7" x2="1791.8" y2="811.7" stroke="#4a4a4a" stroke-width="1.6" stroke-linecap="square"/>
<line x1="1021.8" y1="1201.5" x2="1791.8" y2="1201.5" stroke="#4a4a4a" stroke-width="1.6" stroke-linecap="square"/>
<text x="91.9" y="740" font-family='"DejaVu Sans", "Liberation Sans", sans-serif' font-size="19" font-weight="normal" fill="#000" text-anchor="end" >0</text>
<line x1="94.2" y1="733" x2="97.7" y2="733" stroke="#333" stroke-width="1.2"/>
<text x="91.9" y="662" font-family='"DejaVu Sans", "Liberation Sans", sans-serif' font-size="19" font-weight="normal" fill="#000" text-anchor="end" >1000</text>
<line x1="94.2" y1="655" x2="97.7" y2="655" stroke="#333" stroke-width="1.2"/>
<text x="91.9" y="584.1" font-family='"DejaVu Sans", "Liberation Sans", sans-serif' font-size="19" font-weight="normal" fill="#000" text-anchor="end" >2000</text>
<line x1="94.2" y1="577.1" x2="97.7" y2="577.1" stroke="#333" stroke-width="1.2"/>
<text x="91.9" y="506.1" font-family='"DejaVu Sans", "Liberation Sans", sans-serif' font-size="19" font-weight="normal" fill="#000" text-anchor="end" >3000</text>
<line x1="94.2" y1="499.1" x2="97.7" y2="499.1" stroke="#333" stroke-width="1.2"/>
<text x="91.9" y="428.2" font-family='"DejaVu Sans", "Liberation Sans", sans-serif' font-size="19" font-weight="normal" fill="#000" text-anchor="end" >4000</text>
<line x1="94.2" y1="421.2" x2="97.7" y2="421.2" stroke="#333" stroke-width="1.2"/>
<text x="91.9" y="350.2" font-family='"DejaVu Sans", "Liberation Sans", sans-serif' font-size="19" font-weight="normal" fill="#000" text-anchor="end" >5000</text>
<line x1="94.2" y1="343.2" x2="97.7" y2="343.2" stroke="#333" stroke-width="1.2"/>
<text x="873.7" y="740" font-family='"DejaVu Sans", "Liberation Sans", sans-serif' font-size="19" font-weight="normal" fill="#118811" text-anchor="start" >0</text>
<line x1="867.7" y1="733" x2="871.2" y2="733" stroke="#333" stroke-width="1.2"/>
<text x="873.7" y="662" font-family='"DejaVu Sans", "Liberation Sans", sans-serif' font-size="19" font-weight="normal" fill="#118811" text-anchor="start" >200</text>
<line x1="867.7" y1="655" x2="871.2" y2="655" stroke="#333" stroke-width="1.2"/>
<text x="873.7" y="584.1" font-family='"DejaVu Sans", "Liberation Sans", sans-serif' font-size="19" font-weight="normal" fill="#118811" text-anchor="start" >400</text>
<line x1="867.7" y1="577.1" x2="871.2" y2="577.1" stroke="#333" stroke-width="1.2"/>
<text x="873.7" y="506.1" font-family='"DejaVu Sans", "Liberation Sans", sans-serif' font-size="19" font-weight="normal" fill="#118811" text-anchor="start" >600</text>
<line x1="867.7" y1="499.1" x2="871.2" y2="499.1" stroke="#333" stroke-width="1.2"/>
<text x="873.7" y="428.2" font-family='"DejaVu Sans", "Liberation Sans", sans-serif' font-size="19" font-weight="normal" fill="#118811" text-anchor="start" >800</text>
<line x1="867.7" y1="421.2" x2="871.2" y2="421.2" stroke="#333" stroke-width="1.2"/>
<text x="873.7" y="350.2" font-family='"DejaVu Sans", "Liberation Sans", sans-serif' font-size="19" font-weight="normal" fill="#118811" text-anchor="start" >1000</text>
<line x1="867.7" y1="343.2" x2="871.2" y2="343.2" stroke="#333" stroke-width="1.2"/>
<text x="112.6" y="752.8" font-family='"DejaVu Sans", "Liberation Sans", sans-serif' font-size="19" font-weight="normal" fill="#000" text-anchor="middle" >0</text>
<line x1="112.6" y1="733" x2="112.6" y2="736.5" stroke="#333" stroke-width="1.2"/>
<text x="174.9" y="752.8" font-family='"DejaVu Sans", "Liberation Sans", sans-serif' font-size="19" font-weight="normal" fill="#000" text-anchor="middle" >2</text>
<line x1="174.9" y1="733" x2="174.9" y2="736.5" stroke="#333" stroke-width="1.2"/>
<text x="237.2" y="752.8" font-family='"DejaVu Sans", "Liberation Sans", sans-serif' font-size="19" font-weight="normal" fill="#000" text-anchor="middle" >4</text>
<line x1="237.2" y1="733" x2="237.2" y2="736.5" stroke="#333" stroke-width="1.2"/>
<text x="299.5" y="752.8" font-family='"DejaVu Sans", "Liberation Sans", sans-serif' font-size="19" font-weight="normal" fill="#000" text-anchor="middle" >6</text>
<line x1="299.5" y1="733" x2="299.5" y2="736.5" stroke="#333" stroke-width="1.2"/>
<text x="361.8" y="752.8" font-family='"DejaVu Sans", "Liberation Sans", sans-serif' font-size="19" font-weight="normal" fill="#000" text-anchor="middle" >8</text>
<line x1="361.8" y1="733" x2="361.8" y2="736.5" stroke="#333" stroke-width="1.2"/>
<text x="424.1" y="752.8" font-family='"DejaVu Sans", "Liberation Sans", sans-serif' font-size="19" font-weight="normal" fill="#000" text-anchor="middle" >10</text>
<line x1="424.1" y1="733" x2="424.1" y2="736.5" stroke="#333" stroke-width="1.2"/>
<text x="486.4" y="752.8" font-family='"DejaVu Sans", "Liberation Sans", sans-serif' font-size="19" font-weight="normal" fill="#000" text-anchor="middle" >12</text>
<line x1="486.4" y1="733" x2="486.4" y2="736.5" stroke="#333" stroke-width="1.2"/>
<text x="548.7" y="752.8" font-family='"DejaVu Sans", "Liberation Sans", sans-serif' font-size="19" font-weight="normal" fill="#000" text-anchor="middle" >14</text>
<line x1="548.7" y1="733" x2="548.7" y2="736.5" stroke="#333" stroke-width="1.2"/>
<text x="611" y="752.8" font-family='"DejaVu Sans", "Liberation Sans", sans-serif' font-size="19" font-weight="normal" fill="#000" text-anchor="middle" >16</text>
<line x1="611" y1="733" x2="611" y2="736.5" stroke="#333" stroke-width="1.2"/>
<text x="673.3" y="752.8" font-family='"DejaVu Sans", "Liberation Sans", sans-serif' font-size="19" font-weight="normal" fill="#000" text-anchor="middle" >18</text>
<line x1="673.3" y1="733" x2="673.3" y2="736.5" stroke="#333" stroke-width="1.2"/>
<text x="735.6" y="752.8" font-family='"DejaVu Sans", "Liberation Sans", sans-serif' font-size="19" font-weight="normal" fill="#000" text-anchor="middle" >20</text>
<line x1="735.6" y1="733" x2="735.6" y2="736.5" stroke="#333" stroke-width="1.2"/>
<text x="797.9" y="752.8" font-family='"DejaVu Sans", "Liberation Sans", sans-serif' font-size="19" font-weight="normal" fill="#000" text-anchor="middle" >22</text>
<line x1="797.9" y1="733" x2="797.9" y2="736.5" stroke="#333" stroke-width="1.2"/>
<text x="483.2" y="777.8" font-family='"DejaVu Sans", "Liberation Sans", sans-serif' font-size="22.5" font-weight="normal" fill="#000" text-anchor="middle" >MLT</text>
<text x="483.2" y="337.2" font-family='"DejaVu Sans", "Liberation Sans", sans-serif' font-size="26.5" font-weight="bold" fill="#000" text-anchor="middle" >March Equinox</text>
<text transform="translate(35.7,536.1) rotate(-90)" font-family='"DejaVu Sans", "Liberation Sans", sans-serif' font-size="22.5" text-anchor="middle"><tspan font-style="italic">T</tspan><tspan font-size="16" dy="4">e</tspan><tspan dy="-4"> (K)</tspan></text>
<rect x="639.7" y="353.2" width="218" height="119" rx="3" fill="#ffffff" fill-opacity="0.8" stroke="#d6d6d6" stroke-width="1"/>
<line x1="646.7" y1="368.2" x2="685.7" y2="368.2" stroke="#ff0000" stroke-width="2"/>
<text x="700.7" y="375.2" font-family='"DejaVu Sans", "Liberation Sans", sans-serif' font-size="19" font-weight="normal" fill="#000" text-anchor="start" >ISR</text>
<line x1="646.7" y1="396.9" x2="685.7" y2="396.9" stroke="#00ee00" stroke-width="2"/>
<text x="700.7" y="403.9" font-family='"DejaVu Sans", "Liberation Sans", sans-serif' font-size="19" font-weight="normal" fill="#000" text-anchor="start" >Swarm</text>
<line x1="646.7" y1="425.6" x2="685.7" y2="425.6" stroke="#000000" stroke-width="2"/>
<text x="700.7" y="432.6" font-family='"DejaVu Sans", "Liberation Sans", sans-serif' font-size="19" font-weight="normal" fill="#000" text-anchor="start" >Swarm Lomidze</text>
<line x1="646.7" y1="454.3" x2="685.7" y2="454.3" stroke="#ffa500" stroke-width="2"/>
<text x="700.7" y="461.3" font-family='"DejaVu Sans", "Liberation Sans", sans-serif' font-size="19" font-weight="normal" fill="#000" text-anchor="start" >IRI</text>
<text x="1016" y="740" font-family='"DejaVu Sans", "Liberation Sans", sans-serif' font-size="19" font-weight="normal" fill="#000" text-anchor="end" >0</text>
<line x1="1018.3" y1="733" x2="1021.8" y2="733" stroke="#333" stroke-width="1.2"/>
<text x="1016" y="662" font-family='"DejaVu Sans", "Liberation Sans", sans-serif' font-size="19" font-weight="normal" fill="#000" text-anchor="end" >1000</text>
<line x1="1018.3" y1="655" x2="1021.8" y2="655" stroke="#333" stroke-width="1.2"/>
<text x="1016" y="584.1" font-family='"DejaVu Sans", "Liberation Sans", sans-serif' font-size="19" font-weight="normal" fill="#000" text-anchor="end" >2000</text>
<line x1="1018.3" y1="577.1" x2="1021.8" y2="577.1" stroke="#333" stroke-width="1.2"/>
<text x="1016" y="506.1" font-family='"DejaVu Sans", "Liberation Sans", sans-serif' font-size="19" font-weight="normal" fill="#000" text-anchor="end" >3000</text>
<line x1="1018.3" y1="499.1" x2="1021.8" y2="499.1" stroke="#333" stroke-width="1.2"/>
<text x="1016" y="428.2" font-family='"DejaVu Sans", "Liberation Sans", sans-serif' font-size="19" font-weight="normal" fill="#000" text-anchor="end" >4000</text>
<line x1="1018.3" y1="421.2" x2="1021.8" y2="421.2" stroke="#333" stroke-width="1.2"/>
<text x="1016" y="350.2" font-family='"DejaVu Sans", "Liberation Sans", sans-serif' font-size="19" font-weight="normal" fill="#000" text-anchor="end" >5000</text>
<line x1="1018.3" y1="343.2" x2="1021.8" y2="343.2" stroke="#333" stroke-width="1.2"/>
<text x="1797.8" y="740" font-family='"DejaVu Sans", "Liberation Sans", sans-serif' font-size="19" font-weight="normal" fill="#118811" text-anchor="start" >0</text>
<line x1="1791.8" y1="733" x2="1795.3" y2="733" stroke="#333" stroke-width="1.2"/>
<text x="1797.8" y="662" font-family='"DejaVu Sans", "Liberation Sans", sans-serif' font-size="19" font-weight="normal" fill="#118811" text-anchor="start" >200</text>
<line x1="1791.8" y1="655" x2="1795.3" y2="655" stroke="#333" stroke-width="1.2"/>
<text x="1797.8" y="584.1" font-family='"DejaVu Sans", "Liberation Sans", sans-serif' font-size="19" font-weight="normal" fill="#118811" text-anchor="start" >400</text>
<line x1="1791.8" y1="577.1" x2="1795.3" y2="577.1" stroke="#333" stroke-width="1.2"/>
<text x="1797.8" y="506.1" font-family='"DejaVu Sans", "Liberation Sans", sans-serif' font-size="19" font-weight="normal" fill="#118811" text-anchor="start" >600</text>
<line x1="1791.8" y1="499.1" x2="1795.3" y2="499.1" stroke="#333" stroke-width="1.2"/>
<text x="1797.8" y="428.2" font-family='"DejaVu Sans", "Liberation Sans", sans-serif' font-size="19" font-weight="normal" fill="#118811" text-anchor="start" >800</text>
<line x1="1791.8" y1="421.2" x2="1795.3" y2="421.2" stroke="#333" stroke-width="1.2"/>
<text x="1797.8" y="350.2" font-family='"DejaVu Sans", "Liberation Sans", sans-serif' font-size="19" font-weight="normal" fill="#118811" text-anchor="start" >1000</text>
<line x1="1791.8" y1="343.2" x2="1795.3" y2="343.2" stroke="#333" stroke-width="1.2"/>
<text x="1036.7" y="752.8" font-family='"DejaVu Sans", "Liberation Sans", sans-serif' font-size="19" font-weight="normal" fill="#000" text-anchor="middle" >0</text>
<line x1="1036.7" y1="733" x2="1036.7" y2="736.5" stroke="#333" stroke-width="1.2"/>
<text x="1099" y="752.8" font-family='"DejaVu Sans", "Liberation Sans", sans-serif' font-size="19" font-weight="normal" fill="#000" text-anchor="middle" >2</text>
<line x1="1099" y1="733" x2="1099" y2="736.5" stroke="#333" stroke-width="1.2"/>
<text x="1161.3" y="752.8" font-family='"DejaVu Sans", "Liberation Sans", sans-serif' font-size="19" font-weight="normal" fill="#000" text-anchor="middle" >4</text>
<line x1="1161.3" y1="733" x2="1161.3" y2="736.5" stroke="#333" stroke-width="1.2"/>
<text x="1223.6" y="752.8" font-family='"DejaVu Sans", "Liberation Sans", sans-serif' font-size="19" font-weight="normal" fill="#000" text-anchor="middle" >6</text>
<line x1="1223.6" y1="733" x2="1223.6" y2="736.5" stroke="#333" stroke-width="1.2"/>
<text x="1285.9" y="752.8" font-family='"DejaVu Sans", "Liberation Sans", sans-serif' font-size="19" font-weight="normal" fill="#000" text-anchor="middle" >8</text>
<line x1="1285.9" y1="733" x2="1285.9" y2="736.5" stroke="#333" stroke-width="1.2"/>
<text x="1348.2" y="752.8" font-family='"DejaVu Sans", "Liberation Sans", sans-serif' font-size="19" font-weight="normal" fill="#000" text-anchor="middle" >10</text>
<line x1="1348.2" y1="733" x2="1348.2" y2="736.5" stroke="#333" stroke-width="1.2"/>
<text x="1410.5" y="752.8" font-family='"DejaVu Sans", "Liberation Sans", sans-serif' font-size="19" font-weight="normal" fill="#000" text-anchor="middle" >12</text>
<line x1="1410.5" y1="733" x2="1410.5" y2="736.5" stroke="#333" stroke-width="1.2"/>
<text x="1472.8" y="752.8" font-family='"DejaVu Sans", "Liberation Sans", sans-serif' font-size="19" font-weight="normal" fill="#000" text-anchor="middle" >14</text>
<line x1="1472.8" y1="733" x2="1472.8" y2="736.5" stroke="#333" stroke-width="1.2"/>
<text x="1535.1" y="752.8" font-family='"DejaVu Sans", "Liberation Sans", sans-serif' font-size="19" font-weight="normal" fill="#000" text-anchor="middle" >16</text>
<line x1="1535.1" y1="733" x2="1535.1" y2="736.5" stroke="#333" stroke-width="1.2"/>
<text x="1597.4" y="752.8" font-family='"DejaVu Sans", "Liberation Sans", sans-serif' font-size="19" font-weight="normal" fill="#000" text-anchor="middle" >18</text>
<line x1="1597.4" y1="733" x2="1597.4" y2="736.5" stroke="#333" stroke-width="1.2"/>
<text x="1659.7" y="752.8" font-family='"DejaVu Sans", "Liberation Sans", sans-serif' font-size="19" font-weight="normal" fill="#000" text-anchor="middle" >20</text>
<line x1="1659.7" y1="733" x2="1659.7" y2="736.5" stroke="#333" stroke-width="1.2"/>
<text x="1722" y="752.8" font-family='"DejaVu Sans", "Liberation Sans", sans-serif' font-size="19" font-weight="normal" fill="#000" text-anchor="middle" >22</text>
<line x1="1722" y1="733" x2="1722" y2="736.5" stroke="#333" stroke-width="1.2"/>
<text x="1407.3" y="777.8" font-family='"DejaVu Sans", "Liberation Sans", sans-serif' font-size="22.5" font-weight="normal" fill="#000" text-anchor="middle" >MLT</text>
<text x="1407.3" y="337.2" font-family='"DejaVu Sans", "Liberation Sans", sans-serif' font-size="26.5" font-weight="bold" fill="#000" text-anchor="middle" >June Solstice</text>
<text transform="translate(1866.8,537.6) rotate(-90)" font-family='"DejaVu Sans", "Liberation Sans", sans-serif' font-size="23" fill="#118811" text-anchor="middle">Counts in bin</text>
<rect x="1563.8" y="353.2" width="218" height="119" rx="3" fill="#ffffff" fill-opacity="0.8" stroke="#d6d6d6" stroke-width="1"/>
<line x1="1570.8" y1="368.2" x2="1609.8" y2="368.2" stroke="#ff0000" stroke-width="2"/>
<text x="1624.8" y="375.2" font-family='"DejaVu Sans", "Liberation Sans", sans-serif' font-size="19" font-weight="normal" fill="#000" text-anchor="start" >ISR</text>
<line x1="1570.8" y1="396.9" x2="1609.8" y2="396.9" stroke="#00ee00" stroke-width="2"/>
<text x="1624.8" y="403.9" font-family='"DejaVu Sans", "Liberation Sans", sans-serif' font-size="19" font-weight="normal" fill="#000" text-anchor="start" >Swarm</text>
<line x1="1570.8" y1="425.6" x2="1609.8" y2="425.6" stroke="#000000" stroke-width="2"/>
<text x="1624.8" y="432.6" font-family='"DejaVu Sans", "Liberation Sans", sans-serif' font-size="19" font-weight="normal" fill="#000" text-anchor="start" >Swarm Lomidze</text>
<line x1="1570.8" y1="454.3" x2="1609.8" y2="454.3" stroke="#ffa500" stroke-width="2"/>
<text x="1624.8" y="461.3" font-family='"DejaVu Sans", "Liberation Sans", sans-serif' font-size="19" font-weight="normal" fill="#000" text-anchor="start" >IRI</text>
<text x="91.9" y="1208.5" font-family='"DejaVu Sans", "Liberation Sans", sans-serif' font-size="19" font-weight="normal" fill="#000" text-anchor="end" >0</text>
<line x1="94.2" y1="1201.5" x2="97.7" y2="1201.5" stroke="#333" stroke-width="1.2"/>
<text x="91.9" y="1130.5" font-family='"DejaVu Sans", "Liberation Sans", sans-serif' font-size="19" font-weight="normal" fill="#000" text-anchor="end" >1000</text>
<line x1="94.2" y1="1123.5" x2="97.7" y2="1123.5" stroke="#333" stroke-width="1.2"/>
<text x="91.9" y="1052.6" font-family='"DejaVu Sans", "Liberation Sans", sans-serif' font-size="19" font-weight="normal" fill="#000" text-anchor="end" >2000</text>
<line x1="94.2" y1="1045.6" x2="97.7" y2="1045.6" stroke="#333" stroke-width="1.2"/>
<text x="91.9" y="974.6" font-family='"DejaVu Sans", "Liberation Sans", sans-serif' font-size="19" font-weight="normal" fill="#000" text-anchor="end" >3000</text>
<line x1="94.2" y1="967.6" x2="97.7" y2="967.6" stroke="#333" stroke-width="1.2"/>
<text x="91.9" y="896.7" font-family='"DejaVu Sans", "Liberation Sans", sans-serif' font-size="19" font-weight="normal" fill="#000" text-anchor="end" >4000</text>
<line x1="94.2" y1="889.7" x2="97.7" y2="889.7" stroke="#333" stroke-width="1.2"/>
<text x="91.9" y="818.7" font-family='"DejaVu Sans", "Liberation Sans", sans-serif' font-size="19" font-weight="normal" fill="#000" text-anchor="end" >5000</text>
<line x1="94.2" y1="811.7" x2="97.7" y2="811.7" stroke="#333" stroke-width="1.2"/>
<text x="873.7" y="1208.5" font-family='"DejaVu Sans", "Liberation Sans", sans-serif' font-size="19" font-weight="normal" fill="#118811" text-anchor="start" >0</text>
<line x1="867.7" y1="1201.5" x2="871.2" y2="1201.5" stroke="#333" stroke-width="1.2"/>
<text x="873.7" y="1130.5" font-family='"DejaVu Sans", "Liberation Sans", sans-serif' font-size="19" font-weight="normal" fill="#118811" text-anchor="start" >200</text>
<line x1="867.7" y1="1123.5" x2="871.2" y2="1123.5" stroke="#333" stroke-width="1.2"/>
<text x="873.7" y="1052.6" font-family='"DejaVu Sans", "Liberation Sans", sans-serif' font-size="19" font-weight="normal" fill="#118811" text-anchor="start" >400</text>
<line x1="867.7" y1="1045.6" x2="871.2" y2="1045.6" stroke="#333" stroke-width="1.2"/>
<text x="873.7" y="974.6" font-family='"DejaVu Sans", "Liberation Sans", sans-serif' font-size="19" font-weight="normal" fill="#118811" text-anchor="start" >600</text>
<line x1="867.7" y1="967.6" x2="871.2" y2="967.6" stroke="#333" stroke-width="1.2"/>
<text x="873.7" y="896.7" font-family='"DejaVu Sans", "Liberation Sans", sans-serif' font-size="19" font-weight="normal" fill="#118811" text-anchor="start" >800</text>
<line x1="867.7" y1="889.7" x2="871.2" y2="889.7" stroke="#333" stroke-width="1.2"/>
<text x="873.7" y="818.7" font-family='"DejaVu Sans", "Liberation Sans", sans-serif' font-size="19" font-weight="normal" fill="#118811" text-anchor="start" >1000</text>
<line x1="867.7" y1="811.7" x2="871.2" y2="811.7" stroke="#333" stroke-width="1.2"/>
<text x="112.6" y="1221.3" font-family='"DejaVu Sans", "Liberation Sans", sans-serif' font-size="19" font-weight="normal" fill="#000" text-anchor="middle" >0</text>
<line x1="112.6" y1="1201.5" x2="112.6" y2="1205" stroke="#333" stroke-width="1.2"/>
<text x="174.9" y="1221.3" font-family='"DejaVu Sans", "Liberation Sans", sans-serif' font-size="19" font-weight="normal" fill="#000" text-anchor="middle" >2</text>
<line x1="174.9" y1="1201.5" x2="174.9" y2="1205" stroke="#333" stroke-width="1.2"/>
<text x="237.2" y="1221.3" font-family='"DejaVu Sans", "Liberation Sans", sans-serif' font-size="19" font-weight="normal" fill="#000" text-anchor="middle" >4</text>
<line x1="237.2" y1="1201.5" x2="237.2" y2="1205" stroke="#333" stroke-width="1.2"/>
<text x="299.5" y="1221.3" font-family='"DejaVu Sans", "Liberation Sans", sans-serif' font-size="19" font-weight="normal" fill="#000" text-anchor="middle" >6</text>
<line x1="299.5" y1="1201.5" x2="299.5" y2="1205" stroke="#333" stroke-width="1.2"/>
<text x="361.8" y="1221.3" font-family='"DejaVu Sans", "Liberation Sans", sans-serif' font-size="19" font-weight="normal" fill="#000" text-anchor="middle" >8</text>
<line x1="361.8" y1="1201.5" x2="361.8" y2="1205" stroke="#333" stroke-width="1.2"/>
<text x="424.1" y="1221.3" font-family='"DejaVu Sans", "Liberation Sans", sans-serif' font-size="19" font-weight="normal" fill="#000" text-anchor="middle" >10</text>
<line x1="424.1" y1="1201.5" x2="424.1" y2="1205" stroke="#333" stroke-width="1.2"/>
<text x="486.4" y="1221.3" font-family='"DejaVu Sans", "Liberation Sans", sans-serif' font-size="19" font-weight="normal" fill="#000" text-anchor="middle" >12</text>
<line x1="486.4" y1="1201.5" x2="486.4" y2="1205" stroke="#333" stroke-width="1.2"/>
<text x="548.7" y="1221.3" font-family='"DejaVu Sans", "Liberation Sans", sans-serif' font-size="19" font-weight="normal" fill="#000" text-anchor="middle" >14</text>
<line x1="548.7" y1="1201.5" x2="548.7" y2="1205" stroke="#333" stroke-width="1.2"/>
<text x="611" y="1221.3" font-family='"DejaVu Sans", "Liberation Sans", sans-serif' font-size="19" font-weight="normal" fill="#000" text-anchor="middle" >16</text>
<line x1="611" y1="1201.5" x2="611" y2="1205" stroke="#333" stroke-width="1.2"/>
<text x="673.3" y="1221.3" font-family='"DejaVu Sans", "Liberation Sans", sans-serif' font-size="19" font-weight="normal" fill="#000" text-anchor="middle" >18</text>
<line x1="673.3" y1="1201.5" x2="673.3" y2="1205" stroke="#333" stroke-width="1.2"/>
<text x="735.6" y="1221.3" font-family='"DejaVu Sans", "Liberation Sans", sans-serif' font-size="19" font-weight="normal" fill="#000" text-anchor="middle" >20</text>
<line x1="735.6" y1="1201.5" x2="735.6" y2="1205" stroke="#333" stroke-width="1.2"/>
<text x="797.9" y="1221.3" font-family='"DejaVu Sans", "Liberation Sans", sans-serif' font-size="19" font-weight="normal" fill="#000" text-anchor="middle" >22</text>
<line x1="797.9" y1="1201.5" x2="797.9" y2="1205" stroke="#333" stroke-width="1.2"/>
<text x="483.2" y="1246.3" font-family='"DejaVu Sans", "Liberation Sans", sans-serif' font-size="22.5" font-weight="normal" fill="#000" text-anchor="middle" >MLT</text>
<text x="483.2" y="805.7" font-family='"DejaVu Sans", "Liberation Sans", sans-serif' font-size="26.5" font-weight="bold" fill="#000" text-anchor="middle" >September Equinox</text>
<text transform="translate(35.7,1004.6) rotate(-90)" font-family='"DejaVu Sans", "Liberation Sans", sans-serif' font-size="22.5" text-anchor="middle"><tspan font-style="italic">T</tspan><tspan font-size="16" dy="4">e</tspan><tspan dy="-4"> (K)</tspan></text>
<rect x="639.7" y="821.7" width="218" height="119" rx="3" fill="#ffffff" fill-opacity="0.8" stroke="#d6d6d6" stroke-width="1"/>
<line x1="646.7" y1="836.7" x2="685.7" y2="836.7" stroke="#ff0000" stroke-width="2"/>
<text x="700.7" y="843.7" font-family='"DejaVu Sans", "Liberation Sans", sans-serif' font-size="19" font-weight="normal" fill="#000" text-anchor="start" >ISR</text>
<line x1="646.7" y1="865.4" x2="685.7" y2="865.4" stroke="#00ee00" stroke-width="2"/>
<text x="700.7" y="872.4" font-family='"DejaVu Sans", "Liberation Sans", sans-serif' font-size="19" font-weight="normal" fill="#000" text-anchor="start" >Swarm</text>
<line x1="646.7" y1="894.1" x2="685.7" y2="894.1" stroke="#000000" stroke-width="2"/>
<text x="700.7" y="901.1" font-family='"DejaVu Sans", "Liberation Sans", sans-serif' font-size="19" font-weight="normal" fill="#000" text-anchor="start" >Swarm Lomidze</text>
<line x1="646.7" y1="922.8" x2="685.7" y2="922.8" stroke="#ffa500" stroke-width="2"/>
<text x="700.7" y="929.8" font-family='"DejaVu Sans", "Liberation Sans", sans-serif' font-size="19" font-weight="normal" fill="#000" text-anchor="start" >IRI</text>
<text x="1016" y="1208.5" font-family='"DejaVu Sans", "Liberation Sans", sans-serif' font-size="19" font-weight="normal" fill="#000" text-anchor="end" >0</text>
<line x1="1018.3" y1="1201.5" x2="1021.8" y2="1201.5" stroke="#333" stroke-width="1.2"/>
<text x="1016" y="1130.5" font-family='"DejaVu Sans", "Liberation Sans", sans-serif' font-size="19" font-weight="normal" fill="#000" text-anchor="end" >1000</text>
<line x1="1018.3" y1="1123.5" x2="1021.8" y2="1123.5" stroke="#333" stroke-width="1.2"/>
<text x="1016" y="1052.6" font-family='"DejaVu Sans", "Liberation Sans", sans-serif' font-size="19" font-weight="normal" fill="#000" text-anchor="end" >2000</text>
<line x1="1018.3" y1="1045.6" x2="1021.8" y2="1045.6" stroke="#333" stroke-width="1.2"/>
<text x="1016" y="974.6" font-family='"DejaVu Sans", "Liberation Sans", sans-serif' font-size="19" font-weight="normal" fill="#000" text-anchor="end" >3000</text>
<line x1="1018.3" y1="967.6" x2="1021.8" y2="967.6" stroke="#333" stroke-width="1.2"/>
<text x="1016" y="896.7" font-family='"DejaVu Sans", "Liberation Sans", sans-serif' font-size="19" font-weight="normal" fill="#000" text-anchor="end" >4000</text>
<line x1="1018.3" y1="889.7" x2="1021.8" y2="889.7" stroke="#333" stroke-width="1.2"/>
<text x="1016" y="818.7" font-family='"DejaVu Sans", "Liberation Sans", sans-serif' font-size="19" font-weight="normal" fill="#000" text-anchor="end" >5000</text>
<line x1="1018.3" y1="811.7" x2="1021.8" y2="811.7" stroke="#333" stroke-width="1.2"/>
<text x="1797.8" y="1208.5" font-family='"DejaVu Sans", "Liberation Sans", sans-serif' font-size="19" font-weight="normal" fill="#118811" text-anchor="start" >0</text>
<line x1="1791.8" y1="1201.5" x2="1795.3" y2="1201.5" stroke="#333" stroke-width="1.2"/>
<text x="1797.8" y="1130.5" font-family='"DejaVu Sans", "Liberation Sans", sans-serif' font-size="19" font-weight="normal" fill="#118811" text-anchor="start" >200</text>
<line x1="1791.8" y1="1123.5" x2="1795.3" y2="1123.5" stroke="#333" stroke-width="1.2"/>
<text x="1797.8" y="1052.6" font-family='"DejaVu Sans", "Liberation Sans", sans-serif' font-size="19" font-weight="normal" fill="#118811" text-anchor="start" >400</text>
<line x1="1791.8" y1="1045.6" x2="1795.3" y2="1045.6" stroke="#333" stroke-width="1.2"/>
<text x="1797.8" y="974.6" font-family='"DejaVu Sans", "Liberation Sans", sans-serif' font-size="19" font-weight="normal" fill="#118811" text-anchor="start" >600</text>
<line x1="1791.8" y1="967.6" x2="1795.3" y2="967.6" stroke="#333" stroke-width="1.2"/>
<text x="1797.8" y="896.7" font-family='"DejaVu Sans", "Liberation Sans", sans-serif' font-size="19" font-weight="normal" fill="#118811" text-anchor="start" >800</text>
<line x1="1791.8" y1="889.7" x2="1795.3" y2="889.7" stroke="#333" stroke-width="1.2"/>
<text x="1797.8" y="818.7" font-family='"DejaVu Sans", "Liberation Sans", sans-serif' font-size="19" font-weight="normal" fill="#118811" text-anchor="start" >1000</text>
<line x1="1791.8" y1="811.7" x2="1795.3" y2="811.7" stroke="#333" stroke-width="1.2"/>
<text x="1025" y="1221.3" font-family='"DejaVu Sans", "Liberation Sans", sans-serif' font-size="19" font-weight="normal" fill="#000" text-anchor="middle" >0</text>
<line x1="1025" y1="1201.5" x2="1025" y2="1205" stroke="#333" stroke-width="1.2"/>
<text x="1088.7" y="1221.3" font-family='"DejaVu Sans", "Liberation Sans", sans-serif' font-size="19" font-weight="normal" fill="#000" text-anchor="middle" >2</text>
<line x1="1088.7" y1="1201.5" x2="1088.7" y2="1205" stroke="#333" stroke-width="1.2"/>
<text x="1152.4" y="1221.3" font-family='"DejaVu Sans", "Liberation Sans", sans-serif' font-size="19" font-weight="normal" fill="#000" text-anchor="middle" >4</text>
<line x1="1152.4" y1="1201.5" x2="1152.4" y2="1205" stroke="#333" stroke-width="1.2"/>
<text x="1216.1" y="1221.3" font-family='"DejaVu Sans", "Liberation Sans", sans-serif' font-size="19" font-weight="normal" fill="#000" text-anchor="middle" >6</text>
<line x1="1216.1" y1="1201.5" x2="1216.1" y2="1205" stroke="#333" stroke-width="1.2"/>
<text x="1279.8" y="1221.3" font-family='"DejaVu Sans", "Liberation Sans", sans-serif' font-size="19" font-weight="normal" fill="#000" text-anchor="middle" >8</text>
<line x1="1279.8" y1="1201.5" x2="1279.8" y2="1205" stroke="#333" stroke-width="1.2"/>
<text x="1343.5" y="1221.3" font-family='"DejaVu Sans", "Liberation Sans", sans-serif' font-size="19" font-weight="normal" fill="#000" text-anchor="middle" >10</text>
<line x1="1343.5" y1="1201.5" x2="1343.5" y2="1205" stroke="#333" stroke-width="1.2"/>
<text x="1407.2" y="1221.3" font-family='"DejaVu Sans", "Liberation Sans", sans-serif' font-size="19" font-weight="normal" fill="#000" text-anchor="middle" >12</text>
<line x1="1407.2" y1="1201.5" x2="1407.2" y2="1205" stroke="#333" stroke-width="1.2"/>
<text x="1470.9" y="1221.3" font-family='"DejaVu Sans", "Liberation Sans", sans-serif' font-size="19" font-weight="normal" fill="#000" text-anchor="middle" >14</text>
<line x1="1470.9" y1="1201.5" x2="1470.9" y2="1205" stroke="#333" stroke-width="1.2"/>
<text x="1534.6" y="1221.3" font-family='"DejaVu Sans", "Liberation Sans", sans-serif' font-size="19" font-weight="normal" fill="#000" text-anchor="middle" >16</text>
<line x1="1534.6" y1="1201.5" x2="1534.6" y2="1205" stroke="#333" stroke-width="1.2"/>
<text x="1598.3" y="1221.3" font-family='"DejaVu Sans", "Liberation Sans", sans-serif' font-size="19" font-weight="normal" fill="#000" text-anchor="middle" >18</text>
<line x1="1598.3" y1="1201.5" x2="1598.3" y2="1205" stroke="#333" stroke-width="1.2"/>
<text x="1662" y="1221.3" font-family='"DejaVu Sans", "Liberation Sans", sans-serif' font-size="19" font-weight="normal" fill="#000" text-anchor="middle" >20</text>
<line x1="1662" y1="1201.5" x2="1662" y2="1205" stroke="#333" stroke-width="1.2"/>
<text x="1725.7" y="1221.3" font-family='"DejaVu Sans", "Liberation Sans", sans-serif' font-size="19" font-weight="normal" fill="#000" text-anchor="middle" >22</text>
<line x1="1725.7" y1="1201.5" x2="1725.7" y2="1205" stroke="#333" stroke-width="1.2"/>
<text x="1407.3" y="1246.3" font-family='"DejaVu Sans", "Liberation Sans", sans-serif' font-size="22.5" font-weight="normal" fill="#000" text-anchor="middle" >MLT</text>
<text x="1407.3" y="805.7" font-family='"DejaVu Sans", "Liberation Sans", sans-serif' font-size="26.5" font-weight="bold" fill="#000" text-anchor="middle" >December Solstice</text>
<text transform="translate(1866.8,1006.1) rotate(-90)" font-family='"DejaVu Sans", "Liberation Sans", sans-serif' font-size="23" fill="#118811" text-anchor="middle">Counts in bin</text>
<rect x="1563.8" y="821.7" width="218" height="119" rx="3" fill="#ffffff" fill-opacity="0.8" stroke="#d6d6d6" stroke-width="1"/>
<line x1="1570.8" y1="836.7" x2="1609.8" y2="836.7" stroke="#ff0000" stroke-width="2"/>
<text x="1624.8" y="843.7" font-family='"DejaVu Sans", "Liberation Sans", sans-serif' font-size="19" font-weight="normal" fill="#000" text-anchor="start" >ISR</text>
<line x1="1570.8" y1="865.4" x2="1609.8" y2="865.4" stroke="#00ee00" stroke-width="2"/>
<text x="1624.8" y="872.4" font-family='"DejaVu Sans", "Liberation Sans", sans-serif' font-size="19" font-weight="normal" fill="#000" text-anchor="start" >Swarm</text>
<line x1="1570.8" y1="894.1" x2="1609.8" y2="894.1" stroke="#000000" stroke-width="2"/>
<text x="1624.8" y="901.1" font-family='"DejaVu Sans", "Liberation Sans", sans-serif' font-size="19" font-weight="normal" fill="#000" text-anchor="start" >Swarm Lomidze</text>
<line x1="1570.8" y1="922.8" x2="1609.8" y2="922.8" stroke="#ffa500" stroke-width="2"/>
<text x="1624.8" y="929.8" font-family='"DejaVu Sans", "Liberation Sans", sans-serif' font-size="19" font-weight="normal" fill="#000" text-anchor="start" >IRI</text>
</svg></body></html>
